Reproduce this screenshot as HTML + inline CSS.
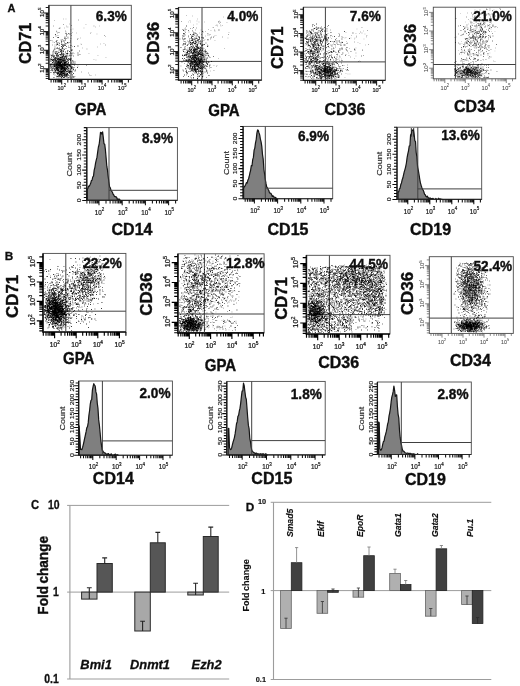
<!DOCTYPE html>
<html><head><meta charset="utf-8"><title>Figure</title>
<style>html,body{margin:0;padding:0;background:#fff}body{width:520px;height:686px;overflow:hidden;font-family:"Liberation Sans",sans-serif}svg{display:block}</style></head>
<body>
<svg width="520" height="686" viewBox="0 0 520 686" font-family='"Liberation Sans", sans-serif'>
<defs><filter id="bl" x="0" y="0" width="100%" height="100%" filterUnits="userSpaceOnUse"><feGaussianBlur stdDeviation="0.38"/></filter></defs>
<rect width="520" height="686" fill="#fff"/>
<g filter="url(#bl)">
<rect x="48.9" y="5.3" width="82.4" height="74.1" fill="#fff" stroke="#4a4a4a" stroke-width="0.9"/>
<path d="M48.9 5.3V79.4H131.3" stroke="#151515" stroke-width="1.3" fill="none"/>
<path d="M70.9 5.3V79.4M48.9 64.5H131.3" stroke="#404040" stroke-width="1" fill="none"/>
<path d="M61.7 79.4v5.0M81.9 79.4v5.0M102.1 79.4v5.0M122.3 79.4v5.0M51.1 79.4v3.2M53.7 79.4v3.2M55.6 79.4v3.2M57.2 79.4v3.2M58.6 79.4v3.2M59.7 79.4v3.2M60.8 79.4v3.2M67.8 79.4v3.2M71.3 79.4v3.2M73.9 79.4v3.2M75.8 79.4v3.2M77.4 79.4v3.2M78.8 79.4v3.2M79.9 79.4v3.2M81 79.4v3.2M88 79.4v3.2M91.5 79.4v3.2M94.1 79.4v3.2M96 79.4v3.2M97.6 79.4v3.2M99 79.4v3.2M100.1 79.4v3.2M101.2 79.4v3.2M108.2 79.4v3.2M111.7 79.4v3.2M114.3 79.4v3.2M116.2 79.4v3.2M117.8 79.4v3.2M119.2 79.4v3.2M120.3 79.4v3.2M121.4 79.4v3.2M128.4 79.4v3.2M48.9 68.8h-5.0M48.9 50.2h-5.0M48.9 31.6h-5.0M48.9 13h-5.0M48.9 78.5h-3.2M48.9 76.2h-3.2M48.9 74.4h-3.2M48.9 72.9h-3.2M48.9 71.7h-3.2M48.9 70.6h-3.2M48.9 69.7h-3.2M48.9 63.2h-3.2M48.9 59.9h-3.2M48.9 57.6h-3.2M48.9 55.8h-3.2M48.9 54.3h-3.2M48.9 53.1h-3.2M48.9 52h-3.2M48.9 51.1h-3.2M48.9 44.6h-3.2M48.9 41.3h-3.2M48.9 39h-3.2M48.9 37.2h-3.2M48.9 35.7h-3.2M48.9 34.5h-3.2M48.9 33.4h-3.2M48.9 32.5h-3.2M48.9 26h-3.2M48.9 22.7h-3.2M48.9 20.4h-3.2M48.9 18.6h-3.2M48.9 17.1h-3.2M48.9 15.9h-3.2M48.9 14.8h-3.2M48.9 13.9h-3.2M48.9 7.4h-3.2" stroke="#1a1a1a" stroke-width="1.05" fill="none"/>
<text transform="translate(61.7 90.3) scale(0.9 1)" font-size="6.2" fill="#111" stroke="#111" stroke-width="0.2" text-anchor="middle">10<tspan dy="-2.9" font-size="4.5">2</tspan></text>
<text transform="translate(81.9 90.3) scale(0.9 1)" font-size="6.2" fill="#111" stroke="#111" stroke-width="0.2" text-anchor="middle">10<tspan dy="-2.9" font-size="4.5">3</tspan></text>
<text transform="translate(102.1 90.3) scale(0.9 1)" font-size="6.2" fill="#111" stroke="#111" stroke-width="0.2" text-anchor="middle">10<tspan dy="-2.9" font-size="4.5">4</tspan></text>
<text transform="translate(122.3 90.3) scale(0.9 1)" font-size="6.2" fill="#111" stroke="#111" stroke-width="0.2" text-anchor="middle">10<tspan dy="-2.9" font-size="4.5">5</tspan></text>
<text transform="translate(43.9 68.1) scale(0.9 1) rotate(-90)" font-size="6.2" fill="#111" stroke="#111" stroke-width="0.2" text-anchor="middle">10<tspan dy="-2.9" font-size="4.5">2</tspan></text>
<text transform="translate(43.9 49.5) scale(0.9 1) rotate(-90)" font-size="6.2" fill="#111" stroke="#111" stroke-width="0.2" text-anchor="middle">10<tspan dy="-2.9" font-size="4.5">3</tspan></text>
<text transform="translate(43.9 30.9) scale(0.9 1) rotate(-90)" font-size="6.2" fill="#111" stroke="#111" stroke-width="0.2" text-anchor="middle">10<tspan dy="-2.9" font-size="4.5">4</tspan></text>
<text transform="translate(43.9 12.3) scale(0.9 1) rotate(-90)" font-size="6.2" fill="#111" stroke="#111" stroke-width="0.2" text-anchor="middle">10<tspan dy="-2.9" font-size="4.5">5</tspan></text>
<path d="M62.5 66h.9M55.5 65h.9M57.5 64h.9M51 55.5h.9M56.5 54h.9M60.5 68h.9M55.5 61h.9M59.5 62.5h.9M59 58h.9M63.5 72h.9M69.5 59h.9M57 73.5h.9M64 64h.9M61 77.5h.9M56 69h.9M68.5 71h.9M67 74h.9M68 62.5h.9M59 64h.9M59 67h.9M65.5 62.5h.9M64 65.5h.9M56.5 65.5h.9M65 70.5h.9M61 50.5h.9M63.5 59.5h.9M60 66.5h.9M54 64h.9M58.5 62h.9M60 62.5h.9M61 53.5h.9M62 60.5h.9M61 71.5h.9M61 65.5h.9M59.5 70h.9M63 55.5h.9M62.5 73.5h.9M67.5 61h.9M56.5 67h.9M56 60.5h.9M63.5 68.5h.9M54.5 68.5h.9M50.5 64.5h.9M63.5 70h.9M56.5 68.5h.9M60 65h.9M65.5 74h.9M65 52h.9M67.5 72h.9M61 65h.9M67 76h.9M58.5 67h.9M67.5 60h.9M55.5 65.5h.9M59.5 64h.9M57 56h.9M62.5 60.5h.9M56.5 68h.9M72 67h.9M60 65h.9M59.5 76.5h.9M61 69h.9M63 67.5h.9M59.5 54.5h.9M66.5 71.5h.9M73.5 67.5h.9M55.5 67h.9M56 69h.9M68.5 72.5h.9M61.5 70h.9M59 64.5h.9M51.5 59.5h.9M65.5 62.5h.9M53 72.5h.9M62 76.5h.9M57 70.5h.9M58.5 67h.9M58 61.5h.9M53 61.5h.9M58 56h.9M55.5 63.5h.9M61 69.5h.9M61.5 65.5h.9M59 74.5h.9M57.5 72.5h.9M56.5 76.5h.9M56 62h.9M50 61h.9M62 67.5h.9M62 56.5h.9M58.5 73.5h.9M53.5 66.5h.9M61 72.5h.9M67.5 64.5h.9M61 68.5h.9M55.5 63h.9M58 65.5h.9M55.5 58h.9M59 66h.9M58 65.5h.9M58.5 62.5h.9M64.5 70h.9M54.5 70h.9M68 68.5h.9M64.5 73h.9M62.5 54.5h.9M55 71h.9M62 76h.9M60.5 69.5h.9M60.5 54.5h.9M56 63.5h.9M60 62.5h.9M71 68.5h.9M65.5 67.5h.9M72.5 70h.9M60.5 65.5h.9M68 64h.9M61 59.5h.9M60 70.5h.9M59 75.5h.9M66 61.5h.9M60 59.5h.9M58.5 71h.9M59 72h.9M61 71h.9M58 71h.9M63.5 74.5h.9M58 62h.9M64 64h.9M53 57h.9M72.5 68.5h.9M59 65.5h.9M60.5 72h.9M73.5 77h.9M65.5 69.5h.9M60 51.5h.9M56.5 59h.9M52 70h.9M61.5 68.5h.9M60.5 64.5h.9M57.5 63.5h.9M57.5 59.5h.9M63.5 64h.9M61.5 78h.9M57.5 62.5h.9M69.5 66.5h.9M55.5 62.5h.9M50.5 65h.9M62 71.5h.9M63 71h.9M64 68.5h.9M62 64.5h.9M56.5 55h.9M59 71.5h.9M56.5 64.5h.9M50.5 66.5h.9M60.5 68h.9M55 59.5h.9M65.5 76h.9M61.5 75h.9M60.5 74h.9M73 62h.9M62.5 65.5h.9M62 66.5h.9M65.5 75h.9M57.5 73.5h.9M73 69.5h.9M62 63h.9M61.5 64.5h.9M58 60h.9M56.5 69.5h.9M74.5 71h.9M63.5 71.5h.9M69 65h.9M58.5 69h.9M66.5 71.5h.9M62 67.5h.9M61.5 74.5h.9M57 76.5h.9M65 62.5h.9M61.5 75.5h.9M60.5 63h.9M58.5 67.5h.9M65.5 62h.9M66.5 74h.9M63.5 58h.9M52 62.5h.9M63.5 73.5h.9M60 65h.9M57 68.5h.9M64 68.5h.9M70.5 66.5h.9M60 74h.9M59 62h.9M52.5 56h.9M52.5 54h.9M60.5 69h.9M64 65.5h.9M57 65h.9M54 66.5h.9M59.5 74.5h.9M58 76h.9M68.5 71h.9M55 63h.9M61.5 64.5h.9M53.5 77.5h.9M74 65h.9M58 66h.9M61 72h.9M62.5 69h.9M59.5 66h.9M57.5 62h.9M65.5 60h.9M75 70h.9M65 68h.9M57 68h.9M60.5 66h.9M56.5 64.5h.9M53.5 56.5h.9M57.5 60h.9M59 63h.9M61 66h.9M61.5 62.5h.9M69 73h.9M63.5 76h.9M65.5 65h.9M61 69.5h.9M52.5 62.5h.9M65 56.5h.9M62 64h.9M68.5 69h.9M67.5 75h.9M60 69h.9M61.5 73.5h.9M63.5 70.5h.9M50.5 72.5h.9M64 67.5h.9M74.5 62h.9M66.5 59.5h.9M65.5 74.5h.9M65 69h.9M66 75.5h.9M70.5 71.5h.9M52 60.5h.9M60 66h.9M62.5 67h.9M73 73.5h.9M60.5 67h.9M51.5 66h.9M64.5 60.5h.9M52.5 60.5h.9M63 61h.9M64 73h.9M58 58.5h.9M71.5 78h.9M65.5 56h.9M64.5 63h.9M60 71.5h.9M53.5 65.5h.9M54.5 58h.9M63 59h.9M67.5 62h.9M64 74.5h.9M56 67.5h.9M60 72h.9M60.5 66.5h.9M64 62.5h.9M66.5 56h.9M70 70h.9M64 64h.9M66 68.5h.9M60.5 76h.9M61 72h.9M54 72h.9M77 67.5h.9M58.5 78h.9M69 65.5h.9M57 59.5h.9M66 57h.9M69.5 59.5h.9M60 62h.9M64 63h.9M56.5 53h.9M58.5 65h.9M60.5 76.5h.9M59 64h.9M67 66.5h.9M52.5 52h.9M63.5 67h.9M59 74h.9M66.5 63.5h.9M61 62.5h.9M63.5 70.5h.9M65.5 76h.9M55.5 72.5h.9M50.5 68h.9M61.5 73h.9M59 64h.9M58 64.5h.9M59.5 61h.9M58.5 76h.9M68.5 75.5h.9M50 59h.9M56.5 58.5h.9M58 65h.9M55.5 61h.9M63 51h.9M56.5 64.5h.9M67 67.5h.9M67.5 65.5h.9M64.5 63.5h.9M61.5 56.5h.9M63.5 68.5h.9M61.5 71.5h.9M51.5 64h.9M69 73h.9M68.5 70.5h.9M58.5 61h.9M51.5 59h.9M60 74h.9M56.5 69h.9M62.5 68.5h.9M67 73.5h.9M60 55h.9M65.5 72h.9M64 58.5h.9M54 66.5h.9M54 60h.9M62.5 71.5h.9M68.5 66h.9M65 62h.9M58 62h.9M58 70h.9M57 73h.9M57 63.5h.9M62 59h.9M55 53h.9M59 64h.9M61.5 71h.9M60.5 58h.9M67 65h.9M66.5 71.5h.9M64 69.5h.9M63 73.5h.9M64 70h.9M70 71.5h.9M61 66h.9M57.5 70h.9M59.5 63h.9M69.5 59.5h.9M66 75h.9M71.5 63h.9M61.5 69h.9M64 76h.9M58 72.5h.9M65.5 65h.9M57 65h.9M57 53.5h.9M63 63h.9M62.5 58.5h.9M61 69.5h.9M69 71.5h.9M54 63h.9M53 59.5h.9M64 65h.9M57.5 68h.9M65 70.5h.9M60 57.5h.9M51.5 70h.9M54.5 59h.9M63 55h.9M55 53.5h.9M64.5 38h.9M61 52h.9M61 50h.9M70.5 64h.9M70 53h.9M64.5 64.5h.9M64.5 44h.9M64.5 60.5h.9M74 46.5h.9M69.5 34h.9M62 47.5h.9M62.5 45.5h.9M63.5 57h.9M66.5 53.5h.9M67.5 42.5h.9M51 59.5h.9M71.5 50h.9M66 58.5h.9M57 48h.9M55 34.5h.9M65.5 33.5h.9M56.5 44h.9M56.5 40.5h.9M62 48.5h.9M72 61h.9M54 49h.9M60 50h.9M70.5 45.5h.9M65 40h.9M77.5 46h.9M64.5 38.5h.9M58.5 52.5h.9M61 46.5h.9M61 52h.9M71.5 53.5h.9M58 37.5h.9M53 51h.9M77.5 53h.9M67 42.5h.9M69 51.5h.9M63 62h.9M77.5 55h.9M66.5 56h.9M65.5 43.5h.9M71.5 50h.9M62.5 44.5h.9M66.5 53.5h.9M57 44.5h.9" stroke="#000" stroke-opacity="0.88" stroke-width=".9" fill="none"/>
<path d="M68 65h.9M64 69.5h.9M57 68.5h.9M64.5 65.5h.9M56.5 58h.9M60 57.5h.9M53.5 50h.9M61.5 66h.9M59.5 75h.9M65.5 65h.9M56.5 78h.9M64.5 65h.9M59.5 68.5h.9M55 58.5h.9M53 74h.9M59 65h.9M61.5 69h.9M55.5 67h.9M67 73.5h.9M60.5 57h.9M72.5 64.5h.9M64 67h.9M59 59.5h.9M56.5 68.5h.9M64 73h.9M51.5 68.5h.9M61.5 53.5h.9M54 69.5h.9M71 73h.9M56.5 67h.9M57.5 67.5h.9M63 75.5h.9M54.5 58h.9M60.5 59h.9M58 66h.9M61.5 66h.9M59.5 63h.9M58 64h.9M63 56.5h.9M72.5 77h.9M58 73.5h.9M65.5 65h.9M62 68h.9M60.5 54.5h.9M62.5 72.5h.9M64 62.5h.9M61.5 66h.9M64.5 75.5h.9M54.5 60h.9M64.5 74h.9M61 67h.9M65 65.5h.9M72 76h.9M64 62h.9M60.5 68.5h.9M62.5 70h.9M65.5 65h.9M61.5 65h.9M63 77.5h.9M61 62h.9M60.5 59h.9M71 71.5h.9M64.5 67.5h.9M53.5 64.5h.9M68.5 64.5h.9M59 74.5h.9M57 61.5h.9M60.5 64.5h.9M61.5 68h.9M71.5 67.5h.9M63 70.5h.9M50.5 55h.9M53 68h.9M58.5 58.5h.9M61.5 74.5h.9M62 72h.9M54 56h.9M63 59h.9M55.5 66h.9M65 62.5h.9M64 56.5h.9M58 63.5h.9M65.5 65h.9M60.5 73h.9M60.5 78h.9M62.5 60.5h.9M56 67.5h.9M61 58h.9M61.5 68h.9M53.5 57.5h.9M57.5 71.5h.9M66 58h.9M50.5 63.5h.9M60.5 64h.9M58.5 59h.9M59.5 61.5h.9M56 67.5h.9M62 71h.9M62 68h.9M51 67.5h.9M62 67h.9M56 65.5h.9M55.5 69h.9M59 66h.9M63.5 69.5h.9M70 66h.9M64 77.5h.9M62.5 69h.9M59.5 74.5h.9M64.5 65h.9M67.5 69h.9M57.5 70.5h.9M56 55.5h.9M63.5 65h.9M65 74h.9M60 63h.9M68 66h.9M56.5 76h.9M60.5 60.5h.9M63 60.5h.9M57.5 69.5h.9M62.5 66.5h.9M64 77h.9M51 57.5h.9M55.5 65.5h.9M62.5 73h.9M66 74h.9M63 64.5h.9M61 71.5h.9M58 62h.9M62.5 49h.9M67 66.5h.9M53.5 55.5h.9M55 71h.9M57.5 55h.9M67.5 74.5h.9M67 60h.9M61 66h.9M61 64.5h.9M60 63.5h.9M57.5 73h.9M62.5 68h.9M59 68h.9M62.5 61h.9M53.5 66h.9M61.5 61.5h.9M61 57.5h.9M62.5 69h.9M66 74.5h.9M57.5 57h.9M55.5 69h.9M57.5 67h.9M58.5 68h.9M66 65h.9M57.5 73.5h.9M54.5 61h.9M56.5 57h.9M60.5 72.5h.9M61.5 75.5h.9M64 71.5h.9M70 65h.9M59 60.5h.9M66 68.5h.9M65.5 65h.9M63.5 56h.9M68 64h.9M50 66h.9M60.5 75.5h.9M65.5 68.5h.9M61.5 61.5h.9M66 66.5h.9M61.5 72.5h.9M73 77h.9M66.5 70h.9M65.5 68.5h.9M59.5 50h.9M56.5 66h.9M57.5 70.5h.9M63.5 65.5h.9M62.5 73.5h.9M64 65h.9M61.5 74h.9M62.5 63.5h.9M61.5 67h.9M52 67h.9M58.5 70h.9M56 73h.9M61.5 71h.9M65 63h.9M73 64h.9M58.5 76h.9M57.5 61h.9M64 60.5h.9M61.5 73h.9M71 67h.9M57.5 59.5h.9M58 67.5h.9M62.5 67h.9M56.5 61h.9M69.5 59h.9M64 71.5h.9M64.5 68.5h.9M57.5 73.5h.9M64 75.5h.9M50 64.5h.9M66.5 64.5h.9M56.5 73h.9M68 58.5h.9M61.5 66h.9M67 68h.9M64 66h.9M52 55.5h.9M61.5 64h.9M56.5 65h.9M52 68.5h.9M57 66.5h.9M64.5 62h.9M65 64h.9M53.5 56h.9M63 73.5h.9M57 66.5h.9M71 68h.9M68.5 69h.9M57.5 56h.9M66.5 58h.9M57.5 62.5h.9M60 59.5h.9M68.5 56h.9M54.5 65h.9M56 64.5h.9M65.5 66.5h.9M61.5 61.5h.9M67 70h.9M57.5 63h.9M69.5 77h.9M57.5 69.5h.9M65 65h.9M63.5 54h.9M61 61h.9M55 70.5h.9M62 54h.9M66.5 74.5h.9M65.5 58h.9M57.5 58.5h.9M64 69h.9M53.5 63h.9M52.5 59.5h.9M50.5 59.5h.9M63.5 67h.9M63.5 68.5h.9M54 73h.9M64.5 63.5h.9M69 71.5h.9M62 57.5h.9M57 68.5h.9M67 64.5h.9M57.5 74.5h.9M54.5 66.5h.9M69.5 65h.9M63 60.5h.9M63 68h.9M52.5 66h.9M56.5 67h.9M63.5 66.5h.9M65.5 54h.9M60 59h.9M61.5 65h.9M63.5 69.5h.9M52.5 71h.9M65 56h.9M62 59.5h.9M58 65h.9M61 60h.9M57.5 60h.9M59.5 64h.9M71 67.5h.9M58 70.5h.9M57 62.5h.9M55.5 72h.9M62.5 52h.9M61.5 69.5h.9M59.5 68h.9M57 74.5h.9M69 65h.9M67 64h.9M63.5 73h.9M56 68h.9M62 71h.9M51.5 56.5h.9M60.5 73h.9M63 71h.9M58 70.5h.9M61.5 66h.9M62 57.5h.9M57.5 58.5h.9M65.5 61.5h.9M55.5 61.5h.9M66.5 77.5h.9M59.5 62h.9M55 60.5h.9M70.5 60h.9M58 64.5h.9M59.5 63h.9M60.5 65.5h.9M63 64.5h.9M54 59h.9M62.5 68.5h.9M51.5 70.5h.9M52.5 60.5h.9M59 59.5h.9M65 69.5h.9M67 67.5h.9M63.5 75h.9M65 76h.9M57 68.5h.9M56.5 51.5h.9M59 72h.9M54.5 75h.9M58.5 73.5h.9M70.5 59h.9M56 62h.9M56 66h.9M64 61h.9M67.5 78h.9M60.5 57.5h.9M64.5 59.5h.9M57 65h.9M61 74.5h.9M62.5 63.5h.9M60 49.5h.9M67 53.5h.9M60.5 60h.9M69.5 72.5h.9M61.5 67.5h.9M56 70.5h.9M53.5 64h.9M59.5 60h.9M68.5 72.5h.9M63 77.5h.9M64 57.5h.9M67.5 67h.9M70.5 62h.9M54.5 66h.9M59 59.5h.9M54 65.5h.9M60.5 65h.9M64 74h.9M60 63h.9M63.5 68h.9M54 66h.9M57.5 65h.9M69.5 68h.9M60.5 67.5h.9M61 55h.9M61 68.5h.9M71.5 75h.9M57.5 63h.9M58 55.5h.9M60 74h.9M61.5 72.5h.9M68 77.5h.9M59 59h.9M71.5 77h.9M60 63h.9M74.5 63.5h.9M60.5 61.5h.9M54.5 47h.9M63.5 40.5h.9M63.5 54.5h.9M73 56h.9M70 60.5h.9M59.5 28h.9M61 42h.9M56 41.5h.9M70 41h.9M67 51h.9M67.5 59.5h.9M61 49h.9M54.5 52h.9M63.5 49h.9M56 45h.9M68 33.5h.9M66.5 34.5h.9M63 53.5h.9M64.5 37h.9M67.5 63.5h.9M66 46.5h.9M68 60.5h.9M58.5 50h.9M60 60.5h.9M71.5 55h.9M59 49h.9M64.5 45h.9M67 53h.9M79 51h.9M64 45.5h.9M61.5 40h.9M70.5 55.5h.9M56.5 42.5h.9M61 44.5h.9M60 59.5h.9M67.5 50.5h.9M70.5 58.5h.9M63.5 41.5h.9M57 37.5h.9M61.5 55h.9M59 43.5h.9M58.5 32.5h.9M65.5 48.5h.9M55 57.5h.9M79.5 54.5h.9M62 57h.9M63 46.5h.9M57 44h.9M63 65h.9M60.5 52h.9M67.5 38h.9M68 59h.9M61 42h.9M53 37.5h.9M71 50.5h.9M63 51.5h.9M62.5 45.5h.9M59 48h.9M55.5 36h.9M66 36h.9M62 56h.9M64 49.5h.9M69.5 47.5h.9M58.5 45h.9M62.5 46h.9M65 45.5h.9M67 54h.9M69.5 42.5h.9" stroke="#000" stroke-opacity="0.65" stroke-width=".9" fill="none"/>
<path d="M56.5 66h.9M56 56.5h.9M62 67h.9M64 66h.9M59 63h.9M60 63.5h.9M64.5 65.5h.9M56.5 61.5h.9M60 65.5h.9M57.5 69.5h.9M58.5 68h.9M60.5 58h.9M61 75h.9M63.5 73h.9M59 64.5h.9M53 60.5h.9M61.5 76.5h.9M61.5 68.5h.9M67 73.5h.9M66 69h.9M67.5 71h.9M66.5 68.5h.9M51 61h.9M61 65h.9M52.5 63h.9M63 65.5h.9M55 61h.9M58 69h.9M66 63h.9M51 69.5h.9M52 45h.9M61.5 58.5h.9M65 60h.9M58 58h.9M55 68.5h.9M61.5 68.5h.9M68.5 64.5h.9M58.5 63.5h.9M63 71h.9M64 59.5h.9M53.5 59.5h.9M57.5 65h.9M58 69h.9M66.5 66.5h.9M63.5 67h.9M56 69.5h.9M67 75h.9M53.5 70h.9M64 64.5h.9M53 68.5h.9M57.5 54h.9M55.5 60h.9M59 71.5h.9M57.5 71h.9M56.5 57.5h.9M58.5 75h.9M60.5 66h.9M56.5 63.5h.9M59 57h.9M62.5 68h.9M54.5 72.5h.9M63.5 68h.9M55.5 58.5h.9M55 66.5h.9M62 61h.9M62.5 65.5h.9M55 51.5h.9M65 72h.9M58.5 60h.9M64.5 64h.9M52.5 64h.9M66 73h.9M62.5 74h.9M60 67.5h.9M60 73.5h.9M62 65h.9M72.5 60.5h.9M59.5 54.5h.9M58.5 63h.9M74.5 76.5h.9M65.5 64h.9M65.5 70h.9M61.5 72h.9M53.5 67.5h.9M66.5 55h.9M60 63h.9M55.5 55h.9M65.5 71h.9M57 67h.9M60 71.5h.9M56.5 55h.9M55.5 67h.9M57.5 72.5h.9M65.5 67.5h.9M63.5 66h.9M59 62h.9M65 57h.9M55 67.5h.9M58.5 67h.9M52.5 54.5h.9M62.5 71.5h.9M66 64.5h.9M62 74h.9M58.5 71h.9M70 60.5h.9M50 68h.9M55 70.5h.9M57 69h.9M63 72.5h.9M51.5 61h.9M60 72.5h.9M53.5 68h.9M61 68.5h.9M64.5 71.5h.9M58.5 66h.9M54.5 65h.9M57 67.5h.9M66 64h.9M60.5 61.5h.9M62 68.5h.9M64.5 75h.9M55 64h.9M62.5 70h.9M67 69.5h.9M59.5 57h.9M58.5 63.5h.9M54 68.5h.9M54.5 70h.9M57.5 65h.9M69.5 73h.9M68.5 71.5h.9M61.5 75.5h.9M63.5 60.5h.9M60.5 66.5h.9M54.5 70h.9M66.5 74h.9M60 63h.9M65.5 66.5h.9M63 61.5h.9M66 76.5h.9M66 67h.9M58 68h.9M59.5 65.5h.9M54 58.5h.9M65 69.5h.9M62.5 64h.9M50 65.5h.9M72 74.5h.9M64.5 77h.9M60.5 65.5h.9M58 61.5h.9M61 61h.9M54 62h.9M69 77h.9M55 57.5h.9M64 62h.9M66 64.5h.9M55 62h.9M72 72h.9M61.5 65.5h.9M64 65h.9M59 65.5h.9M62 71.5h.9M56 48.5h.9M57.5 70h.9M61 67h.9M64 62h.9M68 67.5h.9M60.5 67.5h.9M56 55.5h.9M54 61h.9M57.5 70h.9M60.5 61h.9M60.5 59.5h.9M64 62.5h.9M55.5 72h.9M58 62.5h.9M61.5 59.5h.9M50 70.5h.9M59.5 72h.9M72 72h.9M62 76.5h.9M60 74.5h.9M53 59h.9M65 60h.9M72 64h.9M63 68h.9M61 74h.9M58.5 62h.9M58.5 74.5h.9M65 68h.9M65 70h.9M65.5 76.5h.9M64 62h.9M59.5 66h.9M58.5 76.5h.9M61 67.5h.9M58.5 60h.9M55.5 60h.9M63.5 44.5h.9M58 48.5h.9M57.5 35.5h.9M58 52h.9M64 59h.9M62.5 46.5h.9M56.5 54.5h.9M72.5 52.5h.9M52.5 42h.9M61.5 52h.9M55 49h.9M54.5 45h.9M64 63.5h.9M67.5 43.5h.9M64 42.5h.9M69 55h.9M56 53h.9M56 51.5h.9M61.5 44h.9M67.5 37h.9M67 51.5h.9M68.5 53.5h.9M59.5 66h.9M62.5 50.5h.9M61 41h.9M50 40.5h.9M54 42.5h.9M51.5 40.5h.9M70.5 38.5h.9M68 47.5h.9M57.5 43h.9M55.5 41.5h.9M65 58h.9M57.5 48.5h.9M61 44h.9M58.5 52.5h.9M60.5 40h.9M56.5 48h.9M59 45.5h.9M63.5 57h.9M65.5 57h.9M58.5 42.5h.9M61.5 41.5h.9M53.5 53h.9M62 51h.9M61.5 47h.9M66 38.5h.9M68 46h.9M67 61.5h.9M69 55.5h.9M78 20h.9M57 33h.9M53 26h.9M71 25.5h.9M65.5 32h.9M65 31h.9M66 35h.9M71 35.5h.9M63 24.5h.9M77.5 38.5h.9M104 35.5h.9M77 39.5h.9M98.5 17.5h.9M105 45h.9M73.5 53.5h.9M93.5 26h.9M86.5 49h.9M77.5 66h.9M88 73h.9M90.5 75.5h.9M81 72h.9M86 65.5h.9M89 75h.9" stroke="#000" stroke-opacity="0.42" stroke-width=".9" fill="none"/>
<path d="M70.5 31h.9M63 19h.9M66 33.5h.9M56.5 32h.9M76 33h.9M82 48h.9M58.5 28.5h.9M72 32.5h.9M70.5 29.5h.9M65.5 44h.9M56 31h.9M80 38h.9M62 39.5h.9M64 28h.9M69 24h.9M66.5 27h.9M56 31.5h.9M63.5 40h.9M71 33.5h.9M54 20.5h.9M59 28.5h.9M65.5 19h.9M67.5 27h.9M66 26h.9M68.5 34h.9M90.5 32.5h.9M99 26h.9M96.5 34h.9M72.5 29h.9M88.5 53.5h.9M81 44.5h.9M72 46.5h.9M100 44h.9M83.5 28h.9M90 33.5h.9M78 55h.9M93.5 59.5h.9M85.5 24.5h.9M101 16.5h.9M95.5 60h.9M97.5 55.5h.9M80.5 44h.9M103.5 43.5h.9M105.5 57.5h.9M95 27h.9M105 36.5h.9M97 47h.9M95 75h.9M71.5 74.5h.9" stroke="#000" stroke-opacity="0.28" stroke-width=".9" fill="none"/>
<text transform="translate(111.3 20.7) scale(0.92 1)" font-size="14.8" font-weight="bold" font-style="normal" fill="#111" stroke="#111" stroke-width="0.4" text-anchor="middle">6.3%</text>
<text transform="translate(30.5 43.4) scale(0.98 1) rotate(-90)" font-size="16.2" font-weight="bold" font-style="normal" fill="#111" stroke="#111" stroke-width="0.4" text-anchor="middle">CD71</text>
<text transform="translate(90.7 114.8) scale(0.9 1)" font-size="16.7" font-weight="bold" font-style="normal" fill="#111" stroke="#111" stroke-width="0.4" text-anchor="middle">GPA</text>
<text transform="translate(11.4 11.9)" font-size="11" font-weight="bold" font-style="normal" fill="#111" stroke="#111" stroke-width="0.3" text-anchor="middle">A</text>
<rect x="178.5" y="7.4" width="83.1" height="72.8" fill="#fff" stroke="#4a4a4a" stroke-width="0.9"/>
<path d="M178.5 7.4V80.2H261.6" stroke="#151515" stroke-width="1.3" fill="none"/>
<path d="M202 7.4V80.2M178.5 61.4H261.6" stroke="#404040" stroke-width="1" fill="none"/>
<path d="M191.7 80.2v5.0M212 80.2v5.0M232.3 80.2v5.0M252.6 80.2v5.0M181.1 80.2v3.2M183.6 80.2v3.2M185.6 80.2v3.2M187.2 80.2v3.2M188.6 80.2v3.2M189.7 80.2v3.2M190.8 80.2v3.2M197.8 80.2v3.2M201.4 80.2v3.2M203.9 80.2v3.2M205.9 80.2v3.2M207.5 80.2v3.2M208.9 80.2v3.2M210 80.2v3.2M211.1 80.2v3.2M218.1 80.2v3.2M221.7 80.2v3.2M224.2 80.2v3.2M226.2 80.2v3.2M227.8 80.2v3.2M229.2 80.2v3.2M230.3 80.2v3.2M231.4 80.2v3.2M238.4 80.2v3.2M242 80.2v3.2M244.5 80.2v3.2M246.5 80.2v3.2M248.1 80.2v3.2M249.5 80.2v3.2M250.6 80.2v3.2M251.7 80.2v3.2M258.7 80.2v3.2M178.5 70h-5.0M178.5 51.4h-5.0M178.5 32.8h-5.0M178.5 14.2h-5.0M178.5 79.7h-3.2M178.5 77.4h-3.2M178.5 75.6h-3.2M178.5 74.1h-3.2M178.5 72.9h-3.2M178.5 71.8h-3.2M178.5 70.9h-3.2M178.5 64.4h-3.2M178.5 61.1h-3.2M178.5 58.8h-3.2M178.5 57h-3.2M178.5 55.5h-3.2M178.5 54.3h-3.2M178.5 53.2h-3.2M178.5 52.3h-3.2M178.5 45.8h-3.2M178.5 42.5h-3.2M178.5 40.2h-3.2M178.5 38.4h-3.2M178.5 36.9h-3.2M178.5 35.7h-3.2M178.5 34.6h-3.2M178.5 33.7h-3.2M178.5 27.2h-3.2M178.5 23.9h-3.2M178.5 21.6h-3.2M178.5 19.8h-3.2M178.5 18.3h-3.2M178.5 17.1h-3.2M178.5 16h-3.2M178.5 15.1h-3.2M178.5 8.6h-3.2" stroke="#1a1a1a" stroke-width="1.05" fill="none"/>
<text transform="translate(191.7 92) scale(0.9 1)" font-size="6.2" fill="#111" stroke="#111" stroke-width="0.2" text-anchor="middle">10<tspan dy="-2.9" font-size="4.5">2</tspan></text>
<text transform="translate(212 92) scale(0.9 1)" font-size="6.2" fill="#111" stroke="#111" stroke-width="0.2" text-anchor="middle">10<tspan dy="-2.9" font-size="4.5">3</tspan></text>
<text transform="translate(232.3 92) scale(0.9 1)" font-size="6.2" fill="#111" stroke="#111" stroke-width="0.2" text-anchor="middle">10<tspan dy="-2.9" font-size="4.5">4</tspan></text>
<text transform="translate(252.6 92) scale(0.9 1)" font-size="6.2" fill="#111" stroke="#111" stroke-width="0.2" text-anchor="middle">10<tspan dy="-2.9" font-size="4.5">5</tspan></text>
<text transform="translate(173.5 69.3) scale(0.9 1) rotate(-90)" font-size="6.2" fill="#111" stroke="#111" stroke-width="0.2" text-anchor="middle">10<tspan dy="-2.9" font-size="4.5">2</tspan></text>
<text transform="translate(173.5 50.7) scale(0.9 1) rotate(-90)" font-size="6.2" fill="#111" stroke="#111" stroke-width="0.2" text-anchor="middle">10<tspan dy="-2.9" font-size="4.5">3</tspan></text>
<text transform="translate(173.5 32.1) scale(0.9 1) rotate(-90)" font-size="6.2" fill="#111" stroke="#111" stroke-width="0.2" text-anchor="middle">10<tspan dy="-2.9" font-size="4.5">4</tspan></text>
<text transform="translate(173.5 13.5) scale(0.9 1) rotate(-90)" font-size="6.2" fill="#111" stroke="#111" stroke-width="0.2" text-anchor="middle">10<tspan dy="-2.9" font-size="4.5">5</tspan></text>
<path d="M199.5 60.5h.9M201 56h.9M197 64.5h.9M202.5 68h.9M198.5 71.5h.9M205.5 51.5h.9M194 66h.9M194 67h.9M203.5 44.5h.9M195 52h.9M196.5 64.5h.9M194 50.5h.9M198 54h.9M191 61h.9M201 67.5h.9M193.5 59h.9M191.5 63h.9M200.5 50h.9M190.5 60.5h.9M199.5 62h.9M190.5 71h.9M208 62h.9M190.5 68.5h.9M190 66.5h.9M199.5 57.5h.9M192 68h.9M188.5 57h.9M188.5 58h.9M186 55h.9M195.5 69.5h.9M188.5 68h.9M188.5 60.5h.9M198.5 54h.9M193 62h.9M191.5 70h.9M196.5 53.5h.9M204.5 51h.9M186 53h.9M199.5 61.5h.9M200 49.5h.9M195 54.5h.9M199.5 63.5h.9M201.5 45h.9M194 66h.9M184.5 55h.9M196 49.5h.9M191.5 59h.9M200.5 71h.9M192 62h.9M193.5 57.5h.9M182 55.5h.9M189.5 58h.9M193 56h.9M187 52.5h.9M196 60h.9M206 59h.9M194.5 62h.9M203 65h.9M186 60.5h.9M190.5 58h.9M202.5 66.5h.9M201 59.5h.9M190 56.5h.9M187.5 51h.9M190 56h.9M196 63h.9M204.5 65h.9M200 61.5h.9M200 54.5h.9M195 64h.9M198 57.5h.9M191.5 64.5h.9M200 74.5h.9M197 69h.9M182 58.5h.9M187 73h.9M192 67.5h.9M199.5 62.5h.9M193.5 68.5h.9M194 57.5h.9M199 39h.9M203.5 72h.9M197 59h.9M191 70h.9M196 58h.9M187.5 65.5h.9M191 61.5h.9M195 55.5h.9M199.5 54h.9M199.5 54h.9M200 59.5h.9M192 57.5h.9M196.5 51h.9M209 66h.9M199 71h.9M192.5 59.5h.9M197 44.5h.9M192 48h.9M202 76.5h.9M200 68.5h.9M199.5 68h.9M195 49.5h.9M182.5 45h.9M194 60.5h.9M193 78h.9M194 47.5h.9M199 51h.9M188 56h.9M200 66h.9M189 69h.9M184 75h.9M209.5 65h.9M207 64.5h.9M199.5 61.5h.9M195 57.5h.9M194.5 60h.9M202 50h.9M194.5 56.5h.9M197 78.5h.9M198.5 61h.9M203 64.5h.9M197 64.5h.9M192.5 56.5h.9M192.5 54h.9M201.5 63h.9M200 68.5h.9M194 62.5h.9M206.5 53h.9M192.5 63.5h.9M200 59h.9M195.5 64h.9M202.5 67.5h.9M198 58.5h.9M194.5 65h.9M199.5 66.5h.9M198.5 73.5h.9M204.5 66h.9M194 69.5h.9M194.5 69.5h.9M196.5 55h.9M187.5 61h.9M190.5 61.5h.9M198 67.5h.9M211 61.5h.9M198 70.5h.9M206 61h.9M199 63.5h.9M198 64.5h.9M189 59.5h.9M197.5 66h.9M193.5 52.5h.9M196 71h.9M201 72.5h.9M194.5 49h.9M191 58.5h.9M197 49.5h.9M201.5 54.5h.9M201 59h.9M190 53h.9M202.5 54h.9M199 63h.9M196.5 64h.9M192 56h.9M195 61.5h.9M193.5 60h.9M195 52.5h.9M199 62h.9M202 45h.9M197.5 69.5h.9M191 69h.9M196.5 59.5h.9M195.5 57.5h.9M195 64.5h.9M190 63h.9M192.5 67h.9M197 65h.9M186 71h.9M188 65.5h.9M192.5 62.5h.9M195.5 66.5h.9M190 57h.9M205.5 55.5h.9M193 75h.9M203.5 51.5h.9M195 61h.9M194 59h.9M198.5 59.5h.9M206.5 63h.9M197.5 71.5h.9M183 51.5h.9M194.5 70h.9M198.5 63.5h.9M191 55.5h.9M200.5 60.5h.9M198.5 65.5h.9M193 58.5h.9M198 52.5h.9M199 76.5h.9M190.5 65.5h.9M203 62h.9M188.5 71.5h.9M200.5 68.5h.9M194 51.5h.9M199.5 61.5h.9M190 64h.9M190.5 44.5h.9M199 64h.9M188.5 59.5h.9M198.5 63.5h.9M197.5 67h.9M190 50h.9M194 55.5h.9M193.5 49.5h.9M189.5 57h.9M185.5 60.5h.9M195 56h.9M187 52h.9M199.5 54.5h.9M195.5 38.5h.9M187.5 60.5h.9M198 56h.9M194.5 73h.9M190.5 62.5h.9M186 60h.9M208.5 75.5h.9M195.5 67h.9M193 57h.9M192 40.5h.9M184 58.5h.9M201.5 71.5h.9M193 52h.9M200 68h.9M200 50.5h.9M192 68h.9M201.5 61.5h.9M195 61h.9M190 66h.9M197 56.5h.9M202 68.5h.9M191 52h.9M198 62.5h.9M202 55.5h.9M194 56h.9M195.5 69h.9M193.5 66h.9M196.5 55h.9M194 70h.9M188 61h.9M201 73.5h.9M196 72.5h.9M196.5 61.5h.9M194.5 70h.9M195 68.5h.9M193 46h.9M189 52h.9M202.5 66h.9M195.5 55h.9M200.5 61.5h.9M195 57.5h.9M192.5 47.5h.9M201.5 69.5h.9M184 55.5h.9M184.5 55h.9M204.5 68.5h.9M202 55.5h.9M188.5 66h.9M193.5 55h.9M194.5 66.5h.9M202 71h.9M195.5 71.5h.9M192 59h.9M202.5 50h.9M200.5 67h.9M187 65h.9M190.5 65h.9M189.5 64h.9M195.5 69h.9M190 65.5h.9M199 53.5h.9M202 61h.9M188.5 51.5h.9M194 54.5h.9M194 64.5h.9M202 71.5h.9M181.5 62h.9M198.5 51h.9M191 53h.9M202.5 61.5h.9M197 69.5h.9M188.5 51h.9M192.5 66.5h.9M208 55.5h.9M191 52h.9M196.5 69.5h.9M198 72h.9M191.5 70.5h.9M192 63h.9M200 61.5h.9M195 71.5h.9M193 53h.9M194.5 65.5h.9M187.5 63h.9M198.5 64.5h.9M188.5 54h.9M198.5 59h.9M193 64h.9M196.5 52.5h.9M196.5 69h.9M199 68h.9M185.5 69h.9M201 58h.9M196.5 51h.9M195 67h.9M207 73h.9M198 66.5h.9M197.5 53.5h.9M201.5 63h.9M200.5 71.5h.9M207 64h.9M204 62h.9M198 48h.9M197.5 60.5h.9M195 58h.9M186 72.5h.9M194 67.5h.9M186.5 52.5h.9M203.5 58h.9M191.5 66h.9M198 66.5h.9M197.5 48.5h.9M194.5 44h.9M193.5 58h.9M189 49.5h.9M199 39h.9M194.5 50.5h.9M196 46.5h.9M196 55.5h.9M199 37.5h.9M187.5 44.5h.9M191 49.5h.9M184.5 41.5h.9M192.5 40h.9M192.5 36h.9M196 59h.9M193 34.5h.9M188.5 54h.9M194.5 43.5h.9M194.5 38h.9M193 50.5h.9M195.5 50h.9M194.5 39.5h.9M185 44h.9M192.5 43.5h.9M197 40.5h.9M191 40.5h.9M207.5 53.5h.9M197 48h.9M195 43.5h.9M195 41.5h.9M183 33.5h.9M197.5 47h.9M184.5 35h.9M190.5 57.5h.9M192.5 42.5h.9M191.5 39h.9M192.5 34.5h.9M183 30.5h.9M201.5 50.5h.9M200.5 53h.9M191 37.5h.9M190 34.5h.9M197 47h.9M196.5 44.5h.9M192.5 50.5h.9M196 42h.9M197 45.5h.9M203 38h.9M202 31.5h.9M198.5 36.5h.9M197 47h.9M200 41h.9M190.5 42.5h.9M195.5 62.5h.9M192 53.5h.9M184.5 38.5h.9M200 47.5h.9M194.5 33h.9M193 42h.9M190 44.5h.9M182.5 36h.9M188.5 43h.9M200 43.5h.9M198.5 42h.9M201.5 45.5h.9M186 26h.9M184.5 49.5h.9M201.5 37.5h.9M196 59h.9M183.5 49.5h.9M180.5 47.5h.9M197 35h.9M195.5 40.5h.9M207 46.5h.9M196.5 38.5h.9M191 46.5h.9M197.5 39.5h.9M191.5 38.5h.9M193 33h.9M200 58h.9M190 42.5h.9M194.5 55.5h.9M192 42.5h.9M183 44h.9M182.5 39h.9M184.5 43.5h.9" stroke="#000" stroke-opacity="0.88" stroke-width=".9" fill="none"/>
<path d="M198.5 60.5h.9M201 63h.9M202.5 60.5h.9M193 77.5h.9M192 43h.9M194 43.5h.9M194.5 71h.9M193 66h.9M191.5 59h.9M187.5 65.5h.9M190.5 51h.9M195 57h.9M195 70.5h.9M201 55h.9M204 57h.9M193 58h.9M196 36h.9M206.5 66.5h.9M192.5 55.5h.9M199.5 69h.9M195 50h.9M194 65h.9M186.5 50h.9M190 67.5h.9M195.5 58.5h.9M193.5 68h.9M196.5 55.5h.9M200.5 61h.9M194 51h.9M189 61h.9M193 50h.9M198 64h.9M194 49h.9M192 68.5h.9M207.5 46h.9M200 62.5h.9M206.5 63.5h.9M198.5 64.5h.9M200 68.5h.9M208.5 62.5h.9M202.5 67h.9M197 54h.9M195.5 49.5h.9M186 66.5h.9M193 64h.9M205.5 54h.9M197 51.5h.9M188.5 59.5h.9M203.5 55h.9M199 63h.9M197 55h.9M201 54.5h.9M206 70h.9M205 52h.9M198.5 58.5h.9M194.5 61.5h.9M199.5 51h.9M206 62.5h.9M200.5 54h.9M193 70h.9M205.5 65.5h.9M190.5 63.5h.9M192 61.5h.9M185.5 59.5h.9M194.5 68.5h.9M186.5 56.5h.9M193 52h.9M200.5 54.5h.9M192.5 58h.9M203.5 59.5h.9M192.5 53.5h.9M200.5 74.5h.9M198.5 54h.9M189 48.5h.9M183 76.5h.9M198 54.5h.9M198.5 53h.9M192 52.5h.9M203.5 59h.9M192.5 69.5h.9M202 54h.9M195.5 71h.9M190.5 52h.9M198 54h.9M197.5 65.5h.9M187 52.5h.9M200 75h.9M196.5 58.5h.9M185 68.5h.9M190.5 59.5h.9M190.5 52h.9M190.5 50h.9M199 65h.9M194 56.5h.9M200.5 59.5h.9M200.5 60.5h.9M184.5 52h.9M195.5 61h.9M194 51.5h.9M198.5 59h.9M190.5 56.5h.9M193.5 70.5h.9M196.5 65h.9M197 63h.9M198 61h.9M186 54.5h.9M202 77h.9M191.5 68.5h.9M196 55.5h.9M213 56.5h.9M196 59.5h.9M191 78h.9M197.5 76.5h.9M182.5 70h.9M197 66.5h.9M199 51h.9M200 66h.9M188 62.5h.9M200.5 48.5h.9M197.5 66.5h.9M195 57.5h.9M193.5 61.5h.9M189 51.5h.9M195.5 59h.9M200 71h.9M196 63.5h.9M187.5 51h.9M196 59.5h.9M196.5 52.5h.9M197.5 77h.9M194 59.5h.9M199.5 65h.9M202.5 73.5h.9M199.5 62h.9M186.5 57.5h.9M201 68.5h.9M204.5 59h.9M198.5 65.5h.9M201.5 74.5h.9M190.5 61.5h.9M192 45h.9M201 52h.9M203.5 67.5h.9M189.5 64h.9M189.5 57h.9M185.5 61.5h.9M199.5 61h.9M198 59.5h.9M186 55.5h.9M195 69.5h.9M195 60.5h.9M203 56h.9M205.5 69h.9M186.5 66h.9M204 59.5h.9M186.5 57.5h.9M193 53h.9M183.5 60.5h.9M192 55h.9M206 63h.9M195.5 60h.9M194.5 62h.9M197 69h.9M188.5 56.5h.9M195 61.5h.9M206.5 53.5h.9M199 60h.9M189 63h.9M197 64h.9M202.5 63h.9M190 65h.9M197 78.5h.9M200 70.5h.9M194.5 62h.9M197.5 69.5h.9M192 70h.9M195.5 66h.9M196 62.5h.9M186.5 73h.9M191 75.5h.9M190.5 47h.9M193.5 61.5h.9M197 63.5h.9M192 74h.9M193.5 54h.9M193.5 42h.9M197 55.5h.9M198 47.5h.9M196.5 73.5h.9M199.5 41.5h.9M201.5 58h.9M193.5 61h.9M203 55.5h.9M192.5 61h.9M202 63h.9M199.5 56.5h.9M190 69h.9M187 45.5h.9M195 46h.9M192.5 64.5h.9M194 64h.9M194 53h.9M194 62h.9M206.5 66h.9M191 43.5h.9M183 60h.9M199.5 62.5h.9M192 55.5h.9M191 49.5h.9M195.5 65h.9M193.5 52h.9M185 55h.9M192 67.5h.9M191 63h.9M194.5 62.5h.9M196.5 66.5h.9M190.5 63h.9M195.5 56h.9M187 54.5h.9M190 50.5h.9M200 72h.9M200.5 66h.9M191.5 63h.9M190 60h.9M185.5 71.5h.9M208.5 56.5h.9M202.5 59.5h.9M198.5 59h.9M193.5 62h.9M192 57.5h.9M196 49h.9M193.5 59h.9M189.5 63.5h.9M183 71h.9M199.5 56.5h.9M203.5 67h.9M197 58.5h.9M198 60.5h.9M197 55h.9M202.5 69h.9M200 64.5h.9M195.5 58.5h.9M202 52h.9M205.5 51.5h.9M206.5 66.5h.9M201.5 48h.9M203 57h.9M201.5 64h.9M209.5 57.5h.9M194 67.5h.9M191.5 65h.9M195 56h.9M192.5 69.5h.9M200 52.5h.9M198 54.5h.9M201 79h.9M199 51.5h.9M196.5 52h.9M199 48.5h.9M190.5 49h.9M197 48h.9M186 71h.9M195.5 46.5h.9M195.5 70.5h.9M190.5 63.5h.9M202.5 48h.9M192.5 57h.9M191.5 60h.9M194 67h.9M190.5 57h.9M196 47h.9M203 62.5h.9M200.5 43h.9M199 60.5h.9M187.5 67h.9M204.5 55h.9M196 65.5h.9M198.5 59h.9M199.5 49h.9M196.5 59h.9M200.5 59h.9M197 74.5h.9M196.5 53h.9M195 71.5h.9M187.5 59h.9M192.5 66.5h.9M202 55.5h.9M184 55.5h.9M200 56.5h.9M202.5 54h.9M195 72h.9M190.5 60.5h.9M204 44.5h.9M197 61h.9M200 54.5h.9M197 79h.9M199.5 60.5h.9M198 68.5h.9M195 61h.9M199 67.5h.9M199.5 62.5h.9M202 64h.9M193 49.5h.9M195 63.5h.9M191 62.5h.9M194 57.5h.9M204 66.5h.9M196 65h.9M196 57h.9M196 62.5h.9M197.5 62.5h.9M195 64.5h.9M207.5 55h.9M193 55.5h.9M205.5 60h.9M195.5 57.5h.9M210.5 67.5h.9M196 72h.9M195.5 54h.9M198 52.5h.9M200 55.5h.9M192 64h.9M202.5 76h.9M196.5 65.5h.9M200 63h.9M187 51.5h.9M191 59h.9M194.5 67.5h.9M195.5 52h.9M199 53h.9M197.5 75h.9M194.5 59h.9M188 76.5h.9M195 70.5h.9M194 65h.9M202.5 65h.9M194.5 49.5h.9M194 68.5h.9M184.5 48h.9M192.5 71.5h.9M184.5 44.5h.9M205.5 43h.9M195.5 65h.9M193.5 52h.9M193 49h.9M193.5 49h.9M182.5 29.5h.9M194.5 43.5h.9M190 44.5h.9M200.5 48.5h.9M193 27.5h.9M187 53.5h.9M182 38h.9M195.5 33.5h.9M183.5 36.5h.9M192 36.5h.9M198 39.5h.9M194.5 50h.9M189 40h.9M188 30.5h.9M184.5 39h.9M188.5 50h.9M189.5 41.5h.9M198 40.5h.9M194.5 41h.9M202 50.5h.9M195 53h.9M194 35h.9M184 33.5h.9M205 50h.9M195.5 48.5h.9M196.5 45.5h.9M195.5 42.5h.9M194.5 62.5h.9M192.5 36.5h.9M195 42h.9M198.5 37.5h.9M188.5 41.5h.9M202.5 53.5h.9M198.5 43.5h.9M188.5 53.5h.9M196.5 47.5h.9M185.5 29.5h.9M189.5 55.5h.9M191 37h.9M204.5 53h.9M185.5 54h.9M192.5 46.5h.9M203 57h.9M189.5 40.5h.9M207.5 39.5h.9M195.5 45h.9M183.5 39.5h.9M201 47h.9M189.5 38.5h.9M199.5 60.5h.9M194.5 52h.9M202.5 61h.9M192 39h.9M200 44.5h.9M189.5 43h.9M189.5 47.5h.9M191 51h.9M195.5 48.5h.9M197.5 57.5h.9M199.5 47h.9M207.5 40h.9M196.5 43h.9M184.5 31h.9M190.5 48h.9M193 59.5h.9M193.5 39.5h.9M194 49h.9M189 48h.9M182 55h.9M179.5 39h.9M194 51.5h.9M199.5 52h.9M202.5 45h.9M198 48.5h.9M193 42h.9M196 38h.9M202.5 38h.9M190.5 43.5h.9M188 36h.9M191 36h.9M198 42h.9" stroke="#000" stroke-opacity="0.65" stroke-width=".9" fill="none"/>
<path d="M184 63.5h.9M192.5 52h.9M187.5 67h.9M192.5 59h.9M188 76.5h.9M201.5 58h.9M199.5 64h.9M200 52.5h.9M194 57.5h.9M206.5 71.5h.9M197.5 60h.9M198.5 67.5h.9M201.5 66.5h.9M200.5 59.5h.9M190 77h.9M199 50.5h.9M199.5 69.5h.9M196 62.5h.9M197 57.5h.9M191.5 67h.9M202.5 62h.9M186 54.5h.9M206 70.5h.9M197.5 65h.9M192 63h.9M202 72.5h.9M194 57h.9M187.5 68h.9M193 56h.9M201.5 60h.9M206 77.5h.9M186.5 50h.9M197 62.5h.9M189.5 60.5h.9M193.5 72h.9M198 52h.9M194.5 51h.9M198.5 59h.9M191.5 60.5h.9M188.5 55.5h.9M201.5 58h.9M185 46.5h.9M190.5 66.5h.9M197.5 66.5h.9M196.5 60.5h.9M193.5 65h.9M207 45h.9M199.5 49h.9M197.5 59h.9M194.5 63.5h.9M195.5 60.5h.9M194.5 49h.9M196 64h.9M200.5 58.5h.9M190 71.5h.9M184.5 60.5h.9M195.5 63h.9M194.5 58.5h.9M192 57.5h.9M187.5 61.5h.9M203.5 61h.9M207 58.5h.9M203.5 67.5h.9M201 66h.9M189 60h.9M187.5 60.5h.9M194.5 53.5h.9M197.5 68h.9M204.5 59h.9M197 68.5h.9M193 69h.9M194 60.5h.9M202.5 70h.9M197 61.5h.9M187.5 57h.9M201 54.5h.9M199 56.5h.9M189 56h.9M198 55.5h.9M200.5 51.5h.9M199.5 71.5h.9M188 56.5h.9M193 74.5h.9M192.5 54h.9M192.5 47h.9M194.5 69.5h.9M195.5 62.5h.9M189 54h.9M193 52.5h.9M197.5 59.5h.9M199.5 68.5h.9M202.5 52.5h.9M184.5 55h.9M195 69h.9M206.5 61.5h.9M190.5 68h.9M186 75h.9M187.5 59.5h.9M192.5 59h.9M191.5 64.5h.9M200 71h.9M196 65h.9M200.5 63h.9M191 58.5h.9M201.5 57h.9M204 60.5h.9M193.5 60.5h.9M194.5 61h.9M199.5 61h.9M205 52h.9M196.5 70h.9M197.5 50h.9M192.5 55h.9M189.5 67h.9M201 62h.9M202.5 74h.9M206 71.5h.9M198.5 52h.9M193 71.5h.9M193 62h.9M193 42.5h.9M192 66.5h.9M194 53h.9M207 53h.9M197.5 63h.9M196 51.5h.9M180.5 66h.9M194.5 51h.9M193.5 66h.9M207 57.5h.9M209 68h.9M192.5 62h.9M199.5 53.5h.9M196 64h.9M196.5 58h.9M199 75.5h.9M191 58h.9M205.5 57.5h.9M192.5 53.5h.9M198 48.5h.9M192 44.5h.9M196.5 63.5h.9M201 65.5h.9M183 56h.9M203.5 54.5h.9M191.5 66h.9M187 56h.9M192 70.5h.9M186.5 64.5h.9M191 49h.9M189.5 64.5h.9M200.5 67.5h.9M197 65.5h.9M186.5 74h.9M189.5 50.5h.9M198.5 47.5h.9M205 62.5h.9M201 65h.9M205 72h.9M195 54.5h.9M187 61.5h.9M191.5 62h.9M195 57h.9M195 60.5h.9M200.5 60h.9M205 68h.9M183 43.5h.9M197 41h.9M195 30h.9M200 43h.9M200.5 50.5h.9M185 28h.9M181 21.5h.9M202 41h.9M187 41h.9M194.5 48h.9M201.5 41.5h.9M188 37h.9M184.5 48.5h.9M196.5 48h.9M197.5 44h.9M192 40h.9M200 54h.9M193.5 38.5h.9M183 41h.9M203.5 48.5h.9M189 47.5h.9M183.5 34.5h.9M200.5 51.5h.9M186.5 45.5h.9M190 46h.9M191.5 49h.9M187.5 48h.9M192.5 31.5h.9M184 47h.9M197.5 55h.9M194 60.5h.9M192 40h.9M188.5 32h.9M192 30.5h.9M190 28.5h.9M191.5 44.5h.9M204.5 56.5h.9M198.5 54.5h.9M182.5 35.5h.9M196 56h.9M202 48.5h.9M203.5 40.5h.9M183 51h.9M196 28h.9M185 32.5h.9M185.5 42.5h.9M182.5 50h.9M196.5 51h.9M190.5 61.5h.9M201 53h.9M194.5 33h.9M201 34.5h.9M196 34h.9M207.5 33.5h.9M202 46h.9M214 30h.9M210 39h.9M218 21.5h.9M213 37.5h.9M218.5 30h.9M214.5 31h.9M219.5 22h.9M216.5 25h.9M228 34.5h.9M211 37h.9M210.5 38h.9M222 37h.9M206.5 70.5h.9M213.5 70.5h.9" stroke="#000" stroke-opacity="0.42" stroke-width=".9" fill="none"/>
<path d="M208 29.5h.9M184 29h.9M205 36h.9M199 33h.9M193 25h.9M196.5 21h.9M198.5 22h.9M192 16h.9M203 32h.9M204.5 39.5h.9M190 22h.9M204 22h.9M192 28.5h.9M196.5 24h.9M197 19h.9M195 36h.9M188 22h.9M197.5 36.5h.9M186 15.5h.9M200.5 30h.9M189.5 20.5h.9M210 34.5h.9M220.5 26h.9M220 22.5h.9M215.5 25.5h.9M213 36.5h.9M213 27.5h.9M205 31.5h.9M226.5 22.5h.9M212.5 27.5h.9M218.5 30h.9M217 26h.9M219 21h.9M210.5 37.5h.9M218 22.5h.9M218.5 30h.9M220 25h.9M223 17h.9M214 36h.9M219 23.5h.9M209 35h.9M215.5 35.5h.9M208.5 34.5h.9M218 58.5h.9M227.5 38h.9M207.5 35.5h.9M222 25.5h.9M228.5 32.5h.9M207 34h.9M224 48.5h.9M204.5 50.5h.9M214.5 40.5h.9M210.5 30.5h.9M206.5 72h.9M216.5 65.5h.9M210 71h.9M207.5 64h.9M216 66.5h.9M213.5 65.5h.9" stroke="#000" stroke-opacity="0.28" stroke-width=".9" fill="none"/>
<text transform="translate(242.8 21.4) scale(0.92 1)" font-size="14.8" font-weight="bold" font-style="normal" fill="#111" stroke="#111" stroke-width="0.4" text-anchor="middle">4.0%</text>
<text transform="translate(159.1 43.4) rotate(-90)" font-size="16.9" font-weight="bold" font-style="normal" fill="#111" stroke="#111" stroke-width="0.4" text-anchor="middle">CD36</text>
<text transform="translate(224 115.8) scale(0.9 1)" font-size="16.7" font-weight="bold" font-style="normal" fill="#111" stroke="#111" stroke-width="0.4" text-anchor="middle">GPA</text>
<rect x="303.4" y="7.2" width="81.9" height="73.2" fill="#fff" stroke="#4a4a4a" stroke-width="0.9"/>
<path d="M303.4 7.2V80.4H385.3" stroke="#151515" stroke-width="1.3" fill="none"/>
<path d="M325.4 7.2V80.4M303.4 61.9H385.3" stroke="#404040" stroke-width="1" fill="none"/>
<path d="M315.7 80.4v5.0M336 80.4v5.0M356.3 80.4v5.0M376.6 80.4v5.0M305.1 80.4v3.2M307.6 80.4v3.2M309.6 80.4v3.2M311.2 80.4v3.2M312.6 80.4v3.2M313.7 80.4v3.2M314.8 80.4v3.2M321.8 80.4v3.2M325.4 80.4v3.2M327.9 80.4v3.2M329.9 80.4v3.2M331.5 80.4v3.2M332.9 80.4v3.2M334 80.4v3.2M335.1 80.4v3.2M342.1 80.4v3.2M345.7 80.4v3.2M348.2 80.4v3.2M350.2 80.4v3.2M351.8 80.4v3.2M353.2 80.4v3.2M354.3 80.4v3.2M355.4 80.4v3.2M362.4 80.4v3.2M366 80.4v3.2M368.5 80.4v3.2M370.5 80.4v3.2M372.1 80.4v3.2M373.5 80.4v3.2M374.6 80.4v3.2M375.7 80.4v3.2M382.7 80.4v3.2M303.4 70.6h-5.0M303.4 52h-5.0M303.4 33.4h-5.0M303.4 14.8h-5.0M303.4 80.3h-3.2M303.4 78h-3.2M303.4 76.2h-3.2M303.4 74.7h-3.2M303.4 73.5h-3.2M303.4 72.4h-3.2M303.4 71.5h-3.2M303.4 65h-3.2M303.4 61.7h-3.2M303.4 59.4h-3.2M303.4 57.6h-3.2M303.4 56.1h-3.2M303.4 54.9h-3.2M303.4 53.8h-3.2M303.4 52.9h-3.2M303.4 46.4h-3.2M303.4 43.1h-3.2M303.4 40.8h-3.2M303.4 39h-3.2M303.4 37.5h-3.2M303.4 36.3h-3.2M303.4 35.2h-3.2M303.4 34.3h-3.2M303.4 27.8h-3.2M303.4 24.5h-3.2M303.4 22.2h-3.2M303.4 20.4h-3.2M303.4 18.9h-3.2M303.4 17.7h-3.2M303.4 16.6h-3.2M303.4 15.7h-3.2M303.4 9.2h-3.2" stroke="#1a1a1a" stroke-width="1.05" fill="none"/>
<text transform="translate(315.7 92.2) scale(0.9 1)" font-size="6.2" fill="#111" stroke="#111" stroke-width="0.2" text-anchor="middle">10<tspan dy="-2.9" font-size="4.5">2</tspan></text>
<text transform="translate(336 92.2) scale(0.9 1)" font-size="6.2" fill="#111" stroke="#111" stroke-width="0.2" text-anchor="middle">10<tspan dy="-2.9" font-size="4.5">3</tspan></text>
<text transform="translate(356.3 92.2) scale(0.9 1)" font-size="6.2" fill="#111" stroke="#111" stroke-width="0.2" text-anchor="middle">10<tspan dy="-2.9" font-size="4.5">4</tspan></text>
<text transform="translate(376.6 92.2) scale(0.9 1)" font-size="6.2" fill="#111" stroke="#111" stroke-width="0.2" text-anchor="middle">10<tspan dy="-2.9" font-size="4.5">5</tspan></text>
<text transform="translate(298.4 69.9) scale(0.9 1) rotate(-90)" font-size="6.2" fill="#111" stroke="#111" stroke-width="0.2" text-anchor="middle">10<tspan dy="-2.9" font-size="4.5">2</tspan></text>
<text transform="translate(298.4 51.3) scale(0.9 1) rotate(-90)" font-size="6.2" fill="#111" stroke="#111" stroke-width="0.2" text-anchor="middle">10<tspan dy="-2.9" font-size="4.5">3</tspan></text>
<text transform="translate(298.4 32.7) scale(0.9 1) rotate(-90)" font-size="6.2" fill="#111" stroke="#111" stroke-width="0.2" text-anchor="middle">10<tspan dy="-2.9" font-size="4.5">4</tspan></text>
<text transform="translate(298.4 14.1) scale(0.9 1) rotate(-90)" font-size="6.2" fill="#111" stroke="#111" stroke-width="0.2" text-anchor="middle">10<tspan dy="-2.9" font-size="4.5">5</tspan></text>
<path d="M335.5 67.5h.9M327.5 67.5h.9M321 78h.9M324 66h.9M325.5 69.5h.9M340 70.5h.9M324.5 67.5h.9M327 68.5h.9M331 77h.9M341.5 70.5h.9M328 71h.9M326.5 74.5h.9M334.5 69.5h.9M336 70.5h.9M329 75.5h.9M329 75.5h.9M331.5 57.5h.9M320.5 68h.9M332.5 74.5h.9M335 70.5h.9M326.5 71.5h.9M333 63h.9M323.5 68.5h.9M330 75.5h.9M325.5 68.5h.9M321.5 66.5h.9M311 75.5h.9M336.5 70.5h.9M321.5 74h.9M322.5 77h.9M325 74.5h.9M320 72h.9M331 68.5h.9M324.5 72h.9M330 73.5h.9M329 64h.9M321.5 68h.9M325 70.5h.9M315.5 71.5h.9M323.5 70h.9M337.5 74.5h.9M332.5 67.5h.9M334 74h.9M314.5 75h.9M338 77.5h.9M325 69.5h.9M330.5 77h.9M335.5 73.5h.9M335 74.5h.9M319 62h.9M330 67.5h.9M328.5 67.5h.9M317 72h.9M323 71.5h.9M322 70.5h.9M316 69h.9M328.5 76h.9M329 69h.9M329 76.5h.9M323.5 71h.9M319 73h.9M313 72h.9M321 70.5h.9M337 73.5h.9M321.5 68h.9M328.5 71.5h.9M325.5 79h.9M334.5 71.5h.9M332 71h.9M320.5 74h.9M328.5 63.5h.9M315 72.5h.9M347 69.5h.9M327.5 69.5h.9M333.5 70.5h.9M319 72.5h.9M332 72h.9M331 79h.9M337.5 77h.9M329 69.5h.9M333 77h.9M319 72h.9M325 64h.9M323 74h.9M318.5 67.5h.9M316 65.5h.9M330 60h.9M312 66h.9M315 73.5h.9M331 70.5h.9M330 71.5h.9M324 67.5h.9M316 74h.9M321 77h.9M319 71.5h.9M327 75h.9M323 63.5h.9M328 75.5h.9M324.5 77h.9M328.5 66.5h.9M322 64.5h.9M315 72.5h.9M319 76h.9M329 69h.9M319 68.5h.9M321.5 63.5h.9M320.5 77.5h.9M330 65.5h.9M333.5 64.5h.9M314 73h.9M329 72h.9M318.5 75.5h.9M317 69.5h.9M321 70h.9M330 74.5h.9M315 66.5h.9M326.5 69h.9M331 69.5h.9M332.5 75h.9M328 58h.9M314.5 69h.9M337 63.5h.9M318 71.5h.9M330 59.5h.9M325.5 73h.9M328 66h.9M331.5 67h.9M331.5 71h.9M331.5 63.5h.9M321 78h.9M316.5 74h.9M319 74h.9M327 66.5h.9M335 76.5h.9M328.5 66.5h.9M318.5 78.5h.9M331.5 75h.9M332.5 72.5h.9M320 70h.9M317 70h.9M330 69.5h.9M325 71h.9M329 68h.9M330.5 70h.9M324 74.5h.9M323.5 69.5h.9M331 76h.9M329.5 75h.9M332 73.5h.9M319 62.5h.9M328 64.5h.9M318.5 68h.9M326.5 62h.9M330.5 70h.9M323.5 63.5h.9M321.5 75h.9M327 67h.9M333 71.5h.9M327.5 73.5h.9M326 70h.9M340.5 71h.9M334 72h.9M319.5 76h.9M332.5 75.5h.9M331.5 78.5h.9M337.5 75h.9M338.5 75.5h.9M321.5 69.5h.9M324 69h.9M338.5 77h.9M333 76.5h.9M323 70.5h.9M336 69.5h.9M329.5 69.5h.9M327 70.5h.9M323.5 66h.9M318 71.5h.9M334 70h.9M324 71h.9M325.5 64h.9M324.5 69.5h.9M328 73h.9M330 71.5h.9M334 74h.9M328.5 70.5h.9M328.5 77h.9M324 70.5h.9M313.5 75h.9M323 64h.9M323.5 63.5h.9M326.5 72h.9M322.5 68.5h.9M325.5 69h.9M327 70h.9M335.5 74h.9M334 57.5h.9M328.5 76.5h.9M339.5 72h.9M322.5 76.5h.9M327 71.5h.9M327.5 63h.9M322.5 72h.9M325 72h.9M329.5 64h.9M334 72h.9M328 72.5h.9M332 73h.9M326.5 72.5h.9M324 68.5h.9M332.5 75h.9M328.5 69h.9M323.5 65.5h.9M322.5 71.5h.9M319.5 77.5h.9M325.5 66.5h.9M317 74.5h.9M324 70.5h.9M326.5 76h.9M317 65.5h.9M331.5 65h.9M336 70.5h.9M328.5 72h.9M331 75.5h.9M315.5 69.5h.9M324 74h.9M321 70h.9M328.5 72.5h.9M319 75h.9M329.5 78.5h.9M325.5 76h.9M321.5 71.5h.9M306 37h.9M313.5 53h.9M315 65.5h.9M312.5 60.5h.9M306.5 60.5h.9M326 53.5h.9M309 45.5h.9M316.5 59h.9M319 66.5h.9M316 49h.9M313 73h.9M317 51.5h.9M310 50h.9M315.5 57h.9M310.5 58.5h.9M306 57.5h.9M308.5 39.5h.9M307 52h.9M317 40h.9M316 77.5h.9M313.5 60.5h.9M315.5 36.5h.9M307.5 52h.9M311.5 56.5h.9M316.5 45.5h.9M315.5 58h.9M309.5 46h.9M314.5 51.5h.9M309 63h.9M309.5 64.5h.9M317 59.5h.9M316 67.5h.9M312 53h.9M310 51.5h.9M316 39.5h.9M326 39h.9M320.5 75h.9M315 70h.9M316.5 49.5h.9M311 51.5h.9M316.5 62.5h.9M306 39.5h.9M307.5 66h.9M315.5 68.5h.9M310 77h.9M317 60h.9M308.5 65h.9M314.5 39.5h.9M311.5 70h.9M314 41.5h.9M310 40h.9M323 49h.9M310 56h.9M310 61h.9M318.5 35.5h.9M307.5 49.5h.9M315 42h.9M307 35h.9M332 64.5h.9M307.5 42.5h.9M316.5 60h.9M312 39h.9M320.5 61.5h.9M309 61.5h.9M319.5 60.5h.9M308 45h.9M311 50.5h.9M306.5 68.5h.9M315.5 72.5h.9M318 73h.9M320.5 75.5h.9M314.5 65h.9M318 44.5h.9M318 45.5h.9M312 70.5h.9M321 44.5h.9M312.5 38.5h.9M317.5 52h.9M310 46.5h.9M318.5 68.5h.9M312.5 55h.9M318.5 69h.9M305.5 59h.9M314 76.5h.9M324 53h.9M310.5 51h.9M320 41.5h.9M316.5 59.5h.9M313 58.5h.9M314.5 61.5h.9M308 51.5h.9M306.5 71.5h.9M311.5 33.5h.9M312.5 40.5h.9M315.5 61.5h.9M310.5 60h.9M313 31h.9M317 56h.9M312.5 34h.9M312.5 67h.9M313 46.5h.9M314 63h.9M306 62.5h.9M324.5 65.5h.9M305.5 59h.9M312.5 24.5h.9M316 63.5h.9M315 44.5h.9M316.5 50h.9M306 57h.9M310 71.5h.9M315.5 67h.9M313.5 46h.9M320 58h.9M311 62h.9M306.5 42.5h.9M308.5 67h.9M305.5 76.5h.9M307 61.5h.9M308 59h.9M313 57.5h.9M310.5 73.5h.9M314.5 66.5h.9M327 56.5h.9M312 37h.9M336.5 54.5h.9M313 53.5h.9M315 58h.9M304.5 60.5h.9M310 60h.9M318 48h.9M314 49.5h.9M312.5 56.5h.9M311.5 67h.9M313.5 45h.9M307.5 42h.9M311.5 62h.9M310 63.5h.9M314.5 43h.9M320 48h.9M317.5 63.5h.9M311 59.5h.9M305 56h.9M321.5 78h.9M313.5 59h.9M317.5 52h.9M316 48.5h.9M305.5 62.5h.9M317 60h.9M311 61.5h.9M318 68h.9M317.5 56h.9M320 42h.9M316.5 58h.9M323 60.5h.9M308 45h.9M308.5 45.5h.9M312 53.5h.9M315 60h.9M312.5 72.5h.9M313.5 45.5h.9M310.5 72.5h.9M320.5 67h.9M311.5 53h.9M307 66.5h.9M309.5 52.5h.9M311 72h.9M310.5 53.5h.9M313 55h.9M329 52.5h.9M317 48h.9M321.5 57.5h.9M315 49.5h.9M315 61.5h.9M308 52h.9M308.5 51.5h.9M313.5 58.5h.9M320.5 48h.9M320.5 73.5h.9M304.5 51.5h.9M313 65.5h.9M320 49.5h.9M306 66.5h.9M310.5 59.5h.9M316.5 40h.9M315.5 52.5h.9M317.5 55.5h.9M326.5 63.5h.9M322.5 57.5h.9M322.5 29h.9M313.5 51.5h.9M327.5 60h.9M318.5 54h.9M311 44h.9M322 31.5h.9M325 39h.9M309 31h.9M310 41h.9M304.5 38h.9M327 44.5h.9M311.5 41.5h.9M323.5 39h.9M314 28.5h.9M321 40h.9M321.5 37h.9M323 40.5h.9M314 37h.9M323 39.5h.9M318 35h.9M321.5 37h.9M330.5 32.5h.9M317.5 38h.9M305.5 43.5h.9M326 34.5h.9M313 44.5h.9M311 33.5h.9M312 36h.9M308.5 34h.9M324 36h.9M310 32h.9M315.5 32.5h.9M318.5 46h.9M316 40.5h.9M307.5 43.5h.9M306 41.5h.9M311.5 37.5h.9M316 37h.9M322.5 41h.9M318.5 40h.9M312 44.5h.9M320 43h.9M307 39.5h.9M321 35h.9M316.5 28h.9M315 40h.9M330.5 35.5h.9M317 34h.9M310.5 37h.9M324 38h.9M316.5 41.5h.9M321 30.5h.9M324.5 31.5h.9M312.5 41h.9M315.5 40h.9M318 28h.9M308.5 41h.9M310.5 32h.9M312.5 38.5h.9M313.5 48.5h.9M312 26h.9M316 37.5h.9M324 37h.9M319 37h.9M305.5 38h.9M313.5 37h.9M311 32.5h.9M316.5 36h.9M326 39h.9M320 40h.9M311.5 29.5h.9M319.5 40h.9M310.5 40.5h.9M316 24h.9M330 41.5h.9M306.5 36h.9M316.5 41.5h.9M320 31.5h.9M328 37.5h.9M309.5 37.5h.9M320 40.5h.9M326.5 35h.9M332 58h.9M326.5 38h.9M336.5 41h.9M329.5 55.5h.9M341.5 48h.9M326.5 42h.9M332 63h.9M331.5 46h.9M338.5 52.5h.9M354.5 50h.9M341.5 60.5h.9M344 31.5h.9M339.5 50h.9M331 52h.9M334 41.5h.9M327.5 44.5h.9M344.5 45h.9M338 51.5h.9M324 57h.9M339 35h.9M338 65h.9M337.5 44.5h.9M336.5 68.5h.9M341.5 39h.9M323.5 56h.9M335.5 62.5h.9M349 38.5h.9M333 51.5h.9M352.5 33h.9M342 42.5h.9M346.5 47.5h.9M327 64h.9M322.5 46h.9M335.5 58.5h.9M334.5 44.5h.9M341.5 49h.9M346 50h.9M336.5 43h.9M334 36.5h.9M329 57h.9" stroke="#000" stroke-opacity="0.84" stroke-width=".9" fill="none"/>
<path d="M322.5 74.5h.9M324 72.5h.9M335.5 60h.9M320.5 73.5h.9M325 66.5h.9M321.5 74.5h.9M315 70h.9M331.5 77h.9M329.5 67h.9M324 72h.9M323 76.5h.9M330 68h.9M325.5 75.5h.9M324.5 69h.9M326 70.5h.9M331.5 70h.9M325 72.5h.9M325.5 71.5h.9M337.5 68.5h.9M328.5 78.5h.9M328.5 62.5h.9M325.5 76h.9M332 73.5h.9M323.5 71.5h.9M326 71h.9M326.5 68h.9M319.5 76h.9M322.5 62h.9M311 78.5h.9M335 71h.9M338 70.5h.9M324 70.5h.9M334 71.5h.9M332.5 72h.9M330.5 74h.9M324.5 75.5h.9M329 78.5h.9M327 76h.9M330.5 73.5h.9M324.5 72h.9M327 70.5h.9M326 78.5h.9M333.5 67h.9M331.5 73.5h.9M330 70.5h.9M327.5 75.5h.9M334.5 78h.9M318.5 69.5h.9M320.5 72h.9M319.5 70.5h.9M322.5 72.5h.9M327 72h.9M322 68.5h.9M337.5 70h.9M335.5 79h.9M327 67.5h.9M332 69.5h.9M317.5 78.5h.9M330 65.5h.9M321 72.5h.9M318.5 73h.9M329.5 65h.9M335 72h.9M329 67.5h.9M324.5 72h.9M312.5 77.5h.9M341 74h.9M339 67h.9M330.5 67.5h.9M330 74.5h.9M321.5 67.5h.9M330 65.5h.9M325 68.5h.9M331.5 75.5h.9M324 71h.9M334 68h.9M329 72h.9M334.5 76h.9M318.5 66.5h.9M336 70h.9M332.5 70h.9M331.5 73.5h.9M331 72h.9M326 77h.9M325 77.5h.9M328 71.5h.9M327 79h.9M326.5 74h.9M327.5 67.5h.9M327 77.5h.9M330.5 71.5h.9M314.5 67.5h.9M324 70h.9M330 69.5h.9M317.5 68h.9M324 75.5h.9M329.5 70h.9M326.5 72.5h.9M339.5 68.5h.9M320 72.5h.9M330 76h.9M330.5 72.5h.9M326 69.5h.9M320 78.5h.9M338.5 66.5h.9M325.5 67.5h.9M324 66h.9M329 66h.9M333 71h.9M334 72h.9M329.5 75.5h.9M331.5 68.5h.9M323.5 79h.9M324.5 71.5h.9M340 70h.9M326 70.5h.9M331 74h.9M327 69.5h.9M332 66h.9M338.5 76.5h.9M334.5 69.5h.9M325.5 74h.9M323.5 61.5h.9M332 68.5h.9M331 75h.9M325 65.5h.9M330 71h.9M335.5 61h.9M319.5 73.5h.9M316.5 75h.9M320.5 69.5h.9M327.5 71h.9M326.5 67h.9M320 76.5h.9M333.5 71.5h.9M326.5 75.5h.9M324.5 71h.9M346.5 70.5h.9M325.5 75h.9M323.5 76.5h.9M336.5 71h.9M332 68.5h.9M317 74h.9M328 74h.9M326 73h.9M323 73.5h.9M325.5 66h.9M329.5 73.5h.9M316.5 78h.9M320 73h.9M334 61.5h.9M326 66.5h.9M320 69.5h.9M324 71.5h.9M324.5 70h.9M325 68.5h.9M326.5 62h.9M316.5 71h.9M332 76.5h.9M326.5 72h.9M342 71.5h.9M326 72.5h.9M327.5 73h.9M329.5 69.5h.9M316.5 68.5h.9M323 71.5h.9M334 64h.9M319.5 69h.9M311.5 63h.9M325.5 68h.9M320.5 79h.9M330.5 72.5h.9M327.5 67h.9M316.5 74.5h.9M337 73h.9M320.5 76.5h.9M328.5 73.5h.9M330 68.5h.9M328.5 76h.9M325.5 69.5h.9M326 72h.9M328.5 75h.9M314.5 73.5h.9M330.5 68h.9M318 66h.9M341.5 69h.9M326 68.5h.9M329.5 71h.9M312.5 70h.9M337 73h.9M317.5 69.5h.9M324 77h.9M324 66h.9M332.5 67h.9M322.5 67h.9M340 71h.9M313 71h.9M321 70.5h.9M329.5 66h.9M321 79h.9M325 70.5h.9M315.5 74.5h.9M322.5 63.5h.9M334.5 75h.9M319 71.5h.9M329.5 75.5h.9M333 76h.9M324 71.5h.9M328.5 78.5h.9M329.5 72h.9M323.5 65h.9M328.5 74.5h.9M328 71.5h.9M332 72h.9M320.5 76.5h.9M327 76h.9M316.5 70h.9M334.5 71h.9M329.5 70.5h.9M319 72.5h.9M336 69h.9M320 73.5h.9M316.5 62h.9M325 69.5h.9M305 67.5h.9M316 78h.9M327.5 70h.9M332.5 67.5h.9M327.5 77h.9M333.5 74.5h.9M318.5 75h.9M329 76.5h.9M322 77h.9M330 72.5h.9M323 74h.9M335 73.5h.9M325.5 64.5h.9M324 75.5h.9M335 72.5h.9M333.5 73h.9M320.5 71.5h.9M332 72.5h.9M310.5 71h.9M329 77h.9M319.5 73.5h.9M332.5 70h.9M327.5 68h.9M323.5 67h.9M320.5 73h.9M312.5 76.5h.9M318.5 49h.9M307.5 56.5h.9M311.5 30.5h.9M311 62.5h.9M325 45.5h.9M322 72h.9M330.5 45h.9M313 47.5h.9M315 45.5h.9M323.5 54.5h.9M320 47.5h.9M315 58h.9M309.5 57h.9M314 25.5h.9M316 44h.9M326 47.5h.9M313 46.5h.9M318 51h.9M315 47.5h.9M328 38.5h.9M304.5 74h.9M313 42.5h.9M322.5 48.5h.9M309.5 39h.9M310.5 44h.9M310 54h.9M309.5 62.5h.9M309 68h.9M313.5 65h.9M317.5 49.5h.9M316.5 53h.9M315.5 47h.9M308.5 57h.9M313.5 73.5h.9M314 42h.9M308.5 68h.9M318 62h.9M308 53.5h.9M318 46h.9M321 41.5h.9M312.5 58h.9M327 72h.9M320 54.5h.9M310.5 68h.9M313.5 52.5h.9M318 50h.9M327.5 70h.9M307.5 60.5h.9M305.5 64.5h.9M320 53.5h.9M323.5 66h.9M312 54.5h.9M305.5 48.5h.9M316 62h.9M314 67h.9M311 49.5h.9M310 56h.9M318.5 52.5h.9M311 57h.9M318 57.5h.9M309.5 56.5h.9M322 61.5h.9M311 59.5h.9M314 43h.9M309 63h.9M315 47.5h.9M312.5 55.5h.9M315 59h.9M308.5 71.5h.9M316.5 56.5h.9M324.5 65.5h.9M317.5 45h.9M312 45.5h.9M309.5 74.5h.9M318 55h.9M315 38.5h.9M309.5 57h.9M316 67h.9M311 51h.9M310.5 61.5h.9M316.5 65.5h.9M317.5 54h.9M311.5 50.5h.9M312.5 60.5h.9M311 61h.9M304.5 58.5h.9M309 54h.9M317.5 59.5h.9M313.5 54h.9M322 42h.9M324 73.5h.9M311 65.5h.9M308.5 63.5h.9M316.5 50.5h.9M313.5 76h.9M313.5 43h.9M314 59.5h.9M314.5 58h.9M312 71.5h.9M317.5 70.5h.9M313.5 64h.9M317.5 59.5h.9M319 51h.9M316.5 70.5h.9M310.5 51h.9M314.5 53.5h.9M318.5 69.5h.9M313.5 46.5h.9M310 33h.9M324 62h.9M316 48h.9M318 55h.9M322 30h.9M319 51.5h.9M310.5 66h.9M315 55.5h.9M309 57.5h.9M311 75.5h.9M312.5 79h.9M311 43h.9M312 54.5h.9M310 71h.9M310 50.5h.9M306 53.5h.9M313.5 57.5h.9M319 45.5h.9M321.5 41.5h.9M317 72h.9M310 52h.9M321 45.5h.9M311.5 51h.9M314 44.5h.9M307.5 66.5h.9M314 47h.9M306 64h.9M318 47.5h.9M312 61h.9M314 53.5h.9M305 50.5h.9M307.5 60.5h.9M315 50.5h.9M323.5 46h.9M315.5 48h.9M311.5 57h.9M319 66.5h.9M317 43.5h.9M311.5 48.5h.9M309.5 54h.9M306 59h.9M312 51.5h.9M323 58h.9M317 74h.9M309.5 64.5h.9M315 55h.9M309 58h.9M318.5 41h.9M306.5 44.5h.9M328 53h.9M306.5 50h.9M306.5 74.5h.9M312 39.5h.9M316 60.5h.9M305 68.5h.9M319.5 66h.9M306.5 74h.9M310 51h.9M313.5 51h.9M317.5 52h.9M314 56h.9M315.5 72.5h.9M312 45h.9M304.5 54h.9M316.5 39h.9M308.5 76.5h.9M320 65h.9M321 69.5h.9M309.5 56.5h.9M306 50.5h.9M317 44h.9M307.5 46h.9M311.5 53h.9M316.5 66.5h.9M319.5 61.5h.9M308 39h.9M326.5 31h.9M316 27h.9M314 43h.9M326 40h.9M305.5 38.5h.9M322 42.5h.9M319.5 43h.9M308.5 35.5h.9M307.5 42.5h.9M321.5 29.5h.9M324 27.5h.9M325 37h.9M324.5 38.5h.9M322.5 46.5h.9M311.5 38.5h.9M314.5 39h.9M314 33h.9M314 28.5h.9M310 36h.9M305 38.5h.9M306 33h.9M310.5 34.5h.9M320.5 28.5h.9M315.5 35h.9M321 27h.9M307 32h.9M318.5 28h.9M316 29.5h.9M313.5 35.5h.9M314.5 43.5h.9M310 41.5h.9M321.5 29h.9M320.5 32.5h.9M320 34h.9M315 35.5h.9M306 31h.9M319.5 38h.9M328 25.5h.9M317.5 39.5h.9M313 29h.9M310 32h.9M316 29.5h.9M326.5 29h.9M310 39h.9M325.5 37h.9M327.5 41h.9M318 45.5h.9M317 29h.9M313 45h.9M319.5 35h.9M320 38h.9M320 28h.9M326 37h.9M317 52.5h.9M316 47h.9M308.5 32h.9M306.5 38.5h.9M326 35h.9M308 40h.9M307 36.5h.9M315 34h.9M321.5 43.5h.9M318.5 37.5h.9M317.5 37.5h.9M320.5 33.5h.9M315.5 33h.9M310 40h.9M317.5 44h.9M317.5 42.5h.9M315 34.5h.9M310.5 42h.9M324.5 30.5h.9M326 40.5h.9M315 41.5h.9M318.5 32h.9M319.5 30.5h.9M338.5 36.5h.9M316.5 33.5h.9M331.5 52.5h.9M338.5 41h.9M318.5 56.5h.9M331 56.5h.9M340.5 44h.9M339 41h.9M330.5 51.5h.9M336.5 59.5h.9M333 60h.9M327 39.5h.9M322.5 50h.9M320.5 45h.9M328.5 43.5h.9M331.5 52h.9M341.5 54.5h.9M326.5 51.5h.9M328 43.5h.9M342.5 53h.9M327.5 53h.9M336.5 57h.9M345 55.5h.9M333.5 51h.9M333 50.5h.9M339.5 48.5h.9M335 39.5h.9M331 49h.9M328 46.5h.9M331 55h.9M331 51.5h.9M335.5 52.5h.9M313.5 43h.9M319.5 50h.9M339.5 42.5h.9M325 50h.9M320 40.5h.9M336.5 63.5h.9M326 58h.9M327.5 46.5h.9M330 52h.9M354 49h.9M341.5 42.5h.9M336 62.5h.9M332.5 41.5h.9M324.5 59.5h.9M341 63h.9M350.5 51.5h.9M333 48h.9M347 51h.9M346.5 43.5h.9M339.5 57h.9M347 67.5h.9" stroke="#000" stroke-opacity="0.62" stroke-width=".9" fill="none"/>
<path d="M335.5 76.5h.9M331 73h.9M324 60.5h.9M328.5 71.5h.9M322 74.5h.9M324 75h.9M321.5 74.5h.9M330 71.5h.9M326.5 76h.9M322.5 76.5h.9M331.5 77h.9M334 75h.9M328.5 70h.9M329.5 70.5h.9M327 73h.9M328 70h.9M320 66h.9M332.5 68.5h.9M325.5 68.5h.9M328.5 67h.9M327 61.5h.9M320.5 78.5h.9M329 68h.9M323.5 69h.9M328.5 64.5h.9M324.5 76.5h.9M324.5 69h.9M324.5 67.5h.9M331 73h.9M328 75.5h.9M336 74.5h.9M333 69h.9M326 73h.9M328.5 74h.9M320 68h.9M323 70.5h.9M320 70h.9M311 68.5h.9M319 74h.9M327 72.5h.9M327 73h.9M320 68h.9M316 66.5h.9M319 65h.9M331 70.5h.9M336 77h.9M332.5 67.5h.9M334 73h.9M321.5 75.5h.9M321 70.5h.9M331.5 57.5h.9M326 63h.9M323 68.5h.9M326 67h.9M329.5 75h.9M331 77.5h.9M325 72.5h.9M326 66.5h.9M321.5 71.5h.9M332 73h.9M317.5 69h.9M336.5 77.5h.9M324.5 69.5h.9M324 73.5h.9M328 70h.9M324.5 75.5h.9M322.5 68h.9M317 63.5h.9M326.5 78.5h.9M314 75h.9M329.5 72.5h.9M323.5 69.5h.9M330.5 68.5h.9M324 69h.9M328.5 63h.9M318.5 72h.9M328 74h.9M338.5 77.5h.9M320 72.5h.9M324 70h.9M325.5 73.5h.9M338 72.5h.9M328.5 75h.9M333 71h.9M317.5 68h.9M326.5 75h.9M331 69h.9M328.5 69h.9M318.5 63.5h.9M329.5 69.5h.9M325 70h.9M328 72h.9M334 79h.9M328.5 69h.9M327 71.5h.9M327 68h.9M327 78.5h.9M320 78h.9M326.5 68.5h.9M327 61.5h.9M327.5 72h.9M330.5 70h.9M321.5 76h.9M324 71.5h.9M330.5 72h.9M327.5 77.5h.9M329.5 75h.9M335 70h.9M331 73h.9M318.5 74h.9M322.5 71h.9M316 61.5h.9M313.5 78.5h.9M317 68h.9M339.5 68.5h.9M327 73h.9M329 66h.9M320.5 70h.9M317 77.5h.9M331.5 73.5h.9M334.5 66h.9M329 71.5h.9M317 76h.9M329 71h.9M323 69.5h.9M331 76h.9M324.5 72.5h.9M321.5 74h.9M327 71.5h.9M320.5 79h.9M328 77h.9M329.5 70.5h.9M324.5 71.5h.9M333.5 77h.9M327.5 76h.9M327.5 79h.9M314.5 70h.9M342 65.5h.9M320.5 47h.9M310 70h.9M319 48.5h.9M316.5 48.5h.9M314.5 59h.9M315.5 68.5h.9M316 56.5h.9M314.5 43h.9M315.5 69.5h.9M315.5 54.5h.9M307.5 56.5h.9M318 44h.9M319 61.5h.9M312 58.5h.9M315 62h.9M316.5 50.5h.9M320.5 65h.9M310 47.5h.9M312 58.5h.9M319 58.5h.9M317.5 32.5h.9M323.5 47h.9M313 53h.9M319 38h.9M317.5 47.5h.9M310 52h.9M314 49h.9M311.5 47.5h.9M312 67.5h.9M320.5 61.5h.9M313.5 66h.9M316 58.5h.9M309 48h.9M322.5 65h.9M321 51h.9M309 50h.9M320.5 62.5h.9M319.5 49h.9M312 48h.9M313.5 51h.9M319.5 67.5h.9M308 64h.9M315.5 54.5h.9M314.5 41h.9M317 52h.9M324.5 60.5h.9M311.5 71h.9M315 59h.9M305 62.5h.9M308.5 63h.9M307.5 41.5h.9M309 49.5h.9M315 58h.9M315 65h.9M305.5 71.5h.9M315 50h.9M314 50h.9M307.5 77h.9M311.5 56.5h.9M320.5 43.5h.9M305.5 71h.9M319 64h.9M316 58h.9M315.5 61h.9M312.5 48h.9M313 48h.9M316.5 65.5h.9M317 57.5h.9M314.5 52h.9M323 53.5h.9M308.5 58.5h.9M311 61h.9M319 57h.9M313.5 37.5h.9M318 30.5h.9M312 46.5h.9M327 26.5h.9M315 42h.9M325.5 48h.9M305.5 45h.9M316 37h.9M327 40.5h.9M306.5 39.5h.9M330.5 41.5h.9M313 46.5h.9M306.5 30.5h.9M310 32.5h.9M311 38.5h.9M325.5 43.5h.9M324.5 39h.9M317 33h.9M316.5 40.5h.9M312 43.5h.9M308 41.5h.9M313.5 39.5h.9M316.5 28h.9M315 28h.9M317.5 32h.9M328 47h.9M313 46h.9M323.5 35h.9M311 39.5h.9M318.5 36.5h.9M321 34.5h.9M326.5 59h.9M334 56.5h.9M337 55h.9M317 67.5h.9M335 46h.9M348.5 55.5h.9M340.5 45.5h.9M341.5 42h.9M342.5 37.5h.9M339.5 44.5h.9M343.5 65.5h.9M341.5 37h.9M332.5 44.5h.9M334.5 51.5h.9M343 68.5h.9M338.5 33.5h.9M338 50.5h.9M333 43h.9M342 49h.9M350 57h.9M340.5 45.5h.9M344 45h.9M316.5 52h.9M347 65h.9M332.5 49h.9M338.5 50.5h.9M328.5 50.5h.9M340 66.5h.9M331.5 52.5h.9M361 56h.9M363 55.5h.9M367 30.5h.9M327.5 33.5h.9M326 54.5h.9M334.5 42h.9M345.5 54.5h.9M368 44.5h.9M339 56h.9M356 37h.9M338.5 59h.9M362 50.5h.9M358 61.5h.9M360 32h.9M343 45h.9M361.5 27.5h.9M333.5 48.5h.9M355.5 53h.9M354 49.5h.9M336 38.5h.9M354 42h.9M330 30h.9M361.5 33h.9M328.5 77.5h.9M345.5 69.5h.9M333.5 70.5h.9M327.5 68h.9M329 69.5h.9M348 70.5h.9M342 65.5h.9" stroke="#000" stroke-opacity="0.4" stroke-width=".9" fill="none"/>
<path d="M359 33.5h.9M329.5 55h.9M335 40.5h.9M331 38.5h.9M345.5 32.5h.9M329 47.5h.9M349 48.5h.9M365 45h.9M327.5 55h.9M354.5 38h.9M332 36.5h.9M362 49.5h.9M330.5 59h.9M339.5 49.5h.9M354 39h.9M356 36h.9M366 36h.9M346 41.5h.9M363 31h.9M326.5 28.5h.9M356.5 29h.9M328 46h.9M364.5 34h.9M360 61.5h.9M351 35.5h.9M345.5 49.5h.9M355.5 48h.9M345.5 48.5h.9M339 60.5h.9M337 54h.9M344.5 38h.9M342 53h.9M357.5 42.5h.9M359 61h.9M359.5 43.5h.9M341 59h.9M341.5 36.5h.9M361 56h.9M348 53h.9M354 58.5h.9M355.5 56h.9M327 44.5h.9M366 37h.9M363.5 39h.9M347 43h.9M330 37h.9M345.5 37.5h.9M350.5 38h.9M355.5 33.5h.9M335 47.5h.9M366.5 35.5h.9M333.5 51.5h.9M332.5 76h.9M336.5 74h.9M345.5 73.5h.9M334.5 70h.9M339.5 71.5h.9M349.5 74h.9M344.5 77.5h.9M331 64h.9M347.5 74h.9M339 73h.9M336 68h.9M330.5 77.5h.9M330 63.5h.9" stroke="#000" stroke-opacity="0.26" stroke-width=".9" fill="none"/>
<text transform="translate(365.3 21.4) scale(0.92 1)" font-size="14.8" font-weight="bold" font-style="normal" fill="#111" stroke="#111" stroke-width="0.4" text-anchor="middle">7.6%</text>
<text transform="translate(283.1 47.7) rotate(-90)" font-size="16.6" font-weight="bold" font-style="normal" fill="#111" stroke="#111" stroke-width="0.4" text-anchor="middle">CD71</text>
<text transform="translate(345 114.5) scale(0.96 1)" font-size="16.7" font-weight="bold" font-style="normal" fill="#111" stroke="#111" stroke-width="0.4" text-anchor="middle">CD36</text>
<rect x="433.3" y="7.2" width="82.4" height="71.6" fill="#fff" stroke="#4a4a4a" stroke-width="0.9"/>
<path d="M455.4 7.2V78.8M433.3 64.5H515.7" stroke="#404040" stroke-width="1" fill="none"/>
<path d="M444.8 78.8v4.2M465.3 78.8v4.2M485.8 78.8v4.2M506.3 78.8v4.2M434.1 78.8v2.5M436.6 78.8v2.5M438.6 78.8v2.5M440.3 78.8v2.5M441.6 78.8v2.5M442.8 78.8v2.5M443.9 78.8v2.5M451 78.8v2.5M454.6 78.8v2.5M457.1 78.8v2.5M459.1 78.8v2.5M460.8 78.8v2.5M462.1 78.8v2.5M463.3 78.8v2.5M464.4 78.8v2.5M471.5 78.8v2.5M475.1 78.8v2.5M477.6 78.8v2.5M479.6 78.8v2.5M481.3 78.8v2.5M482.6 78.8v2.5M483.8 78.8v2.5M484.9 78.8v2.5M492 78.8v2.5M495.6 78.8v2.5M498.1 78.8v2.5M500.1 78.8v2.5M501.8 78.8v2.5M503.1 78.8v2.5M504.3 78.8v2.5M505.4 78.8v2.5M512.5 78.8v2.5M433.3 68.2h-4.2M433.3 49.6h-4.2M433.3 31h-4.2M433.3 12.4h-4.2M433.3 77.9h-2.5M433.3 75.6h-2.5M433.3 73.8h-2.5M433.3 72.3h-2.5M433.3 71.1h-2.5M433.3 70h-2.5M433.3 69.1h-2.5M433.3 62.6h-2.5M433.3 59.3h-2.5M433.3 57h-2.5M433.3 55.2h-2.5M433.3 53.7h-2.5M433.3 52.5h-2.5M433.3 51.4h-2.5M433.3 50.5h-2.5M433.3 44h-2.5M433.3 40.7h-2.5M433.3 38.4h-2.5M433.3 36.6h-2.5M433.3 35.1h-2.5M433.3 33.9h-2.5M433.3 32.8h-2.5M433.3 31.9h-2.5M433.3 25.4h-2.5M433.3 22.1h-2.5M433.3 19.8h-2.5M433.3 18h-2.5M433.3 16.5h-2.5M433.3 15.3h-2.5M433.3 14.2h-2.5M433.3 13.3h-2.5" stroke="#555" stroke-width="0.7" fill="none"/>
<text transform="translate(444.8 89.7) scale(0.9 1)" font-size="6.2" fill="#444" stroke="#444" stroke-width="0.05" text-anchor="middle">10<tspan dy="-2.9" font-size="4.5">2</tspan></text>
<text transform="translate(465.3 89.7) scale(0.9 1)" font-size="6.2" fill="#444" stroke="#444" stroke-width="0.05" text-anchor="middle">10<tspan dy="-2.9" font-size="4.5">3</tspan></text>
<text transform="translate(485.8 89.7) scale(0.9 1)" font-size="6.2" fill="#444" stroke="#444" stroke-width="0.05" text-anchor="middle">10<tspan dy="-2.9" font-size="4.5">4</tspan></text>
<text transform="translate(506.3 89.7) scale(0.9 1)" font-size="6.2" fill="#444" stroke="#444" stroke-width="0.05" text-anchor="middle">10<tspan dy="-2.9" font-size="4.5">5</tspan></text>
<text transform="translate(428.3 67.5) scale(0.9 1) rotate(-90)" font-size="6.2" fill="#444" stroke="#444" stroke-width="0.05" text-anchor="middle">10<tspan dy="-2.9" font-size="4.5">2</tspan></text>
<text transform="translate(428.3 48.9) scale(0.9 1) rotate(-90)" font-size="6.2" fill="#444" stroke="#444" stroke-width="0.05" text-anchor="middle">10<tspan dy="-2.9" font-size="4.5">3</tspan></text>
<text transform="translate(428.3 30.3) scale(0.9 1) rotate(-90)" font-size="6.2" fill="#444" stroke="#444" stroke-width="0.05" text-anchor="middle">10<tspan dy="-2.9" font-size="4.5">4</tspan></text>
<text transform="translate(428.3 11.7) scale(0.9 1) rotate(-90)" font-size="6.2" fill="#444" stroke="#444" stroke-width="0.05" text-anchor="middle">10<tspan dy="-2.9" font-size="4.5">5</tspan></text>
<path d="M470 75.5h.9M455.5 61.5h.9M468 69.5h.9M468.5 74h.9M479.5 75.5h.9M461 75.5h.9M475.5 70h.9M472.5 68.5h.9M462 75.5h.9M461.5 73.5h.9M479 74h.9M459 76.5h.9M464.5 75.5h.9M480 68.5h.9M476.5 67.5h.9M477 73.5h.9M474.5 67.5h.9M474.5 72.5h.9M475 76.5h.9M465 74.5h.9M454.5 73h.9M457.5 72.5h.9M488 65h.9M469 69h.9M470.5 77h.9M466 72.5h.9M468 74.5h.9M475.5 71.5h.9M466.5 70.5h.9M466.5 75h.9M466.5 71h.9M464.5 71.5h.9M463 71.5h.9M470 71h.9M469 69.5h.9M464 70.5h.9M468 72.5h.9M481 75h.9M477.5 75.5h.9M466 74h.9M478 76.5h.9M472 72.5h.9M473.5 71.5h.9M477 74.5h.9M471 72h.9M477 73.5h.9M459.5 73h.9M462 64h.9M466 77.5h.9M467.5 74.5h.9M475.5 74.5h.9M474.5 66.5h.9M472.5 72h.9M468.5 70h.9M465.5 73h.9M474 74h.9M477.5 76h.9M454.5 70.5h.9M478 74.5h.9M479.5 71h.9M465 69h.9M472.5 75.5h.9M470 71.5h.9M471.5 72.5h.9M467 74h.9M462.5 71.5h.9M471.5 74h.9M480.5 65h.9M473.5 75h.9M472 76h.9M459.5 76h.9M465 69.5h.9M465.5 69.5h.9M481.5 69h.9M488 67.5h.9M457.5 73.5h.9M470 74h.9M467.5 70h.9M486 71.5h.9M456 72.5h.9M459.5 68h.9M463.5 63.5h.9M468 68.5h.9M471.5 74h.9M467 74.5h.9M478 64.5h.9M472.5 72h.9M477.5 71.5h.9M484 76h.9M470 72.5h.9M475.5 72h.9M468 73.5h.9M470.5 69.5h.9M485.5 70.5h.9M464 72.5h.9M479.5 75h.9M467 69h.9M475 72.5h.9M457 69.5h.9M480.5 76h.9M463 67h.9M478.5 73h.9M474 71h.9M461.5 75h.9M474 74h.9M454 69h.9M458 69h.9M472.5 71h.9M455 74h.9M477 73h.9M475 75.5h.9M463 66h.9M475 67.5h.9M470 74.5h.9M466.5 75h.9M470.5 71.5h.9M469 72.5h.9M467 70h.9M470.5 76h.9M465.5 73h.9M462.5 71h.9M468 64h.9M465.5 73h.9M473.5 69.5h.9M477.5 67h.9M470.5 73.5h.9M470.5 74h.9M472.5 68.5h.9M482.5 67h.9M470 73h.9M472.5 75.5h.9M474.5 74.5h.9M460.5 71.5h.9M473 62h.9M467.5 72.5h.9M465.5 68.5h.9M484 77.5h.9M473 76.5h.9M490.5 70h.9M468.5 68h.9M471 67.5h.9M465.5 70.5h.9M474 74h.9M474.5 74.5h.9M468 72h.9M469 70.5h.9M474 69h.9M473 73.5h.9M469.5 65.5h.9M464.5 73h.9M474.5 72h.9M463.5 75h.9M467.5 75.5h.9M454 75.5h.9M456.5 71h.9M469.5 72.5h.9M463.5 69.5h.9M468.5 69.5h.9M464 69.5h.9M473 71.5h.9M468 70.5h.9M464.5 74h.9M458.5 70.5h.9M470.5 70.5h.9M468.5 75.5h.9M475.5 73h.9M480 72.5h.9M462.5 71.5h.9M472 75.5h.9M464 69h.9M458 71.5h.9M458.5 77h.9M469 76h.9M460.5 73h.9M479 72.5h.9M456 70.5h.9M456.5 72.5h.9M460.5 74h.9M462 77h.9M478 72.5h.9M472.5 66h.9M467 71h.9M475 77h.9M461.5 74h.9M475.5 69h.9M467.5 73.5h.9M465.5 74.5h.9M467 74h.9M461.5 70.5h.9M460 67.5h.9M460.5 73.5h.9M467 70.5h.9M479 73h.9M467 68h.9M454.5 75h.9M478 60h.9M455.5 73h.9M470.5 72.5h.9M469 75h.9M455 71.5h.9M458.5 76.5h.9M457.5 71.5h.9M464.5 70h.9M481.5 71.5h.9M471 72.5h.9M467 73h.9M467 71.5h.9M466.5 72.5h.9M464 75h.9M483 70.5h.9M462 66h.9M462.5 67h.9M462 66.5h.9M474 69.5h.9M475.5 74.5h.9M470.5 71.5h.9M468 68.5h.9M456.5 75.5h.9M463.5 72.5h.9M476.5 76h.9M474.5 70h.9M487.5 70.5h.9M462.5 75h.9M468 76.5h.9M483 69.5h.9M464 70.5h.9M473.5 73.5h.9M471 71.5h.9M466.5 72.5h.9M468 77h.9M467.5 69.5h.9M472.5 69h.9M467 70.5h.9M480.5 68.5h.9M471 76.5h.9M456.5 73h.9M464.5 71h.9M470 72h.9M477 71h.9M470 69h.9M472 75h.9M474.5 73.5h.9M481.5 70h.9M462.5 68h.9M472.5 72.5h.9M462.5 73h.9M466.5 68.5h.9M476.5 70h.9M474.5 72.5h.9M476 72.5h.9M459.5 77h.9M479 69.5h.9M475 71.5h.9M461.5 77h.9M454.5 71.5h.9M456 70.5h.9M482.5 74h.9M475.5 74h.9M472 75.5h.9M459.5 71h.9M465.5 76h.9M468 50h.9M477 41h.9M482 29.5h.9M476 40h.9M485.5 32h.9M490 17h.9M479.5 37.5h.9M470.5 44h.9M463 26.5h.9M481 31.5h.9M468 32.5h.9M478.5 31.5h.9M491 27.5h.9M482 44h.9M463 47h.9M480.5 30h.9M467 54h.9M483 23.5h.9M475 58.5h.9M462.5 34.5h.9M469 45.5h.9M461.5 60h.9M496 44.5h.9M470.5 37.5h.9M482.5 47.5h.9M459.5 44h.9M469 58.5h.9M469 42.5h.9M487.5 53.5h.9M478 33.5h.9M479 46h.9M485.5 32.5h.9M480 37h.9M478.5 25.5h.9M464.5 28h.9M464.5 31h.9M470.5 43h.9M488.5 14h.9M492.5 36h.9M488 30h.9M487.5 46h.9M455 42.5h.9M474.5 16h.9M473.5 59.5h.9M480 30h.9M483.5 24h.9M483.5 54h.9M487 41.5h.9M481.5 39h.9M480.5 44.5h.9M475.5 40h.9M454 66h.9M476 17.5h.9M473 45h.9M480 41h.9M480 34h.9M480.5 28h.9M472.5 14.5h.9M480 23.5h.9M484.5 27h.9M476 33h.9M472.5 31.5h.9M475 38.5h.9M472 36h.9M489.5 27h.9M492 41h.9M476.5 37h.9M489.5 36h.9M459.5 68h.9M493.5 14.5h.9M461 52.5h.9M480.5 55h.9M472.5 41h.9M479 21h.9M484.5 16h.9M464 50h.9M488.5 58h.9M467.5 40h.9M479 25h.9M474 17h.9M477.5 33.5h.9M478 24h.9M477.5 65.5h.9M474 33.5h.9M483 32.5h.9M483.5 52.5h.9M480.5 48h.9M483 36.5h.9M480 24.5h.9M468 41.5h.9M468 55h.9M485.5 44.5h.9M475.5 61.5h.9M475 32.5h.9M471.5 29.5h.9M481 27.5h.9M471 67.5h.9M484 13.5h.9M466.5 41h.9M482 50.5h.9M482.5 42.5h.9M479.5 37h.9M467 53h.9M485 37.5h.9M480 30h.9M461 58.5h.9M488 25.5h.9M478 52h.9M473 39h.9M483 56.5h.9M466.5 46.5h.9M465 47h.9M483 31.5h.9M482 30h.9M492.5 26.5h.9M480.5 23h.9M469 52.5h.9M470.5 41h.9M476 70.5h.9M467.5 54h.9M472 45.5h.9M483 37h.9M484.5 46h.9M470 38.5h.9M476.5 31.5h.9M460 25.5h.9M473 64h.9M469 45.5h.9M469 50h.9M469.5 30.5h.9M478.5 43h.9M478 38h.9M480 39.5h.9M460.5 61h.9M473 35.5h.9M483 12.5h.9M460.5 30.5h.9M478 47.5h.9M476 25h.9M468 41.5h.9M474 58.5h.9M466.5 43.5h.9M480 49h.9M475 39.5h.9M463 46.5h.9M486 42h.9M475 69h.9M478.5 50.5h.9M483.5 15h.9M481.5 47h.9M472 37h.9M474.5 39h.9M472.5 37h.9M475.5 44.5h.9M468 51.5h.9M478.5 20h.9M476.5 47h.9M470.5 27.5h.9M464.5 43h.9M469 58h.9M466.5 25h.9M471.5 42.5h.9M476.5 54.5h.9M476 45.5h.9M484.5 23h.9M485 32h.9M464 28.5h.9M484 48.5h.9M490 37.5h.9M470 26.5h.9M480.5 45.5h.9M465.5 42h.9M483 13h.9M482 37h.9M479 32h.9M475 30.5h.9M469 34h.9M461 47.5h.9M477.5 59.5h.9M477.5 23.5h.9M482 20h.9M475.5 20.5h.9M462.5 52.5h.9M463 29.5h.9M484.5 47h.9M484.5 42h.9M476 52.5h.9M466 38.5h.9M464.5 32h.9M483.5 31h.9M474.5 37h.9M483 34.5h.9M486.5 9.5h.9M465 39h.9M464 53h.9M469 51.5h.9M474 43.5h.9M474.5 45.5h.9M492.5 25h.9M470 29h.9M488 35.5h.9M465.5 39h.9M481 27h.9M481.5 37h.9M494.5 27h.9M476 35h.9M476.5 37h.9M489 28.5h.9M484.5 31.5h.9M476 44h.9M482.5 33h.9M477 60.5h.9M474.5 31h.9M485.5 36.5h.9M468 32.5h.9M470.5 31h.9M477.5 70.5h.9M489 31.5h.9M485.5 36.5h.9M488.5 50.5h.9M465.5 67h.9M480 34.5h.9M483 54h.9M480 36h.9M473 55h.9M463 59.5h.9M467.5 29h.9M463.5 44.5h.9M478.5 77h.9M487.5 77.5h.9M485.5 77.5h.9M479.5 77.5h.9M486.5 77.5h.9M457.5 77h.9M461.5 77.5h.9M472.5 77.5h.9M487.5 77.5h.9M457 77h.9M477 77.5h.9" stroke="#000" stroke-opacity="0.65" stroke-width=".9" fill="none"/>
<path d="M467.5 75h.9M466 73.5h.9M466 68.5h.9M476 73.5h.9M468.5 70h.9M467.5 71.5h.9M463.5 71h.9M479 77.5h.9M479 75h.9M476 72.5h.9M477 73h.9M476.5 73h.9M478.5 75.5h.9M459.5 74.5h.9M457.5 75h.9M475.5 72h.9M478.5 73h.9M471 74h.9M479.5 72h.9M460 73.5h.9M469 72h.9M464 73h.9M469 69.5h.9M480.5 68h.9M468.5 70h.9M458 76.5h.9M470.5 70.5h.9M464.5 73h.9M464.5 70h.9M463 72.5h.9M479.5 70.5h.9M456 73.5h.9M458.5 77.5h.9M469.5 72h.9M466.5 64.5h.9M473.5 72.5h.9M488.5 73.5h.9M475.5 74h.9M463 72.5h.9M467.5 69h.9M470 75.5h.9M472 71h.9M488 73.5h.9M474.5 77.5h.9M471 73.5h.9M480.5 70.5h.9M469 69.5h.9M469.5 71h.9M464.5 71h.9M470.5 68h.9M464.5 69.5h.9M467 71.5h.9M478 68h.9M469 71h.9M469 74.5h.9M477.5 67.5h.9M466 74h.9M469.5 70.5h.9M480.5 71h.9M458.5 71h.9M486.5 70h.9M466 72.5h.9M473 76.5h.9M469 63.5h.9M475 75h.9M473 73h.9M478 67h.9M463.5 73.5h.9M476.5 77h.9M473.5 70h.9M472 66h.9M475 73.5h.9M472.5 70h.9M468.5 72h.9M467 76h.9M475.5 76.5h.9M466.5 69h.9M472.5 69.5h.9M477 72.5h.9M456 70.5h.9M477.5 68.5h.9M475 68.5h.9M466.5 69.5h.9M470.5 71h.9M472 67h.9M470 71.5h.9M476.5 68.5h.9M464 71.5h.9M486 67.5h.9M470.5 73h.9M471.5 70h.9M467.5 66.5h.9M466 69.5h.9M472 73.5h.9M468.5 68h.9M474 75h.9M470.5 73h.9M463.5 69.5h.9M472 70h.9M467 65.5h.9M466.5 68.5h.9M462 76h.9M483 70h.9M467.5 72h.9M463.5 72.5h.9M481.5 73.5h.9M455.5 69h.9M455 68.5h.9M466.5 71.5h.9M467 73h.9M463.5 71h.9M485.5 72.5h.9M458 68.5h.9M475.5 74.5h.9M470.5 67h.9M466 67.5h.9M470 71.5h.9M470.5 71.5h.9M471 70.5h.9M462.5 71h.9M464 72.5h.9M481.5 76h.9M464 73.5h.9M466 71.5h.9M461.5 73.5h.9M470.5 71.5h.9M468.5 72.5h.9M472 70.5h.9M460 70.5h.9M454.5 69h.9M469 70.5h.9M459.5 72h.9M467.5 67h.9M468 64h.9M455.5 70h.9M477 70.5h.9M454.5 69.5h.9M470 69.5h.9M465.5 67.5h.9M466 76h.9M469.5 65.5h.9M471 70.5h.9M480.5 70h.9M462 76.5h.9M466.5 68h.9M471.5 70.5h.9M465.5 75.5h.9M479 72h.9M466 67h.9M474 76.5h.9M467 69h.9M485.5 73h.9M481 75.5h.9M455 74.5h.9M482.5 69h.9M477 65h.9M477 71h.9M458.5 69.5h.9M455 72h.9M477.5 75.5h.9M480 71.5h.9M474 70.5h.9M474.5 69.5h.9M465 67.5h.9M476 67.5h.9M496.5 71.5h.9M479.5 75.5h.9M481.5 63.5h.9M475.5 69h.9M471.5 74h.9M470.5 75h.9M459.5 68h.9M466.5 72h.9M458.5 68.5h.9M466 67.5h.9M465.5 68h.9M456.5 66h.9M473 71.5h.9M462.5 70.5h.9M474.5 71h.9M460.5 66h.9M475 76h.9M469.5 70.5h.9M473 67h.9M458.5 65.5h.9M461.5 72h.9M454 62.5h.9M472.5 77h.9M468.5 71h.9M472 77h.9M479.5 75h.9M480.5 67h.9M464.5 76.5h.9M469 66h.9M459.5 72.5h.9M467 70h.9M460.5 69.5h.9M472 73h.9M486 65.5h.9M469.5 70h.9M457 71.5h.9M469 72.5h.9M481 71h.9M457 67.5h.9M469.5 75h.9M465 69.5h.9M471.5 72h.9M466.5 71h.9M468.5 70h.9M472 73.5h.9M470 76h.9M468.5 71.5h.9M455.5 69.5h.9M472 73h.9M467.5 71.5h.9M476.5 66h.9M469.5 73h.9M468.5 72h.9M456 72.5h.9M476 68h.9M469.5 72.5h.9M476.5 67.5h.9M470 67h.9M465.5 74h.9M467 69h.9M461 70.5h.9M463 75.5h.9M455.5 76.5h.9M456 72h.9M462.5 73h.9M476.5 73.5h.9M478 70h.9M463.5 75.5h.9M470.5 68.5h.9M457.5 69h.9M480.5 71.5h.9M466 73.5h.9M469 72.5h.9M475 73h.9M476 68h.9M463.5 71h.9M477 70h.9M467 75.5h.9M475.5 72.5h.9M471.5 73.5h.9M476 76.5h.9M474 74h.9M478.5 71h.9M457.5 74.5h.9M466 68.5h.9M473 68h.9M463.5 75h.9M476.5 69.5h.9M462.5 74h.9M471.5 70h.9M480.5 75h.9M499.5 8.5h.9M478.5 11.5h.9M473 45h.9M480 40.5h.9M473 53.5h.9M478 44.5h.9M481 34.5h.9M480 26h.9M485 33h.9M478 25.5h.9M477 42h.9M483.5 22.5h.9M455.5 18.5h.9M484.5 38h.9M488.5 45.5h.9M470 29h.9M461.5 35h.9M470.5 62.5h.9M467 41h.9M495 16h.9M480.5 60.5h.9M486 51.5h.9M463 46.5h.9M479 13h.9M480.5 39h.9M479 35.5h.9M480 36.5h.9M492 33.5h.9M477 39h.9M472 25.5h.9M490.5 21.5h.9M473.5 29h.9M464.5 27h.9M484 33h.9M470.5 23h.9M460 52.5h.9M467 38.5h.9M483 41h.9M478 64.5h.9M473 36.5h.9M475 46h.9M466.5 43h.9M486 15h.9M486.5 40.5h.9M483 53.5h.9M497 19.5h.9M477 41.5h.9M485.5 59.5h.9M482 37.5h.9M469.5 56h.9M474 44h.9M473.5 58h.9M478 44h.9M484.5 18.5h.9M475.5 22h.9M472 16h.9M485.5 15h.9M482 41.5h.9M469.5 64h.9M466.5 43h.9M478 65h.9M471.5 38.5h.9M474.5 48h.9M471 49.5h.9M470.5 30.5h.9M486 48h.9M475 59h.9M471.5 22.5h.9M495.5 26.5h.9M478 55h.9M470.5 46.5h.9M483 11h.9M472.5 38h.9M475 37.5h.9M482.5 35.5h.9M468.5 44.5h.9M477.5 31.5h.9M461.5 51h.9M467.5 45h.9M489.5 22.5h.9M487.5 21h.9M464 46h.9M488 39h.9M487.5 14h.9M471.5 37.5h.9M478 38h.9M460.5 35.5h.9M473.5 70h.9M468 35.5h.9M466 42.5h.9M499.5 15h.9M470.5 37.5h.9M469.5 52h.9M479 47h.9M489.5 15h.9M482 29h.9M491.5 14h.9M467 29.5h.9M472.5 29.5h.9M476 33h.9M467.5 72.5h.9M459.5 71.5h.9M466 17h.9M464 50.5h.9M481 28h.9M472.5 19.5h.9M482.5 25h.9M483.5 43.5h.9M479 33h.9M487.5 55h.9M458 26h.9M468.5 38h.9M500 9.5h.9M473 38h.9M463 34h.9M458 34h.9M492.5 25.5h.9M469.5 54h.9M489 25h.9M479.5 36.5h.9M458 43h.9M459 54h.9M480 43h.9M475 43.5h.9M477.5 33h.9M482 33.5h.9M466 58h.9M479.5 10h.9M481.5 51.5h.9M476 55h.9M485 26h.9M479.5 50h.9M473 37h.9M466.5 38.5h.9M474 50.5h.9M490.5 57h.9M472 31.5h.9M475 43h.9M485 44h.9M474 26h.9M480.5 39h.9M475.5 29h.9M473 31h.9M492 10.5h.9M476 48h.9M481 31h.9M478.5 16h.9M462.5 59.5h.9M483 21.5h.9M479.5 27h.9M469.5 54h.9M473.5 38.5h.9M477.5 56h.9M474 37h.9M490.5 49.5h.9M464.5 60h.9M470 22h.9M493 19.5h.9M482 28.5h.9M478 50h.9M474 41.5h.9M461 49.5h.9M489 56.5h.9M485 45.5h.9M481.5 46.5h.9M479.5 31h.9M469.5 32.5h.9M471 56.5h.9M465.5 60h.9M464.5 44h.9M482 24.5h.9M473 40.5h.9M470 42h.9M477 55.5h.9M466 33.5h.9M474 42.5h.9M466.5 59h.9M489.5 10h.9M470 59.5h.9M485.5 14h.9M471 32h.9M464.5 59.5h.9M479.5 17.5h.9M474.5 33h.9M477 33h.9M462 62h.9M469 37h.9M485 48h.9M486 9h.9M481 25h.9M501.5 20h.9M477.5 55.5h.9M479.5 23.5h.9M472.5 53.5h.9M474.5 54h.9M471 13h.9M466.5 60.5h.9M476 13h.9M474.5 37h.9M474.5 55h.9M480.5 34.5h.9M466.5 27h.9M474.5 77h.9M476.5 77h.9M463.5 77.5h.9M474.5 77.5h.9M461 77h.9M466 77h.9M488 77h.9M475 77.5h.9M467 77.5h.9M461 77.5h.9M460.5 77.5h.9M483 77.5h.9M468.5 77.5h.9" stroke="#000" stroke-opacity="0.48" stroke-width=".9" fill="none"/>
<path d="M477.5 70h.9M468 71h.9M468 72.5h.9M476 72h.9M483.5 70.5h.9M470.5 75.5h.9M476 73.5h.9M480.5 70.5h.9M464.5 69h.9M466 70h.9M455 65.5h.9M461.5 72h.9M462.5 71.5h.9M460.5 73.5h.9M467.5 69h.9M468.5 70.5h.9M473.5 68h.9M470.5 75.5h.9M470.5 70.5h.9M473.5 68.5h.9M468 70h.9M468.5 72.5h.9M466.5 75h.9M472 74.5h.9M478 72h.9M473 77h.9M477.5 74h.9M454.5 75h.9M483.5 69h.9M471.5 70h.9M473.5 76h.9M465 74.5h.9M462.5 75.5h.9M470 72h.9M467.5 71.5h.9M455.5 75h.9M480 64.5h.9M462.5 75h.9M457 76.5h.9M474.5 72.5h.9M462 75.5h.9M473 73h.9M470.5 75.5h.9M473 74.5h.9M457.5 64h.9M484 70.5h.9M466 66.5h.9M473.5 71.5h.9M458 75h.9M470.5 76h.9M475.5 74.5h.9M485 70.5h.9M468 70.5h.9M468 68h.9M474 67.5h.9M474.5 70.5h.9M457 72h.9M456 71h.9M468 72.5h.9M468 72.5h.9M457.5 65.5h.9M461.5 70h.9M469 73h.9M458.5 70h.9M466 68h.9M463 71h.9M457.5 74h.9M478 73h.9M478.5 73.5h.9M466.5 71.5h.9M465 72.5h.9M471 77h.9M454.5 74h.9M473.5 73h.9M473.5 75.5h.9M478.5 67h.9M471.5 72h.9M468.5 71.5h.9M464.5 73h.9M480.5 73h.9M468 65h.9M480 74h.9M467.5 75.5h.9M471 68.5h.9M466.5 71h.9M466.5 70.5h.9M459.5 74h.9M467 72.5h.9M475 72h.9M474.5 73.5h.9M472.5 74.5h.9M488.5 74h.9M478 75h.9M465 77.5h.9M465 77h.9M467.5 69.5h.9M466.5 74h.9M455 68.5h.9M478 76.5h.9M466 71.5h.9M473 68.5h.9M477 73h.9M461 72.5h.9M473.5 72.5h.9M460 68.5h.9M460.5 70.5h.9M465 67h.9M466.5 73h.9M467 71.5h.9M479.5 74.5h.9M468.5 69h.9M468 75h.9M459 73h.9M469.5 71h.9M458.5 74h.9M466.5 66.5h.9M459.5 76h.9M474.5 75.5h.9M462.5 72.5h.9M484 73.5h.9M484 65.5h.9M471.5 71h.9M482 70h.9M474.5 74h.9M475 26h.9M463.5 61.5h.9M467 55h.9M473.5 17.5h.9M493.5 10h.9M482.5 36.5h.9M469 39.5h.9M484.5 32h.9M488.5 28.5h.9M478.5 37.5h.9M484.5 47h.9M479.5 28h.9M489.5 24.5h.9M487 25h.9M482 36h.9M475 38h.9M488.5 48h.9M472.5 35h.9M480 49.5h.9M474.5 26h.9M477 33h.9M476 42h.9M473.5 59.5h.9M478.5 53.5h.9M476.5 32h.9M472 61.5h.9M481.5 31h.9M477.5 44h.9M497 27.5h.9M480 52h.9M479.5 69h.9M465.5 52h.9M488 13.5h.9M475.5 27h.9M485.5 40.5h.9M477.5 66h.9M469 48.5h.9M468 61h.9M480 36h.9M487 26h.9M483 41h.9M476 43h.9M468 19.5h.9M479 42.5h.9M480 46h.9M479.5 19.5h.9M471 38.5h.9M486 29.5h.9M489.5 8.5h.9M480 14h.9M478.5 30h.9M490 36.5h.9M470.5 25.5h.9M477 41h.9M491 23h.9M490 20.5h.9M473.5 68h.9M484 17.5h.9M481.5 31.5h.9M481.5 28h.9M470 50h.9M479.5 73h.9M477 42h.9M472.5 32.5h.9M488 30.5h.9M488 37.5h.9M480 34.5h.9M492 11h.9M474.5 34.5h.9M483 60h.9M485.5 41.5h.9M479.5 47h.9M475.5 26h.9M470.5 18.5h.9M495.5 12h.9M472 34.5h.9M469.5 37h.9M476.5 28h.9M476.5 27h.9M489 46h.9M474.5 47h.9M490 22.5h.9M475.5 67h.9M467 43h.9M474.5 30.5h.9M472 37h.9M471.5 54h.9M485 34.5h.9M476 26h.9M467.5 50h.9M474.5 10h.9M480.5 43.5h.9M472.5 34h.9M465 39.5h.9M495 48h.9M478.5 36h.9M470 26h.9M468.5 34.5h.9M470.5 28h.9M487 49.5h.9M490.5 29h.9M479 37h.9M482 40h.9M480 26.5h.9M485 31.5h.9M484 24.5h.9M473.5 47h.9M473.5 23.5h.9M477 26h.9M489.5 20h.9M461.5 49h.9M481.5 30h.9M467 13h.9M471.5 24h.9M454.5 37.5h.9M488.5 47.5h.9M476 22h.9M484.5 27h.9M482.5 59.5h.9M486.5 49.5h.9M492 14h.9M469.5 43.5h.9M465 31.5h.9M492.5 19h.9M494.5 61.5h.9M493 61h.9M471.5 77h.9M467.5 77.5h.9M461.5 77.5h.9M485.5 77h.9" stroke="#000" stroke-opacity="0.31" stroke-width=".9" fill="none"/>
<path d="M464.5 51.5h.9M461 54h.9M461.5 43.5h.9M483.5 22.5h.9M487.5 27h.9M494.5 31.5h.9M469.5 21h.9M460 13.5h.9M491 31.5h.9M486.5 42.5h.9M476.5 17.5h.9M467.5 55h.9M465 22h.9M486 49h.9M488.5 15h.9M498 13h.9M472 18h.9M472.5 19h.9M458 50.5h.9M462.5 51h.9M487.5 40.5h.9M467.5 27.5h.9M494.5 51h.9M489.5 15h.9M471 21.5h.9M488 47h.9M474.5 40.5h.9M464.5 38.5h.9M468 24h.9M461 41.5h.9M489.5 53h.9M456 37h.9" stroke="#000" stroke-opacity="0.2" stroke-width=".9" fill="none"/>
<text transform="translate(492.6 21.4) scale(0.92 1)" font-size="14.8" font-weight="bold" font-style="normal" fill="#111" stroke="#111" stroke-width="0.4" text-anchor="middle">21.0%</text>
<text transform="translate(416.3 45.5) rotate(-90)" font-size="16.9" font-weight="bold" font-style="normal" fill="#111" stroke="#111" stroke-width="0.4" text-anchor="middle">CD36</text>
<text transform="translate(474.5 112.4) scale(0.96 1)" font-size="16.7" font-weight="bold" font-style="normal" fill="#111" stroke="#111" stroke-width="0.4" text-anchor="middle">CD34</text>
<rect x="86.8" y="127.6" width="90.6" height="72.8" fill="#fff" stroke="#4a4a4a" stroke-width="0.9"/>
<path d="M87.2 200.4L87.2 189.3L87.9 188.3L88.6 186.2L89.3 186.1L90 184.8L90.7 183.3L91.4 180.5L92.1 180.2L92.8 176.9L93.5 176.1L94.2 170.1L94.9 167.3L95.6 162.9L96.3 159.9L97 157.2L97.7 151.9L98.4 147L99.1 144.7L99.8 139.1L100.5 132.4L101.2 132.6L101.9 134.2L102.6 131.8L103.3 137.6L104 143.7L104.7 144.2L105.4 149.7L106.1 157.6L106.8 166.2L107.5 170.1L108.2 176.6L108.9 182L109.6 186.8L110.3 187.8L111 190.2L111.7 191.3L112.4 192.1L113.1 194.2L113.8 195L114.5 196.5L115.2 196.7L115.9 196.9L116.6 197.1L117.3 199.3L118 199.2L118.7 199.1L119.4 199.2L120.1 200.1L120.1 200.4Z" fill="#7f7f7f" stroke="#161616" stroke-width="1.2" stroke-linejoin="round"/>
<path d="M109 127.6V200.4M109 190.3H177.4" stroke="#404040" stroke-width="1" fill="none"/>
<path d="M86.8 127.6V200.4" stroke="#151515" stroke-width="1.3" fill="none"/>
<path d="M86.8 200.4H177.4" stroke="#2a2a2a" stroke-width="1.1" fill="none"/>
<path d="M99 200.4v4.8M122.2 200.4v4.8M145.4 200.4v4.8M168.6 200.4v4.8M86.9 200.4v3.0M89.8 200.4v3.0M92 200.4v3.0M93.9 200.4v3.0M95.4 200.4v3.0M96.8 200.4v3.0M97.9 200.4v3.0M106 200.4v3.0M110.1 200.4v3.0M113 200.4v3.0M115.2 200.4v3.0M117.1 200.4v3.0M118.6 200.4v3.0M120 200.4v3.0M121.1 200.4v3.0M129.2 200.4v3.0M133.3 200.4v3.0M136.2 200.4v3.0M138.4 200.4v3.0M140.3 200.4v3.0M141.8 200.4v3.0M143.2 200.4v3.0M144.3 200.4v3.0M152.4 200.4v3.0M156.5 200.4v3.0M159.4 200.4v3.0M161.6 200.4v3.0M163.5 200.4v3.0M165 200.4v3.0M166.4 200.4v3.0M167.5 200.4v3.0M175.6 200.4v3.0M86.8 200.4h-4.6M86.8 197.4h-3M86.8 194.3h-3M86.8 191.3h-3M86.8 188.3h-3M86.8 185.2h-4.6M86.8 182.2h-3M86.8 179.2h-3M86.8 176.1h-3M86.8 173.1h-3M86.8 170.1h-4.6M86.8 167h-3M86.8 164h-3M86.8 161h-3M86.8 157.9h-3M86.8 154.9h-4.6M86.8 151.9h-3M86.8 148.8h-3M86.8 145.8h-3M86.8 142.8h-3M86.8 139.7h-4.6M86.8 136.7h-3M86.8 133.7h-3M86.8 130.6h-3M86.8 127.6h-3" stroke="#111" stroke-width="1.05" fill="none"/>
<text transform="translate(99.6 214.6) scale(0.9 1)" font-size="7.0" fill="#111" stroke="#111" stroke-width="0.2" text-anchor="middle">10<tspan dy="-3.2" font-size="5">2</tspan></text>
<text transform="translate(122.8 214.6) scale(0.9 1)" font-size="7.0" fill="#111" stroke="#111" stroke-width="0.2" text-anchor="middle">10<tspan dy="-3.2" font-size="5">3</tspan></text>
<text transform="translate(146 214.6) scale(0.9 1)" font-size="7.0" fill="#111" stroke="#111" stroke-width="0.2" text-anchor="middle">10<tspan dy="-3.2" font-size="5">4</tspan></text>
<text transform="translate(169.2 214.6) scale(0.9 1)" font-size="7.0" fill="#111" stroke="#111" stroke-width="0.2" text-anchor="middle">10<tspan dy="-3.2" font-size="5">5</tspan></text>
<text transform="translate(81 200.4) scale(0.9 1) rotate(-90)" font-size="6.9" fill="#111" stroke="#111" stroke-width="0.15" text-anchor="middle">0</text>
<text transform="translate(81 185.2) scale(0.9 1) rotate(-90)" font-size="6.9" fill="#111" stroke="#111" stroke-width="0.15" text-anchor="middle">50</text>
<text transform="translate(81 170.1) scale(0.9 1) rotate(-90)" font-size="6.9" fill="#111" stroke="#111" stroke-width="0.15" text-anchor="middle">100</text>
<text transform="translate(81 154.9) scale(0.9 1) rotate(-90)" font-size="6.9" fill="#111" stroke="#111" stroke-width="0.15" text-anchor="middle">150</text>
<text transform="translate(81 139.7) scale(0.9 1) rotate(-90)" font-size="6.9" fill="#111" stroke="#111" stroke-width="0.15" text-anchor="middle">200</text>
<text transform="translate(72.2 164.5) scale(0.9 1) rotate(-90)" font-size="9" fill="#2a2a2a" stroke="#2a2a2a" stroke-width="0.2" text-anchor="middle">Count</text>
<text transform="translate(157.5 142.6) scale(0.92 1)" font-size="14.8" font-weight="bold" font-style="normal" fill="#111" stroke="#111" stroke-width="0.4" text-anchor="middle">8.9%</text>
<text transform="translate(132 235) scale(0.96 1)" font-size="16.7" font-weight="bold" font-style="normal" fill="#111" stroke="#111" stroke-width="0.4" text-anchor="middle">CD14</text>
<rect x="243.1" y="126.4" width="89.6" height="72.3" fill="#fff" stroke="#4a4a4a" stroke-width="0.9"/>
<path d="M243.6 198.7L243.6 188.3L244.3 186.7L245 186L245.7 184.5L246.4 182.7L247.1 183.1L247.8 180.3L248.5 178.9L249.2 176.5L249.9 173L250.6 170.3L251.3 165.6L252 165.8L252.7 159.7L253.4 157.4L254.1 150.2L254.8 148.1L255.5 142.9L256.2 139.5L256.9 133.1L257.6 129.9L258.3 130.3L259 132.9L259.7 134.9L260.4 139.1L261.1 141.9L261.8 146.4L262.5 154.5L263.2 159.1L263.9 169.5L264.6 174L265.3 179.5L266 183.4L266.7 186.8L267.4 187.8L268.1 189.2L268.8 190.5L269.5 192.8L270.2 193.2L270.9 193.4L271.6 194.6L272.3 196.5L273 195.7L273.7 196.9L274.4 197.2L275.1 197.4L275.8 197.7L276.5 198.7L276.5 198.7Z" fill="#7f7f7f" stroke="#161616" stroke-width="1.2" stroke-linejoin="round"/>
<path d="M265.3 126.4V198.7M265.3 188.2H332.7" stroke="#404040" stroke-width="1" fill="none"/>
<path d="M243.1 126.4V198.7" stroke="#151515" stroke-width="1.3" fill="none"/>
<path d="M243.1 198.7H332.7" stroke="#2a2a2a" stroke-width="1.1" fill="none"/>
<path d="M254.4 198.7v4.8M277.6 198.7v4.8M300.8 198.7v4.8M324 198.7v4.8M245.2 198.7v3.0M247.4 198.7v3.0M249.3 198.7v3.0M250.8 198.7v3.0M252.2 198.7v3.0M253.3 198.7v3.0M261.4 198.7v3.0M265.5 198.7v3.0M268.4 198.7v3.0M270.6 198.7v3.0M272.5 198.7v3.0M274 198.7v3.0M275.4 198.7v3.0M276.5 198.7v3.0M284.6 198.7v3.0M288.7 198.7v3.0M291.6 198.7v3.0M293.8 198.7v3.0M295.7 198.7v3.0M297.2 198.7v3.0M298.6 198.7v3.0M299.7 198.7v3.0M307.8 198.7v3.0M311.9 198.7v3.0M314.8 198.7v3.0M317 198.7v3.0M318.9 198.7v3.0M320.4 198.7v3.0M321.8 198.7v3.0M322.9 198.7v3.0M331 198.7v3.0M243.1 198.7h-4.6M243.1 195.7h-3M243.1 192.7h-3M243.1 189.7h-3M243.1 186.7h-3M243.1 183.6h-4.6M243.1 180.6h-3M243.1 177.6h-3M243.1 174.6h-3M243.1 171.6h-3M243.1 168.6h-4.6M243.1 165.6h-3M243.1 162.6h-3M243.1 159.5h-3M243.1 156.5h-3M243.1 153.5h-4.6M243.1 150.5h-3M243.1 147.5h-3M243.1 144.5h-3M243.1 141.5h-3M243.1 138.5h-4.6M243.1 135.4h-3M243.1 132.4h-3M243.1 129.4h-3M243.1 126.4h-3" stroke="#111" stroke-width="1.05" fill="none"/>
<text transform="translate(255 212.9) scale(0.9 1)" font-size="7.0" fill="#111" stroke="#111" stroke-width="0.2" text-anchor="middle">10<tspan dy="-3.2" font-size="5">2</tspan></text>
<text transform="translate(278.2 212.9) scale(0.9 1)" font-size="7.0" fill="#111" stroke="#111" stroke-width="0.2" text-anchor="middle">10<tspan dy="-3.2" font-size="5">3</tspan></text>
<text transform="translate(301.4 212.9) scale(0.9 1)" font-size="7.0" fill="#111" stroke="#111" stroke-width="0.2" text-anchor="middle">10<tspan dy="-3.2" font-size="5">4</tspan></text>
<text transform="translate(324.6 212.9) scale(0.9 1)" font-size="7.0" fill="#111" stroke="#111" stroke-width="0.2" text-anchor="middle">10<tspan dy="-3.2" font-size="5">5</tspan></text>
<text transform="translate(237.3 198.7) scale(0.9 1) rotate(-90)" font-size="6.9" fill="#111" stroke="#111" stroke-width="0.15" text-anchor="middle">0</text>
<text transform="translate(237.3 183.6) scale(0.9 1) rotate(-90)" font-size="6.9" fill="#111" stroke="#111" stroke-width="0.15" text-anchor="middle">50</text>
<text transform="translate(237.3 168.6) scale(0.9 1) rotate(-90)" font-size="6.9" fill="#111" stroke="#111" stroke-width="0.15" text-anchor="middle">100</text>
<text transform="translate(237.3 153.5) scale(0.9 1) rotate(-90)" font-size="6.9" fill="#111" stroke="#111" stroke-width="0.15" text-anchor="middle">150</text>
<text transform="translate(237.3 138.4) scale(0.9 1) rotate(-90)" font-size="6.9" fill="#111" stroke="#111" stroke-width="0.15" text-anchor="middle">200</text>
<text transform="translate(228.5 163.1) scale(0.9 1) rotate(-90)" font-size="9" fill="#2a2a2a" stroke="#2a2a2a" stroke-width="0.2" text-anchor="middle">Count</text>
<text transform="translate(313.5 141.2) scale(0.92 1)" font-size="14.8" font-weight="bold" font-style="normal" fill="#111" stroke="#111" stroke-width="0.4" text-anchor="middle">6.9%</text>
<text transform="translate(288 234.5) scale(0.96 1)" font-size="16.7" font-weight="bold" font-style="normal" fill="#111" stroke="#111" stroke-width="0.4" text-anchor="middle">CD15</text>
<rect x="397" y="127.2" width="84.7" height="72.2" fill="#fff" stroke="#4a4a4a" stroke-width="0.9"/>
<path d="M398 199.4L398 191.8L398.7 191.9L399.4 188.7L400.1 188.2L400.8 184.6L401.5 182.9L402.2 179.7L402.9 177.8L403.6 174.6L404.3 171.7L405 169.3L405.7 166.6L406.4 163L407.1 157.7L407.8 153.9L408.5 151L409.2 146.1L409.9 145.8L410.6 134.8L411.3 134.4L412 129.9L412.7 130.4L413.4 129.9L414.1 134L414.8 140.6L415.5 141.6L416.2 152.5L416.9 157L417.6 167L418.3 170.2L419 174.3L419.7 178.8L420.4 182.8L421.1 185.2L421.8 187.4L422.5 189.3L423.2 190.1L423.9 192L424.6 194.4L425.3 194.7L426 196.5L426.7 196.9L427.4 196.2L428.1 197.8L428.8 197.8L429.5 198.6L430.2 198.1L430.9 198.4L431.6 198.6L432.3 198.7L433 198.3L433.7 199.3L434.4 199.3L435.1 199.4L435.8 198.5L436.5 199.2L437.2 199.4L437.9 199.3L438.6 198.2L439.3 199.3L440 198.9L440.7 199.1L441.4 199.3L442.1 199.4L442.1 199.4Z" fill="#7f7f7f" stroke="#161616" stroke-width="1.2" stroke-linejoin="round"/>
<path d="M411.3 136.6V128" stroke="#222" stroke-width="0.9"/>
<path d="M413.7 136.6V128" stroke="#222" stroke-width="0.9"/>
<path d="M417.8 127.2V199.4M417.8 188.9H481.7" stroke="#404040" stroke-width="1" fill="none"/>
<path d="M397 127.2V199.4" stroke="#151515" stroke-width="1.3" fill="none"/>
<path d="M397 199.4H481.7" stroke="#2a2a2a" stroke-width="1.1" fill="none"/>
<path d="M407.8 199.4v4.8M429.8 199.4v4.8M451.8 199.4v4.8M473.8 199.4v4.8M399 199.4v3.0M401.2 199.4v3.0M402.9 199.4v3.0M404.4 199.4v3.0M405.7 199.4v3.0M406.8 199.4v3.0M414.4 199.4v3.0M418.3 199.4v3.0M421 199.4v3.0M423.2 199.4v3.0M424.9 199.4v3.0M426.4 199.4v3.0M427.7 199.4v3.0M428.8 199.4v3.0M436.4 199.4v3.0M440.3 199.4v3.0M443 199.4v3.0M445.2 199.4v3.0M446.9 199.4v3.0M448.4 199.4v3.0M449.7 199.4v3.0M450.8 199.4v3.0M458.4 199.4v3.0M462.3 199.4v3.0M465 199.4v3.0M467.2 199.4v3.0M468.9 199.4v3.0M470.4 199.4v3.0M471.7 199.4v3.0M472.8 199.4v3.0M480.4 199.4v3.0M397 199.4h-4.6M397 196.4h-3M397 193.4h-3M397 190.4h-3M397 187.4h-3M397 184.4h-4.6M397 181.4h-3M397 178.3h-3M397 175.3h-3M397 172.3h-3M397 169.3h-4.6M397 166.3h-3M397 163.3h-3M397 160.3h-3M397 157.3h-3M397 154.3h-4.6M397 151.3h-3M397 148.3h-3M397 145.3h-3M397 142.2h-3M397 139.2h-4.6M397 136.2h-3M397 133.2h-3M397 130.2h-3M397 127.2h-3" stroke="#111" stroke-width="1.05" fill="none"/>
<text transform="translate(408.4 213.6) scale(0.9 1)" font-size="7.0" fill="#111" stroke="#111" stroke-width="0.2" text-anchor="middle">10<tspan dy="-3.2" font-size="5">2</tspan></text>
<text transform="translate(430.4 213.6) scale(0.9 1)" font-size="7.0" fill="#111" stroke="#111" stroke-width="0.2" text-anchor="middle">10<tspan dy="-3.2" font-size="5">3</tspan></text>
<text transform="translate(452.4 213.6) scale(0.9 1)" font-size="7.0" fill="#111" stroke="#111" stroke-width="0.2" text-anchor="middle">10<tspan dy="-3.2" font-size="5">4</tspan></text>
<text transform="translate(474.4 213.6) scale(0.9 1)" font-size="7.0" fill="#111" stroke="#111" stroke-width="0.2" text-anchor="middle">10<tspan dy="-3.2" font-size="5">5</tspan></text>
<text transform="translate(391.2 199.4) scale(0.9 1) rotate(-90)" font-size="6.9" fill="#111" stroke="#111" stroke-width="0.15" text-anchor="middle">0</text>
<text transform="translate(391.2 184.4) scale(0.9 1) rotate(-90)" font-size="6.9" fill="#111" stroke="#111" stroke-width="0.15" text-anchor="middle">50</text>
<text transform="translate(391.2 169.3) scale(0.9 1) rotate(-90)" font-size="6.9" fill="#111" stroke="#111" stroke-width="0.15" text-anchor="middle">100</text>
<text transform="translate(391.2 154.3) scale(0.9 1) rotate(-90)" font-size="6.9" fill="#111" stroke="#111" stroke-width="0.15" text-anchor="middle">150</text>
<text transform="translate(391.2 139.2) scale(0.9 1) rotate(-90)" font-size="6.9" fill="#111" stroke="#111" stroke-width="0.15" text-anchor="middle">200</text>
<text transform="translate(382.4 163.8) scale(0.9 1) rotate(-90)" font-size="9" fill="#2a2a2a" stroke="#2a2a2a" stroke-width="0.2" text-anchor="middle">Count</text>
<text transform="translate(460.5 140.4) scale(0.92 1)" font-size="14.8" font-weight="bold" font-style="normal" fill="#111" stroke="#111" stroke-width="0.4" text-anchor="middle">13.6%</text>
<text transform="translate(430.6 235) scale(0.96 1)" font-size="16.7" font-weight="bold" font-style="normal" fill="#111" stroke="#111" stroke-width="0.4" text-anchor="middle">CD19</text>
<rect x="43" y="253.4" width="82.9" height="78.6" fill="#fff" stroke="#4a4a4a" stroke-width="0.9"/>
<path d="M43 253.4V332H125.9" stroke="#151515" stroke-width="1.6" fill="none"/>
<path d="M65.8 253.4V332M43 311.2H125.9" stroke="#404040" stroke-width="1" fill="none"/>
<path d="M54.6 332v6.2M76.2 332v6.2M97.8 332v6.2M119.4 332v6.2M43.3 332v3.7M46 332v3.7M48.1 332v3.7M49.8 332v3.7M51.3 332v3.7M52.5 332v3.7M53.6 332v3.7M61.1 332v3.7M64.9 332v3.7M67.6 332v3.7M69.7 332v3.7M71.4 332v3.7M72.9 332v3.7M74.1 332v3.7M75.2 332v3.7M82.7 332v3.7M86.5 332v3.7M89.2 332v3.7M91.3 332v3.7M93 332v3.7M94.5 332v3.7M95.7 332v3.7M96.8 332v3.7M104.3 332v3.7M108.1 332v3.7M110.8 332v3.7M112.9 332v3.7M114.6 332v3.7M116.1 332v3.7M117.3 332v3.7M118.4 332v3.7M125.9 332v3.7M43 320.8h-6.2M43 301.4h-6.2M43 282h-6.2M43 262.6h-6.2M43 330.9h-3.7M43 328.5h-3.7M43 326.6h-3.7M43 325.1h-3.7M43 323.8h-3.7M43 322.7h-3.7M43 321.7h-3.7M43 315h-3.7M43 311.5h-3.7M43 309.1h-3.7M43 307.2h-3.7M43 305.7h-3.7M43 304.4h-3.7M43 303.3h-3.7M43 302.3h-3.7M43 295.6h-3.7M43 292.1h-3.7M43 289.7h-3.7M43 287.8h-3.7M43 286.3h-3.7M43 285h-3.7M43 283.9h-3.7M43 282.9h-3.7M43 276.2h-3.7M43 272.7h-3.7M43 270.3h-3.7M43 268.4h-3.7M43 266.9h-3.7M43 265.6h-3.7M43 264.5h-3.7M43 263.5h-3.7M43 256.8h-3.7" stroke="#000" stroke-width="1.15" fill="none"/>
<text transform="translate(54.8 347.3) scale(0.9 1)" font-size="7.4" fill="#111" stroke="#111" stroke-width="0.25" text-anchor="middle">10<tspan dy="-3.4" font-size="5.3">2</tspan></text>
<text transform="translate(76.4 347.3) scale(0.9 1)" font-size="7.4" fill="#111" stroke="#111" stroke-width="0.25" text-anchor="middle">10<tspan dy="-3.4" font-size="5.3">3</tspan></text>
<text transform="translate(98 347.3) scale(0.9 1)" font-size="7.4" fill="#111" stroke="#111" stroke-width="0.25" text-anchor="middle">10<tspan dy="-3.4" font-size="5.3">4</tspan></text>
<text transform="translate(119.6 347.3) scale(0.9 1)" font-size="7.4" fill="#111" stroke="#111" stroke-width="0.25" text-anchor="middle">10<tspan dy="-3.4" font-size="5.3">5</tspan></text>
<text transform="translate(34.8 319.9) scale(0.9 1) rotate(-90)" font-size="7.4" fill="#111" stroke="#111" stroke-width="0.25" text-anchor="middle">10<tspan dy="-3.4" font-size="5.3">2</tspan></text>
<text transform="translate(34.8 300.5) scale(0.9 1) rotate(-90)" font-size="7.4" fill="#111" stroke="#111" stroke-width="0.25" text-anchor="middle">10<tspan dy="-3.4" font-size="5.3">3</tspan></text>
<text transform="translate(34.8 281.1) scale(0.9 1) rotate(-90)" font-size="7.4" fill="#111" stroke="#111" stroke-width="0.25" text-anchor="middle">10<tspan dy="-3.4" font-size="5.3">4</tspan></text>
<text transform="translate(34.8 261.7) scale(0.9 1) rotate(-90)" font-size="7.4" fill="#111" stroke="#111" stroke-width="0.25" text-anchor="middle">10<tspan dy="-3.4" font-size="5.3">5</tspan></text>
<path d="M57.5 311h.9M60.5 320h.9M44 312h.9M53.5 319.5h.9M56 306h.9M56.5 312.5h.9M52 298h.9M52.5 305.5h.9M55 312h.9M46.5 316h.9M65.5 311.5h.9M44 314h.9M56 317.5h.9M52 302h.9M48.5 306h.9M62 308h.9M48.5 307h.9M58.5 318h.9M68 306.5h.9M54 299.5h.9M49.5 295.5h.9M64 313.5h.9M56 302h.9M56 319.5h.9M60.5 314.5h.9M57 328h.9M49 308h.9M47 300.5h.9M52 302h.9M54.5 307h.9M55 301h.9M61 311.5h.9M63 309.5h.9M59.5 318.5h.9M59.5 312h.9M49.5 302.5h.9M56.5 323h.9M58.5 308.5h.9M49 308.5h.9M58.5 322h.9M55.5 307h.9M55.5 314h.9M63.5 319.5h.9M56 302.5h.9M55.5 323.5h.9M59.5 318.5h.9M62 312.5h.9M53.5 308.5h.9M63 304.5h.9M67 305.5h.9M57.5 310.5h.9M64 302.5h.9M57 305.5h.9M53.5 319h.9M61.5 310.5h.9M49 313h.9M48.5 312.5h.9M55.5 305h.9M51 309.5h.9M46.5 313h.9M58 313h.9M52.5 322.5h.9M51 307h.9M53 306.5h.9M56 308h.9M54 323h.9M57 324.5h.9M60 302h.9M60.5 311h.9M52 304h.9M56 313h.9M58.5 319.5h.9M62 317.5h.9M55 308.5h.9M52.5 310h.9M62.5 309.5h.9M55 300.5h.9M54 314h.9M55.5 314h.9M51 307.5h.9M51.5 293h.9M49 317.5h.9M46 303h.9M63.5 296.5h.9M51 311.5h.9M51.5 295.5h.9M60 308.5h.9M59.5 311.5h.9M47 317h.9M60 301h.9M59.5 319.5h.9M49 307h.9M52 294h.9M53.5 306.5h.9M63 323h.9M57 303.5h.9M55 312.5h.9M49 308h.9M55 323.5h.9M49.5 301h.9M59 304h.9M56 297.5h.9M52 314h.9M63 299h.9M56.5 315h.9M60 307h.9M50 317h.9M58.5 305h.9M61 312.5h.9M63.5 294.5h.9M59 312.5h.9M55 309.5h.9M52 304.5h.9M55 299.5h.9M55 301h.9M55.5 307.5h.9M59 319h.9M57.5 320.5h.9M53.5 298h.9M57.5 308.5h.9M52.5 308h.9M53.5 312.5h.9M57 320.5h.9M48.5 299h.9M57 320.5h.9M57 308.5h.9M54.5 310h.9M46.5 306.5h.9M56 317.5h.9M71 326.5h.9M67 310h.9M52 310h.9M59 311h.9M50.5 296.5h.9M51 315h.9M54 313h.9M49 304h.9M58 292.5h.9M65.5 314.5h.9M57.5 312h.9M59 311.5h.9M63.5 318.5h.9M50 313.5h.9M60.5 314.5h.9M53 312.5h.9M55 305h.9M50 302.5h.9M53.5 311.5h.9M54.5 319.5h.9M59 322.5h.9M57 303h.9M55 320h.9M63 290.5h.9M65.5 320h.9M53 295.5h.9M57 313.5h.9M48.5 310.5h.9M57 306.5h.9M59 317.5h.9M48.5 315.5h.9M51 303.5h.9M50.5 307.5h.9M63.5 313.5h.9M55.5 312h.9M51.5 307h.9M56 309h.9M48 300h.9M46.5 301h.9M57.5 305.5h.9M51.5 300.5h.9M64 308.5h.9M59 317.5h.9M63.5 312.5h.9M47 301h.9M61.5 293h.9M57.5 314h.9M62.5 326h.9M48 300.5h.9M57 307.5h.9M59 306.5h.9M54.5 304h.9M51.5 307h.9M53.5 314h.9M46.5 304h.9M54 300.5h.9M49 324.5h.9M52.5 297h.9M56.5 316.5h.9M57.5 302.5h.9M58.5 302h.9M57.5 298.5h.9M66 314.5h.9M54.5 320h.9M48 309h.9M64 318.5h.9M56.5 310h.9M57.5 317h.9M63.5 314h.9M54 309h.9M54 307h.9M55 305.5h.9M51.5 290.5h.9M57 321.5h.9M47 310.5h.9M48 297h.9M54.5 296h.9M53.5 318h.9M49 297h.9M53.5 300.5h.9M53 312h.9M60 299h.9M57.5 306h.9M54.5 314h.9M57 317.5h.9M54 306.5h.9M60 301.5h.9M59.5 320h.9M52.5 293.5h.9M49 312.5h.9M65 304.5h.9M47 305.5h.9M55.5 307.5h.9M58 312h.9M59 299.5h.9M68.5 313.5h.9M60.5 306h.9M47.5 302h.9M55.5 319.5h.9M47 308.5h.9M60 310h.9M53 306h.9M53 305h.9M58 324h.9M61.5 301h.9M61 329h.9M61 311h.9M62 306h.9M54.5 305h.9M47.5 300.5h.9M52 312.5h.9M52.5 312.5h.9M48.5 327h.9M51 311.5h.9M55 326h.9M46 299.5h.9M64 313.5h.9M48 306h.9M59 299.5h.9M54 296.5h.9M58 316.5h.9M53 321.5h.9M52 298h.9M55 305.5h.9M55 307.5h.9M50 306h.9M45.5 305.5h.9M50.5 308.5h.9M56.5 303.5h.9M55.5 297.5h.9M56.5 316.5h.9M53 294.5h.9M47.5 296.5h.9M58 312h.9M45 317.5h.9M55.5 318h.9M55.5 308.5h.9M68.5 312h.9M59 328h.9M48.5 319h.9M58.5 305h.9M61.5 300h.9M61 325h.9M48.5 299.5h.9M45.5 303h.9M55 303.5h.9M51 308.5h.9M57.5 305h.9M65.5 320h.9M54.5 315.5h.9M58.5 315.5h.9M58 317.5h.9M48.5 306.5h.9M58 307.5h.9M59.5 321h.9M58.5 304.5h.9M59.5 310h.9M53 302h.9M66.5 309.5h.9M55 297.5h.9M57 310h.9M51 304h.9M48 318h.9M59.5 308.5h.9M59.5 296h.9M58.5 310.5h.9M50 311.5h.9M49 300.5h.9M56.5 319.5h.9M54 302.5h.9M64.5 308h.9M54.5 295h.9M67.5 321.5h.9M50.5 308h.9M51.5 298.5h.9M71 308.5h.9M62 311.5h.9M47.5 309h.9M47.5 317.5h.9M53 320h.9M55 311h.9M46 298.5h.9M60.5 301h.9M56 306.5h.9M54.5 306h.9M61.5 321h.9M51 317.5h.9M51 321.5h.9M60.5 320h.9M46.5 305h.9M62 301h.9M61.5 310h.9M53.5 312.5h.9M59.5 320h.9M48 314h.9M52.5 314h.9M51.5 301h.9M48.5 299.5h.9M52.5 307h.9M54.5 303h.9M53.5 328.5h.9M61 321.5h.9M59.5 292h.9M49 308h.9M55 303.5h.9M56 308h.9M61.5 309h.9M63.5 317h.9M58.5 307h.9M59.5 313h.9M57 303.5h.9M49.5 301.5h.9M48 309.5h.9M56 316.5h.9M63 314h.9M49.5 320h.9M54.5 310.5h.9M58 312h.9M55.5 294.5h.9M55 298.5h.9M58.5 310h.9M69 328h.9M62.5 310h.9M47 309h.9M58.5 321.5h.9M63 309.5h.9M47 306.5h.9M50 304.5h.9M47 307.5h.9M61 323.5h.9M60.5 311.5h.9M53 310h.9M54 309.5h.9M50 302h.9M62.5 313.5h.9M57 309.5h.9M47.5 304.5h.9M58.5 302h.9M56 323h.9M53 314.5h.9M53.5 308.5h.9M52.5 327h.9M55.5 323.5h.9M55.5 320.5h.9M45.5 296h.9M55 308h.9M52.5 304h.9M58.5 310h.9M62.5 309h.9M56.5 312.5h.9M45.5 314h.9M54.5 313.5h.9M53 311h.9M61 319h.9M57.5 309h.9M56.5 305h.9M63.5 311.5h.9M55 304.5h.9M60.5 324.5h.9M62.5 310h.9M46.5 312h.9M45 305.5h.9M45.5 318.5h.9M57 304.5h.9M63.5 300.5h.9M64 313h.9M62.5 315h.9M66.5 306.5h.9M55.5 300.5h.9M52 314h.9M53 305.5h.9M47.5 304.5h.9M52.5 311h.9M62.5 314h.9M53 296h.9M53 323h.9M56 307.5h.9M60.5 318h.9M48.5 302.5h.9M54 309.5h.9M59.5 310h.9M52.5 313h.9M59.5 309h.9M47.5 311.5h.9M55 318.5h.9M57.5 306.5h.9M51 317.5h.9M47 306h.9M55 319.5h.9M47 316.5h.9M59 314.5h.9M57.5 309h.9M54 321h.9M61.5 306h.9M61 316h.9M62 314.5h.9M55.5 313.5h.9M54 298.5h.9M61 308.5h.9M73 315h.9M55.5 310.5h.9M49 316h.9M55 313h.9M57 310h.9M62 307h.9M62.5 309.5h.9M65.5 315h.9M45 307.5h.9M59.5 320.5h.9M58.5 310h.9M57.5 312.5h.9M54.5 288h.9M58 284.5h.9M58 310h.9M55 302.5h.9M50 309.5h.9M54 302.5h.9M47 306.5h.9M61 307h.9M47.5 298h.9M64.5 324.5h.9M48 299h.9M58.5 306.5h.9M59 309.5h.9M52 315.5h.9M54 313h.9M56 318h.9M46.5 319h.9M52.5 317.5h.9M58.5 314.5h.9M48.5 305.5h.9M50.5 308h.9M58 309.5h.9M52.5 294.5h.9M52.5 315.5h.9M59 303h.9M52 316h.9M49.5 317h.9M55.5 309h.9M55.5 308h.9M67.5 308.5h.9M60.5 314.5h.9M61 314.5h.9M54.5 324h.9M70 302h.9M47.5 308h.9M55.5 311h.9M58 299h.9M52 302.5h.9M56 303.5h.9M53.5 311.5h.9M45 310.5h.9M56.5 313.5h.9M56.5 301h.9M54.5 301h.9M64.5 313h.9M48 314h.9M51.5 318h.9M57.5 308h.9M54.5 308.5h.9M51 307h.9M47 310.5h.9M62 308.5h.9M61 316.5h.9M49.5 308.5h.9M73 311.5h.9M52.5 301h.9M55 318.5h.9M55 305.5h.9M60 320.5h.9M61.5 305h.9M50 299h.9M52.5 323.5h.9M53 315h.9M52 308h.9M49 302.5h.9M58 317h.9M49.5 292.5h.9M56 314.5h.9M56.5 312h.9M54.5 313.5h.9M60.5 310.5h.9M69 314.5h.9M51.5 320h.9M53.5 303.5h.9M56 307h.9M54 314.5h.9M66 301.5h.9M55.5 288.5h.9M62 309.5h.9M45 306.5h.9M57.5 309h.9M47 310.5h.9M54 305h.9M47 312h.9M56 312.5h.9M52.5 324h.9M58 309.5h.9M64 314.5h.9M59 307.5h.9M54.5 323h.9M48 295.5h.9M53.5 311h.9M53.5 313h.9M54.5 311h.9M57.5 314.5h.9M56.5 308h.9M60 325.5h.9M55 316.5h.9M58 313h.9M60 312h.9M54 306.5h.9M50.5 316h.9M52.5 299h.9M62 309h.9M53 306h.9M53 327h.9M60.5 317h.9M59 309h.9M59.5 325h.9M68 308h.9M50 308.5h.9M56 323.5h.9M54 313h.9M55 318h.9M52 322h.9M48 311h.9M63 309h.9M54 307h.9M59.5 314.5h.9M48.5 325h.9M49 300h.9M63.5 323h.9M58.5 325.5h.9M59 310.5h.9M60.5 306.5h.9M49 302h.9M58 318h.9M46.5 314h.9M63 325h.9M66 315h.9M48 315.5h.9M64 296.5h.9M54 312.5h.9M61.5 305h.9M53 303h.9M53 306.5h.9M46 319.5h.9M59 307h.9M51 312h.9M44 309.5h.9M63 300.5h.9M51.5 311.5h.9M59.5 296.5h.9M56.5 315.5h.9M65.5 318h.9M51.5 299h.9M54 292h.9M54 312.5h.9M66 306h.9M61.5 319.5h.9M62 307h.9M51 308.5h.9M57 299.5h.9M57 317h.9M50 315.5h.9M56.5 310h.9M70.5 318h.9M54.5 313h.9M68.5 322.5h.9M60.5 306.5h.9M53 311.5h.9M54.5 312h.9M66 307h.9M52.5 319h.9M57.5 315.5h.9M56 304h.9M58.5 320h.9M59.5 306.5h.9M60 309h.9M61.5 314h.9M65 306h.9M51.5 320h.9M61 312.5h.9M56 320.5h.9M65.5 322h.9M52.5 293.5h.9M55 302.5h.9M56 308h.9M61.5 322.5h.9M51.5 320.5h.9M50.5 301.5h.9M51.5 297.5h.9M47.5 310h.9M56 308h.9M53 301h.9M58.5 302.5h.9M54 292h.9M46.5 310.5h.9M58.5 322h.9M62 303.5h.9M50.5 314h.9M54.5 310.5h.9M55 307h.9M56.5 311h.9M48 311h.9M63.5 311h.9M55.5 317.5h.9M51 306.5h.9M52.5 314h.9M66 315h.9M51.5 302.5h.9M61 316.5h.9M53 319.5h.9M48 305.5h.9M53 314h.9M60.5 311h.9M60.5 308.5h.9M62 309.5h.9M63.5 322h.9M54.5 297.5h.9M54.5 313.5h.9M61 323h.9M64 314.5h.9M44 314.5h.9M53 326.5h.9M72.5 308h.9M54 308.5h.9M55 308h.9M53 317.5h.9M54.5 303.5h.9M48 322.5h.9M59.5 313.5h.9M53.5 317.5h.9M53.5 293.5h.9M58.5 279h.9M53 292h.9M57.5 266.5h.9M73 284h.9M51 291h.9M54.5 288.5h.9M53 317h.9M67 288.5h.9M77 298.5h.9M63.5 285h.9M56.5 282h.9M54.5 285.5h.9M46 271.5h.9M70.5 298h.9M53.5 293.5h.9M57.5 298.5h.9M49 294h.9M44.5 279h.9M57.5 288h.9M75.5 293.5h.9M60.5 278.5h.9M63.5 295h.9M52.5 311.5h.9M82.5 302.5h.9M54 293.5h.9M59 292h.9M55.5 294.5h.9M57.5 291.5h.9M57 287h.9M52.5 279h.9M66 293h.9M52 292.5h.9M70.5 291h.9M61 290h.9M74 315h.9M62 291.5h.9M66.5 317h.9M53.5 300.5h.9M55.5 288.5h.9M67 289.5h.9M53 274.5h.9M78 310h.9M64.5 304.5h.9M51.5 298.5h.9M60.5 293h.9M47 287h.9M72 308h.9M63.5 271h.9M46.5 276.5h.9M61 289.5h.9M50 269.5h.9M65.5 295.5h.9M64.5 285.5h.9M56.5 284.5h.9M56.5 285h.9M60.5 285.5h.9M69 268h.9M68.5 305.5h.9M62 289.5h.9M69.5 297.5h.9M57.5 308h.9M53 290.5h.9M54 292.5h.9M61.5 294.5h.9M78 299h.9M71.5 293.5h.9M55.5 283h.9M59 282.5h.9M60.5 290.5h.9M61 292h.9M69 299.5h.9M72.5 292.5h.9M60 280h.9M62.5 276h.9M51.5 289.5h.9M65 283h.9M67 281h.9M61 293h.9M60 289h.9M57.5 279.5h.9M61.5 270.5h.9M48 271h.9M59 270h.9M62 290.5h.9M50.5 285.5h.9M61 289h.9M45.5 269.5h.9M57 312.5h.9M82 288.5h.9M69.5 285h.9M90.5 260h.9M70.5 258.5h.9M87 306.5h.9M76.5 271h.9M85.5 284h.9M76.5 303.5h.9M90.5 275h.9M96 268.5h.9M64.5 284h.9M89 290.5h.9M87 296.5h.9M91.5 291h.9M88 287.5h.9M89.5 265.5h.9M49 290.5h.9M88 272.5h.9M80 276h.9M91.5 279h.9M84 282h.9M91.5 275.5h.9M71 284h.9M72.5 267.5h.9M82 285h.9M92 282h.9M63 282h.9M81.5 280.5h.9M104 276.5h.9M88.5 274h.9M99.5 290h.9M90 300h.9M75 286h.9M79 287.5h.9M98.5 275.5h.9M89.5 279h.9M81.5 289h.9M95 276h.9M90.5 278.5h.9M66 302h.9M82 276h.9M74 281h.9M97.5 266h.9M84 274.5h.9M91.5 300h.9M76.5 280.5h.9M91.5 277.5h.9M66.5 283h.9M88 293.5h.9M74.5 300.5h.9M67 294.5h.9M82.5 294.5h.9M84 291h.9M91 282h.9M67 302h.9M67 296h.9M94 272.5h.9M83 284.5h.9M95.5 281.5h.9M75.5 298h.9M85.5 292.5h.9M81 288.5h.9M91.5 282h.9M94.5 278.5h.9M92.5 259.5h.9M88.5 270.5h.9M84.5 284.5h.9M88.5 301h.9M83 266.5h.9M88.5 280.5h.9M72 293.5h.9M87 269.5h.9M90 270h.9M83.5 298h.9M83 267h.9M84 282.5h.9M73 272h.9M90 284h.9M85 275h.9M88 304h.9M82 289h.9M75 298.5h.9M89 279h.9M79 292h.9M94 287h.9M90.5 291h.9M82.5 273h.9M82.5 286.5h.9M77.5 282.5h.9M81.5 291.5h.9M89 282.5h.9M79 259h.9M70 303.5h.9M92 298.5h.9M91.5 294.5h.9M85 277.5h.9M80.5 274h.9M83 283h.9M73.5 292h.9M96 294.5h.9M87 273h.9M81 298.5h.9M102.5 296.5h.9M92.5 274h.9M101.5 260.5h.9M76 304.5h.9M81.5 273h.9M88.5 289.5h.9M68 281h.9M78.5 281.5h.9M84.5 289.5h.9M97.5 276h.9M79 291h.9M73.5 294h.9M99 278.5h.9M83.5 276h.9M97.5 270.5h.9M88 273h.9M78.5 304.5h.9M92.5 281h.9M87.5 281h.9M92.5 289h.9M84.5 296.5h.9M100 274.5h.9M83 297h.9M84.5 300h.9M85.5 277.5h.9M93 292h.9M85 288.5h.9M79 281.5h.9M95 280h.9M86 289.5h.9M96.5 279.5h.9M72 271.5h.9M92.5 295h.9M86 282h.9M92 290.5h.9M97 278.5h.9M88 280.5h.9M103.5 280h.9M71 291.5h.9M84.5 286.5h.9M83 265.5h.9M70 299h.9M58.5 296h.9M83.5 303h.9M87.5 285.5h.9M101.5 270.5h.9M84.5 266h.9M87.5 272h.9M76.5 277h.9M75 299h.9M91.5 264.5h.9M90 283h.9M80.5 277.5h.9M95 269.5h.9M90 290h.9M86.5 276.5h.9M89.5 275.5h.9M74.5 272.5h.9M98 287h.9M99 261h.9M94.5 282h.9M86.5 285h.9M96 269.5h.9M56.5 296.5h.9M95.5 272h.9M101.5 283h.9M67 311.5h.9M76 299.5h.9M75.5 294h.9M73 299h.9M72.5 284h.9M93 279.5h.9M65 299.5h.9M70.5 296h.9M94.5 273.5h.9M80.5 285h.9M75 300.5h.9M95 280.5h.9M79.5 281.5h.9M92 265h.9M93 278h.9M98.5 273h.9M88.5 282.5h.9M83 282.5h.9M75 258.5h.9M90 304.5h.9M80.5 278h.9M96.5 267.5h.9M87.5 287h.9M67.5 293.5h.9M84.5 280.5h.9M66 311h.9M83.5 296h.9M87.5 280.5h.9M82 299.5h.9M72 296.5h.9M94.5 268h.9M88 327.5h.9M74.5 287.5h.9M81 283.5h.9M88 296h.9M89.5 294.5h.9M80 277.5h.9M73 292.5h.9M78 293h.9M75 274.5h.9M94 267.5h.9M71 288.5h.9M100 259.5h.9M81 284.5h.9M97 269.5h.9M96 271.5h.9M92 280.5h.9M93.5 298h.9M90 287.5h.9M91 309.5h.9M75.5 273.5h.9M104.5 294.5h.9M99.5 262h.9M69 288h.9M79 297.5h.9M88 279h.9M82.5 279h.9M91.5 272h.9M82.5 288.5h.9M90.5 280.5h.9M62 290h.9M72 296.5h.9M92.5 265h.9M86 277.5h.9M87.5 279h.9M88 291h.9M79.5 295h.9M86 295.5h.9M95 287h.9M88 273.5h.9M66.5 295h.9M85 278h.9M92 270h.9M79.5 296.5h.9M87 278h.9M86.5 282.5h.9M77 287h.9M88 271h.9M100.5 280h.9M77 304.5h.9M100 279h.9M86.5 279h.9M84 288h.9M90 280.5h.9M91 274.5h.9M79.5 275h.9M85 294.5h.9M86.5 299h.9M65.5 289h.9M62 303h.9M76 294h.9M58 287h.9M98 282.5h.9M96.5 263.5h.9M100.5 268h.9M90 295.5h.9M82 296.5h.9M77.5 273.5h.9M82.5 272.5h.9M71.5 288h.9M79 285.5h.9M88.5 258.5h.9M90.5 261h.9M71.5 266.5h.9M86.5 270.5h.9M75 272h.9M72 278h.9M97.5 282.5h.9M88 274h.9M81.5 280h.9M92 299h.9M98.5 282h.9M71.5 309.5h.9M88.5 282h.9M85 293h.9M48.5 291h.9M87.5 269.5h.9M83.5 279h.9M72 288h.9M88.5 288h.9M91.5 283.5h.9M98.5 279.5h.9M84.5 272h.9M86.5 279.5h.9M81 273.5h.9M78 285h.9M74 282.5h.9M79 299h.9M78.5 271.5h.9M94.5 278h.9M65.5 292.5h.9M63.5 302.5h.9M78 290.5h.9M83.5 280h.9M75.5 262h.9M100 269h.9M95 265.5h.9M69.5 286.5h.9M78 299h.9M93 285.5h.9M97.5 269h.9M74 285.5h.9M88.5 280.5h.9M85 303h.9M78.5 278h.9M89 273h.9M90 286h.9M87 277.5h.9M94 272.5h.9M79 291.5h.9M90 289h.9M80 273h.9M96 286.5h.9M85.5 294h.9M94 284h.9M75 285h.9M98.5 285h.9M68 298h.9M84 268h.9M74 291h.9M67.5 283h.9M68.5 276h.9M101.5 302.5h.9M83 301h.9M98 299h.9M80 290h.9M74.5 288.5h.9M101 308.5h.9M72.5 288.5h.9M75 268h.9M69.5 272.5h.9M75.5 304h.9M73.5 285h.9M73 265.5h.9M88.5 299.5h.9M98.5 283.5h.9M86 310h.9M75.5 290h.9M69.5 322.5h.9M81 319.5h.9M91 319h.9M94.5 319h.9M84.5 320h.9M76 322.5h.9M89.5 317.5h.9M84.5 319.5h.9M68.5 317.5h.9M70.5 313.5h.9M85 315.5h.9M81.5 321h.9M81.5 316h.9M70.5 318.5h.9M66.5 319.5h.9M95 314.5h.9M86 324h.9M70.5 323.5h.9M85 315h.9M76 316.5h.9" stroke="#000" stroke-opacity="0.95" stroke-width=".9" fill="none"/>
<path d="M66 322.5h.9M46.5 307.5h.9M57.5 328.5h.9M62.5 309h.9M55 304h.9M56 316.5h.9M63 322h.9M62 300.5h.9M62.5 297.5h.9M59.5 322.5h.9M57.5 298h.9M57 317h.9M46 310.5h.9M58 308h.9M57.5 321h.9M62 310.5h.9M47 307.5h.9M59 309h.9M55 318h.9M60 308.5h.9M47.5 289h.9M59.5 312h.9M59 302.5h.9M59 319.5h.9M53 309h.9M57 324h.9M49 303.5h.9M56 313.5h.9M58.5 310.5h.9M52.5 308h.9M45 305.5h.9M49.5 307h.9M51 319.5h.9M48 320h.9M58.5 318.5h.9M53 308h.9M61.5 312h.9M57 310h.9M67 310h.9M49.5 310h.9M58.5 304h.9M60 313.5h.9M53.5 300.5h.9M54.5 308h.9M58 311h.9M50 307.5h.9M63 306h.9M49 301.5h.9M60 313.5h.9M60 317h.9M54 296h.9M58.5 298h.9M50 322.5h.9M55 304h.9M50 308.5h.9M53 306.5h.9M49 325h.9M57.5 309h.9M54.5 322h.9M57.5 308h.9M59 310.5h.9M58 315.5h.9M55 325h.9M66.5 307.5h.9M53.5 312h.9M48 314.5h.9M65 315.5h.9M53.5 299h.9M61.5 322.5h.9M47.5 303h.9M68 314h.9M53.5 301h.9M66 301h.9M60.5 307h.9M57.5 300.5h.9M51 296h.9M61.5 311h.9M53 311h.9M45 299h.9M59.5 299.5h.9M52.5 314.5h.9M52 301h.9M55.5 314h.9M49 293h.9M70 305.5h.9M59.5 321h.9M54.5 312.5h.9M55.5 315.5h.9M55 303.5h.9M62 313.5h.9M61.5 321.5h.9M64.5 297.5h.9M50.5 323.5h.9M52 308h.9M52 322h.9M63.5 305h.9M55 316h.9M52.5 327.5h.9M55.5 314.5h.9M55 303h.9M55.5 298.5h.9M57 302h.9M50 304.5h.9M54.5 325.5h.9M66.5 322h.9M53.5 302.5h.9M50.5 308.5h.9M49.5 313h.9M60 298.5h.9M52.5 308h.9M58 296h.9M65 312.5h.9M53 314h.9M55.5 315.5h.9M62.5 302h.9M45 316h.9M54 314.5h.9M49 308.5h.9M64.5 311.5h.9M60.5 302.5h.9M45.5 294h.9M51.5 293h.9M47 316h.9M57 302.5h.9M52 314h.9M55.5 312.5h.9M54.5 307.5h.9M55 315.5h.9M53.5 306h.9M48 309.5h.9M52 306h.9M61.5 309.5h.9M48.5 311.5h.9M45.5 302.5h.9M59 304.5h.9M64 321h.9M51.5 307h.9M56 296.5h.9M52.5 318.5h.9M55 306.5h.9M54 316h.9M56.5 328.5h.9M65.5 302.5h.9M61.5 330h.9M49 310h.9M67.5 326.5h.9M56.5 313.5h.9M64 312.5h.9M63.5 315.5h.9M60.5 310.5h.9M62.5 296.5h.9M54.5 315.5h.9M54.5 312.5h.9M50.5 296h.9M61.5 307h.9M52.5 312.5h.9M55 303.5h.9M55 326.5h.9M56.5 316.5h.9M55 315.5h.9M69.5 310.5h.9M55.5 295.5h.9M59 292h.9M53 300.5h.9M62 308.5h.9M51.5 304.5h.9M44 307.5h.9M53 307h.9M55.5 323h.9M54 299.5h.9M49 304h.9M57 305.5h.9M46.5 307h.9M55 304h.9M59.5 299h.9M49 308h.9M53 305h.9M53.5 313.5h.9M54.5 300.5h.9M53.5 320.5h.9M65 307.5h.9M61 306h.9M56 316.5h.9M60.5 307h.9M53 300h.9M53.5 314h.9M59 322h.9M57 321.5h.9M53 321.5h.9M49 303.5h.9M48.5 304h.9M65.5 314.5h.9M59.5 306.5h.9M57.5 314.5h.9M55 308h.9M57 301.5h.9M56.5 326h.9M47 315h.9M52 304h.9M54.5 306.5h.9M61 300h.9M56.5 315h.9M49 313h.9M57.5 315h.9M63 320.5h.9M71 330.5h.9M58 311h.9M58.5 300.5h.9M60.5 310h.9M45 311h.9M53.5 308h.9M65 325h.9M58.5 306.5h.9M55.5 313h.9M53 301h.9M55 309h.9M55 305h.9M66.5 291h.9M46.5 308.5h.9M57 316h.9M59 308.5h.9M56.5 308.5h.9M49.5 303.5h.9M55 314h.9M46 304h.9M54.5 317h.9M52.5 306.5h.9M44.5 310h.9M67.5 322.5h.9M65.5 325h.9M50.5 297h.9M52 299.5h.9M51 314.5h.9M56 307h.9M47 290.5h.9M58.5 316h.9M50 298h.9M50.5 313.5h.9M48 311.5h.9M61.5 308.5h.9M56.5 325h.9M55.5 316h.9M57 313h.9M55 313h.9M63 298h.9M65 315.5h.9M58 307h.9M58 306h.9M68.5 303.5h.9M62.5 313.5h.9M53.5 298h.9M54 303h.9M68 315h.9M49 307.5h.9M44.5 292.5h.9M48.5 294h.9M47.5 299h.9M50.5 290.5h.9M61 318.5h.9M63.5 298h.9M45 314.5h.9M51 309h.9M56 286h.9M56.5 305.5h.9M64.5 304h.9M54.5 312h.9M64.5 314.5h.9M60 316h.9M50.5 289.5h.9M57 322h.9M56 300.5h.9M60.5 310.5h.9M63 314.5h.9M49.5 297h.9M59.5 312h.9M69.5 303.5h.9M53 304h.9M45 321h.9M67 308.5h.9M48 320.5h.9M62.5 316h.9M52.5 318h.9M63 317h.9M46 321h.9M55 293h.9M64.5 287h.9M55 320.5h.9M57.5 305.5h.9M61 308.5h.9M47.5 328h.9M62.5 328h.9M58 326h.9M51 301h.9M48 312h.9M65 306h.9M52.5 315h.9M57.5 329.5h.9M62.5 306h.9M57 307h.9M59.5 288h.9M56 311.5h.9M59 313h.9M60 321.5h.9M58 321h.9M51 306.5h.9M53 298.5h.9M54.5 310h.9M58.5 298.5h.9M58.5 330h.9M62.5 316.5h.9M53.5 302.5h.9M65 305h.9M65 311h.9M58 300.5h.9M56 315h.9M58 311h.9M68.5 311h.9M54 303.5h.9M54 315.5h.9M56 305.5h.9M58 311h.9M50.5 317h.9M54.5 323.5h.9M60 316h.9M51.5 309.5h.9M56.5 316h.9M45.5 294h.9M62.5 315h.9M54 316.5h.9M48.5 302h.9M61.5 307.5h.9M66 306h.9M55 319.5h.9M46.5 316h.9M50 310h.9M58 316h.9M64 324.5h.9M53 318h.9M57 312.5h.9M64 313.5h.9M56 305h.9M49.5 314.5h.9M57.5 315h.9M68.5 306h.9M50 304.5h.9M51 313.5h.9M69 309.5h.9M61.5 301.5h.9M54.5 322h.9M55 320h.9M50.5 316.5h.9M58 321h.9M49.5 294.5h.9M59.5 295.5h.9M55 306.5h.9M58 297h.9M68.5 311h.9M55 310h.9M51 300.5h.9M51 301.5h.9M65 299.5h.9M51.5 309h.9M44 306h.9M67.5 319.5h.9M53 304h.9M54.5 305h.9M47 322h.9M46.5 318h.9M52.5 308h.9M68.5 306.5h.9M49.5 304.5h.9M62 311.5h.9M56.5 306.5h.9M59.5 316.5h.9M44 294.5h.9M53.5 298h.9M53.5 310.5h.9M57 320h.9M53 298.5h.9M53.5 317.5h.9M57.5 319.5h.9M46 312.5h.9M49.5 317.5h.9M60.5 308h.9M55.5 315h.9M54 314h.9M55.5 304h.9M69.5 318h.9M58 322.5h.9M56 318h.9M58 304.5h.9M55 302h.9M52.5 302.5h.9M52.5 303h.9M62.5 312h.9M70 309h.9M49 324.5h.9M50 307.5h.9M62 315h.9M58 327.5h.9M57.5 317.5h.9M61 313h.9M56.5 305.5h.9M55 301.5h.9M46.5 323h.9M58.5 303h.9M62.5 313.5h.9M52 306.5h.9M54.5 310.5h.9M62 316h.9M61.5 327.5h.9M56 316h.9M55.5 310h.9M61.5 318.5h.9M58 307.5h.9M62.5 325h.9M59 314.5h.9M55 323.5h.9M58.5 305.5h.9M48.5 298h.9M56.5 317.5h.9M60 319.5h.9M63 317h.9M59.5 318.5h.9M50.5 300.5h.9M57 316.5h.9M58 300h.9M62.5 315h.9M60 303h.9M60 327h.9M53.5 316.5h.9M44.5 286h.9M63.5 307h.9M55 303h.9M50.5 320.5h.9M59.5 310h.9M49 307.5h.9M58 317.5h.9M49.5 304h.9M54 314h.9M66.5 310h.9M56 322h.9M56.5 306h.9M56.5 315h.9M56.5 309h.9M65 323h.9M47.5 309.5h.9M56 315.5h.9M57.5 314h.9M48 317h.9M56.5 299.5h.9M64 296.5h.9M64 305h.9M56.5 316.5h.9M56.5 328h.9M48.5 312.5h.9M57.5 317.5h.9M61.5 310h.9M48.5 301h.9M64 317.5h.9M52.5 304.5h.9M64.5 312.5h.9M50.5 313h.9M63.5 311.5h.9M46.5 294h.9M52.5 312.5h.9M45.5 308h.9M64.5 314.5h.9M56.5 316h.9M61 304.5h.9M44 310.5h.9M58 297h.9M57.5 321.5h.9M50.5 308h.9M44.5 317.5h.9M58.5 304.5h.9M58.5 308h.9M55 290.5h.9M56 316.5h.9M57 305h.9M53.5 301h.9M48.5 295.5h.9M61 297h.9M58 308h.9M44 297.5h.9M47 310.5h.9M59.5 307.5h.9M59.5 309h.9M52 324.5h.9M44 313h.9M44 306h.9M56 311h.9M53.5 311h.9M53.5 313.5h.9M62.5 324h.9M58.5 305.5h.9M60 304.5h.9M56.5 308.5h.9M51 319.5h.9M52 302h.9M58 311h.9M54.5 309h.9M52.5 309h.9M55 306.5h.9M69 308.5h.9M55 309h.9M54.5 313.5h.9M59.5 314h.9M56 299.5h.9M64.5 327h.9M57 303.5h.9M54 315.5h.9M62.5 306.5h.9M52.5 300.5h.9M53 301h.9M60 312.5h.9M48 313h.9M51 316h.9M54.5 305.5h.9M61 316h.9M56.5 302h.9M55.5 299.5h.9M62.5 303h.9M62 301h.9M60.5 316.5h.9M61 325h.9M49 311h.9M49 304h.9M58.5 305.5h.9M46.5 300.5h.9M65 319h.9M56.5 307.5h.9M53.5 318h.9M67.5 310h.9M60 324h.9M53.5 299.5h.9M59.5 306h.9M51.5 300h.9M51.5 320h.9M55.5 317h.9M58.5 304h.9M53 312.5h.9M51 304.5h.9M56.5 306h.9M59 318.5h.9M53.5 302h.9M54 311.5h.9M52 304h.9M64.5 316.5h.9M54.5 303h.9M52.5 311h.9M48 292.5h.9M68 318.5h.9M60 304.5h.9M48 303.5h.9M67.5 301h.9M54 306h.9M52.5 302h.9M47.5 303.5h.9M48.5 306.5h.9M50 316h.9M62.5 310.5h.9M53.5 325h.9M55 304h.9M47.5 310h.9M57 305h.9M57 305.5h.9M60 316.5h.9M52 318h.9M52 311.5h.9M52 310.5h.9M47 300.5h.9M48 311.5h.9M63.5 310.5h.9M69 315.5h.9M58 319h.9M44 295h.9M53.5 320h.9M57.5 309h.9M60 293.5h.9M61 307h.9M55 318.5h.9M52 301.5h.9M55 297.5h.9M45.5 307h.9M60.5 301.5h.9M56.5 313h.9M53.5 312.5h.9M60.5 307h.9M49.5 308.5h.9M58.5 310.5h.9M57 315.5h.9M66 306h.9M56 307h.9M44.5 294h.9M49 308h.9M45 309h.9M60.5 311.5h.9M51.5 311.5h.9M53 288h.9M55.5 293h.9M53.5 302.5h.9M55.5 302.5h.9M60 308.5h.9M52.5 285h.9M52.5 326.5h.9M60 328h.9M56 309.5h.9M53.5 305.5h.9M58 313h.9M55 306h.9M55.5 310.5h.9M54 305.5h.9M52.5 310.5h.9M62.5 303h.9M53 319.5h.9M49.5 309.5h.9M64 303h.9M67 322.5h.9M68 323h.9M55.5 299.5h.9M58 295.5h.9M54 310h.9M60 306.5h.9M63.5 299h.9M53 306h.9M61.5 306h.9M57 306h.9M49.5 298.5h.9M54 294.5h.9M64 299.5h.9M54 306.5h.9M55.5 307h.9M56.5 308h.9M53.5 312.5h.9M59 330.5h.9M47 302h.9M49.5 322.5h.9M63 320.5h.9M56 312.5h.9M49 306.5h.9M52.5 308.5h.9M54 305.5h.9M60 303.5h.9M48.5 310.5h.9M59.5 319h.9M53 308h.9M49 314h.9M47.5 312.5h.9M49 304.5h.9M61 303.5h.9M45 301h.9M51.5 316.5h.9M56 308.5h.9M52 318.5h.9M59.5 317h.9M55 313.5h.9M61 316h.9M54 309.5h.9M60 309h.9M57 315.5h.9M58 296.5h.9M65 304.5h.9M56 303h.9M53 315.5h.9M58.5 314h.9M49 305.5h.9M61 313.5h.9M60.5 303.5h.9M57 303h.9M44.5 307h.9M66.5 282.5h.9M51.5 281.5h.9M50 277.5h.9M62 293.5h.9M58 274h.9M62 300h.9M58 288h.9M56.5 277h.9M65 290h.9M65 301h.9M56 304h.9M63 286.5h.9M69.5 304.5h.9M65 290.5h.9M63 279.5h.9M58.5 294.5h.9M62 272h.9M56.5 273.5h.9M66 298h.9M63.5 266.5h.9M53 306h.9M65.5 290.5h.9M61 288h.9M58.5 295h.9M54.5 302.5h.9M53.5 287h.9M53 285h.9M49.5 283.5h.9M60.5 295h.9M58 275.5h.9M59.5 286.5h.9M58.5 292h.9M54.5 278.5h.9M58 294h.9M57.5 297.5h.9M64 290h.9M53 284.5h.9M54.5 278h.9M58 279h.9M49.5 303.5h.9M65.5 279.5h.9M67 294h.9M57.5 283h.9M52.5 289h.9M56 276h.9M53.5 291h.9M70.5 281.5h.9M45 284.5h.9M51 290h.9M56.5 286h.9M57 305.5h.9M53 289.5h.9M52 282.5h.9M52 289.5h.9M68.5 299h.9M53.5 288.5h.9M62.5 288.5h.9M54 297h.9M55 290.5h.9M47 276.5h.9M50.5 283h.9M47 282.5h.9M52 288.5h.9M52.5 288.5h.9M78 304h.9M58.5 294.5h.9M56 303h.9M70 280h.9M50.5 305h.9M51.5 294.5h.9M57 269h.9M64.5 287h.9M49 289.5h.9M61 304.5h.9M57.5 275.5h.9M56.5 293.5h.9M63.5 296h.9M54.5 275h.9M45 282.5h.9M62 272h.9M77 306.5h.9M61.5 277h.9M65 286h.9M64.5 297.5h.9M56 290.5h.9M63 288h.9M57.5 290h.9M64 294.5h.9M67 274.5h.9M60 275h.9M54 276.5h.9M70.5 304.5h.9M60 289h.9M54 295h.9M58 294h.9M65 288.5h.9M69.5 287h.9M69.5 306.5h.9M55 293.5h.9M62.5 300.5h.9M67.5 289h.9M59.5 295h.9M60 306h.9M49 300.5h.9M50.5 294h.9M56.5 289.5h.9M76 304h.9M86.5 271h.9M77.5 272h.9M81.5 290h.9M98.5 281.5h.9M96 284h.9M84 273.5h.9M74 281.5h.9M90.5 282.5h.9M105 263h.9M97 278.5h.9M71.5 283.5h.9M82.5 292.5h.9M86.5 283h.9M70.5 290.5h.9M76 293.5h.9M93.5 292.5h.9M91 300h.9M77.5 282.5h.9M92 277h.9M84.5 289.5h.9M89.5 275h.9M77.5 286h.9M83 289h.9M71 289h.9M100.5 274h.9M74 294h.9M92.5 259.5h.9M84.5 269.5h.9M87 282h.9M96 266.5h.9M82.5 287h.9M84.5 291h.9M79.5 277h.9M80 297h.9M88 291.5h.9M90 267h.9M96 283.5h.9M83 277.5h.9M76 281h.9M77.5 292.5h.9M92 278.5h.9M69.5 286h.9M83.5 291.5h.9M77 277h.9M49.5 292h.9M73 290h.9M64.5 302h.9M71 290.5h.9M65.5 309h.9M97 273.5h.9M76.5 290.5h.9M79 269.5h.9M90.5 298h.9M74 286.5h.9M78.5 280h.9M90.5 282.5h.9M92.5 274h.9M94 276.5h.9M91.5 291h.9M94.5 268h.9M91.5 263h.9M75 302.5h.9M83 285.5h.9M86.5 263.5h.9M65.5 302.5h.9M81.5 301h.9M102 290h.9M82 274.5h.9M60 305h.9M94.5 269.5h.9M83 276.5h.9M82 272.5h.9M84 282h.9M82 309.5h.9M80 295.5h.9M88.5 275.5h.9M82 285.5h.9M88 282h.9M87.5 293.5h.9M102.5 263.5h.9M93 271h.9M90 274h.9M75.5 278.5h.9M82.5 262.5h.9M93 272h.9M87.5 298.5h.9M87 288.5h.9M88.5 286h.9M96 298.5h.9M87 289.5h.9M93.5 273.5h.9M98 262h.9M78 295.5h.9M97 267h.9M94.5 277h.9M87 280.5h.9M67.5 297h.9M90 292.5h.9M99.5 256h.9M74 310.5h.9M75 293h.9M82.5 278h.9M83.5 297.5h.9M83 279h.9M77.5 280h.9M84 278.5h.9M97 281h.9M80 290h.9M70.5 288.5h.9M88.5 269.5h.9M84 276h.9M87.5 292.5h.9M85 277h.9M94.5 291.5h.9M94 288h.9M93 280h.9M87.5 274.5h.9M78 284h.9M70.5 288h.9M90.5 275h.9M94 282.5h.9M83.5 280.5h.9M86.5 298h.9M95.5 276h.9M75 285h.9M77.5 293h.9M85 279.5h.9M86.5 286h.9M72 302h.9M82.5 258h.9M91.5 289h.9M76.5 272.5h.9M82.5 292h.9M90.5 292.5h.9M80 301h.9M82.5 286h.9M90 272h.9M92 273.5h.9M96.5 278h.9M93 285h.9M89 271h.9M94 271.5h.9M91 293h.9M77 276.5h.9M65.5 298h.9M84 306h.9M90 302.5h.9M82 299h.9M87 284h.9M94 298.5h.9M90 276h.9M81.5 307h.9M72 300h.9M86.5 287h.9M86.5 264h.9M99.5 274h.9M79 280.5h.9M83 289.5h.9M77.5 284h.9M97 291.5h.9M72 277h.9M73.5 284.5h.9M84.5 287h.9M82 280.5h.9M104.5 278h.9M76.5 285.5h.9M91 271.5h.9M99.5 294.5h.9M85 289h.9M90.5 269h.9M99 279h.9M93 279h.9M81.5 278.5h.9M87.5 260.5h.9M89.5 286h.9M97 269.5h.9M76 318.5h.9M102 287.5h.9M82 303.5h.9M92.5 279h.9M73 291.5h.9M89.5 273.5h.9M72.5 293h.9M82 294h.9M93 292.5h.9M69 285h.9M71.5 267.5h.9M86.5 282.5h.9M99.5 277h.9M81.5 283.5h.9M72 298.5h.9M79 295.5h.9M93.5 288h.9M82.5 288h.9M85 280.5h.9M80 299h.9M75.5 289.5h.9M98.5 287h.9M90 294.5h.9M68 290h.9M60.5 294h.9M79.5 279.5h.9M87 290h.9M95.5 285h.9M82 288h.9M95.5 271h.9M81.5 283h.9M67.5 279h.9M95.5 262h.9M78.5 293h.9M90.5 283h.9M80.5 272h.9M93 282h.9M90 287h.9M92 294.5h.9M84 274h.9M89 292.5h.9M82 290.5h.9M70 291.5h.9M87 290h.9M99.5 290h.9M92.5 295h.9M79.5 311h.9M85 283h.9M92.5 270.5h.9M83.5 273h.9M96 287h.9M92.5 277.5h.9M81 282h.9M83.5 268.5h.9M88 282.5h.9M90 290.5h.9M85 291h.9M83.5 280.5h.9M72 309h.9M86.5 258h.9M84 296h.9M79.5 267.5h.9M94 285h.9M91 301h.9M72.5 286h.9M78 307h.9M82 292h.9M92 289h.9M65 290h.9M77 272h.9M86 280.5h.9M98 276h.9M96 279.5h.9M99 272.5h.9M102.5 291.5h.9M78 280.5h.9M101 278h.9M93.5 269h.9M101.5 264h.9M62.5 309.5h.9M99.5 268.5h.9M93.5 273h.9M102.5 269h.9M80 300.5h.9M88.5 276.5h.9M83 282.5h.9M83.5 286h.9M96.5 264h.9M72 293.5h.9M92 262.5h.9M68.5 294h.9M83.5 298.5h.9M98.5 278.5h.9M88 289h.9M103 274h.9M101 282h.9M98 284h.9M100.5 280h.9M78.5 287.5h.9M77 296.5h.9M83 281h.9M88 286.5h.9M85.5 292.5h.9M96 266h.9M78.5 282.5h.9M59 292h.9M67 282h.9M76.5 286h.9M91 269.5h.9M103 266h.9M97.5 284h.9M89 274h.9M91 274h.9M82.5 293h.9M81.5 292h.9M69 284.5h.9M92.5 282h.9M96 292.5h.9M81.5 289h.9M91.5 282.5h.9M87.5 257.5h.9M91 282.5h.9M75 287h.9M79 281h.9M90.5 281h.9M84 277.5h.9M79.5 283h.9M83.5 275h.9M100 276.5h.9M89.5 261.5h.9M104 297h.9M76.5 288h.9M81 274h.9M72.5 274h.9M69.5 297.5h.9M73.5 286.5h.9M95.5 280.5h.9M87.5 272.5h.9M89.5 268h.9M93 281.5h.9M86.5 295h.9M75 272.5h.9M72.5 305h.9M66.5 279.5h.9M74 296h.9M87.5 278h.9M84 268.5h.9M73.5 285.5h.9M75.5 299.5h.9M86.5 276h.9M90.5 288h.9M76 308h.9M90 273h.9M92.5 293h.9M99.5 292h.9M75 289h.9M94.5 290h.9M86 297h.9M79 288.5h.9M72.5 303h.9M77.5 303h.9M94 298.5h.9M94.5 309h.9M94 270.5h.9M79 301h.9M87.5 285h.9M85 274.5h.9M66 270h.9M86.5 308.5h.9M100.5 276h.9M82 279.5h.9M86.5 281.5h.9M69 272.5h.9M97.5 303.5h.9M81 290.5h.9M77 269h.9M86 287.5h.9M82 287.5h.9M79 306h.9M81.5 275.5h.9M102.5 297.5h.9M86.5 301h.9M77 270h.9M67 313.5h.9M76 314h.9M81 319.5h.9M71.5 312.5h.9M69.5 321h.9M86 312h.9M73 315.5h.9M83 322h.9M86 314.5h.9M89 322h.9M78 314.5h.9M87.5 312.5h.9M80 323.5h.9M85 318h.9M78.5 321.5h.9M89.5 315.5h.9M91.5 319h.9M78 321h.9" stroke="#000" stroke-opacity="0.7" stroke-width=".9" fill="none"/>
<path d="M64.5 310.5h.9M59 326h.9M54.5 322h.9M55.5 321.5h.9M54.5 292.5h.9M53.5 309h.9M60.5 291.5h.9M60.5 320h.9M55.5 297.5h.9M71.5 317.5h.9M54.5 312.5h.9M58.5 305.5h.9M67 311.5h.9M45.5 310h.9M53 311h.9M58 316h.9M45 306h.9M63 313h.9M59 304.5h.9M54.5 312h.9M49.5 302.5h.9M55 280.5h.9M56.5 309.5h.9M63.5 323h.9M53.5 299h.9M54.5 309h.9M54 312h.9M53.5 303.5h.9M63 309.5h.9M56.5 314h.9M51 324.5h.9M54 300h.9M63 303h.9M63 318.5h.9M60 306h.9M63.5 311.5h.9M56.5 316.5h.9M59.5 316h.9M44 306.5h.9M52 320h.9M55 318h.9M50.5 314h.9M63.5 321.5h.9M60.5 327.5h.9M50 309.5h.9M54.5 306h.9M58.5 304h.9M50 287h.9M65 314.5h.9M55 306h.9M53.5 317.5h.9M54 311h.9M61 317.5h.9M53.5 318.5h.9M62 309.5h.9M61 313h.9M52.5 309.5h.9M60.5 316h.9M61.5 303h.9M55 306.5h.9M59.5 318.5h.9M56 302.5h.9M62.5 320.5h.9M58 296.5h.9M49.5 297.5h.9M60 328h.9M54 310h.9M47.5 297.5h.9M60.5 306.5h.9M55 317h.9M49.5 313.5h.9M60.5 317.5h.9M62 309h.9M58 297h.9M55 302.5h.9M56 309h.9M62 294h.9M56.5 304.5h.9M46 309h.9M53 307h.9M55.5 312h.9M62.5 303h.9M51 314h.9M59.5 305.5h.9M62.5 312.5h.9M56.5 304.5h.9M56 318h.9M57.5 318.5h.9M50.5 302h.9M62.5 311.5h.9M54.5 319.5h.9M53.5 294.5h.9M53 321h.9M47.5 314.5h.9M63.5 325.5h.9M50.5 295h.9M56.5 302.5h.9M52 327h.9M48 315h.9M45.5 296.5h.9M56.5 314.5h.9M47 298.5h.9M47.5 315.5h.9M45 291.5h.9M52 316.5h.9M58.5 329h.9M58 304h.9M59 317h.9M61 306.5h.9M60.5 297.5h.9M46 298.5h.9M53 306.5h.9M54 304.5h.9M47.5 315h.9M69 309h.9M59 298h.9M57.5 317.5h.9M61 318.5h.9M61 328.5h.9M68 320.5h.9M62 304h.9M54.5 311h.9M65 317h.9M53.5 306.5h.9M55.5 314.5h.9M61.5 311h.9M52 326.5h.9M61 327h.9M62.5 310.5h.9M52.5 316.5h.9M52.5 315h.9M45.5 302.5h.9M57 314.5h.9M60.5 302.5h.9M50.5 318h.9M44.5 288.5h.9M48.5 303.5h.9M61.5 307h.9M56.5 328h.9M61 313.5h.9M60.5 304h.9M52 303h.9M56 304.5h.9M52.5 311.5h.9M56 311.5h.9M49 311h.9M55 317h.9M56.5 303.5h.9M61 298.5h.9M57 323h.9M58 315.5h.9M60 293.5h.9M62.5 326.5h.9M60 314h.9M61 302h.9M56.5 316.5h.9M57.5 317.5h.9M66 308h.9M54.5 307.5h.9M50.5 305.5h.9M59 295h.9M52.5 320.5h.9M55.5 315.5h.9M66 317.5h.9M54.5 299.5h.9M52 323.5h.9M51.5 324h.9M65 297.5h.9M60 308.5h.9M61.5 321.5h.9M51.5 313h.9M53.5 296.5h.9M60 305.5h.9M74 310.5h.9M59.5 309h.9M45.5 293h.9M55.5 323h.9M49 310.5h.9M56.5 314.5h.9M65.5 313h.9M53.5 318h.9M47 300h.9M45.5 315.5h.9M60 309.5h.9M63 317.5h.9M62 301h.9M55.5 312.5h.9M64.5 323h.9M66 322.5h.9M67 317.5h.9M60 305.5h.9M61.5 313h.9M67.5 310.5h.9M61 327.5h.9M54 317h.9M52 326h.9M59 306.5h.9M69.5 326h.9M50.5 313h.9M56.5 325h.9M62 311h.9M49 309.5h.9M61 300.5h.9M46 296.5h.9M51.5 305.5h.9M53.5 313h.9M56 320h.9M57.5 310.5h.9M59.5 319.5h.9M55 311.5h.9M49 304h.9M56.5 316h.9M51 308h.9M54.5 309.5h.9M51.5 317h.9M55 303.5h.9M58 295.5h.9M63 315h.9M51.5 306h.9M54 305.5h.9M52 310h.9M57.5 311.5h.9M56 315.5h.9M55 303.5h.9M47.5 312.5h.9M52.5 307h.9M48 293h.9M53.5 302.5h.9M49.5 287.5h.9M60 303.5h.9M52.5 312h.9M52 309h.9M60 316h.9M49 312h.9M50 322h.9M55 306h.9M49 317.5h.9M63 317.5h.9M56 306.5h.9M62 312h.9M50.5 300.5h.9M51.5 314h.9M61.5 312h.9M51 282.5h.9M53 297.5h.9M50.5 303h.9M61 318.5h.9M69.5 311h.9M63.5 306h.9M62.5 302.5h.9M63.5 309h.9M49 299h.9M50 302h.9M52 312h.9M62 315.5h.9M63.5 308.5h.9M50.5 303.5h.9M58.5 318.5h.9M61.5 306.5h.9M61 315h.9M56 310h.9M61 309.5h.9M58.5 317h.9M62.5 309.5h.9M59.5 304.5h.9M57 316h.9M61 319h.9M60 317h.9M58.5 310.5h.9M57.5 308.5h.9M60.5 312.5h.9M51 307.5h.9M53.5 305h.9M63 314h.9M45.5 310h.9M48.5 312.5h.9M48.5 303.5h.9M46 296.5h.9M57 316h.9M47 309h.9M55.5 312h.9M67.5 305h.9M59.5 314.5h.9M46 317h.9M58 312h.9M61 313h.9M62.5 317h.9M52.5 326.5h.9M63.5 312.5h.9M60 301h.9M46.5 310.5h.9M59 308h.9M56.5 323.5h.9M55 315h.9M52 279.5h.9M51.5 311.5h.9M56.5 318h.9M51 302.5h.9M58.5 311.5h.9M57 304h.9M62.5 314h.9M49.5 320h.9M60 298.5h.9M53 318h.9M50.5 319.5h.9M49.5 259.5h.9M55 305h.9M63.5 309h.9M62 286.5h.9M59 280h.9M49.5 288h.9M59 280h.9M48 285h.9M53.5 289h.9M55.5 285.5h.9M67.5 295.5h.9M62.5 289.5h.9M61.5 293h.9M72.5 283.5h.9M68.5 295.5h.9M56.5 282h.9M49.5 271h.9M44 271h.9M48.5 274h.9M62.5 300h.9M67.5 301h.9M57 287.5h.9M47 294h.9M55 278.5h.9M51 285.5h.9M57 296h.9M58.5 295h.9M56 300.5h.9M72 297h.9M68 280h.9M62 280.5h.9M50 276h.9M67.5 290h.9M55.5 289h.9M60 303h.9M51 295h.9M65 286h.9M51 293h.9M51 291.5h.9M52.5 294.5h.9M56.5 278.5h.9M66.5 310.5h.9M52 283h.9M50 297h.9M68.5 286.5h.9M91 275.5h.9M88 267h.9M97 271h.9M82 293h.9M100 259.5h.9M90 296h.9M83.5 284.5h.9M90 291h.9M94 261.5h.9M87 296.5h.9M85.5 285.5h.9M85.5 270h.9M84 304.5h.9M89 280h.9M87.5 278h.9M82 261h.9M99 259.5h.9M81 297h.9M87.5 301h.9M85.5 280.5h.9M72 294.5h.9M80 292h.9M87.5 291.5h.9M100.5 273.5h.9M74.5 289.5h.9M103.5 259h.9M83 272h.9M86.5 288h.9M89 263.5h.9M84 291.5h.9M83.5 275.5h.9M91.5 271h.9M100 286.5h.9M90 257h.9M84 289.5h.9M82.5 284h.9M79 300.5h.9M68.5 302h.9M93 283h.9M98 259h.9M91 295.5h.9M86 279h.9M103.5 283.5h.9M80.5 298h.9M62.5 289.5h.9M80 293h.9M73.5 307.5h.9M83 278h.9M79.5 307.5h.9M93 280.5h.9M73 283.5h.9M86.5 284.5h.9M79 314.5h.9M92 276.5h.9M90 277h.9M82.5 278.5h.9M97.5 278.5h.9M66.5 299h.9M84.5 296.5h.9M80.5 283h.9M85.5 304h.9M59 303.5h.9M93 304h.9M76.5 297h.9M88 284h.9M76.5 280.5h.9M85.5 284h.9M86 294.5h.9M84 275.5h.9M74.5 280.5h.9M86.5 278.5h.9M98.5 287.5h.9M88 282.5h.9M79.5 265h.9M54 307.5h.9M89 258h.9M69.5 316h.9M93 292.5h.9M79.5 285h.9M88.5 276h.9M90 265.5h.9M80.5 277.5h.9M88.5 272.5h.9M93 275.5h.9M86.5 276h.9M90.5 274h.9M79 286.5h.9M81.5 289h.9M61 290.5h.9M82 261.5h.9M75 274h.9M103 277.5h.9M92 286.5h.9M74 303h.9M94.5 279.5h.9M89 274h.9M74.5 300h.9M101.5 264.5h.9M89.5 281.5h.9M93.5 281h.9M59 315h.9M90 300h.9M95.5 271.5h.9M74 296.5h.9M99.5 293.5h.9M75.5 300h.9M83.5 295.5h.9M82.5 291.5h.9M70 301.5h.9M72.5 280h.9M90 269h.9M80.5 275.5h.9M82 296.5h.9M71.5 296h.9M88.5 287h.9M94.5 291.5h.9M82.5 268h.9M66.5 274.5h.9M105 295h.9M69.5 299h.9M90 285h.9M88 272.5h.9M90 280h.9M73.5 285.5h.9M87 274.5h.9M90.5 273.5h.9M74.5 284h.9M89 266h.9M68.5 292h.9M84.5 270.5h.9M99.5 280.5h.9M89 276.5h.9M76.5 274.5h.9M88.5 294h.9M94.5 283h.9M77 265h.9M77.5 280.5h.9M71 291.5h.9M98 275.5h.9M88.5 301h.9M80 282h.9M70 269.5h.9M83.5 285h.9M90 281h.9M90 274h.9M101 265.5h.9M87 292h.9M72.5 282h.9M75 313.5h.9M102 281h.9M98.5 278h.9M82 285h.9M95.5 280.5h.9M68 299h.9M93 295h.9M85.5 267h.9M101 276h.9M91 270h.9M70 288h.9M72 295h.9M93.5 298.5h.9M76 274h.9M83.5 318.5h.9M88.5 317.5h.9M67.5 314.5h.9M67.5 322h.9M83 317h.9M73.5 314h.9M88 318h.9M68 317h.9M81 318h.9M91.5 312.5h.9M88 317.5h.9M95.5 320.5h.9" stroke="#000" stroke-opacity="0.45" stroke-width=".9" fill="none"/>
<text transform="translate(102.6 267.8) scale(0.92 1)" font-size="14.8" font-weight="bold" font-style="normal" fill="#111" stroke="#111" stroke-width="0.4" text-anchor="middle">22.2%</text>
<text transform="translate(17.5 296.4) rotate(-90)" font-size="16.9" font-weight="bold" font-style="normal" fill="#111" stroke="#111" stroke-width="0.4" text-anchor="middle">CD71</text>
<text transform="translate(78.7 363.8) scale(0.9 1)" font-size="16.7" font-weight="bold" font-style="normal" fill="#111" stroke="#111" stroke-width="0.4" text-anchor="middle">GPA</text>
<text transform="translate(9 259.6)" font-size="11.8" font-weight="bold" font-style="normal" fill="#111" stroke="#111" stroke-width="0.3" text-anchor="middle">B</text>
<rect x="177.9" y="253.8" width="86.2" height="79.1" fill="#fff" stroke="#4a4a4a" stroke-width="0.9"/>
<path d="M177.9 253.8V332.9H264.1" stroke="#151515" stroke-width="1.6" fill="none"/>
<path d="M204.4 253.8V332.9M177.9 314H264.1" stroke="#404040" stroke-width="1" fill="none"/>
<path d="M189.3 332.9v6.2M210.6 332.9v6.2M231.9 332.9v6.2M253.2 332.9v6.2M178.2 332.9v3.7M180.8 332.9v3.7M182.9 332.9v3.7M184.6 332.9v3.7M186 332.9v3.7M187.2 332.9v3.7M188.3 332.9v3.7M195.7 332.9v3.7M199.5 332.9v3.7M202.1 332.9v3.7M204.2 332.9v3.7M205.9 332.9v3.7M207.3 332.9v3.7M208.5 332.9v3.7M209.6 332.9v3.7M217 332.9v3.7M220.8 332.9v3.7M223.4 332.9v3.7M225.5 332.9v3.7M227.2 332.9v3.7M228.6 332.9v3.7M229.8 332.9v3.7M230.9 332.9v3.7M238.3 332.9v3.7M242.1 332.9v3.7M244.7 332.9v3.7M246.8 332.9v3.7M248.5 332.9v3.7M249.9 332.9v3.7M251.1 332.9v3.7M252.2 332.9v3.7M259.6 332.9v3.7M263.4 332.9v3.7M177.9 322.3h-6.2M177.9 302.4h-6.2M177.9 282.5h-6.2M177.9 262.6h-6.2M177.9 332.7h-3.7M177.9 330.2h-3.7M177.9 328.3h-3.7M177.9 326.7h-3.7M177.9 325.4h-3.7M177.9 324.2h-3.7M177.9 323.2h-3.7M177.9 316.3h-3.7M177.9 312.8h-3.7M177.9 310.3h-3.7M177.9 308.4h-3.7M177.9 306.8h-3.7M177.9 305.5h-3.7M177.9 304.3h-3.7M177.9 303.3h-3.7M177.9 296.4h-3.7M177.9 292.9h-3.7M177.9 290.4h-3.7M177.9 288.5h-3.7M177.9 286.9h-3.7M177.9 285.6h-3.7M177.9 284.4h-3.7M177.9 283.4h-3.7M177.9 276.5h-3.7M177.9 273h-3.7M177.9 270.5h-3.7M177.9 268.6h-3.7M177.9 267h-3.7M177.9 265.7h-3.7M177.9 264.5h-3.7M177.9 263.5h-3.7M177.9 256.6h-3.7" stroke="#000" stroke-width="1.15" fill="none"/>
<text transform="translate(189.5 348.2) scale(0.9 1)" font-size="7.4" fill="#111" stroke="#111" stroke-width="0.25" text-anchor="middle">10<tspan dy="-3.4" font-size="5.3">2</tspan></text>
<text transform="translate(210.8 348.2) scale(0.9 1)" font-size="7.4" fill="#111" stroke="#111" stroke-width="0.25" text-anchor="middle">10<tspan dy="-3.4" font-size="5.3">3</tspan></text>
<text transform="translate(232.1 348.2) scale(0.9 1)" font-size="7.4" fill="#111" stroke="#111" stroke-width="0.25" text-anchor="middle">10<tspan dy="-3.4" font-size="5.3">4</tspan></text>
<text transform="translate(253.4 348.2) scale(0.9 1)" font-size="7.4" fill="#111" stroke="#111" stroke-width="0.25" text-anchor="middle">10<tspan dy="-3.4" font-size="5.3">5</tspan></text>
<text transform="translate(169.7 321.4) scale(0.9 1) rotate(-90)" font-size="7.4" fill="#111" stroke="#111" stroke-width="0.25" text-anchor="middle">10<tspan dy="-3.4" font-size="5.3">2</tspan></text>
<text transform="translate(169.7 301.5) scale(0.9 1) rotate(-90)" font-size="7.4" fill="#111" stroke="#111" stroke-width="0.25" text-anchor="middle">10<tspan dy="-3.4" font-size="5.3">3</tspan></text>
<text transform="translate(169.7 281.6) scale(0.9 1) rotate(-90)" font-size="7.4" fill="#111" stroke="#111" stroke-width="0.25" text-anchor="middle">10<tspan dy="-3.4" font-size="5.3">4</tspan></text>
<text transform="translate(169.7 261.7) scale(0.9 1) rotate(-90)" font-size="7.4" fill="#111" stroke="#111" stroke-width="0.25" text-anchor="middle">10<tspan dy="-3.4" font-size="5.3">5</tspan></text>
<path d="M201.5 326h.9M189 321h.9M195.5 327h.9M187 328.5h.9M192.5 328h.9M183.5 326.5h.9M190 330h.9M185 326h.9M195 326h.9M186 326.5h.9M191.5 319.5h.9M192 315h.9M189.5 328.5h.9M196 322h.9M195 323.5h.9M199 325h.9M188 321h.9M191.5 321h.9M195 316h.9M192.5 324h.9M188 327h.9M190 322h.9M185.5 324h.9M189 323.5h.9M186 329h.9M197.5 319.5h.9M200.5 326h.9M184.5 315.5h.9M188.5 319h.9M198 319h.9M187.5 318.5h.9M195.5 327.5h.9M199.5 320h.9M190 325h.9M190.5 320.5h.9M193 327h.9M190.5 322.5h.9M182.5 322.5h.9M183.5 328h.9M183 322.5h.9M190 316.5h.9M195.5 326h.9M192 326h.9M188.5 331h.9M200 330.5h.9M190 317.5h.9M197.5 328.5h.9M188.5 323.5h.9M192.5 322.5h.9M191.5 328.5h.9M187.5 323.5h.9M180 318.5h.9M194.5 325.5h.9M199 317h.9M192.5 330h.9M194 328.5h.9M189 329.5h.9M197.5 327.5h.9M185 323h.9M196 321h.9M190 327h.9M195.5 321.5h.9M187 327h.9M193 320h.9M190.5 321h.9M187.5 329.5h.9M192 318.5h.9M191 323h.9M189 328h.9M200.5 325h.9M181.5 324.5h.9M190.5 327.5h.9M188 329.5h.9M186.5 319h.9M181.5 326h.9M191 325.5h.9M190 321h.9M186.5 331h.9M195 327.5h.9M195 324h.9M182.5 327h.9M193.5 328.5h.9M201 327h.9M197 325.5h.9M192 319.5h.9M198 324h.9M185.5 321h.9M194 324.5h.9M203.5 323h.9M193 325h.9M190.5 328.5h.9M189.5 328h.9M186.5 329h.9M195 325h.9M195.5 325h.9M194 326h.9M186.5 325h.9M184 327h.9M198.5 326.5h.9M197 331h.9M192.5 320.5h.9M190 327.5h.9M198 319.5h.9M194.5 329h.9M189.5 317.5h.9M184 322.5h.9M183 319.5h.9M198 327h.9M179 318.5h.9M192.5 318.5h.9M184.5 324.5h.9M185.5 319.5h.9M196 328h.9M200 324h.9M190 317.5h.9M189.5 322h.9M200 329h.9M198.5 326.5h.9M191 320.5h.9M189 329.5h.9M187 319h.9M201 320h.9M200 327h.9M190.5 322.5h.9M192.5 330h.9M187.5 322.5h.9M182.5 322.5h.9M190 324h.9M186.5 321h.9M190 325.5h.9M184 316h.9M184.5 326h.9M180 323h.9M194 323.5h.9M191 321h.9M192 321h.9M202.5 322.5h.9M197 320h.9M187.5 326.5h.9M179.5 325.5h.9M192.5 324h.9M190 326.5h.9M185 328.5h.9M187.5 327h.9M192 328.5h.9M183.5 323h.9M191 329h.9M192 328.5h.9M184.5 327.5h.9M182 323.5h.9M190.5 319h.9M188.5 327.5h.9M198 328h.9M202.5 321h.9M192 327h.9M185.5 320h.9M190 325h.9M179.5 323.5h.9M188.5 315.5h.9M195.5 314h.9M187 324h.9M196.5 320.5h.9M187 327h.9M204 330h.9M190.5 319.5h.9M200.5 327.5h.9M200.5 328h.9M184.5 327h.9M191 323.5h.9M183.5 321.5h.9M190.5 326.5h.9M189.5 326h.9M196.5 327.5h.9M192.5 326.5h.9M204 323h.9M184.5 325.5h.9M193 321.5h.9M187.5 324.5h.9M191 323.5h.9M193.5 327.5h.9M189 322.5h.9M195.5 328.5h.9M196 330.5h.9M184.5 326h.9M201 330h.9M184.5 325.5h.9M192.5 325.5h.9M187.5 324h.9M193 321h.9M195.5 329h.9M197.5 329h.9M199 327h.9M199 324.5h.9M187 320.5h.9M193 320h.9M189 312.5h.9M192.5 320.5h.9M190.5 325h.9M184 328h.9M188 319.5h.9M190.5 320h.9M181.5 323.5h.9M189 324h.9M196 319h.9M192.5 330h.9M187.5 322.5h.9M193 321.5h.9M188 317h.9M179 331.5h.9M190 328h.9M186 320.5h.9M185 318.5h.9M185.5 331h.9M190.5 322h.9M188 324.5h.9M180 330h.9M201.5 320.5h.9M185 321h.9M188.5 318h.9M182.5 325h.9M186 322h.9M190.5 318h.9M187.5 328.5h.9M193.5 323h.9M198 323.5h.9M199 325h.9M193.5 322h.9M202 325h.9M183 321h.9M181 325h.9M186.5 328.5h.9M199 326h.9M200.5 329h.9M192 323.5h.9M186.5 322h.9M183 316.5h.9M199.5 323h.9M189 320.5h.9M187 325.5h.9M190 320h.9M185.5 320h.9M191 319h.9M183 328.5h.9M187.5 323.5h.9M200.5 328.5h.9M182 321.5h.9M195.5 329.5h.9M192.5 323.5h.9M197 330.5h.9M199.5 317.5h.9M193 321.5h.9M200 322.5h.9M204.5 328h.9M196 330h.9M193.5 329.5h.9M191 330.5h.9M179.5 320.5h.9M183 320h.9M192 330h.9M197.5 324h.9M198.5 325.5h.9M193.5 326h.9M201.5 323h.9M180.5 324h.9M188 319h.9M190 320.5h.9M195 330h.9M179.5 322.5h.9M192.5 320.5h.9M193.5 319h.9M197 317.5h.9M194.5 325h.9M193.5 327h.9M198 324h.9M184 323h.9M198 318.5h.9M182 323.5h.9M195 321h.9M193.5 330h.9M207 326.5h.9M185 323.5h.9M189.5 331h.9M186.5 321.5h.9M186.5 327h.9M195 322h.9M186.5 328h.9M197 328h.9M204.5 329.5h.9M180.5 318h.9M191.5 323.5h.9M196 322.5h.9M187 329.5h.9M181.5 319.5h.9M196 327.5h.9M184 328h.9M184 323h.9M196 321.5h.9M186.5 329.5h.9M192.5 323h.9M192 324h.9M187 330h.9M189.5 321h.9M194.5 326h.9M183.5 328h.9M186.5 321h.9M191 324h.9M193.5 330.5h.9M187.5 322.5h.9M200 320h.9M188 331h.9M190 318h.9M185.5 320.5h.9M190 319h.9M196.5 324h.9M189 328h.9M189.5 323.5h.9M206.5 327h.9M187.5 325h.9M193.5 317.5h.9M192 321.5h.9M194 319.5h.9M192.5 324h.9M191 320.5h.9M186.5 324.5h.9M183 331h.9M191.5 322h.9M197.5 324.5h.9M188 320.5h.9M188 326h.9M191.5 327h.9M183.5 322.5h.9M181.5 326h.9M195 324h.9M188.5 323h.9M184 329h.9M202.5 323h.9M186.5 320.5h.9M183.5 328h.9M183.5 319.5h.9M206.5 323h.9M186 315.5h.9M196 328.5h.9M180.5 326h.9M190 323.5h.9M197 326.5h.9M187 325.5h.9M192.5 328.5h.9M196.5 325.5h.9M198 328.5h.9M186 328h.9M198 306.5h.9M192.5 313.5h.9M195.5 305.5h.9M193.5 310.5h.9M179.5 300h.9M189.5 302.5h.9M183.5 296.5h.9M187 313.5h.9M188 301.5h.9M186.5 313.5h.9M190.5 297.5h.9M195.5 299h.9M201 304.5h.9M191 311h.9M191.5 310h.9M198 303.5h.9M197.5 314.5h.9M197.5 308.5h.9M189 300.5h.9M200.5 305h.9M189.5 302h.9M184 297h.9M190 310h.9M195 301.5h.9M190.5 313.5h.9M204.5 310.5h.9M192 304h.9M199 309h.9M183.5 307.5h.9M195 315.5h.9M194 303.5h.9M188.5 301h.9M195.5 311h.9M188 293.5h.9M182.5 308h.9M200.5 304.5h.9M200 305h.9M190 310.5h.9M196.5 306h.9M189 300.5h.9M183 309.5h.9M188.5 311.5h.9M191.5 296h.9M196 310.5h.9M188 311h.9M181.5 302.5h.9M191 306.5h.9M200 304h.9M193 308.5h.9M188 309.5h.9M200 301.5h.9M192 309.5h.9M190 311.5h.9M181.5 298h.9M189.5 314h.9M194 303h.9M195 303h.9M211.5 307h.9M184 306.5h.9M186.5 299h.9M188.5 307.5h.9M210.5 312h.9M190.5 322.5h.9M187.5 304.5h.9M195.5 310.5h.9M197 296h.9M189 309.5h.9M188.5 303.5h.9M186 296.5h.9M188.5 307h.9M188 312h.9M194.5 290.5h.9M193 309.5h.9M198 308h.9M183.5 308h.9M187 291.5h.9M190 309.5h.9M198.5 308h.9M200 317h.9M189.5 312h.9M182.5 308h.9M197 301h.9M179.5 306.5h.9M194 311h.9M203 308.5h.9M181.5 310h.9M195 307h.9M189.5 309h.9M181 312h.9M193.5 299h.9M191.5 308h.9M188.5 308h.9M182 311h.9M195.5 316.5h.9M186 300h.9M190 311.5h.9M189.5 311h.9M185 299.5h.9M199.5 302h.9M195.5 301.5h.9M180 314.5h.9M201 316h.9M192.5 299.5h.9M201 302.5h.9M192 272.5h.9M197 305h.9M180 277.5h.9M203 290h.9M186 279.5h.9M204 269.5h.9M202 284.5h.9M200.5 275.5h.9M193 277h.9M197 283h.9M192.5 286.5h.9M200 268.5h.9M197.5 284.5h.9M210 284.5h.9M197.5 268h.9M199 292h.9M196 258.5h.9M187 299.5h.9M193.5 288.5h.9M186 258h.9M198 280.5h.9M196 283h.9M194.5 303h.9M195.5 299.5h.9M196 274h.9M196.5 297h.9M197.5 277h.9M192 304.5h.9M194.5 281h.9M191.5 266h.9M187 286h.9M200.5 276h.9M204 294.5h.9M196 266h.9M191 265.5h.9M184.5 284.5h.9M193 286h.9M198 276h.9M186 276.5h.9M194 269h.9M194.5 274.5h.9M195.5 280h.9M190 289.5h.9M201.5 283h.9M201 267.5h.9M196 281h.9M206 282.5h.9M188.5 267.5h.9M188 287.5h.9M194 295h.9M189 267h.9M183 261.5h.9M200.5 293.5h.9M190.5 266h.9M188.5 299h.9M197.5 281.5h.9M194.5 274.5h.9M184 281h.9M187 284.5h.9M198 280h.9M193 285.5h.9M193 266h.9M195.5 267.5h.9M182.5 264.5h.9M184 265h.9M194.5 276.5h.9M191 286.5h.9M200.5 284.5h.9M193.5 287h.9M195 273h.9M198.5 297h.9M202.5 278.5h.9M202.5 275h.9M200 285.5h.9M191.5 301h.9M191.5 263.5h.9M186.5 272.5h.9M206.5 283h.9M203.5 262.5h.9M198.5 275h.9M185.5 276.5h.9M211.5 257h.9M192 262h.9M196 297h.9M186 290h.9M185.5 279h.9M191.5 299h.9M193.5 275.5h.9M194 273.5h.9M200.5 267.5h.9M197.5 294.5h.9M216 289.5h.9M196 284h.9M184 264.5h.9M196 296.5h.9M193.5 292.5h.9M187 272.5h.9M190.5 261.5h.9M191 284h.9M194 277h.9M184.5 289h.9M193.5 285.5h.9M196 270h.9M198.5 266h.9M198 282h.9M181 267h.9M201 279.5h.9M193.5 263.5h.9M206 290h.9M187.5 266h.9M217 287h.9M193.5 285.5h.9M193 295.5h.9M203 280.5h.9M188.5 265h.9M193 290h.9M193.5 279.5h.9M203.5 288.5h.9M194.5 275.5h.9M197.5 290.5h.9M185.5 287.5h.9M188.5 284h.9M183.5 266.5h.9M215 275h.9M198.5 270h.9M184 264h.9M186 290h.9M180 276.5h.9M189.5 301h.9M194 265.5h.9M201 297h.9M209 280h.9M206.5 277.5h.9M186.5 300h.9M211.5 292h.9M201 300h.9M181 268.5h.9M195.5 264.5h.9M187.5 268.5h.9M194.5 288h.9M185 299h.9M205.5 305.5h.9M190.5 264.5h.9M194.5 286h.9M198.5 257.5h.9M199.5 264h.9M197 284h.9M192.5 296h.9M192.5 283.5h.9M187.5 287h.9M195 275.5h.9M192.5 285.5h.9M199 284h.9M195.5 294.5h.9M189.5 286.5h.9M197.5 275h.9M194 274h.9M205.5 280h.9M195 258.5h.9M184.5 292h.9M192 279.5h.9M207 268.5h.9M200.5 278.5h.9M197 283.5h.9M196.5 294.5h.9M202 297.5h.9M209.5 270h.9M184 271.5h.9M192.5 285.5h.9M195 285h.9M197 302h.9M194 278h.9M186.5 290h.9M193.5 300.5h.9M200.5 276h.9M195.5 278h.9M207 257.5h.9M197 261h.9M193.5 291h.9M189 288h.9M191 277.5h.9M190.5 285h.9M201.5 267h.9M200 291.5h.9M199.5 282.5h.9M198.5 306h.9M189.5 280.5h.9M189 281.5h.9M196.5 288h.9M194 283h.9M190.5 282.5h.9M203.5 258.5h.9M185.5 261h.9M193 280.5h.9M185.5 263.5h.9M193.5 268h.9M204.5 274.5h.9M205 288h.9M181 293h.9M199.5 272.5h.9M198 295h.9M189.5 269.5h.9M186.5 287.5h.9M188.5 282h.9M184 284.5h.9M202.5 283h.9M193.5 280.5h.9M195 282.5h.9M205.5 280h.9M200.5 292h.9M190.5 271h.9M203 305.5h.9M197 286h.9M197.5 312h.9M195.5 258h.9M202.5 303h.9M189 272h.9M204.5 300.5h.9M194.5 275.5h.9M218 303h.9M210 271.5h.9M203 259h.9M210.5 275h.9M212.5 290h.9M212.5 263.5h.9M216 282.5h.9M203.5 282h.9M207.5 278h.9M196.5 282h.9M199 260h.9M216.5 286.5h.9M201.5 296.5h.9M226 301h.9M220.5 279.5h.9M224.5 270h.9M205 277h.9M205 278h.9M216.5 275h.9M210 278.5h.9M208.5 293.5h.9M236.5 294.5h.9M198.5 296.5h.9M219.5 264h.9M218.5 291h.9M226 286.5h.9M232 280.5h.9M226 273.5h.9M238.5 283.5h.9M223.5 299h.9M201 278h.9M219 276h.9M209.5 268.5h.9M220 258h.9M213.5 284h.9M222.5 289.5h.9M238.5 291.5h.9M222 290h.9M210.5 285.5h.9M201.5 283h.9M209 278.5h.9M227 287h.9M204 299.5h.9M206 299h.9M209.5 296h.9M214 283h.9M230 291h.9M217.5 256.5h.9M207 299.5h.9M204 285h.9M211.5 313h.9M212.5 306h.9M184.5 271h.9M195.5 283.5h.9M213 276.5h.9M218.5 303h.9M219.5 284h.9M213.5 294.5h.9M195.5 276h.9M215 283.5h.9M202 290.5h.9M237 270h.9M200.5 298h.9M200 262.5h.9M205 276.5h.9M208.5 269h.9M210.5 285.5h.9M225 258h.9M232.5 275h.9M212 272.5h.9M218 297h.9M221.5 294h.9M227 285h.9M211 281h.9M204 285h.9M228 277.5h.9M211.5 299h.9M210 287.5h.9M219 292h.9M201 256h.9M207.5 273.5h.9M212 270.5h.9M209 284h.9M212.5 268.5h.9M205.5 303h.9M213.5 293.5h.9M208 274.5h.9M190.5 287.5h.9M225.5 258h.9M203 297.5h.9M217 264.5h.9M216 300.5h.9M234 288h.9M203.5 300.5h.9M229 310.5h.9M225 283.5h.9M230.5 280.5h.9M211 294.5h.9M199 292.5h.9M202.5 279h.9M221.5 278.5h.9M218.5 283.5h.9M211.5 290h.9M211 288h.9M212 267.5h.9M211.5 275h.9M229.5 269.5h.9M200 290.5h.9M219.5 293h.9M203 273.5h.9M214 279h.9M216 296h.9M210 282h.9M208.5 273.5h.9M233 284.5h.9M226 268h.9M224 270h.9M204 279.5h.9M206.5 285.5h.9M204.5 300h.9M226 279h.9M191 271h.9M200 272h.9M236.5 277.5h.9M211.5 257.5h.9M218.5 297h.9M223 278.5h.9M237 279h.9M223.5 262h.9M224.5 287.5h.9M226.5 285.5h.9M209 287h.9M207 300.5h.9M205 289h.9M215 274h.9M201.5 280h.9M211.5 281h.9M212 297h.9M227.5 306h.9M210.5 303h.9M200.5 292h.9M225.5 272.5h.9M217.5 275h.9M205 301.5h.9M208 299.5h.9M217 273h.9M201 260h.9M237.5 255.5h.9M215 288h.9M223 295h.9M228.5 291.5h.9M217 280.5h.9M206 282h.9M191.5 293h.9M193 275h.9M219 267.5h.9M239.5 276.5h.9M200 293.5h.9M222.5 294.5h.9M221 256.5h.9M215 259.5h.9M196.5 278h.9M229 275h.9M237 284.5h.9M217 287h.9M230 283.5h.9M224 298.5h.9M220 290h.9M236.5 281.5h.9M235.5 273.5h.9M218 287h.9M201 296.5h.9M222 305.5h.9M199 283h.9M222 302.5h.9M229.5 283h.9M215.5 278h.9M222.5 297.5h.9M223.5 264h.9M220 279h.9M221 268.5h.9M236.5 310h.9M227 272h.9M218 256h.9M207 262h.9M221 279h.9M196 277.5h.9M219 297.5h.9M213.5 322.5h.9M206.5 292.5h.9M213.5 269.5h.9M215.5 295.5h.9M215.5 290.5h.9M208.5 308.5h.9M226 287.5h.9M232.5 266.5h.9M216 308h.9M217.5 309.5h.9M224.5 275h.9M222.5 276h.9M216 259h.9M216.5 286.5h.9M205 275.5h.9M217 280h.9M214.5 309h.9M230.5 274h.9M217.5 284h.9M209 279.5h.9M222.5 272.5h.9M202.5 273.5h.9M217 302.5h.9M234.5 270.5h.9M207.5 294h.9M214.5 268.5h.9M200 293h.9M224 289.5h.9M224.5 287h.9M216 260.5h.9M205 285.5h.9M218 268.5h.9M220 284h.9M231.5 285.5h.9M208 278h.9M231.5 286h.9M211 301.5h.9M218 287h.9M209.5 287h.9M229 291h.9M216.5 275h.9M229.5 294h.9M220 287.5h.9M189 278h.9M221 258h.9M222 293h.9M213 284.5h.9M194 279.5h.9M229 266.5h.9M229.5 274.5h.9M207 296h.9M198 284h.9M225.5 280.5h.9M213 268.5h.9M216 282.5h.9M221.5 294.5h.9M189 276.5h.9M230.5 288.5h.9M215.5 275.5h.9M215 255h.9M220 273h.9M215.5 279h.9M218 302h.9M217 317h.9M215 317.5h.9M231.5 323.5h.9M230 322h.9M212 317.5h.9M212.5 316h.9M222 327h.9M224 321h.9M215.5 320.5h.9M224.5 322.5h.9M223 321.5h.9M222.5 329h.9M229 321h.9M230.5 326h.9M207.5 316.5h.9M235 327.5h.9M206.5 318h.9" stroke="#000" stroke-opacity="0.87" stroke-width=".9" fill="none"/>
<path d="M198 324h.9M196 322.5h.9M187 320.5h.9M180 327.5h.9M184.5 330.5h.9M183.5 322.5h.9M193 328h.9M186.5 328.5h.9M195.5 321h.9M186 328.5h.9M190 328h.9M199.5 322h.9M190 327.5h.9M195 326.5h.9M191 318.5h.9M194.5 321.5h.9M191.5 322h.9M193 322h.9M187 322.5h.9M191 326h.9M192.5 324h.9M196 330.5h.9M194 326.5h.9M192.5 325.5h.9M183.5 321h.9M185.5 321h.9M189.5 326.5h.9M183 325h.9M183.5 323.5h.9M194.5 329.5h.9M184.5 329.5h.9M185 327h.9M191.5 319.5h.9M201 328.5h.9M193 318.5h.9M194.5 321h.9M195.5 326h.9M198 319h.9M190.5 317h.9M186.5 324h.9M190 326.5h.9M185 318h.9M180.5 329h.9M187 329.5h.9M186 325.5h.9M195.5 328.5h.9M197.5 322h.9M188.5 318h.9M185 323.5h.9M192 323h.9M190 324.5h.9M197 316.5h.9M196 322h.9M191 322.5h.9M195 321h.9M192 329.5h.9M191.5 323h.9M190 324.5h.9M198.5 326.5h.9M182.5 325.5h.9M188 317.5h.9M184 322h.9M201.5 324.5h.9M189.5 324h.9M186 325h.9M195 320.5h.9M180.5 321.5h.9M188.5 323h.9M187.5 325.5h.9M197.5 325.5h.9M187 325.5h.9M181 325h.9M193 318.5h.9M203.5 318h.9M182.5 322h.9M184 325.5h.9M184 321.5h.9M196 325h.9M179 322h.9M181.5 330h.9M188 329.5h.9M198 325.5h.9M185 321.5h.9M194.5 324.5h.9M186.5 321.5h.9M187.5 330.5h.9M193.5 328h.9M180.5 329.5h.9M196 321.5h.9M198 324h.9M190.5 318.5h.9M192.5 322h.9M197.5 330.5h.9M185 324h.9M192 323.5h.9M197.5 321.5h.9M188 326h.9M197 330h.9M189 321.5h.9M188.5 322h.9M187.5 327h.9M193 324h.9M197.5 324.5h.9M190.5 325h.9M201.5 325.5h.9M204.5 319h.9M185 322h.9M189.5 325h.9M196 331.5h.9M201 320.5h.9M187.5 317.5h.9M190.5 322.5h.9M192.5 320h.9M192.5 327h.9M185.5 326.5h.9M186.5 327h.9M200 322.5h.9M190 318h.9M193.5 330.5h.9M188.5 326.5h.9M204.5 319.5h.9M196.5 330h.9M195 318h.9M197 326.5h.9M197.5 327h.9M193.5 324h.9M189 322.5h.9M188.5 323.5h.9M189 325.5h.9M191.5 321.5h.9M180.5 328h.9M187 324.5h.9M186 326.5h.9M191 325.5h.9M197 328.5h.9M191.5 327.5h.9M193.5 320h.9M188.5 322h.9M194 326.5h.9M181.5 323.5h.9M184 330h.9M189 323.5h.9M191 326.5h.9M190 318.5h.9M199 322.5h.9M187 325.5h.9M192.5 322h.9M189 321.5h.9M184.5 329h.9M194 326.5h.9M187 320.5h.9M198.5 324h.9M187 323h.9M183.5 321h.9M187.5 326.5h.9M198.5 321.5h.9M192.5 323h.9M187.5 322.5h.9M196 330h.9M189.5 319.5h.9M189.5 322.5h.9M188.5 327h.9M198.5 320h.9M191.5 324h.9M201 320.5h.9M184.5 321h.9M179.5 330.5h.9M190.5 326h.9M193.5 329.5h.9M185.5 321.5h.9M181 320h.9M185.5 320.5h.9M194.5 326.5h.9M192.5 329h.9M187 324h.9M190 317.5h.9M183.5 322.5h.9M181 326h.9M192 324.5h.9M195 324h.9M195 325h.9M193.5 330h.9M203 323h.9M187.5 322h.9M187.5 324.5h.9M193.5 321h.9M188 325.5h.9M185 327.5h.9M187.5 324h.9M196 327.5h.9M194 323h.9M187.5 322h.9M191 329.5h.9M189.5 323h.9M190 326.5h.9M198.5 322.5h.9M190 320h.9M188 320.5h.9M184 324h.9M201 319h.9M182 324h.9M188 329h.9M191 321h.9M205.5 325h.9M195 322.5h.9M190.5 329h.9M189.5 327h.9M196 318h.9M197.5 329.5h.9M181.5 331.5h.9M187 329.5h.9M193 327.5h.9M186 321.5h.9M200 324h.9M189.5 324.5h.9M200 319h.9M196.5 323h.9M192 327h.9M197.5 326.5h.9M190.5 325h.9M181 318h.9M180.5 330h.9M185 323h.9M180.5 331.5h.9M193.5 322.5h.9M188 318.5h.9M192 330.5h.9M188.5 321.5h.9M186 328h.9M189 323h.9M198.5 328.5h.9M188.5 331h.9M191.5 324.5h.9M196 322.5h.9M189.5 329h.9M187 326.5h.9M189 323.5h.9M191.5 325h.9M192 323.5h.9M196 321.5h.9M195.5 324h.9M187.5 322.5h.9M198 319.5h.9M188.5 326.5h.9M182 319h.9M186 331.5h.9M198 320.5h.9M196 317h.9M193.5 325h.9M199.5 313.5h.9M194.5 327.5h.9M189 330h.9M194.5 321.5h.9M195.5 327.5h.9M191 314.5h.9M193.5 328h.9M202 320h.9M190.5 322.5h.9M186 321h.9M193.5 324.5h.9M186.5 322.5h.9M188 323h.9M180 323.5h.9M185.5 322h.9M190.5 325.5h.9M179.5 326.5h.9M188.5 327.5h.9M207.5 321.5h.9M198 323h.9M191.5 324.5h.9M189.5 319.5h.9M185.5 325.5h.9M189 323.5h.9M189.5 317.5h.9M187.5 318.5h.9M191.5 315h.9M183.5 325.5h.9M197 318.5h.9M190.5 325.5h.9M184 317h.9M193 318.5h.9M188.5 326h.9M199.5 331.5h.9M179.5 330h.9M184.5 328h.9M197.5 327.5h.9M198 325h.9M193.5 322h.9M193.5 321h.9M192.5 321.5h.9M192.5 319h.9M183 327h.9M190 325.5h.9M194.5 331h.9M193 325h.9M194 323h.9M189 324.5h.9M199 327.5h.9M184.5 324.5h.9M188.5 321h.9M185.5 319h.9M190.5 321.5h.9M179 320.5h.9M184 328.5h.9M195 325h.9M197.5 324.5h.9M195 326h.9M193 327.5h.9M184 319.5h.9M189.5 325.5h.9M193.5 321h.9M202 323.5h.9M186.5 324h.9M195 327.5h.9M205.5 321.5h.9M189 319h.9M191.5 326.5h.9M194 313h.9M182.5 322h.9M189 330.5h.9M193.5 327h.9M200.5 320h.9M181.5 319.5h.9M196.5 324.5h.9M191 324h.9M186.5 331.5h.9M189 322.5h.9M185 321h.9M183.5 325h.9M198 326h.9M189 322.5h.9M196.5 327.5h.9M180.5 327h.9M188 319.5h.9M186 327h.9M197.5 324.5h.9M199.5 325.5h.9M200 315h.9M180 321.5h.9M198.5 319.5h.9M186 329.5h.9M190 329h.9M189 321.5h.9M192 325h.9M200 324h.9M193 331.5h.9M193 326h.9M201 324.5h.9M190 319.5h.9M181 323.5h.9M187.5 323h.9M196 317h.9M199.5 301h.9M192 301.5h.9M196 301h.9M184 312h.9M184 295.5h.9M192 307.5h.9M192.5 305.5h.9M203.5 305h.9M199 314h.9M197.5 302.5h.9M188 307.5h.9M200 299h.9M198.5 301.5h.9M205 299h.9M188.5 294.5h.9M200 306.5h.9M193 308.5h.9M189.5 304.5h.9M194.5 293.5h.9M189 301h.9M204 293h.9M187 301.5h.9M198.5 304.5h.9M195.5 299.5h.9M198.5 305.5h.9M183.5 300.5h.9M190 319.5h.9M196 304.5h.9M194 307.5h.9M203 314h.9M192.5 309.5h.9M191.5 311h.9M198 310.5h.9M191 298h.9M189 303.5h.9M196.5 302h.9M180.5 298h.9M184.5 298.5h.9M185 307.5h.9M187.5 302.5h.9M188 312h.9M192.5 314.5h.9M203 301h.9M187 305h.9M200 308.5h.9M189.5 302h.9M188 315.5h.9M194.5 303.5h.9M192 314.5h.9M186 306.5h.9M189.5 297.5h.9M195.5 303.5h.9M202.5 311h.9M195 311.5h.9M205.5 307.5h.9M196.5 303h.9M198 302.5h.9M185.5 301.5h.9M194.5 301.5h.9M197 294h.9M187.5 305h.9M179.5 302.5h.9M181.5 305.5h.9M190.5 310.5h.9M200.5 304h.9M190.5 301h.9M200.5 294.5h.9M204 307.5h.9M203.5 304h.9M190 307h.9M192.5 316h.9M197 308.5h.9M199 308.5h.9M190.5 299h.9M186.5 315h.9M203 301.5h.9M198.5 305.5h.9M193 307h.9M191.5 304.5h.9M186 307.5h.9M183 311h.9M196.5 303h.9M193.5 296h.9M195 312.5h.9M197.5 310.5h.9M194.5 301.5h.9M196.5 303h.9M187.5 266h.9M187.5 283h.9M183 280.5h.9M187.5 276.5h.9M191.5 271.5h.9M183.5 298.5h.9M192.5 272h.9M191.5 260h.9M182 274.5h.9M196 268.5h.9M189 281h.9M203.5 283h.9M203 274h.9M207 267.5h.9M196 274h.9M183 286h.9M209.5 281h.9M187 268.5h.9M188.5 271h.9M192.5 295.5h.9M198 297h.9M198.5 289.5h.9M199 284h.9M189 268h.9M191.5 276.5h.9M194.5 300.5h.9M181.5 268.5h.9M186.5 267h.9M189.5 319.5h.9M198 258.5h.9M202 277.5h.9M192.5 287.5h.9M187 298h.9M187.5 257.5h.9M190 272h.9M206 275h.9M195 259.5h.9M189 267h.9M194 259h.9M194 276.5h.9M192.5 263h.9M189 290.5h.9M198 268h.9M197 277h.9M182.5 299.5h.9M199 291h.9M189 292h.9M193.5 278.5h.9M188 300h.9M182.5 275.5h.9M198 280.5h.9M193 261h.9M179 281h.9M184 271h.9M197 270.5h.9M201 293.5h.9M199 286h.9M193 285.5h.9M204.5 280h.9M200 270h.9M200 291.5h.9M185.5 258h.9M207.5 273.5h.9M196 275.5h.9M201.5 285h.9M200 303.5h.9M208 296h.9M191 270h.9M196 293h.9M187 283.5h.9M198 256h.9M207 306.5h.9M188.5 261.5h.9M190 292h.9M195 280.5h.9M202.5 278h.9M187.5 293h.9M201.5 263h.9M189 277.5h.9M184.5 255.5h.9M196.5 283.5h.9M182 266.5h.9M196.5 271.5h.9M191.5 290h.9M190 292h.9M186.5 258h.9M181.5 296h.9M200 260.5h.9M192.5 275.5h.9M201.5 293h.9M191 282.5h.9M195.5 300h.9M185 257.5h.9M201.5 292h.9M202 276.5h.9M185.5 276.5h.9M187.5 289.5h.9M185 278h.9M192.5 286.5h.9M197 281h.9M189 310h.9M194.5 274.5h.9M201 287h.9M199 262.5h.9M195.5 273.5h.9M199 273h.9M211.5 267h.9M198 264.5h.9M204 272.5h.9M186 276.5h.9M189 265h.9M196.5 286.5h.9M202 280.5h.9M189.5 271h.9M195.5 284h.9M192 288.5h.9M195.5 274h.9M196.5 298h.9M190 264.5h.9M190.5 290.5h.9M195 274.5h.9M192.5 287.5h.9M190 271h.9M196.5 267.5h.9M193.5 284h.9M206 285h.9M202.5 282.5h.9M205 288.5h.9M209.5 289h.9M199.5 304.5h.9M200 271h.9M197.5 271h.9M182.5 276.5h.9M186 280.5h.9M194 274.5h.9M185.5 288h.9M195 284h.9M196.5 290h.9M206 306h.9M190 298.5h.9M198 290h.9M189.5 268.5h.9M201 281h.9M207.5 295.5h.9M208 291.5h.9M189 271h.9M189.5 262.5h.9M200.5 317.5h.9M196.5 279.5h.9M186 262.5h.9M184.5 270h.9M188.5 280.5h.9M192 279.5h.9M191 276.5h.9M194.5 283h.9M189 260.5h.9M197 288h.9M186 281h.9M195.5 270.5h.9M192.5 268.5h.9M197.5 260h.9M188.5 269h.9M192 275h.9M182.5 261h.9M186 289.5h.9M191 283.5h.9M200.5 284.5h.9M198 268h.9M197 290.5h.9M195.5 290.5h.9M191 293.5h.9M202.5 294h.9M193.5 290.5h.9M189 273.5h.9M200.5 271.5h.9M205.5 274.5h.9M190.5 265h.9M197.5 282h.9M186.5 292.5h.9M190.5 272h.9M198.5 294h.9M209 275.5h.9M198 275.5h.9M198.5 260.5h.9M190 268h.9M188 273.5h.9M227 269.5h.9M185.5 280h.9M216 288h.9M200 290.5h.9M220.5 274h.9M234.5 282h.9M213 284.5h.9M194.5 280h.9M211 287h.9M196 298h.9M212.5 281.5h.9M214 282h.9M225.5 278.5h.9M214.5 280.5h.9M206.5 272h.9M226.5 276h.9M230.5 290.5h.9M205.5 300h.9M230 281.5h.9M224 276.5h.9M227 272.5h.9M227 297.5h.9M208.5 260.5h.9M219 278h.9M214.5 282h.9M224.5 298h.9M218.5 316h.9M210 272h.9M212.5 286h.9M210 300.5h.9M201.5 290.5h.9M208 290h.9M208.5 270.5h.9M207.5 277.5h.9M221 271.5h.9M217 298.5h.9M216.5 273.5h.9M236.5 285h.9M220 273.5h.9M217.5 290h.9M203.5 289h.9M227.5 296.5h.9M210 279h.9M222.5 281.5h.9M201 307h.9M207 281h.9M206.5 313h.9M213 276.5h.9M211 275h.9M225 285.5h.9M219 284h.9M222 286.5h.9M221.5 280h.9M202 278h.9M215 298.5h.9M233.5 301h.9M217 275h.9M217 307.5h.9M214.5 266.5h.9M205.5 277h.9M221.5 281h.9M212 272h.9M198 297.5h.9M223 290.5h.9M215 278h.9M227.5 289.5h.9M209.5 259.5h.9M218 272.5h.9M230.5 277.5h.9M210 283.5h.9M239 286h.9M193 275.5h.9M194.5 255h.9M207.5 262h.9M218 275h.9M212 295h.9M195 294h.9M224 263h.9M230.5 288.5h.9M218.5 286h.9M211 268.5h.9M220.5 288h.9M234 290.5h.9M228 289.5h.9M215.5 291h.9M222 282.5h.9M213.5 274.5h.9M223 275.5h.9M221 307h.9M207 277h.9M222.5 281h.9M215 275.5h.9M195.5 298h.9M203.5 300h.9M206 297.5h.9M211.5 286h.9M212 291.5h.9M232.5 296h.9M193 272.5h.9M224.5 282h.9M213 276.5h.9M217.5 286h.9M194.5 283h.9M227 268.5h.9M217.5 276.5h.9M213 290h.9M209.5 304.5h.9M214 276h.9M212.5 313.5h.9M223.5 280h.9M205.5 291h.9M206.5 285.5h.9M199 266.5h.9M224 259h.9M211.5 264h.9M228 289.5h.9M182.5 293h.9M207 285.5h.9M200.5 298h.9M225 300.5h.9M221 300h.9M231 272.5h.9M218.5 282.5h.9M209 269h.9M212.5 301.5h.9M237 325.5h.9M211.5 284.5h.9M219.5 291h.9M232 271h.9M206 316.5h.9M210 271h.9M225.5 264.5h.9M217.5 261.5h.9M197.5 280h.9M237 273.5h.9M219.5 303.5h.9M209 290.5h.9M223.5 294h.9M205 293h.9M235 283h.9M217.5 259.5h.9M200.5 255h.9M216.5 286.5h.9M231.5 296h.9M213.5 274h.9M196 290.5h.9M207.5 271h.9M203.5 274.5h.9M199.5 290.5h.9M216 266h.9M206 265h.9M217.5 290h.9M212.5 288h.9M220 295h.9M213.5 285.5h.9M222 256h.9M207 289.5h.9M236 273h.9M202 279.5h.9M206 289.5h.9M231 281h.9M227.5 281.5h.9M213 297h.9M207.5 302h.9M216 268.5h.9M211 268.5h.9M213 310.5h.9M207 277h.9M221 276.5h.9M228.5 302h.9M218.5 281h.9M225.5 286.5h.9M233.5 304.5h.9M232.5 291h.9M216.5 269.5h.9M233 274.5h.9M201.5 260h.9M229.5 256h.9M211 270.5h.9M219.5 274h.9M219.5 272h.9M235.5 299h.9M224.5 266.5h.9M197 292h.9M208 277h.9M214 284h.9M211.5 275h.9M194 280h.9M203.5 288.5h.9M209.5 262.5h.9M202 276h.9M212 298.5h.9M215 294.5h.9M201.5 309h.9M227 283h.9M218.5 267.5h.9M210.5 301h.9M214.5 274h.9M205 299.5h.9M192 287h.9M217 291h.9M224 303.5h.9M213.5 305h.9M232 272h.9M215 262.5h.9M213.5 291.5h.9M214.5 266h.9M204 293h.9M211 291h.9M199 300h.9M213 289.5h.9M213.5 287.5h.9M234.5 283h.9M205 301h.9M216 309h.9M225.5 292h.9M228 293.5h.9M220.5 289.5h.9M206.5 271h.9M216 300h.9M205.5 280h.9M213.5 298h.9M231.5 292.5h.9M208 296h.9M220.5 327.5h.9M234 321.5h.9M228.5 321h.9M233 323h.9M218 327h.9M207.5 325h.9M212.5 319.5h.9M213 325.5h.9M221 316.5h.9M227 320h.9M231.5 323h.9M217 327h.9M223 323.5h.9M229.5 321.5h.9M208 325.5h.9M225.5 330h.9M235 330h.9" stroke="#000" stroke-opacity="0.64" stroke-width=".9" fill="none"/>
<path d="M203 325.5h.9M197 331.5h.9M190 323.5h.9M194.5 329.5h.9M184.5 326h.9M186 325h.9M180.5 324h.9M199.5 328h.9M193 326h.9M193.5 319h.9M200 325h.9M192.5 325.5h.9M191 321h.9M193.5 318.5h.9M188.5 320.5h.9M199 324.5h.9M188 331h.9M197 318.5h.9M191 325.5h.9M189.5 327.5h.9M185 326.5h.9M179.5 321h.9M201.5 320h.9M191 329h.9M196 322.5h.9M194 318.5h.9M188 322.5h.9M198.5 326.5h.9M195 324.5h.9M195 324h.9M198 323h.9M195 324h.9M191.5 328h.9M188.5 327h.9M201.5 323.5h.9M186.5 325.5h.9M190 320.5h.9M197.5 327.5h.9M198.5 329.5h.9M186 331.5h.9M193.5 330.5h.9M186 322h.9M203 325h.9M199 330h.9M187.5 325h.9M186 326h.9M195.5 325h.9M201.5 323.5h.9M198.5 325h.9M190 328.5h.9M201.5 324.5h.9M183.5 325.5h.9M195.5 325h.9M181 323.5h.9M188.5 326.5h.9M185 326h.9M198.5 330h.9M184 323h.9M193 325h.9M187.5 319h.9M199 323.5h.9M196 324h.9M192 323h.9M186.5 322.5h.9M193 328.5h.9M191 327h.9M196 324h.9M193.5 325h.9M187.5 320.5h.9M194.5 330h.9M185.5 326.5h.9M185 329.5h.9M190 327h.9M197 323h.9M208.5 325.5h.9M187 324h.9M183.5 329.5h.9M188.5 321h.9M193 327h.9M186.5 326h.9M188 321.5h.9M193.5 327h.9M202.5 320h.9M189 324h.9M186 331.5h.9M187 317.5h.9M189 323h.9M188 320.5h.9M192 324h.9M182 327.5h.9M206 316h.9M188 325.5h.9M188.5 322.5h.9M183 331h.9M192.5 326h.9M192.5 326.5h.9M196.5 325.5h.9M200 328.5h.9M192.5 331h.9M186 320.5h.9M191 331.5h.9M200 329.5h.9M200.5 320.5h.9M187 329h.9M186.5 326h.9M189 323h.9M199 323h.9M198 324h.9M198.5 328.5h.9M192 324.5h.9M187 325.5h.9M194.5 324.5h.9M189.5 323h.9M182.5 322.5h.9M186.5 325.5h.9M196 327h.9M194 329h.9M191.5 319.5h.9M180.5 316.5h.9M184.5 327.5h.9M193 322.5h.9M201.5 321h.9M194.5 324h.9M202 327h.9M184 326.5h.9M189.5 326.5h.9M191.5 325h.9M194.5 321.5h.9M184 329h.9M188 319.5h.9M186.5 324h.9M192.5 326.5h.9M193 321.5h.9M199 323.5h.9M187 325h.9M199 319.5h.9M195.5 321h.9M191.5 327.5h.9M188 323h.9M187.5 328h.9M193.5 321h.9M200.5 322h.9M194 321h.9M182 320h.9M187.5 328h.9M190.5 325.5h.9M188.5 324.5h.9M186 325.5h.9M182 321h.9M190.5 318h.9M197 321.5h.9M208 318.5h.9M194 324h.9M191.5 326h.9M191.5 324h.9M195 328h.9M201 321.5h.9M180.5 316.5h.9M182.5 323.5h.9M198.5 326.5h.9M199.5 326h.9M192.5 316.5h.9M195.5 328h.9M184 329h.9M197 320h.9M203 322h.9M182.5 325.5h.9M184 325.5h.9M186.5 328.5h.9M193.5 323.5h.9M193.5 324.5h.9M192.5 322h.9M188.5 323.5h.9M200 325h.9M186.5 329h.9M190 323.5h.9M185 326h.9M199 312.5h.9M181 318.5h.9M190.5 322.5h.9M193.5 327.5h.9M201.5 328h.9M186.5 318h.9M185.5 326.5h.9M188 329.5h.9M184 301.5h.9M192 313h.9M189 307h.9M190.5 307h.9M195 311h.9M200.5 296.5h.9M183 307.5h.9M179 312.5h.9M188 314.5h.9M186.5 301.5h.9M189.5 310.5h.9M186 307.5h.9M204.5 313.5h.9M194.5 304.5h.9M196.5 305.5h.9M196 295.5h.9M185 307h.9M190.5 309.5h.9M193 307h.9M185.5 307h.9M190.5 305h.9M201.5 306.5h.9M183.5 306.5h.9M189 305.5h.9M190 309.5h.9M187 299.5h.9M204.5 303h.9M197 309h.9M189.5 317h.9M195.5 304h.9M187.5 309.5h.9M195.5 306h.9M198 301h.9M183.5 303h.9M189.5 307h.9M192 303h.9M180.5 307.5h.9M197.5 306h.9M192 303h.9M188 311h.9M191 311h.9M198.5 308h.9M192.5 307h.9M189 312h.9M193 306h.9M203 307.5h.9M197 310h.9M202 314.5h.9M193 313h.9M188 304h.9M185 315h.9M189 306.5h.9M186 311.5h.9M190 311h.9M191 312h.9M195 305.5h.9M194 281.5h.9M208.5 277.5h.9M197.5 263h.9M195 264h.9M205 299h.9M196.5 278.5h.9M188.5 279.5h.9M188 262.5h.9M187.5 263h.9M184 276h.9M189 303h.9M192.5 276h.9M183 273h.9M200.5 276.5h.9M183 278h.9M192 284.5h.9M202.5 280h.9M196.5 277.5h.9M199.5 294h.9M206.5 273.5h.9M187.5 270.5h.9M191 289.5h.9M204.5 289.5h.9M196 279.5h.9M196.5 256h.9M188 289.5h.9M189.5 301h.9M195.5 269.5h.9M196 267h.9M196 279.5h.9M201 265h.9M186 275h.9M198 281.5h.9M200 283.5h.9M193.5 287.5h.9M184.5 274h.9M197.5 273.5h.9M184 272.5h.9M200.5 264h.9M189.5 293.5h.9M198 287h.9M202.5 266h.9M192 283h.9M207 283.5h.9M200 263.5h.9M196 287h.9M194.5 276h.9M189 289h.9M192.5 266h.9M187.5 272.5h.9M199.5 279h.9M210 270h.9M193.5 272h.9M182.5 295h.9M201 266h.9M204.5 260h.9M183 285.5h.9M202 291h.9M197.5 288.5h.9M200.5 276h.9M200.5 284.5h.9M197.5 269.5h.9M184 283h.9M189 257.5h.9M203 294.5h.9M184 258.5h.9M199 272h.9M195 270.5h.9M190.5 266.5h.9M194 263h.9M202 282.5h.9M192 278h.9M195 263.5h.9M204.5 281.5h.9M190.5 274.5h.9M190 262.5h.9M187.5 281h.9M185.5 273h.9M188 265h.9M200.5 289h.9M196.5 292.5h.9M184 288h.9M188.5 292h.9M192 283h.9M184 292h.9M196.5 272.5h.9M192 300h.9M211 282h.9M209 261.5h.9M230 295h.9M231.5 268.5h.9M215.5 300.5h.9M210.5 265.5h.9M223 282h.9M221 264.5h.9M197 286h.9M226.5 300h.9M188.5 262.5h.9M221.5 292h.9M206 284.5h.9M203 277.5h.9M217.5 279h.9M210.5 293.5h.9M218.5 269.5h.9M227 303h.9M206 293h.9M204 261h.9M190 264.5h.9M213.5 267.5h.9M222.5 271h.9M224 286.5h.9M226.5 287.5h.9M232.5 281.5h.9M198 307h.9M209 280.5h.9M224 291h.9M221 293.5h.9M214 286h.9M204.5 295.5h.9M219.5 264.5h.9M222 287h.9M219.5 293.5h.9M200 269h.9M193.5 301h.9M201 284h.9M197 273.5h.9M228 277.5h.9M227.5 288h.9M238 279h.9M210 292h.9M226 287.5h.9M210 306.5h.9M211.5 273h.9M222 268.5h.9M221.5 271.5h.9M226 280.5h.9M205.5 261h.9M199.5 291.5h.9M214.5 290h.9M205.5 292h.9M232 297.5h.9M225 279.5h.9M207 299h.9M203.5 281.5h.9M208 278h.9M214 285.5h.9M221 286.5h.9M222.5 273.5h.9M223.5 263h.9M208 291.5h.9M209.5 307.5h.9M199.5 300.5h.9M204.5 287.5h.9M238 300.5h.9M209 303.5h.9M200 307h.9M215.5 284h.9M215.5 257.5h.9M207 269h.9M204 281.5h.9M225 269.5h.9M208.5 265.5h.9M228 259h.9M226 287h.9M216 283.5h.9M226 269.5h.9M208 300.5h.9M217 296.5h.9M212 286h.9M220.5 291h.9M220.5 268h.9M208.5 280.5h.9M222 276h.9M214.5 302h.9M211 282h.9M212 290.5h.9M209.5 263.5h.9M215 290h.9M219 290h.9M195 281h.9M216 262h.9M207 299h.9M214 268.5h.9M181 296.5h.9M213 287.5h.9M207 280.5h.9M193.5 305h.9M229.5 280.5h.9M215 291h.9M181 279h.9M231.5 312h.9M226.5 267h.9M208.5 261.5h.9M225.5 280.5h.9M198.5 297h.9M236 303h.9M216 283.5h.9M196 266h.9M184 278.5h.9M235 300h.9M190 305.5h.9M197 261.5h.9M201 309.5h.9M225 258h.9M232 278h.9M184.5 272.5h.9M200.5 286.5h.9M181.5 283.5h.9M221.5 288h.9M213 267.5h.9M224 284h.9M180.5 288h.9M187.5 273.5h.9M218 304.5h.9M184 302.5h.9M231 301h.9M222.5 295.5h.9M186 300h.9M227.5 262h.9M181.5 277.5h.9M180.5 305h.9M179.5 305h.9M199 271.5h.9M207.5 281h.9M199 268h.9M227 311.5h.9M226 283h.9M209 304.5h.9M182.5 309h.9M207 293.5h.9M212 301.5h.9M182 268.5h.9M187 307h.9M194 295h.9M229.5 300.5h.9M197.5 263.5h.9M188 265.5h.9M239.5 283.5h.9M237 260.5h.9M187.5 300h.9M185.5 293h.9M183 299h.9M187.5 306h.9M227 270h.9M225 275h.9M225 328.5h.9M210.5 316h.9M230.5 317.5h.9M235.5 323h.9M217.5 316.5h.9M219.5 327h.9M230.5 326h.9M219.5 327.5h.9M210.5 322.5h.9M214 318.5h.9M219 326.5h.9M207 323h.9M232 330.5h.9M234 327.5h.9M208 320h.9M219.5 329h.9" stroke="#000" stroke-opacity="0.41" stroke-width=".9" fill="none"/>
<path d="M201 264h.9M213.5 258h.9M202 273h.9M186.5 284h.9M201 257.5h.9M195 286.5h.9M231.5 300h.9M219 298.5h.9M185.5 292.5h.9M238 275.5h.9M183 282h.9M189.5 311h.9M230 299.5h.9M219 258h.9M227.5 298.5h.9M208.5 289h.9M192.5 307h.9M190 290h.9M234.5 291h.9M212 290.5h.9M211 269h.9M220.5 305h.9M224 266.5h.9M206 271.5h.9M199 298h.9M235.5 298.5h.9M223.5 272.5h.9M226.5 264h.9M222.5 307.5h.9M228 280.5h.9M228.5 286h.9M193.5 286.5h.9M220.5 306.5h.9M218.5 272.5h.9M233.5 304h.9M212.5 262h.9M238.5 297h.9M218.5 296.5h.9M220 271.5h.9M220 305.5h.9M226.5 267h.9M209.5 301.5h.9M222 301h.9M192 297h.9M202.5 258h.9M205 266.5h.9M203.5 302.5h.9M179 299.5h.9M207.5 294h.9M220.5 288h.9M237.5 271h.9M227 277h.9M224 290h.9M199.5 284h.9M215.5 312h.9M203.5 303h.9M223.5 288.5h.9M201.5 264.5h.9M186 272h.9M206.5 263.5h.9M206 267.5h.9M213 277.5h.9M197 265h.9M181.5 264.5h.9M226 283h.9M190.5 293h.9M203.5 261h.9M217.5 286.5h.9M217.5 302h.9M183 258.5h.9M202 295h.9M182.5 285.5h.9M237.5 268.5h.9M191 311h.9M186.5 306.5h.9M212.5 261h.9M223 285.5h.9M238.5 261h.9M194.5 300.5h.9M223 308.5h.9M185 296.5h.9M228.5 279.5h.9M223 288h.9M179.5 305.5h.9M209.5 303h.9M219.5 307h.9M211.5 290h.9M202.5 277.5h.9M225.5 291h.9M229 286.5h.9M203.5 302h.9M189 307h.9M212.5 327h.9M235.5 322h.9M234.5 329h.9M216 330.5h.9M208 328h.9M216.5 320.5h.9M222.5 326h.9M224.5 326h.9M235.5 321h.9M228.5 330h.9M228.5 320.5h.9M216 327h.9M224.5 321h.9M217.5 326h.9M210.5 316.5h.9M209 327h.9M214 328.5h.9M236 323.5h.9M232 317h.9M212 322h.9M216.5 328h.9M226 322h.9M210 322.5h.9M208 327h.9M223 320h.9M214 329h.9M229 327.5h.9M221.5 320.5h.9M216.5 327h.9M212 325h.9" stroke="#000" stroke-opacity="0.28" stroke-width=".9" fill="none"/>
<text transform="translate(245.3 267.6) scale(0.92 1)" font-size="14.8" font-weight="bold" font-style="normal" fill="#111" stroke="#111" stroke-width="0.4" text-anchor="middle">12.8%</text>
<text transform="translate(152.2 294.2) rotate(-90)" font-size="16.9" font-weight="bold" font-style="normal" fill="#111" stroke="#111" stroke-width="0.4" text-anchor="middle">CD36</text>
<text transform="translate(220.5 370.9) scale(0.9 1)" font-size="16.7" font-weight="bold" font-style="normal" fill="#111" stroke="#111" stroke-width="0.4" text-anchor="middle">GPA</text>
<rect x="306.4" y="255.3" width="83.6" height="78.7" fill="#fff" stroke="#4a4a4a" stroke-width="0.9"/>
<path d="M306.4 255.3V334H390" stroke="#151515" stroke-width="1.6" fill="none"/>
<path d="M329.4 255.3V334M306.4 314.6H390" stroke="#404040" stroke-width="1" fill="none"/>
<path d="M317.7 334v6.2M339.2 334v6.2M360.7 334v6.2M382.2 334v6.2M306.5 334v3.7M309.1 334v3.7M311.2 334v3.7M312.9 334v3.7M314.4 334v3.7M315.6 334v3.7M316.7 334v3.7M324.2 334v3.7M328 334v3.7M330.6 334v3.7M332.7 334v3.7M334.4 334v3.7M335.9 334v3.7M337.1 334v3.7M338.2 334v3.7M345.7 334v3.7M349.5 334v3.7M352.1 334v3.7M354.2 334v3.7M355.9 334v3.7M357.4 334v3.7M358.6 334v3.7M359.7 334v3.7M367.2 334v3.7M371 334v3.7M373.6 334v3.7M375.7 334v3.7M377.4 334v3.7M378.9 334v3.7M380.1 334v3.7M381.2 334v3.7M388.7 334v3.7M306.4 323h-6.2M306.4 303.2h-6.2M306.4 283.4h-6.2M306.4 263.6h-6.2M306.4 333.4h-3.7M306.4 330.9h-3.7M306.4 329h-3.7M306.4 327.4h-3.7M306.4 326.1h-3.7M306.4 324.9h-3.7M306.4 323.9h-3.7M306.4 317h-3.7M306.4 313.6h-3.7M306.4 311.1h-3.7M306.4 309.2h-3.7M306.4 307.6h-3.7M306.4 306.3h-3.7M306.4 305.1h-3.7M306.4 304.1h-3.7M306.4 297.2h-3.7M306.4 293.8h-3.7M306.4 291.3h-3.7M306.4 289.4h-3.7M306.4 287.8h-3.7M306.4 286.5h-3.7M306.4 285.3h-3.7M306.4 284.3h-3.7M306.4 277.4h-3.7M306.4 274h-3.7M306.4 271.5h-3.7M306.4 269.6h-3.7M306.4 268h-3.7M306.4 266.7h-3.7M306.4 265.5h-3.7M306.4 264.5h-3.7M306.4 257.6h-3.7" stroke="#000" stroke-width="1.15" fill="none"/>
<text transform="translate(317.9 349.3) scale(0.9 1)" font-size="7.4" fill="#111" stroke="#111" stroke-width="0.25" text-anchor="middle">10<tspan dy="-3.4" font-size="5.3">2</tspan></text>
<text transform="translate(339.4 349.3) scale(0.9 1)" font-size="7.4" fill="#111" stroke="#111" stroke-width="0.25" text-anchor="middle">10<tspan dy="-3.4" font-size="5.3">3</tspan></text>
<text transform="translate(360.9 349.3) scale(0.9 1)" font-size="7.4" fill="#111" stroke="#111" stroke-width="0.25" text-anchor="middle">10<tspan dy="-3.4" font-size="5.3">4</tspan></text>
<text transform="translate(382.4 349.3) scale(0.9 1)" font-size="7.4" fill="#111" stroke="#111" stroke-width="0.25" text-anchor="middle">10<tspan dy="-3.4" font-size="5.3">5</tspan></text>
<text transform="translate(298.2 322.1) scale(0.9 1) rotate(-90)" font-size="7.4" fill="#111" stroke="#111" stroke-width="0.25" text-anchor="middle">10<tspan dy="-3.4" font-size="5.3">2</tspan></text>
<text transform="translate(298.2 302.3) scale(0.9 1) rotate(-90)" font-size="7.4" fill="#111" stroke="#111" stroke-width="0.25" text-anchor="middle">10<tspan dy="-3.4" font-size="5.3">3</tspan></text>
<text transform="translate(298.2 282.5) scale(0.9 1) rotate(-90)" font-size="7.4" fill="#111" stroke="#111" stroke-width="0.25" text-anchor="middle">10<tspan dy="-3.4" font-size="5.3">4</tspan></text>
<text transform="translate(298.2 262.7) scale(0.9 1) rotate(-90)" font-size="7.4" fill="#111" stroke="#111" stroke-width="0.25" text-anchor="middle">10<tspan dy="-3.4" font-size="5.3">5</tspan></text>
<path d="M314.5 310h.9M318.5 312h.9M314 312h.9M319 294.5h.9M322.5 308.5h.9M311.5 311.5h.9M318 311.5h.9M313 311h.9M317 316.5h.9M315.5 317.5h.9M317.5 320h.9M317.5 313h.9M311.5 311.5h.9M319 313h.9M315 306h.9M316 302h.9M317 312.5h.9M313 306.5h.9M318.5 308h.9M315.5 311h.9M314 314h.9M310.5 308h.9M312 309.5h.9M317 318h.9M315.5 306.5h.9M313.5 306.5h.9M314.5 328.5h.9M313.5 311h.9M314.5 313h.9M312.5 303.5h.9M317 325.5h.9M315.5 311h.9M320.5 310h.9M321 310.5h.9M318 303h.9M308.5 311h.9M320 320.5h.9M313 318.5h.9M312.5 309h.9M313 311h.9M312 319h.9M319 308.5h.9M313.5 315h.9M326.5 320h.9M315 314h.9M317 301.5h.9M323.5 313h.9M319.5 307h.9M316 320h.9M315 322h.9M319 313.5h.9M317 318.5h.9M325 307h.9M311 322h.9M315 305.5h.9M322 316.5h.9M309 312.5h.9M316.5 314.5h.9M314 303h.9M310 311h.9M319 309h.9M324.5 312.5h.9M314 312h.9M312 319.5h.9M308 303h.9M311.5 311h.9M318.5 313.5h.9M320 310.5h.9M318 316h.9M314 310h.9M310 314h.9M308 307h.9M317 310h.9M317 311.5h.9M320.5 322h.9M316 311.5h.9M326 319h.9M313.5 302h.9M311.5 310.5h.9M317 321h.9M314.5 325.5h.9M314.5 320.5h.9M323 313h.9M309.5 318h.9M311.5 314.5h.9M315.5 313h.9M317.5 302h.9M319.5 314.5h.9M315 315.5h.9M310.5 305.5h.9M319.5 301.5h.9M312 315h.9M325 316h.9M311.5 303h.9M313 309.5h.9M315 313.5h.9M325 319.5h.9M316.5 314h.9M309.5 312.5h.9M313.5 325.5h.9M320 309h.9M318.5 309h.9M308 314.5h.9M316 313.5h.9M311.5 316h.9M310 324.5h.9M322 317.5h.9M319.5 302.5h.9M319.5 317h.9M314 314h.9M313 307h.9M313 304.5h.9M317 309h.9M321.5 306h.9M319 319.5h.9M309 317h.9M319 319.5h.9M314.5 308h.9M316.5 322.5h.9M323.5 312.5h.9M317.5 308.5h.9M312 303.5h.9M324.5 311.5h.9M324 317h.9M319.5 311.5h.9M315.5 311.5h.9M317 313.5h.9M309 316h.9M309.5 310h.9M320 314h.9M323.5 313h.9M319 319.5h.9M329 324.5h.9M319 314h.9M315 321h.9M319 316h.9M320.5 308h.9M311.5 301.5h.9M319 320.5h.9M319.5 309h.9M310 313h.9M320.5 301.5h.9M312 307.5h.9M311.5 319h.9M312.5 313h.9M314 315.5h.9M311 319.5h.9M318.5 316.5h.9M315 303.5h.9M320.5 306h.9M311.5 302.5h.9M307.5 319h.9M312 306.5h.9M323.5 310.5h.9M308.5 308h.9M315 305.5h.9M318 314.5h.9M326 310.5h.9M315 318h.9M314 308h.9M316.5 321.5h.9M308.5 311h.9M323 303.5h.9M317 325h.9M316 312h.9M320.5 312.5h.9M319 314h.9M308 310h.9M327 296h.9M314 318.5h.9M319 320.5h.9M321.5 306h.9M315 309h.9M308.5 301.5h.9M317 318.5h.9M313 320h.9M318 301h.9M311 318.5h.9M319.5 314.5h.9M311.5 317.5h.9M319 310.5h.9M318 311.5h.9M319.5 311h.9M317 313.5h.9M315.5 321.5h.9M315 315.5h.9M319.5 319.5h.9M310 308.5h.9M311 305.5h.9M310 303.5h.9M327 318.5h.9M318 308.5h.9M318 316h.9M310 310h.9M320 314.5h.9M315.5 307h.9M313.5 313.5h.9M308.5 319h.9M318 323.5h.9M312.5 308.5h.9M315.5 319.5h.9M314 315.5h.9M315.5 315.5h.9M309 319.5h.9M321.5 314.5h.9M310.5 298h.9M318 306h.9M309.5 313.5h.9M322.5 308.5h.9M310 311h.9M315.5 317.5h.9M309.5 314h.9M315.5 312.5h.9M312 302h.9M316.5 309h.9M321 307h.9M317.5 326h.9M316.5 310h.9M322.5 320.5h.9M318.5 314.5h.9M310.5 311h.9M309.5 311.5h.9M313 313.5h.9M319.5 309.5h.9M321.5 316h.9M321 318h.9M323.5 318h.9M308.5 315.5h.9M316 305.5h.9M309 304.5h.9M320.5 327h.9M311.5 306h.9M315.5 316.5h.9M321.5 298h.9M314 306h.9M321 303h.9M320 296h.9M317 302h.9M317.5 312h.9M309.5 309h.9M319.5 319.5h.9M311.5 315.5h.9M333 307.5h.9M313.5 301h.9M314 305.5h.9M323 324h.9M317 301.5h.9M317.5 314h.9M308.5 320h.9M321 318h.9M309.5 299h.9M316.5 306.5h.9M319 325.5h.9M322.5 311.5h.9M325 319h.9M313.5 275h.9M317.5 282.5h.9M322 306h.9M309 318.5h.9M328.5 294h.9M316.5 295.5h.9M309.5 275.5h.9M308 304.5h.9M318 320.5h.9M325.5 302h.9M323.5 284.5h.9M321 294.5h.9M314.5 314h.9M318 326h.9M313.5 329.5h.9M309.5 328h.9M323 301h.9M320.5 295h.9M317 330h.9M311 316.5h.9M310.5 323.5h.9M319 313h.9M308 314.5h.9M315 330h.9M314 277.5h.9M316.5 278h.9M320 268.5h.9M312.5 308h.9M328.5 305h.9M315.5 306.5h.9M321 297h.9M326 289.5h.9M314.5 281.5h.9M320 302.5h.9M313 281.5h.9M314 307.5h.9M307.5 316h.9M321.5 284h.9M327 313h.9M309 278.5h.9M310.5 278h.9M328 313.5h.9M325.5 316.5h.9M313 290h.9M315.5 277.5h.9M314.5 296.5h.9M326 274.5h.9M317.5 296.5h.9M313 269.5h.9M309 291h.9M309 280h.9M315 288h.9M328.5 299.5h.9M317 287h.9M317 293h.9M322 324.5h.9M318.5 288h.9M322.5 281h.9M328.5 286h.9M309 328.5h.9M307.5 321.5h.9M320.5 312.5h.9M319 296h.9M317 308.5h.9M309 270h.9M313.5 323.5h.9M308.5 303h.9M310 307h.9M312.5 273.5h.9M325 282.5h.9M316 298.5h.9M328 332.5h.9M309 332.5h.9M314.5 295.5h.9M311.5 329.5h.9M317 271.5h.9M311.5 301.5h.9M326.5 309.5h.9M316.5 323h.9M324 306.5h.9M314 305h.9M316 274h.9M309.5 277h.9M315.5 314.5h.9M312 303.5h.9M310.5 273h.9M315 321.5h.9M320 323h.9M311.5 293h.9M313 315.5h.9M311.5 306.5h.9M308.5 281h.9M327.5 267.5h.9M314.5 313.5h.9M312 328h.9M322.5 326.5h.9M328.5 323h.9M308.5 282.5h.9M317.5 311.5h.9M315.5 324h.9M320.5 293.5h.9M309.5 275.5h.9M320.5 300h.9M312 288h.9M316 303.5h.9M320 273.5h.9M316 283h.9M325 330.5h.9M320.5 281h.9M319.5 271.5h.9M328 298h.9M308 329h.9M316 294h.9M318.5 296h.9M320.5 332.5h.9M312.5 291h.9M323 329.5h.9M315 283.5h.9M311 280h.9M321.5 279h.9M321.5 278h.9M319.5 292h.9M320.5 283h.9M319 307h.9M313 307.5h.9M315 278.5h.9M314.5 301h.9M310 274.5h.9M315 289.5h.9M311 284.5h.9M326 320h.9M328 273h.9M308 331h.9M326 322.5h.9M308 284h.9M326 325.5h.9M324 330h.9M320.5 273.5h.9M311 289.5h.9M315 287h.9M317 309h.9M316 279.5h.9M318 331h.9M316.5 293.5h.9M326 281h.9M319 290.5h.9M324.5 287h.9M323 307h.9M308 278.5h.9M311.5 303h.9M324 274h.9M327.5 330.5h.9M314.5 274.5h.9M322 316.5h.9M324 271.5h.9M320.5 270h.9M316 299h.9M321.5 293.5h.9M327.5 313h.9M311 313.5h.9M322 314h.9M325 267.5h.9M311 330.5h.9M320.5 272.5h.9M318 295h.9M319 279.5h.9M326.5 272.5h.9M325 287h.9M312.5 281h.9M313.5 318.5h.9M314 317h.9M322.5 276h.9M324.5 321.5h.9M311 310h.9M318.5 316.5h.9M316 284.5h.9M311.5 296.5h.9M311 289.5h.9M308 329.5h.9M310 321h.9M318 294.5h.9M324 302h.9M312 289.5h.9M308.5 333h.9M310.5 272h.9M328 305.5h.9M317 293.5h.9M328 330.5h.9M313 290h.9M326.5 319h.9M312 332h.9M326 302h.9M321 275.5h.9M323.5 296.5h.9M325.5 327.5h.9M319 311.5h.9M312 310.5h.9M319 274h.9M324.5 277.5h.9M317.5 302h.9M324.5 318.5h.9M316.5 301.5h.9M323 295h.9M326.5 316h.9M310.5 311.5h.9M313.5 317.5h.9M328 300h.9M318.5 321h.9M308.5 281.5h.9M315.5 268h.9M324.5 282h.9M311 285.5h.9M317 293.5h.9M309 286h.9M319 281h.9M316 278h.9M311 317h.9M327.5 323.5h.9M321 278h.9M312.5 301h.9M312.5 299h.9M315 332.5h.9M315 272.5h.9M314 317h.9M311 302h.9M328.5 272.5h.9M319.5 319h.9M327 329h.9M319.5 297.5h.9M328 281h.9M322.5 290.5h.9M315.5 300.5h.9M317.5 294h.9M313 295.5h.9M321 301.5h.9M311 306h.9M315 286.5h.9M326.5 282.5h.9M315 324.5h.9M321 310h.9M316 311h.9M328.5 268h.9M315 310h.9M326 318h.9M326.5 285.5h.9M325.5 267h.9M323.5 279h.9M323.5 275.5h.9M315 321h.9M315 306h.9M319.5 301h.9M311 299h.9M322 309h.9M325.5 322.5h.9M316.5 329.5h.9M327.5 299h.9M324 309.5h.9M310.5 305h.9M315.5 273.5h.9M312 289h.9M312 302.5h.9M318.5 306h.9M308.5 269.5h.9M323.5 291.5h.9M321 301.5h.9M311 279h.9M312 329h.9M309.5 270.5h.9M326 271.5h.9M327.5 280h.9M322 328.5h.9M315.5 286h.9M320 330h.9M326 298.5h.9M324 325h.9M326.5 276h.9M310.5 299.5h.9M321.5 269h.9M327 322.5h.9M321.5 296.5h.9M321.5 316.5h.9M316.5 329h.9M328.5 288.5h.9M314 306h.9M313.5 303.5h.9M316.5 274.5h.9M309 301h.9M311.5 321.5h.9M325 284h.9M308 302h.9M326.5 289h.9M312.5 273h.9M312.5 306h.9M325 275.5h.9M318.5 303h.9M325.5 330h.9M329 272.5h.9M321.5 319.5h.9M320.5 282.5h.9M314 318h.9M324 275h.9M312 297h.9M316.5 302h.9M318 330h.9M324.5 267.5h.9M310 312.5h.9M320 307.5h.9M313 315h.9M314.5 319.5h.9M313.5 322h.9M314 290h.9M311 273.5h.9M320.5 269.5h.9M320 275h.9M325 294h.9M328.5 299h.9M309.5 307h.9M308 291.5h.9M312.5 316h.9M313.5 277.5h.9M312 269.5h.9M312 279.5h.9M315 271h.9M315.5 271h.9M314 326.5h.9M328.5 306h.9M328 291.5h.9M309.5 273.5h.9M311 306h.9M309 331.5h.9M326.5 302.5h.9M316.5 317.5h.9M313 315.5h.9M322.5 305.5h.9M313 326h.9M312 283h.9M307.5 332.5h.9M327.5 295.5h.9M312.5 329h.9M313.5 299h.9M327 300h.9M322 324.5h.9M327 268h.9M313 295h.9M324.5 289.5h.9M326.5 278h.9M309.5 306.5h.9M313 307.5h.9M314.5 293h.9M322.5 290.5h.9M318.5 312.5h.9M326.5 292.5h.9M318 331.5h.9M328.5 323h.9M326.5 278.5h.9M327 269.5h.9M323.5 267.5h.9M320.5 310h.9M321.5 331.5h.9M318 310h.9M311.5 296.5h.9M328.5 314h.9M312.5 291.5h.9M324 326.5h.9M325 279.5h.9M326.5 272h.9M309.5 311.5h.9M323 308.5h.9M308 291h.9M317 322.5h.9M321 272.5h.9M316.5 312h.9M317.5 304h.9M310 298.5h.9M321.5 318.5h.9M317.5 306h.9M324 316.5h.9M323 308h.9M308 282h.9M337 273h.9M371.5 270.5h.9M352 289h.9M361 266h.9M353 277.5h.9M341 295.5h.9M370 280.5h.9M361 280.5h.9M370.5 286.5h.9M362.5 278h.9M355.5 295h.9M330.5 288.5h.9M361.5 274h.9M355 284.5h.9M334 281h.9M363.5 272.5h.9M331.5 265.5h.9M353.5 278h.9M365.5 291.5h.9M337.5 284.5h.9M365 270.5h.9M342 273h.9M370 281.5h.9M344.5 285h.9M345.5 280.5h.9M354 273h.9M368.5 281.5h.9M337 279.5h.9M338.5 267.5h.9M361 282h.9M357 282.5h.9M346.5 283h.9M356 284.5h.9M355 272.5h.9M371 275.5h.9M352.5 277h.9M346 276.5h.9M361 282.5h.9M342.5 285h.9M354.5 284.5h.9M361.5 286.5h.9M351.5 292h.9M337 277h.9M369 276.5h.9M343.5 289.5h.9M348.5 288h.9M328 277.5h.9M361.5 292h.9M346 292h.9M360 291.5h.9M354.5 288h.9M322 278.5h.9M363 270h.9M359 265h.9M353 277h.9M337 269h.9M338 285.5h.9M338.5 283h.9M351 273h.9M339 273h.9M356 291h.9M352 276.5h.9M366 274.5h.9M340 277h.9M364.5 277.5h.9M352 273.5h.9M358 272.5h.9M325 283.5h.9M347 284h.9M360.5 277.5h.9M343.5 271h.9M370 271h.9M358.5 279.5h.9M350 278.5h.9M329 277.5h.9M350.5 282.5h.9M356.5 300h.9M344.5 295h.9M344 281h.9M346.5 288h.9M322.5 296h.9M354 280h.9M366 274.5h.9M325.5 280h.9M359 280.5h.9M354.5 284.5h.9M355 282h.9M370 279.5h.9M356.5 273.5h.9M355.5 279.5h.9M353.5 271.5h.9M382 279h.9M365 280h.9M339 279h.9M346 275.5h.9M344 282h.9M345 273.5h.9M339 279h.9M353 289h.9M347.5 269.5h.9M382 277.5h.9M378 289.5h.9M384.5 290.5h.9M375.5 277h.9M344.5 270.5h.9M347 281.5h.9M329.5 267h.9M342.5 266h.9M342.5 277h.9M384 277.5h.9M361.5 274h.9M369 291.5h.9M356 274h.9M336 292.5h.9M321 274h.9M353 280h.9M346.5 277h.9M347.5 278.5h.9M378 290h.9M329 275h.9M379 282.5h.9M372 276h.9M374.5 277.5h.9M373 274h.9M352.5 280.5h.9M370 267.5h.9M334 273h.9M345 275h.9M356.5 278h.9M353 291h.9M349 268.5h.9M346 272h.9M353.5 274.5h.9M316.5 276h.9M343 282h.9M366 298.5h.9M342 278h.9M352.5 274.5h.9M352.5 286.5h.9M356.5 278.5h.9M347 279h.9M363.5 271h.9M365 284.5h.9M367.5 279h.9M346.5 280h.9M362 280h.9M367.5 272h.9M331 289h.9M354 278h.9M354 266h.9M360.5 275.5h.9M343 288h.9M352.5 272.5h.9M345 279.5h.9M363.5 269h.9M349 276.5h.9M380 282h.9M386 284.5h.9M372 284.5h.9M339 286.5h.9M360.5 271h.9M350.5 296.5h.9M340.5 288.5h.9M369.5 264.5h.9M335.5 273.5h.9M385.5 283h.9M350.5 271.5h.9M358.5 281.5h.9M365.5 281.5h.9M344 279h.9M363 282.5h.9M370 275.5h.9M347 286.5h.9M338.5 284h.9M331 278.5h.9M324.5 284h.9M347 286.5h.9M312.5 268.5h.9M367 280.5h.9M353.5 277h.9M354 275h.9M355 281h.9M344.5 287.5h.9M333 281.5h.9M367 275.5h.9M364.5 265.5h.9M338.5 288h.9M356.5 265.5h.9M364 278.5h.9M351 275h.9M346.5 281h.9M351.5 267.5h.9M350.5 266h.9M353 274h.9M354.5 269.5h.9M349 294h.9M334 288h.9M345 280.5h.9M345.5 273.5h.9M362.5 285h.9M352.5 276h.9M338.5 276.5h.9M350 300h.9M375.5 288h.9M355 282.5h.9M380.5 275.5h.9M311.5 277.5h.9M374 282h.9M345 290.5h.9M366.5 277.5h.9M357.5 270h.9M362.5 280.5h.9M340.5 276.5h.9M375.5 291.5h.9M332 283h.9M350 275h.9M362.5 271.5h.9M356.5 281h.9M354.5 270.5h.9M358.5 295h.9M361 279.5h.9M353.5 267h.9M345.5 276h.9M359 279.5h.9M332.5 270h.9M380 280h.9M354.5 276.5h.9M371 286h.9M352 283h.9M350 276h.9M352.5 289h.9M357 292h.9M343 275.5h.9M376.5 278h.9M367.5 276h.9M356 280.5h.9M380.5 290.5h.9M352 274.5h.9M353 271.5h.9M356 281.5h.9M347 277.5h.9M349.5 291.5h.9M354.5 268.5h.9M371 282h.9M327 281.5h.9M360 287h.9M339.5 281h.9M352 270.5h.9M351 269h.9M347 267h.9M355.5 284.5h.9M342 270h.9M371 266h.9M365 280.5h.9M350.5 281.5h.9M341.5 272.5h.9M352 271.5h.9M375.5 280.5h.9M364 292.5h.9M359.5 293.5h.9M354.5 268h.9M360.5 293h.9M362.5 278h.9M345.5 274h.9M337.5 269.5h.9M340.5 276h.9M358 288.5h.9M349 283.5h.9M340 274h.9M349.5 272h.9M350 287h.9M329 282h.9M356 267h.9M334 280h.9M358.5 284h.9M359.5 273.5h.9M356.5 279h.9M368.5 282.5h.9M355 283.5h.9M347 277.5h.9M368 282.5h.9M344.5 276h.9M363.5 282.5h.9M342.5 289.5h.9M364.5 284h.9M320 266.5h.9M372 270h.9M375 275h.9M336.5 281.5h.9M372 274.5h.9M368.5 283h.9M355.5 282h.9M368.5 303h.9M367.5 302h.9M379 310h.9M362.5 299.5h.9M373 305.5h.9M379 293.5h.9M370.5 270.5h.9M375 305h.9M371.5 309h.9M373 297.5h.9M364 299.5h.9M370.5 309h.9M377 282h.9M364.5 278h.9M374.5 299h.9M367.5 302.5h.9M369 309h.9M367.5 296.5h.9M375 314h.9M380 289h.9M373.5 295.5h.9M365.5 284h.9M370 316.5h.9M374 282.5h.9M378.5 311h.9M365 295h.9M364.5 300h.9M382 275.5h.9M376 321h.9M359 321h.9M372 299h.9M359.5 309h.9M374 303.5h.9M380 315.5h.9M379.5 294.5h.9M366 295.5h.9M366 309h.9M377 297h.9M369.5 302h.9M378 295.5h.9M381 290.5h.9M384 308h.9M364.5 295h.9M367.5 285.5h.9M357.5 276.5h.9M374.5 288h.9M378.5 281h.9M369 290h.9M369.5 287h.9M375.5 297h.9M374.5 317h.9M381.5 281h.9M376.5 296.5h.9M371 270.5h.9M375.5 303.5h.9M365 295h.9M385 303h.9M380.5 297h.9M365.5 284.5h.9M378.5 312.5h.9M368.5 307h.9M381.5 300h.9M364 302.5h.9M374 298.5h.9M379 289h.9M372.5 287.5h.9M368.5 298h.9M371 302h.9M376.5 308h.9M377 305h.9M370 308.5h.9M360.5 297.5h.9M378 288h.9M366.5 290.5h.9M371 287h.9M372 287h.9M374.5 275.5h.9M356.5 287h.9M369 310h.9M379 280.5h.9M377.5 316.5h.9M370.5 318h.9M368 270h.9M374.5 294h.9M381.5 308h.9M363.5 272.5h.9M385.5 296h.9M380 290h.9M382 293h.9M373.5 290.5h.9M379 300h.9M371.5 299.5h.9M367 283h.9M360.5 289.5h.9M378.5 331h.9M364 311h.9M374.5 299h.9M377 297h.9M369 305h.9M375.5 286h.9M371.5 312.5h.9M373.5 303h.9M378 292h.9M372 300.5h.9M376 284.5h.9M361 289.5h.9M382 315h.9M355.5 310.5h.9M374 285.5h.9M366.5 287h.9M368 289h.9M379 302h.9M381 312h.9M380.5 291.5h.9M373 304.5h.9M374 275h.9M369.5 297h.9M373.5 297.5h.9M378 276.5h.9M381 299h.9M377.5 308h.9M372 284h.9M370 307.5h.9M372 316h.9M377.5 327.5h.9M381 299.5h.9M367.5 291.5h.9M371.5 293.5h.9M382.5 287.5h.9M374.5 297h.9M381 303h.9M371 294.5h.9M380.5 291h.9M370 284h.9M382 289.5h.9M376 310.5h.9M371.5 282.5h.9M374.5 297.5h.9M373.5 279.5h.9M367 278h.9M371.5 301h.9M377 301h.9M368 304h.9M374 300h.9M365.5 289.5h.9M376.5 302.5h.9M382 307.5h.9M379 308.5h.9M378 295h.9M377.5 289h.9M373 281.5h.9M379 322.5h.9M376 308.5h.9M380.5 302.5h.9M378 313.5h.9M380 306.5h.9M370.5 298h.9M380.5 297.5h.9M369 304h.9M366 305h.9M363 292.5h.9M379.5 271.5h.9M364 291.5h.9M376 291.5h.9M330 280.5h.9M384 286.5h.9M347.5 278h.9M374.5 290.5h.9M348 310h.9M330.5 271.5h.9M366.5 294.5h.9M345 282h.9M350.5 294.5h.9M354.5 302.5h.9M360.5 286.5h.9M334 303h.9M335 267h.9M373 267h.9M332 299h.9M346.5 305.5h.9M375.5 291.5h.9M380.5 280.5h.9M355 270.5h.9M359.5 283.5h.9M329.5 299.5h.9M369.5 289.5h.9M352.5 302.5h.9M359 268.5h.9M344 292h.9M358.5 277.5h.9M345 275h.9M340 274h.9M330.5 290.5h.9M346.5 309h.9M370.5 267h.9M344 270.5h.9M369 268.5h.9M332.5 274.5h.9M354 286h.9M329.5 303h.9M365 303.5h.9M336 297.5h.9M365 272h.9M342.5 293.5h.9M381 287h.9M347 301h.9M348 296h.9M383 299.5h.9M368.5 280.5h.9M350 293h.9M379 289.5h.9M355.5 304h.9M368 281.5h.9M350.5 312.5h.9M337.5 271h.9M364 283.5h.9M347.5 288h.9M336.5 275.5h.9M334.5 269.5h.9M345.5 279.5h.9M381 297h.9M364.5 294.5h.9M351 310.5h.9M333 308h.9M376.5 273.5h.9M330 303h.9M338 292h.9M366.5 269h.9M343 296h.9M343.5 287.5h.9M354 310.5h.9M329 299.5h.9M372.5 285.5h.9M333.5 280.5h.9M380.5 301.5h.9M377.5 284.5h.9M373 269.5h.9M368.5 303.5h.9M331 272h.9M372.5 308.5h.9M381.5 273h.9M355.5 283.5h.9M376 267h.9M374.5 309h.9M351 308h.9M336.5 284h.9M354.5 269.5h.9M355 300h.9M378.5 277h.9M329.5 281h.9M334 309.5h.9M376.5 273h.9M344.5 281h.9M382 301.5h.9M344 307h.9M339.5 280h.9M379 271h.9M338 266.5h.9M379 266.5h.9M377 272h.9M349 283h.9M354 306h.9M359 268.5h.9M380.5 304h.9M366 288h.9M378.5 272.5h.9M343.5 288.5h.9M344.5 273.5h.9M339.5 305h.9M350.5 269.5h.9M339.5 287.5h.9M341.5 311.5h.9M367 268.5h.9M366 289h.9M349.5 274h.9M375 310.5h.9M351 271.5h.9M377.5 306.5h.9M361 295.5h.9M345 293.5h.9M381 304h.9M350 301.5h.9M357 276h.9M355.5 287.5h.9M345 282.5h.9M354.5 267.5h.9M346 310h.9M337.5 307.5h.9M337 278h.9M373.5 291.5h.9M371 287.5h.9M372.5 297h.9M380 282.5h.9M337 310h.9M380 286h.9M364 288h.9M367.5 312h.9M363 293.5h.9M335 312h.9M367.5 267.5h.9M378 296.5h.9M360 305.5h.9M341 302.5h.9M363.5 286h.9M339 280h.9M350.5 296h.9M367.5 288.5h.9M359 272.5h.9M330.5 304h.9M339.5 276.5h.9M357 278.5h.9M341 308h.9M343.5 298.5h.9M371.5 269h.9M381.5 293.5h.9M345.5 301h.9M360.5 296h.9M361.5 280.5h.9M376 298.5h.9M378 307.5h.9M379 299h.9M381 282.5h.9M375 287h.9M379.5 274h.9M329.5 277h.9M339 294.5h.9M371 272.5h.9M355 285.5h.9M330 291h.9M337 287h.9M366.5 268.5h.9M350 305.5h.9M336 284h.9M353.5 277h.9M363 276.5h.9M366.5 301.5h.9M344.5 284h.9M374.5 284h.9M339.5 313.5h.9M357.5 304.5h.9M342.5 285h.9M372 303.5h.9M332 285.5h.9M379 309h.9M330.5 274.5h.9M375.5 268h.9M336 281h.9M382 309.5h.9M362.5 268h.9M363 300h.9M360 277.5h.9M384 303h.9M364 278h.9M343.5 276.5h.9M359 303h.9M359 297h.9M360 305.5h.9M340.5 273.5h.9M336 309h.9M355.5 266.5h.9M364 296.5h.9M379 313h.9M347 292h.9M353 305.5h.9M375 271h.9M349 289.5h.9M381.5 275h.9M350 306h.9M369 296h.9M333 273.5h.9M334.5 294.5h.9M370 301h.9M353 294h.9M374 290.5h.9M358.5 303.5h.9M334.5 296h.9M337.5 302h.9M381 282.5h.9M337.5 293.5h.9M370.5 311.5h.9M368 293.5h.9M339.5 285.5h.9M381.5 304.5h.9M344 286.5h.9M351.5 304.5h.9M361 313.5h.9M363 283h.9M355 284.5h.9M347.5 281.5h.9M356.5 295.5h.9M339.5 302.5h.9M371 293.5h.9M338 301.5h.9M365.5 278.5h.9M348.5 300.5h.9M341.5 300h.9M368.5 311.5h.9M360.5 291.5h.9M356.5 279.5h.9M356 282.5h.9M368 271h.9M349 300.5h.9M360.5 281.5h.9M354 295h.9M348 272h.9M335 299h.9M348 279h.9M331.5 302h.9M365.5 269.5h.9M372.5 295.5h.9M363 270h.9M378 267h.9M345.5 313h.9M343.5 286.5h.9M332.5 302.5h.9M347.5 278.5h.9M345.5 299.5h.9M356 291.5h.9M345 307.5h.9M338 297h.9M348 286h.9M377 272.5h.9M371.5 272.5h.9M381 281.5h.9M362 299.5h.9M380.5 312h.9M373 292h.9M360 274h.9M344.5 279h.9M355.5 270h.9M379.5 311h.9M331.5 298h.9M336.5 286.5h.9M376 284h.9M374 305.5h.9M349.5 295.5h.9M379 278h.9M341.5 266.5h.9M333.5 294.5h.9M366 273h.9M371.5 267.5h.9M367 294.5h.9M377 292h.9M346.5 285.5h.9M348.5 291h.9M381.5 266.5h.9M362 298h.9M368.5 305h.9M345 296.5h.9M340.5 269h.9M355.5 279h.9M360 287h.9M333.5 292h.9M353.5 282.5h.9M364 276h.9M369 282.5h.9M334.5 285.5h.9M367 302.5h.9M359.5 288h.9M373 270h.9M329.5 293h.9M342 311.5h.9M360.5 268.5h.9M381.5 293.5h.9M347.5 295h.9M355 296.5h.9M352.5 294h.9M336.5 301h.9M369 279h.9M362.5 285h.9M343.5 282h.9M373 312h.9M366 313.5h.9M380 281h.9M342 291h.9M353 303.5h.9M351 279.5h.9M333 277h.9M342 313h.9M376.5 281h.9M373.5 304.5h.9M353 299.5h.9M383.5 300h.9M340 271h.9M370.5 313.5h.9M331 305.5h.9M366.5 290h.9M347.5 267.5h.9M340 276h.9M332 306.5h.9M372 268.5h.9M334.5 274.5h.9M354 268h.9M336 302.5h.9M334.5 284h.9M381.5 308h.9M369.5 311.5h.9M351.5 282.5h.9M359 284.5h.9M350 267h.9M366.5 274h.9M349 286.5h.9M339.5 309h.9M341 273.5h.9M379.5 309h.9M368 268h.9M333.5 307.5h.9M346 287.5h.9M332.5 281h.9M372 291h.9M348.5 278h.9M335 267h.9M365.5 275h.9M350.5 307h.9M341 267.5h.9M379.5 278.5h.9M379 295h.9M352.5 302.5h.9M348.5 302.5h.9M330.5 313.5h.9M374 296.5h.9M369.5 280.5h.9M371 310h.9M349 271h.9M358.5 310h.9M349 306.5h.9M334.5 311.5h.9M329 277h.9M331.5 277h.9M361.5 294.5h.9M352 293.5h.9M360.5 289h.9M355 295.5h.9M369.5 287h.9M374 267.5h.9M354.5 281.5h.9M377 268h.9M361.5 303h.9M354 290h.9M363 305h.9M348 269h.9M335 275h.9M339.5 303h.9M371.5 267.5h.9M369 267.5h.9M359.5 294h.9M339.5 268.5h.9M365 292h.9M332.5 276.5h.9M375 302.5h.9M356 293h.9M348 269h.9M330 280h.9M376 266.5h.9M349.5 267h.9M363 300h.9M368 266h.9M346.5 291.5h.9M373.5 304.5h.9M364 305.5h.9M360.5 283h.9M330.5 313h.9M362 308.5h.9M368 309.5h.9M381.5 267.5h.9M362.5 281h.9M342 312h.9M366.5 267.5h.9M360.5 298h.9M357.5 303.5h.9M338 282.5h.9M372.5 294.5h.9M352.5 278h.9M348.5 271h.9M351.5 270h.9M379.5 303.5h.9M370 276.5h.9M380.5 300h.9M381 291.5h.9M361 311.5h.9M365.5 291.5h.9M333.5 289h.9M378 271h.9M345 281.5h.9M339.5 281h.9M361.5 288h.9M344.5 309.5h.9M365 298h.9M381 300h.9M354 295h.9M369 301h.9M331.5 278h.9M351.5 268.5h.9M353 312.5h.9M350.5 269h.9M345 302.5h.9M377 310.5h.9M381 272.5h.9M348 271.5h.9M380.5 281h.9M375.5 266h.9M372.5 270h.9M362.5 274.5h.9M358.5 270h.9M380 284.5h.9M352 299h.9M343 275.5h.9M337 295h.9M374.5 269h.9M335 281.5h.9M349 287.5h.9M378.5 268h.9M353.5 311.5h.9M357 284.5h.9M384 281h.9M339 311.5h.9M338 306h.9M342.5 267h.9M373 274h.9M366.5 289.5h.9M365 284h.9M336 301.5h.9M358 299.5h.9M349.5 306.5h.9M379.5 284.5h.9M343.5 293h.9M334.5 290h.9M336 271.5h.9M362.5 285.5h.9M349 284h.9M329.5 291.5h.9M350.5 267.5h.9M334.5 306h.9M361.5 304.5h.9M354.5 309.5h.9M378.5 307h.9M383 305.5h.9M380.5 312.5h.9M345 270h.9M329.5 285h.9M363.5 273.5h.9M347.5 280h.9M346.5 281.5h.9M346 309.5h.9M334 294h.9M338.5 282.5h.9M331.5 294h.9M365 306.5h.9M346.5 299h.9M349 268.5h.9M371 280h.9M348 307.5h.9M357.5 297.5h.9M372.5 296h.9M364 281.5h.9M340 268.5h.9M336.5 270.5h.9M337.5 289h.9M333.5 301h.9M338.5 290.5h.9M345 289h.9M332 272h.9M343.5 294.5h.9M340 277h.9M371 274.5h.9M357 311h.9M377 290.5h.9M363 303h.9M349.5 266.5h.9M368 277.5h.9M343 270h.9M339 291.5h.9M350.5 270h.9M344.5 309h.9M363.5 275h.9M355.5 267h.9M367.5 310h.9M341.5 295h.9M367 278h.9M377.5 272h.9M371 290h.9M383.5 313h.9M353.5 280.5h.9M334 295h.9M336.5 297.5h.9M349 296.5h.9M373.5 271h.9M363 278.5h.9M336 275.5h.9M380 273h.9M340.5 300h.9M383.5 278.5h.9M360 311.5h.9M367.5 298.5h.9M363 299h.9M351.5 295.5h.9M353.5 313.5h.9M343.5 284h.9M330 292h.9M353 300.5h.9M346 281.5h.9M373.5 277h.9M345 303.5h.9M365 287.5h.9M352 313.5h.9M377.5 304.5h.9M358.5 268h.9M383 297.5h.9M373.5 279h.9M380.5 288.5h.9M364.5 291h.9M364 267.5h.9M364 307h.9M334.5 310.5h.9M370.5 280h.9M339 306h.9M332 271h.9M367 288.5h.9M349.5 320h.9M338 331h.9M331.5 324.5h.9M332.5 319.5h.9M339 318h.9M340 321h.9M349.5 321h.9M342.5 324h.9M342 322.5h.9M338 321h.9M334 328h.9M343 323.5h.9M350 319.5h.9M350.5 315h.9M342.5 323.5h.9M345 321.5h.9M347.5 317.5h.9M341.5 328h.9M338.5 328h.9M346 327.5h.9M346.5 323h.9M334.5 322.5h.9M339 320h.9M333.5 329h.9M347 320.5h.9M344.5 319.5h.9M337 319h.9M343 317.5h.9M350 321h.9M335 323.5h.9M329 325h.9M334.5 316.5h.9M346.5 317h.9M334 329.5h.9M336 317.5h.9M334 316h.9M340.5 325.5h.9M342 325.5h.9M346 322.5h.9M345.5 322.5h.9M346 326h.9M349 323h.9M342 324.5h.9M336.5 325h.9M332 318.5h.9M331 325h.9M337 325h.9M345.5 320.5h.9M349.5 328h.9M331 318.5h.9M343 315.5h.9M344.5 331h.9M339.5 323h.9M348 320h.9M329 329.5h.9M347.5 318.5h.9M330 315.5h.9M351 329h.9M339.5 322h.9M351.5 321h.9M337.5 320.5h.9M343.5 316.5h.9M334.5 321.5h.9M342 324h.9M329 324.5h.9M337.5 331h.9M350.5 325.5h.9M349.5 329.5h.9M331.5 322h.9M344 325.5h.9M346 326h.9M345 319.5h.9M332.5 328h.9M332.5 327.5h.9M350.5 323h.9M340.5 321.5h.9M347.5 321.5h.9M333 315.5h.9M338 325h.9M331 330.5h.9M347.5 328h.9M331.5 325.5h.9M337 319h.9M343.5 328h.9M334 327h.9M337.5 330.5h.9M345.5 321h.9M343 319h.9M334 324.5h.9M331 326.5h.9M334.5 326h.9M341.5 317.5h.9M344 329.5h.9M343.5 319.5h.9M331.5 327.5h.9M349.5 317h.9M346 325.5h.9M331.5 331h.9M332 319h.9M344 317.5h.9M344 319h.9M329.5 315.5h.9M338 320h.9M334.5 327h.9M368.5 315h.9M357.5 327h.9M363 316h.9M377 325h.9M372 322.5h.9M359.5 327h.9M364.5 321h.9M377 322.5h.9M378.5 325.5h.9M367 326.5h.9M353 320h.9M372 319h.9M358.5 319h.9M379.5 315.5h.9M358.5 320h.9M355 317h.9M374.5 327.5h.9M367 330h.9M374 330h.9M378.5 328.5h.9M361 330h.9M355.5 317.5h.9M377.5 321h.9M377.5 315.5h.9M361.5 325.5h.9M371.5 323h.9M354.5 317h.9M357.5 328h.9" stroke="#000" stroke-opacity="0.87" stroke-width=".9" fill="none"/>
<path d="M312.5 300.5h.9M310 303h.9M315 319h.9M317.5 312.5h.9M318.5 313h.9M313 303.5h.9M321.5 312.5h.9M317.5 299h.9M310.5 318h.9M316.5 318h.9M318 321h.9M314.5 313h.9M315.5 307.5h.9M314 314.5h.9M315 311.5h.9M315 309.5h.9M310.5 320.5h.9M314 317h.9M318 313.5h.9M322 318h.9M308.5 324.5h.9M313.5 312.5h.9M317 319.5h.9M307 306h.9M322.5 299.5h.9M309 315h.9M314 313h.9M308.5 314.5h.9M315 315.5h.9M309.5 313.5h.9M311.5 318h.9M308.5 319h.9M319 319.5h.9M319.5 313h.9M319.5 309h.9M309 314h.9M317.5 310h.9M318.5 307.5h.9M313.5 315h.9M310 314h.9M314 321.5h.9M311 315h.9M308 324h.9M311.5 327h.9M317 316.5h.9M320 307.5h.9M320 319h.9M310.5 307.5h.9M311 308.5h.9M314.5 318h.9M318.5 307.5h.9M315 318h.9M318.5 305.5h.9M314.5 308.5h.9M321 314h.9M313.5 311h.9M311 309h.9M313.5 314h.9M314 308.5h.9M310.5 314h.9M314.5 306.5h.9M316 322.5h.9M325.5 312h.9M320.5 313h.9M315 310h.9M311 315h.9M317.5 312h.9M310 311.5h.9M312.5 319.5h.9M312 319.5h.9M321.5 310.5h.9M321.5 312h.9M308.5 300.5h.9M315 312.5h.9M321 318.5h.9M322 315.5h.9M315 310h.9M315 309h.9M313 315.5h.9M307.5 325h.9M309 308h.9M315.5 308.5h.9M323.5 318h.9M321 312.5h.9M315 304.5h.9M318 307h.9M316.5 309h.9M320 315h.9M309.5 305.5h.9M310.5 316h.9M313.5 312h.9M318.5 297h.9M315.5 304.5h.9M312.5 314h.9M311 312h.9M318 308.5h.9M310.5 310.5h.9M316.5 301h.9M312.5 324h.9M309.5 322h.9M314.5 326h.9M309.5 308.5h.9M319 310.5h.9M325 320h.9M316.5 313h.9M312 311.5h.9M317.5 306.5h.9M316.5 306h.9M322 317.5h.9M308.5 307.5h.9M314 304.5h.9M322 316.5h.9M319.5 324.5h.9M314.5 320h.9M314 307.5h.9M314 315h.9M315 311h.9M310.5 321h.9M310 312.5h.9M309.5 309h.9M315.5 316.5h.9M313.5 312.5h.9M324 304h.9M313 321.5h.9M322 302.5h.9M312 311h.9M316.5 304h.9M324 320h.9M322.5 314.5h.9M316.5 314.5h.9M319.5 313h.9M319.5 322h.9M314 312.5h.9M323 318.5h.9M313 303h.9M317.5 309h.9M313.5 307.5h.9M311.5 315.5h.9M317 322.5h.9M322.5 309h.9M311 310h.9M317.5 312.5h.9M324 311h.9M313.5 318h.9M323.5 313h.9M312 320.5h.9M313.5 314.5h.9M319 301h.9M312.5 302h.9M315 314.5h.9M310 320h.9M307.5 318.5h.9M310 303.5h.9M316 317.5h.9M317.5 304.5h.9M310.5 315h.9M321 304h.9M311.5 305h.9M323 309.5h.9M321.5 315h.9M329 295h.9M314 318h.9M315 306.5h.9M314.5 318.5h.9M312.5 322h.9M316 310h.9M327 317h.9M322 309.5h.9M319.5 314.5h.9M311 315h.9M315.5 315h.9M318 319h.9M328 309h.9M311.5 315.5h.9M323 318.5h.9M320 306h.9M314 311.5h.9M317.5 317h.9M319.5 319h.9M326.5 305h.9M330 319h.9M309.5 313h.9M314 310.5h.9M322 320h.9M316.5 314h.9M314.5 307.5h.9M308 318h.9M326.5 320.5h.9M315.5 308.5h.9M315.5 313.5h.9M311.5 319.5h.9M313 310h.9M313 316h.9M317.5 312h.9M317 304h.9M313 308h.9M316 317h.9M313.5 309.5h.9M319.5 315.5h.9M312.5 313h.9M314.5 305.5h.9M319.5 318h.9M320.5 306h.9M319 310.5h.9M316 314.5h.9M320.5 318.5h.9M315 316h.9M312 308.5h.9M312 309h.9M319 320h.9M313 315.5h.9M315.5 299.5h.9M314.5 313h.9M311 303.5h.9M312 321.5h.9M318.5 313.5h.9M317 320h.9M313 323h.9M312.5 310.5h.9M320 314h.9M311 308.5h.9M318.5 308h.9M320 311.5h.9M319.5 310.5h.9M311 309h.9M319 307h.9M311.5 329h.9M320 268.5h.9M307.5 316.5h.9M310 318h.9M310 310h.9M319 309h.9M309 274.5h.9M321.5 314h.9M325 294.5h.9M319 308h.9M322 301h.9M316 284h.9M316 323.5h.9M318 298h.9M319.5 300h.9M323 290.5h.9M311 313.5h.9M316 272h.9M316.5 328h.9M324 306h.9M321.5 272.5h.9M321.5 313.5h.9M317.5 282h.9M329 309h.9M316.5 303.5h.9M323.5 323.5h.9M312 325h.9M318.5 274.5h.9M315.5 323h.9M326 314.5h.9M319.5 324h.9M318 294h.9M324.5 291h.9M319 274h.9M314.5 330h.9M323.5 292h.9M310 277h.9M314.5 291.5h.9M314.5 294h.9M316.5 322.5h.9M313.5 290.5h.9M311 280h.9M321 299.5h.9M323 293h.9M318.5 291h.9M315 276h.9M322 313.5h.9M316 277h.9M313 271h.9M310 274h.9M318 284.5h.9M318.5 300.5h.9M323.5 278h.9M321 326h.9M319 285.5h.9M308 305.5h.9M310.5 278.5h.9M324.5 295.5h.9M326.5 269h.9M326.5 271h.9M310.5 327h.9M322 296.5h.9M319 327.5h.9M320 278.5h.9M328.5 280.5h.9M317 268h.9M318.5 312h.9M313 325h.9M309 325.5h.9M323.5 327h.9M326 283h.9M322.5 283.5h.9M319.5 295.5h.9M313.5 284.5h.9M316 321.5h.9M310.5 313h.9M322.5 294.5h.9M310 332.5h.9M313 282.5h.9M322.5 268h.9M316.5 272.5h.9M313.5 287h.9M315.5 288.5h.9M320 273h.9M317 315.5h.9M326 300h.9M313 320.5h.9M316.5 279.5h.9M310.5 293h.9M325.5 318.5h.9M316 315.5h.9M329 278.5h.9M322.5 292.5h.9M312.5 327h.9M310 327.5h.9M327 322.5h.9M322.5 304.5h.9M317 308h.9M309 312.5h.9M316.5 322.5h.9M311.5 268.5h.9M328 308h.9M326.5 312.5h.9M328.5 290h.9M321 316h.9M316 315h.9M316.5 321.5h.9M328 282.5h.9M326 323h.9M326 285.5h.9M327.5 294h.9M311 326.5h.9M318.5 326h.9M321 309h.9M308.5 303.5h.9M328.5 307.5h.9M313 303.5h.9M312.5 328.5h.9M316.5 269.5h.9M315.5 283.5h.9M316 328h.9M319.5 309h.9M326.5 328h.9M329 267.5h.9M312 326.5h.9M315.5 290.5h.9M324 296h.9M321.5 278.5h.9M321 304h.9M310 322h.9M321 294h.9M308 327.5h.9M316.5 308h.9M322 271h.9M323 278.5h.9M328.5 269h.9M324 299.5h.9M328 310h.9M320.5 314h.9M315 320.5h.9M326 282.5h.9M311 298.5h.9M311.5 298h.9M314 282h.9M308 303.5h.9M323.5 316h.9M316.5 284h.9M328 288h.9M320.5 304.5h.9M308.5 304h.9M322.5 313h.9M313 299h.9M314.5 319.5h.9M313 270h.9M328 313.5h.9M310.5 310.5h.9M312 296h.9M325 283.5h.9M312.5 296h.9M326.5 328.5h.9M309 287h.9M318 321h.9M320.5 326h.9M310 279.5h.9M316.5 295h.9M326.5 328h.9M310.5 330.5h.9M319 324h.9M318 326.5h.9M312 272.5h.9M317.5 288.5h.9M309 291.5h.9M317.5 274h.9M309.5 277.5h.9M309 286.5h.9M317 279h.9M322.5 328h.9M324 317.5h.9M325 320.5h.9M322.5 276.5h.9M309.5 296.5h.9M314.5 268.5h.9M313 294h.9M308 277.5h.9M308.5 324.5h.9M316.5 315h.9M329 275.5h.9M308 331h.9M326 296.5h.9M308.5 283.5h.9M309.5 275.5h.9M314 286h.9M328.5 275.5h.9M312.5 270h.9M321.5 329.5h.9M316 302.5h.9M310 267h.9M309 308h.9M321.5 321.5h.9M308.5 305.5h.9M319 332.5h.9M312.5 306.5h.9M322.5 306.5h.9M326.5 281.5h.9M316 283h.9M308 316.5h.9M316 313.5h.9M314 309.5h.9M322 276h.9M321.5 323h.9M317.5 325.5h.9M323 277h.9M309 317.5h.9M325 307h.9M326 319.5h.9M314 318h.9M325 292h.9M310.5 273h.9M312.5 316h.9M310.5 322h.9M314 268.5h.9M320 278h.9M316.5 270.5h.9M314 303h.9M324.5 292.5h.9M307.5 291.5h.9M307.5 315h.9M310 329.5h.9M322 325.5h.9M313.5 274h.9M310.5 284.5h.9M328 330.5h.9M317.5 332h.9M323.5 296h.9M321.5 309.5h.9M314 278.5h.9M313.5 330h.9M311 295.5h.9M308.5 283h.9M308 270h.9M317 305.5h.9M313 312h.9M329 271.5h.9M314 274h.9M327.5 297h.9M318.5 295h.9M310.5 296h.9M326 322.5h.9M319 293.5h.9M326 304.5h.9M313 328h.9M314.5 306h.9M319 321.5h.9M328 279h.9M324.5 286h.9M321 283h.9M312 293.5h.9M318.5 329h.9M327 325.5h.9M326.5 290h.9M310.5 300h.9M325.5 279.5h.9M313.5 272h.9M319.5 295h.9M317.5 296.5h.9M318 296h.9M327.5 269.5h.9M321 330h.9M321.5 306.5h.9M321 291h.9M324.5 285h.9M318 303h.9M324.5 322h.9M312 312h.9M321.5 289.5h.9M315.5 325h.9M312.5 287.5h.9M325 278.5h.9M322.5 293h.9M322.5 306h.9M325 315h.9M322 294.5h.9M310.5 274h.9M318 322h.9M323.5 272.5h.9M315 275h.9M313 326h.9M328.5 303h.9M307.5 327.5h.9M307.5 281.5h.9M312 268h.9M318 288h.9M308.5 327.5h.9M325.5 286h.9M323 332.5h.9M314 302.5h.9M318 298.5h.9M311 321h.9M327.5 284h.9M314.5 330h.9M308 304h.9M309.5 330h.9M324.5 283.5h.9M323.5 325h.9M321.5 302.5h.9M317 310h.9M324.5 304h.9M323 304.5h.9M309 295h.9M321 327.5h.9M323.5 297.5h.9M324 301h.9M317.5 281h.9M320.5 290h.9M325 285.5h.9M329 301h.9M311.5 301h.9M313.5 325h.9M315.5 270h.9M314.5 283h.9M313.5 275h.9M317.5 329h.9M309 274h.9M308 273.5h.9M322 287.5h.9M327 271.5h.9M319 289.5h.9M327 331.5h.9M317.5 303h.9M321 318h.9M319.5 288h.9M319 311h.9M326 283.5h.9M314 299h.9M309.5 304.5h.9M326 303.5h.9M323 318h.9M328.5 292.5h.9M312 311h.9M310.5 294.5h.9M311.5 325h.9M316.5 290h.9M312.5 319h.9M308 332.5h.9M316 276h.9M327 292h.9M309 298h.9M313 304.5h.9M325.5 319h.9M318 291.5h.9M316.5 306h.9M326 324h.9M319.5 316.5h.9M324.5 275.5h.9M328 268h.9M321 310.5h.9M317 293.5h.9M312.5 319.5h.9M314.5 332h.9M318 285.5h.9M328.5 295.5h.9M308 329.5h.9M313.5 314.5h.9M309 311h.9M308.5 296.5h.9M309.5 323h.9M316 300.5h.9M316.5 322h.9M314.5 283.5h.9M335 279.5h.9M358 273h.9M344 293.5h.9M369 280h.9M321.5 278h.9M328.5 275.5h.9M355.5 267h.9M371 273.5h.9M361 284.5h.9M341 282.5h.9M348.5 287h.9M365.5 291.5h.9M371 269h.9M370 274h.9M355.5 282h.9M343.5 283h.9M341.5 277.5h.9M353.5 277.5h.9M366 285.5h.9M362 272.5h.9M358.5 277h.9M334.5 273h.9M348.5 290.5h.9M345.5 289.5h.9M364.5 279h.9M346.5 284.5h.9M366.5 276h.9M347 276h.9M341.5 277.5h.9M352.5 274.5h.9M331.5 265.5h.9M331.5 280.5h.9M360 274.5h.9M337 283.5h.9M377.5 282h.9M343.5 275h.9M383.5 276h.9M347.5 280.5h.9M361 283h.9M363 285.5h.9M335 284.5h.9M334 278h.9M341 274h.9M363 290h.9M367 273h.9M357 279h.9M341 266h.9M356 276h.9M338 269.5h.9M357.5 273.5h.9M379.5 279.5h.9M351 299.5h.9M334 274h.9M333.5 278.5h.9M362 280.5h.9M344.5 266.5h.9M362 278.5h.9M321 283.5h.9M339.5 272h.9M343 274.5h.9M340 279h.9M339.5 289.5h.9M355.5 280.5h.9M369 289h.9M358 272h.9M359.5 288h.9M334.5 285h.9M346.5 291.5h.9M350.5 284.5h.9M355.5 278.5h.9M352 285h.9M346 267h.9M363.5 272.5h.9M346.5 274h.9M335 279.5h.9M319.5 288.5h.9M337 287.5h.9M352 272h.9M317.5 275h.9M337.5 284.5h.9M383.5 285h.9M330 273h.9M351 273h.9M339 284h.9M345 272.5h.9M331.5 289.5h.9M345 283h.9M329.5 274h.9M358 275h.9M364 272.5h.9M343 283h.9M349 285.5h.9M339 289h.9M352.5 276.5h.9M359 279h.9M330 270.5h.9M337.5 280.5h.9M342 288.5h.9M356.5 288.5h.9M346.5 277h.9M343.5 289h.9M358 277h.9M365.5 279.5h.9M359 274h.9M352 270h.9M373 281h.9M384.5 279.5h.9M337.5 287.5h.9M362 279h.9M336 281h.9M365 275h.9M354.5 283h.9M349 284.5h.9M361 286.5h.9M354 278.5h.9M346.5 266.5h.9M372 271.5h.9M358.5 274.5h.9M348.5 275h.9M348.5 274.5h.9M381 277h.9M351.5 267.5h.9M336 282.5h.9M351.5 271.5h.9M335 273.5h.9M341 291h.9M359 284h.9M376 271.5h.9M367.5 280.5h.9M358 267h.9M348 280.5h.9M348.5 279.5h.9M379 288.5h.9M338 278h.9M328.5 286h.9M352.5 279h.9M349 265.5h.9M351.5 284.5h.9M345 269.5h.9M344.5 290.5h.9M373 276h.9M386 290h.9M334 275.5h.9M374.5 275h.9M363.5 289.5h.9M377.5 292h.9M350 287.5h.9M353 276h.9M350.5 269h.9M370.5 285h.9M345 279.5h.9M362.5 284.5h.9M366 296.5h.9M357 270h.9M355.5 288h.9M347.5 273.5h.9M366.5 273.5h.9M353.5 278.5h.9M336 287h.9M349.5 286h.9M358.5 271h.9M346 272.5h.9M316.5 290h.9M341.5 278h.9M354 280.5h.9M355.5 273.5h.9M353 286.5h.9M333.5 287h.9M344 275h.9M359 280.5h.9M346 289h.9M337.5 280h.9M375.5 271.5h.9M353.5 280h.9M372.5 277h.9M369 285h.9M354.5 287.5h.9M359 278.5h.9M337.5 271h.9M351 297h.9M354.5 276h.9M359 288h.9M354.5 274.5h.9M337 285h.9M361 283h.9M363.5 280.5h.9M346.5 285h.9M362.5 287h.9M339 284h.9M355.5 270.5h.9M365 289h.9M360.5 287h.9M353 277h.9M355 267h.9M342 274h.9M346 274h.9M343.5 274.5h.9M367.5 274.5h.9M354 282h.9M375 278.5h.9M348.5 284h.9M361.5 278h.9M359 279h.9M339 276.5h.9M339 284h.9M328.5 278h.9M349 266.5h.9M372.5 296.5h.9M367.5 266.5h.9M358 291h.9M355 282.5h.9M375 282h.9M345.5 266.5h.9M360.5 284.5h.9M323 280h.9M351 273h.9M375.5 268.5h.9M354.5 286.5h.9M352 276h.9M369 278.5h.9M377 269h.9M352.5 277h.9M350 282.5h.9M359.5 292.5h.9M356.5 293h.9M360.5 272h.9M362.5 287.5h.9M363.5 273.5h.9M335 266h.9M341.5 273.5h.9M343 283h.9M357.5 293.5h.9M341 278.5h.9M354 288h.9M322 268h.9M364.5 282.5h.9M347 278.5h.9M345 279.5h.9M352.5 269.5h.9M379 292.5h.9M339.5 265.5h.9M349.5 265.5h.9M346.5 275h.9M353.5 283.5h.9M349 292.5h.9M341 274h.9M327 281h.9M352.5 276.5h.9M363 287.5h.9M362 273.5h.9M352 274.5h.9M346.5 272h.9M347 281h.9M370 291.5h.9M325.5 283.5h.9M378.5 283h.9M354.5 265.5h.9M349 287.5h.9M360.5 278h.9M341.5 281.5h.9M352 267.5h.9M351 274h.9M357.5 280h.9M374.5 295h.9M341 291.5h.9M353.5 281.5h.9M332.5 269h.9M383 278.5h.9M356 281.5h.9M347 291h.9M376.5 279h.9M350 273.5h.9M317.5 282h.9M350.5 289.5h.9M371 272h.9M355 278h.9M337.5 276.5h.9M364 286.5h.9M348.5 271.5h.9M350.5 282.5h.9M359.5 273.5h.9M365.5 276h.9M349 274.5h.9M342 280.5h.9M364.5 282h.9M346.5 272.5h.9M356.5 273.5h.9M347 277h.9M355.5 280h.9M348.5 268h.9M364 281.5h.9M353.5 280.5h.9M355.5 274h.9M371.5 300h.9M361.5 299.5h.9M370 315h.9M358 293.5h.9M364.5 306.5h.9M365.5 297h.9M384 317.5h.9M367.5 299h.9M365.5 282h.9M362 306h.9M377.5 300h.9M377.5 323.5h.9M375 293.5h.9M366.5 297h.9M373.5 303.5h.9M370.5 285h.9M375.5 289h.9M370.5 305h.9M367 294.5h.9M378.5 295.5h.9M376.5 293.5h.9M367.5 313h.9M363.5 294h.9M371.5 284.5h.9M368 288.5h.9M378.5 306h.9M374 305h.9M380.5 297h.9M362 303.5h.9M375.5 303.5h.9M368 295.5h.9M372.5 307h.9M378 283h.9M373 296h.9M376 286.5h.9M375 278h.9M365 281h.9M369.5 295h.9M378.5 289.5h.9M372.5 292.5h.9M372.5 315.5h.9M364 306.5h.9M378 281h.9M366.5 306h.9M383 286.5h.9M369 282h.9M369.5 295.5h.9M382.5 296.5h.9M369 270.5h.9M369.5 284.5h.9M379 286.5h.9M371.5 301.5h.9M372 302.5h.9M377.5 323.5h.9M370 316.5h.9M373.5 290h.9M373.5 311.5h.9M380 301h.9M363 296h.9M371.5 300.5h.9M371 313h.9M359.5 299h.9M373.5 290.5h.9M375 290h.9M371 287h.9M376 277.5h.9M369 301h.9M375.5 284h.9M378 297.5h.9M380.5 310h.9M374.5 297h.9M363.5 288h.9M374 300h.9M370.5 296.5h.9M381 273h.9M359 290h.9M379 297h.9M378.5 316.5h.9M368.5 289.5h.9M373 297.5h.9M381 291h.9M362.5 282.5h.9M376 293h.9M378 274.5h.9M374.5 288h.9M373 308.5h.9M369.5 304h.9M375.5 315.5h.9M365.5 315.5h.9M381.5 275.5h.9M368 303h.9M365.5 300h.9M368 283.5h.9M369 287h.9M374.5 304h.9M369.5 295h.9M364.5 288.5h.9M375.5 294.5h.9M370 301.5h.9M368.5 299.5h.9M361 278.5h.9M361.5 319.5h.9M370 298h.9M379.5 288.5h.9M375.5 285.5h.9M365.5 295.5h.9M386 291h.9M363 281h.9M367.5 294h.9M363 295h.9M365.5 296h.9M371.5 301h.9M367.5 290.5h.9M357 276.5h.9M364.5 287.5h.9M374 296.5h.9M362 280.5h.9M372 292.5h.9M376.5 300.5h.9M378.5 282.5h.9M375 283.5h.9M368.5 290.5h.9M374 281h.9M385 300h.9M376.5 303h.9M377.5 288.5h.9M380 296h.9M377 286.5h.9M368.5 286h.9M370.5 296h.9M375 311h.9M376 290h.9M381.5 291h.9M373 279h.9M381.5 287.5h.9M371.5 295h.9M370.5 306h.9M367.5 301h.9M382 324h.9M385.5 295.5h.9M370.5 294.5h.9M366.5 292.5h.9M372 303.5h.9M379.5 299.5h.9M372 287.5h.9M381.5 310h.9M364 306h.9M373.5 292h.9M376.5 289.5h.9M368.5 296h.9M381 312h.9M373.5 313.5h.9M367 283.5h.9M374.5 285h.9M364.5 298h.9M360.5 282.5h.9M355.5 309h.9M355.5 295.5h.9M364.5 275.5h.9M355 271.5h.9M355.5 273.5h.9M356 286.5h.9M368.5 299.5h.9M341.5 301.5h.9M380.5 276h.9M375 301h.9M337.5 279h.9M355 296.5h.9M352 280h.9M359 308.5h.9M359 298.5h.9M377.5 279h.9M357 276.5h.9M361.5 281.5h.9M329.5 268h.9M330 272.5h.9M364 286.5h.9M380 279.5h.9M355 275h.9M376 286.5h.9M356 291h.9M378 277h.9M358.5 304h.9M332 290h.9M333 275h.9M342 276h.9M372.5 289.5h.9M379.5 306.5h.9M332 282h.9M366.5 289.5h.9M355 275.5h.9M363.5 275h.9M340 279.5h.9M346.5 287.5h.9M360.5 280.5h.9M377.5 285.5h.9M347 280.5h.9M376.5 303h.9M346 288.5h.9M337 312h.9M348 267h.9M365.5 299.5h.9M361 284.5h.9M333.5 280h.9M342 289.5h.9M362.5 280h.9M358 310h.9M357.5 307h.9M342.5 290.5h.9M382.5 301.5h.9M343 271.5h.9M383.5 308.5h.9M368.5 301h.9M333.5 276.5h.9M383.5 298.5h.9M357.5 281h.9M335 293h.9M382 277h.9M360 298.5h.9M340.5 295.5h.9M339 303.5h.9M383.5 310.5h.9M375.5 300h.9M340.5 280h.9M348.5 266.5h.9M374 300.5h.9M363 304h.9M347 288h.9M370.5 306.5h.9M329.5 313.5h.9M381.5 290h.9M351 278h.9M341 278.5h.9M381.5 278.5h.9M375.5 306.5h.9M358 304h.9M377.5 271h.9M363 292.5h.9M332 298.5h.9M354 307.5h.9M363 293.5h.9M356.5 302h.9M379 298.5h.9M375.5 275h.9M355.5 284h.9M343 279.5h.9M355 271h.9M364.5 282h.9M382 275h.9M337 290h.9M368.5 272h.9M350 291.5h.9M378 309.5h.9M341.5 309h.9M361 281h.9M348 310h.9M341 293.5h.9M379.5 307.5h.9M343.5 268h.9M383 281h.9M381 302h.9M335 287h.9M383 297h.9M333 286h.9M352 280.5h.9M341.5 279h.9M347 303.5h.9M344.5 298h.9M351.5 305.5h.9M342 306.5h.9M342.5 295h.9M337 267.5h.9M346.5 274h.9M333 307.5h.9M359.5 282h.9M332 285h.9M369.5 285h.9M346 302h.9M372 285h.9M373.5 300.5h.9M343 290h.9M357 294h.9M335 287.5h.9M345.5 304.5h.9M348 270.5h.9M382 310.5h.9M348 281.5h.9M381.5 297.5h.9M343 289h.9M334.5 291h.9M362 281.5h.9M349 294h.9M380 308h.9M379.5 302h.9M366 309.5h.9M344.5 302.5h.9M350 287h.9M352 312h.9M349.5 290.5h.9M333.5 295h.9M335.5 298h.9M383 268h.9M334.5 294h.9M371.5 272.5h.9M366.5 305h.9M333 273h.9M355 286.5h.9M370.5 301h.9M331.5 282.5h.9M379 292h.9M380.5 303h.9M348.5 311.5h.9M379 310.5h.9M366 313.5h.9M378 300h.9M340.5 294.5h.9M335.5 267h.9M334.5 308.5h.9M369.5 288.5h.9M338 281.5h.9M361 286h.9M334 274h.9M340 301.5h.9M331.5 270h.9M348.5 307h.9M367.5 284h.9M336.5 303.5h.9M376.5 283h.9M377.5 290.5h.9M383.5 277h.9M363.5 299.5h.9M347.5 301.5h.9M379 269h.9M381.5 302h.9M376 298h.9M355.5 297.5h.9M329.5 300.5h.9M372.5 281h.9M357.5 277h.9M331.5 299.5h.9M338 304h.9M364 312.5h.9M367 294.5h.9M364.5 296h.9M329.5 285h.9M370 291h.9M382.5 303h.9M342.5 277.5h.9M378 295h.9M378 307.5h.9M376.5 307.5h.9M370 277h.9M378.5 313.5h.9M370.5 268.5h.9M360 275.5h.9M367.5 270.5h.9M351.5 301.5h.9M375.5 274.5h.9M348 295.5h.9M379.5 294h.9M344.5 303.5h.9M361 306.5h.9M367 284.5h.9M372.5 283h.9M349.5 309.5h.9M364 311h.9M343.5 304h.9M352.5 298.5h.9M371.5 290.5h.9M380 288h.9M354 285.5h.9M348.5 277.5h.9M348.5 287h.9M349.5 282.5h.9M382 294h.9M348 301.5h.9M381.5 286.5h.9M352 300.5h.9M334 304h.9M374.5 309.5h.9M383 290h.9M329 306h.9M354 271h.9M340 278.5h.9M353.5 289.5h.9M370.5 281h.9M347.5 311h.9M379 293.5h.9M340.5 287.5h.9M377.5 277h.9M355.5 285.5h.9M340 309h.9M369.5 276h.9M335 293h.9M376.5 275h.9M378 312h.9M341.5 304.5h.9M383 281.5h.9M335 296.5h.9M355 289h.9M372 267.5h.9M336 284.5h.9M372.5 284.5h.9M332.5 309.5h.9M346.5 280.5h.9M338 272.5h.9M371.5 281.5h.9M360.5 284.5h.9M369 274.5h.9M356 300.5h.9M334.5 296h.9M374 289h.9M363 275h.9M376 294.5h.9M335.5 293.5h.9M369.5 313.5h.9M366 282h.9M345 283.5h.9M362 309.5h.9M334 285.5h.9M330.5 314h.9M345 267h.9M336.5 281.5h.9M354.5 293.5h.9M357 294h.9M371 283.5h.9M347.5 288.5h.9M374.5 292.5h.9M360.5 285h.9M332.5 304h.9M370.5 288h.9M381 286.5h.9M371 275.5h.9M349.5 279.5h.9M331.5 304h.9M357.5 288h.9M380.5 309h.9M347.5 271h.9M343 266h.9M344.5 279h.9M330 312.5h.9M339 271.5h.9M335.5 269.5h.9M343.5 297h.9M375 296.5h.9M358 300.5h.9M342 266.5h.9M375.5 283h.9M354 300.5h.9M378 307.5h.9M339 303.5h.9M375.5 300h.9M348.5 281.5h.9M332.5 300.5h.9M352 309h.9M336 301h.9M364 303h.9M379 309.5h.9M340 279h.9M383 266.5h.9M371 281h.9M375 275h.9M339 304.5h.9M366.5 302h.9M375.5 292h.9M331.5 282h.9M348 290.5h.9M362.5 275.5h.9M363.5 277.5h.9M353.5 309h.9M378.5 287.5h.9M332.5 310.5h.9M367.5 302.5h.9M372 283h.9M367.5 267.5h.9M369 292h.9M348 313.5h.9M366.5 303h.9M331.5 292.5h.9M374.5 282h.9M330.5 272.5h.9M341 308h.9M356.5 280.5h.9M364 312.5h.9M353 272.5h.9M368.5 285.5h.9M336 292.5h.9M361.5 282.5h.9M379.5 293.5h.9M371 312.5h.9M354.5 269h.9M377 272h.9M367.5 276.5h.9M342.5 277h.9M353.5 299h.9M336 267h.9M349 307h.9M333.5 287.5h.9M380 276.5h.9M345.5 286.5h.9M345 280.5h.9M380.5 290.5h.9M354 295.5h.9M352.5 281h.9M367 269.5h.9M343 277.5h.9M352 283.5h.9M333 296.5h.9M347.5 301h.9M330 298.5h.9M353.5 270.5h.9M377.5 276h.9M372 289h.9M343.5 284h.9M364.5 305h.9M345.5 275h.9M338 284h.9M333 313h.9M365.5 280.5h.9M384 312h.9M367 296.5h.9M334.5 287h.9M339 273.5h.9M372.5 279.5h.9M334 305h.9M380 302.5h.9M346 279.5h.9M363 292h.9M366 281.5h.9M343 273h.9M348.5 273.5h.9M361.5 282h.9M379 268.5h.9M341.5 271.5h.9M372.5 306h.9M341 273h.9M333 286.5h.9M347 304h.9M330 304.5h.9M382 307h.9M349.5 283h.9M355.5 280h.9M375.5 310h.9M348 303h.9M355.5 266h.9M362 268.5h.9M367.5 290.5h.9M359.5 268h.9M347.5 296.5h.9M356.5 310.5h.9M372.5 281h.9M381 267h.9M376 291.5h.9M379.5 313.5h.9M350.5 277h.9M357 307.5h.9M367.5 277.5h.9M353.5 293.5h.9M331 287h.9M335.5 308h.9M364 299.5h.9M343.5 299h.9M361 286.5h.9M338 310h.9M337.5 279.5h.9M375 283h.9M379.5 304.5h.9M349 302.5h.9M361 276.5h.9M335 290h.9M337.5 312h.9M369.5 291.5h.9M340 275.5h.9M369.5 288h.9M368 295h.9M377 291.5h.9M367.5 307h.9M338.5 298h.9M381.5 277h.9M343 303.5h.9M369.5 306.5h.9M346 266.5h.9M357.5 273h.9M329.5 270h.9M368 299.5h.9M349.5 293h.9M340 284.5h.9M370.5 267h.9M352 279.5h.9M340.5 269.5h.9M351 281h.9M358.5 301h.9M337 296.5h.9M362 312h.9M360 284.5h.9M360.5 307.5h.9M371.5 300h.9M355 285h.9M342 279.5h.9M335.5 272.5h.9M337.5 274h.9M373.5 270h.9M342.5 293h.9M337.5 269h.9M330 272.5h.9M347.5 299h.9M329 276h.9M370.5 300.5h.9M340.5 273.5h.9M364 313h.9M344.5 293.5h.9M354.5 277h.9M332 290h.9M374 305h.9M337 304h.9M341 294h.9M372.5 286h.9M359.5 267h.9M341.5 293h.9M359.5 311.5h.9M342.5 284.5h.9M363 276h.9M340 280.5h.9M334 292.5h.9M335 301h.9M347.5 302.5h.9M355 272.5h.9M359 312h.9M363 272h.9M341.5 302h.9M382 295h.9M359.5 274.5h.9M375 296h.9M362.5 276.5h.9M362.5 288h.9M370.5 274.5h.9M370 290.5h.9M358 313.5h.9M344.5 273h.9M367.5 306h.9M380 274.5h.9M374 306h.9M350 281h.9M346.5 300h.9M333 307h.9M380 291h.9M362 309.5h.9M363 290h.9M357 302.5h.9M381.5 295h.9M375 308.5h.9M382 298.5h.9M331 313h.9M340 286.5h.9M346.5 284h.9M363 268h.9M358 278.5h.9M381.5 301h.9M331.5 289h.9M363.5 298h.9M344.5 300h.9M376 302.5h.9M370 300h.9M374 293.5h.9M360 306.5h.9M382.5 299h.9M351 300.5h.9M331.5 298.5h.9M355.5 296.5h.9M359 281h.9M354 305h.9M346.5 305h.9M361 313h.9M356.5 287.5h.9M357.5 294.5h.9M374.5 285h.9M331.5 307h.9M332.5 292h.9M334.5 286h.9M370 282.5h.9M355.5 310h.9M363 278.5h.9M379.5 309.5h.9M349 292h.9M371 307.5h.9M329 310h.9M340 267h.9M366.5 284h.9M374.5 269h.9M333 278h.9M344.5 294h.9M378.5 293.5h.9M376 266h.9M358.5 271.5h.9M369.5 269.5h.9M343 291h.9M357.5 301.5h.9M360 303h.9M362 270.5h.9M382.5 283.5h.9M341 305h.9M357 306h.9M329 286h.9M353 267h.9M367 303.5h.9M380.5 286h.9M340.5 312h.9M344 283.5h.9M346.5 272.5h.9M362.5 289.5h.9M336 305h.9M372 296.5h.9M372 283.5h.9M331.5 319.5h.9M351.5 317h.9M348.5 316h.9M345.5 316h.9M339 316h.9M331 326h.9M334 318.5h.9M330 325.5h.9M330.5 323.5h.9M344 319.5h.9M344 326.5h.9M351.5 320h.9M349.5 326h.9M330.5 315.5h.9M337 330h.9M343 320h.9M338.5 325h.9M334.5 331.5h.9M337.5 330.5h.9M340 322.5h.9M346 330.5h.9M349 324h.9M345 328h.9M339.5 321.5h.9M330 316.5h.9M338 322h.9M350.5 318.5h.9M339.5 315.5h.9M330 325.5h.9M343 325h.9M336 327.5h.9M329 319.5h.9M349 330h.9M347 327.5h.9M331.5 316.5h.9M341.5 326h.9M332 319.5h.9M340 324.5h.9M348.5 328h.9M345.5 319.5h.9M351 326.5h.9M345 323h.9M333.5 322h.9M347 317h.9M348 315.5h.9M345 327h.9M331.5 328h.9M334 329h.9M342 325h.9M342 318.5h.9M343.5 327h.9M335.5 316h.9M338 317.5h.9M346.5 327h.9M350 316.5h.9M330 317.5h.9M351 328h.9M332 318h.9M346 327h.9M336.5 316.5h.9M351.5 332h.9M343 327.5h.9M347 321.5h.9M350 315.5h.9M337 323h.9M335 316h.9M332.5 329h.9M330 329h.9M332.5 318.5h.9M349 318.5h.9M331.5 328.5h.9M348.5 328.5h.9M329 320h.9M342 322h.9M344.5 331.5h.9M348.5 325h.9M330 330h.9M351.5 318h.9M338.5 329h.9M363.5 327h.9M374.5 315.5h.9M375 320.5h.9M363 320h.9M362 317h.9M360.5 316h.9M353 323.5h.9M365.5 328h.9M358 317h.9M355.5 322.5h.9M377.5 315.5h.9M376 326h.9" stroke="#000" stroke-opacity="0.64" stroke-width=".9" fill="none"/>
<path d="M315.5 307.5h.9M322.5 306.5h.9M311 311h.9M314 318h.9M323.5 312.5h.9M308 330h.9M311 303.5h.9M315 321h.9M319.5 312h.9M322 314.5h.9M317 311.5h.9M313.5 309.5h.9M309 317.5h.9M309 313.5h.9M312.5 309h.9M316.5 313.5h.9M315 313.5h.9M317.5 317.5h.9M316.5 316.5h.9M310.5 313h.9M314 303.5h.9M318.5 313.5h.9M316.5 314h.9M315 320.5h.9M317.5 313.5h.9M314.5 319h.9M315.5 308.5h.9M320 308h.9M315 322.5h.9M314.5 304.5h.9M311 310h.9M310.5 319h.9M328.5 315h.9M315 316.5h.9M314 300.5h.9M319.5 303.5h.9M316 312h.9M322.5 312h.9M319.5 307.5h.9M320 304h.9M320.5 320.5h.9M319.5 305h.9M320 311.5h.9M317 313h.9M315.5 310h.9M316.5 322.5h.9M314 321.5h.9M311 320h.9M313.5 306h.9M307.5 319h.9M318 321h.9M314.5 313.5h.9M310 320h.9M309 315h.9M312 307.5h.9M310.5 309h.9M316 317.5h.9M317 322.5h.9M310 310h.9M321 316h.9M312 315h.9M321.5 324.5h.9M325.5 320h.9M309.5 310h.9M309 303.5h.9M311 315h.9M309 317.5h.9M319 307.5h.9M316.5 311h.9M312.5 313.5h.9M319 307.5h.9M318 319h.9M322 313h.9M315.5 327h.9M317.5 308.5h.9M320.5 320h.9M313.5 307.5h.9M316 309.5h.9M310.5 319.5h.9M314 321.5h.9M314.5 314h.9M322.5 308h.9M320.5 310h.9M316.5 309h.9M324 311h.9M314 305h.9M321.5 315h.9M311.5 315.5h.9M323 313.5h.9M316.5 308h.9M318 323h.9M312.5 307h.9M320 320.5h.9M316.5 312.5h.9M315 315h.9M323 298.5h.9M311.5 318h.9M323.5 311h.9M324.5 322h.9M310 315h.9M317 306h.9M317 304h.9M320.5 320h.9M316 313h.9M315 313.5h.9M312.5 315.5h.9M321 311.5h.9M313 304.5h.9M318 318h.9M309.5 313h.9M314 309.5h.9M316.5 308h.9M308 312.5h.9M324.5 308h.9M315.5 306h.9M307.5 320h.9M317.5 314.5h.9M324 316h.9M325 309h.9M317.5 328h.9M313 311h.9M315 311.5h.9M315 306h.9M315.5 317h.9M313 317h.9M316 270h.9M311.5 283h.9M328 316.5h.9M329 332h.9M327 271h.9M313.5 292h.9M328.5 330.5h.9M319 302.5h.9M314.5 287h.9M318.5 289h.9M328.5 284h.9M311 324.5h.9M314.5 330h.9M325.5 279.5h.9M321.5 330h.9M315 321.5h.9M313.5 328h.9M320 315.5h.9M308.5 313.5h.9M312 283h.9M308.5 292h.9M314 268h.9M308.5 294h.9M318.5 303.5h.9M315 301.5h.9M313.5 320.5h.9M314 291.5h.9M324 326h.9M314.5 284.5h.9M317 326.5h.9M309 310.5h.9M312 330h.9M318 332h.9M328.5 313.5h.9M315.5 285h.9M312 272h.9M327.5 288.5h.9M314 297.5h.9M315 293.5h.9M325.5 326.5h.9M319.5 281.5h.9M310.5 306.5h.9M315.5 299.5h.9M317.5 302h.9M322 280h.9M313.5 315h.9M329 313.5h.9M314.5 293h.9M316 277.5h.9M326 291.5h.9M325.5 282h.9M327.5 306.5h.9M321.5 282.5h.9M327 301h.9M322.5 310.5h.9M329 303.5h.9M316.5 291h.9M308 272h.9M322.5 320.5h.9M328.5 286.5h.9M325 282.5h.9M328 321.5h.9M327 306.5h.9M313.5 323.5h.9M319.5 330h.9M317 285h.9M322 324.5h.9M317.5 325.5h.9M323.5 275.5h.9M326.5 282.5h.9M328.5 328h.9M312 302.5h.9M312 272.5h.9M327.5 332.5h.9M309 289h.9M314 286h.9M309 271.5h.9M328 304h.9M317.5 313h.9M315.5 317h.9M327.5 318h.9M316.5 282h.9M320 279.5h.9M317.5 273.5h.9M326 327.5h.9M322 289h.9M318 307h.9M322.5 311h.9M319.5 288.5h.9M320.5 320h.9M311.5 314h.9M328 275.5h.9M327 327.5h.9M318.5 288.5h.9M321 292h.9M319 284.5h.9M328.5 326h.9M328.5 274h.9M314.5 276h.9M317.5 277h.9M323 286.5h.9M321 308.5h.9M328 271.5h.9M321 324.5h.9M313 294.5h.9M321 305h.9M321 280h.9M323.5 293.5h.9M313.5 286h.9M318 290h.9M325 298.5h.9M320.5 304h.9M328 278.5h.9M323.5 277h.9M315.5 304.5h.9M320.5 324.5h.9M322.5 305.5h.9M310 284.5h.9M316.5 278.5h.9M316.5 272.5h.9M326.5 316h.9M317 278.5h.9M319.5 327.5h.9M323.5 322.5h.9M326 312h.9M319.5 329h.9M323.5 304.5h.9M322 321h.9M311.5 283.5h.9M313.5 277.5h.9M325 331.5h.9M328.5 317h.9M324 316h.9M312.5 329h.9M318 278h.9M318.5 317h.9M316 303h.9M309.5 299h.9M323 305h.9M328 318.5h.9M325.5 313.5h.9M318 332h.9M321 275.5h.9M327.5 301.5h.9M313.5 315h.9M325.5 294.5h.9M309 306h.9M318 289h.9M313 311.5h.9M326 322h.9M336.5 282.5h.9M355.5 279.5h.9M357 290.5h.9M369.5 278h.9M353.5 287.5h.9M340.5 283.5h.9M368.5 272h.9M380.5 282h.9M365 274h.9M349 289.5h.9M359 265.5h.9M345.5 275h.9M366.5 272h.9M356.5 287h.9M336.5 277h.9M368.5 277h.9M373.5 266.5h.9M354.5 277.5h.9M376.5 274.5h.9M364.5 292h.9M366 265h.9M366 281h.9M343.5 290h.9M375 270h.9M375 275.5h.9M356 285h.9M371 275.5h.9M340.5 276.5h.9M343.5 276.5h.9M335.5 273h.9M366.5 286h.9M359.5 273.5h.9M353.5 274.5h.9M310 287h.9M365.5 281h.9M369.5 276.5h.9M347 278h.9M343.5 289h.9M354.5 272h.9M351 286.5h.9M323.5 281h.9M348.5 283.5h.9M331 290h.9M359 287.5h.9M348 267h.9M344 265h.9M353 278.5h.9M347.5 287h.9M342 279h.9M353 274.5h.9M347 290.5h.9M349 285h.9M357.5 267.5h.9M335.5 278h.9M372 285h.9M341 271h.9M355.5 281.5h.9M383.5 271.5h.9M356.5 286h.9M340 279h.9M369 279h.9M348.5 293h.9M349 276.5h.9M351 268h.9M330.5 277.5h.9M346.5 275.5h.9M360.5 282.5h.9M334 280h.9M359.5 294.5h.9M348 280.5h.9M347 270.5h.9M357.5 281h.9M367.5 276h.9M356.5 265.5h.9M368 270.5h.9M361 283h.9M348.5 281h.9M351.5 282h.9M355.5 283.5h.9M359 289.5h.9M344 289h.9M346 274.5h.9M355.5 279h.9M353.5 280.5h.9M371.5 280h.9M350 289h.9M371.5 272h.9M347.5 282h.9M349 272.5h.9M356.5 283h.9M371 278.5h.9M366 272h.9M358.5 273.5h.9M342.5 292h.9M350 287h.9M356 293h.9M334.5 266.5h.9M368.5 280h.9M366.5 293.5h.9M334.5 269.5h.9M359 278.5h.9M347.5 284.5h.9M378.5 288.5h.9M357.5 283.5h.9M333 280h.9M346.5 276h.9M362 287h.9M346 279.5h.9M335 270.5h.9M370 281h.9M384 272.5h.9M361.5 286h.9M352 269h.9M362.5 280.5h.9M331.5 287h.9M369 278h.9M342 282h.9M356.5 270.5h.9M347.5 277h.9M357 279.5h.9M358 280h.9M358 275h.9M347.5 278h.9M340.5 295h.9M364.5 285.5h.9M345.5 278.5h.9M363.5 269h.9M380.5 284h.9M338 271h.9M342.5 274h.9M374.5 291h.9M357 282.5h.9M330 284.5h.9M356 287h.9M372.5 292h.9M374 284.5h.9M383.5 299.5h.9M368 281.5h.9M368.5 293.5h.9M377.5 271.5h.9M378 315h.9M371 300.5h.9M377 292.5h.9M368.5 296h.9M372 283.5h.9M374.5 305.5h.9M374.5 299.5h.9M372.5 302.5h.9M379 296.5h.9M374.5 311h.9M382 299.5h.9M369 293h.9M382 304h.9M371.5 304h.9M376 305.5h.9M381 281h.9M370 288h.9M371.5 284h.9M372.5 289.5h.9M364.5 279.5h.9M383.5 289h.9M369.5 295h.9M369.5 289.5h.9M372 291.5h.9M380 284h.9M378 295.5h.9M376.5 288.5h.9M374.5 295.5h.9M371.5 326.5h.9M374 304.5h.9M373 301.5h.9M355.5 307h.9M381 271.5h.9M366 269h.9M368.5 281h.9M367.5 293.5h.9M365.5 319h.9M377 286.5h.9M375.5 305h.9M371 305.5h.9M385.5 309.5h.9M361.5 281.5h.9M371.5 304.5h.9M379 275h.9M373.5 271.5h.9M374.5 302h.9M367 295.5h.9M376 294.5h.9M369 307h.9M368.5 308.5h.9M371.5 289.5h.9M373 302h.9M378.5 318.5h.9M356 307.5h.9M372 300h.9M371 290.5h.9M357.5 286h.9M378 290h.9M381 311h.9M374 275.5h.9M368 282h.9M362 301h.9M385.5 294h.9M374 303h.9M370.5 299h.9M378 285.5h.9M335.5 297.5h.9M345.5 297h.9M350.5 308h.9M359.5 282.5h.9M336 298h.9M361.5 305h.9M350 280h.9M373 286.5h.9M340.5 278h.9M345.5 267h.9M343 284.5h.9M336 312.5h.9M377.5 273.5h.9M376 285.5h.9M337 284h.9M349.5 267h.9M336 280.5h.9M355 293h.9M378 278.5h.9M353.5 287.5h.9M368.5 297.5h.9M342.5 313.5h.9M368 297.5h.9M361 278h.9M380.5 277.5h.9M353.5 303h.9M350 288.5h.9M336.5 273h.9M379.5 300.5h.9M356.5 307h.9M368 297h.9M380.5 305.5h.9M358.5 311.5h.9M382 280.5h.9M380 310h.9M329.5 279h.9M380 274h.9M356 275.5h.9M345.5 307.5h.9M336.5 286h.9M341 310.5h.9M353.5 309h.9M335.5 302h.9M329.5 308h.9M340.5 299.5h.9M362 284.5h.9M358.5 286.5h.9M331.5 278h.9M358.5 270h.9M375.5 294.5h.9M381.5 313h.9M380.5 270h.9M329 308.5h.9M380 291.5h.9M345 283.5h.9M364 297h.9M353.5 295.5h.9M355.5 307.5h.9M370.5 307.5h.9M352 294.5h.9M357 299h.9M376.5 289h.9M372 309.5h.9M383.5 290h.9M338.5 289.5h.9M379.5 307.5h.9M341.5 306h.9M361.5 291h.9M339 291h.9M383.5 271h.9M378.5 314h.9M380.5 309h.9M362.5 292h.9M373.5 272h.9M331.5 271h.9M337.5 282.5h.9M337.5 271h.9M330.5 311.5h.9M372 293.5h.9M350 275.5h.9M381.5 293h.9M361.5 273h.9M366 274h.9M356 311h.9M350 286.5h.9M360.5 294.5h.9M361.5 308h.9M367 297h.9M330.5 313h.9M346 299.5h.9M342.5 280h.9M380 298.5h.9M369.5 310.5h.9M361.5 280h.9M344 310h.9M379.5 268h.9M359 295h.9M370.5 280h.9M337 308h.9M371 286.5h.9M374 271h.9M351.5 277h.9M345.5 267.5h.9M339 271.5h.9M372 288h.9M382 294h.9M383 305h.9M339.5 290.5h.9M375 309h.9M351.5 311h.9M359.5 311h.9M338 307.5h.9M348 283h.9M336 277.5h.9M374.5 288.5h.9M383.5 273.5h.9M332.5 307.5h.9M361 280h.9M356.5 285h.9M365.5 304.5h.9M364.5 271.5h.9M369.5 287.5h.9M359 292h.9M346 268.5h.9M359 286h.9M352.5 273.5h.9M348 292.5h.9M342.5 273h.9M331.5 300h.9M352.5 290h.9M369 295.5h.9M364 313h.9M375 310.5h.9M378.5 307h.9M336 273.5h.9M382.5 300.5h.9M358.5 311.5h.9M332.5 305.5h.9M355.5 308.5h.9M368.5 298.5h.9M337.5 290.5h.9M377.5 283.5h.9M376 266.5h.9M372 285.5h.9M359 277.5h.9M380.5 278.5h.9M381 313h.9M377.5 268h.9M382 309h.9M358 279h.9M378.5 284.5h.9M359 300h.9M374 300h.9M332.5 266.5h.9M353.5 311h.9M356 297h.9M344 271h.9M343 281.5h.9M356.5 266.5h.9M376.5 279.5h.9M351.5 284h.9M346.5 300h.9M346 283h.9M382 283h.9M379 306.5h.9M362 276.5h.9M367.5 277.5h.9M366.5 274.5h.9M357 311h.9M357 277.5h.9M339 306.5h.9M352.5 279h.9M352 280h.9M383 292.5h.9M375 311.5h.9M332.5 282h.9M367 275h.9M368.5 281h.9M355 287.5h.9M354.5 310h.9M352.5 284h.9M331 302h.9M366 302h.9M358 266.5h.9M343 270.5h.9M345.5 289.5h.9M343.5 286h.9M332 312h.9M352.5 293h.9M340 278h.9M331 269.5h.9M382.5 288.5h.9M347.5 277.5h.9M368 313h.9M374.5 287h.9M376 303h.9M356.5 302h.9M368.5 282h.9M371 282h.9M333.5 307h.9M333.5 308.5h.9M383 286.5h.9M339 305h.9M336 288.5h.9M381.5 282h.9M345.5 300h.9M352.5 290.5h.9M380.5 299.5h.9M339.5 281h.9M357 277h.9M332.5 275.5h.9M378 291.5h.9M364 314h.9M336 307h.9M369.5 278.5h.9M346.5 306h.9M360 267h.9M336 279h.9M365.5 271h.9M371 290h.9M359 291.5h.9M331 313.5h.9M359.5 281h.9M379.5 282h.9M360.5 299h.9M373 308.5h.9M381.5 283.5h.9M344.5 311.5h.9M331.5 281.5h.9M360 308.5h.9M335.5 296h.9M337.5 287.5h.9M362 313.5h.9M340 306.5h.9M349.5 299h.9M354.5 281.5h.9M350.5 301.5h.9M373 278h.9M342 305.5h.9M363 285h.9M333.5 313h.9M372.5 306h.9M352.5 271h.9M378 282h.9M329.5 289.5h.9M343.5 308h.9M355 304.5h.9M360 304h.9M337 295.5h.9M384 313h.9M367 266.5h.9M377.5 270h.9M357 306.5h.9M380.5 298h.9M359 274.5h.9M330.5 287h.9M345 307.5h.9M380.5 308.5h.9M344 283.5h.9M353 268h.9M375.5 313h.9M343 310.5h.9M379 310h.9M348 311.5h.9M370.5 274h.9M376.5 276h.9M350.5 308.5h.9M338 290.5h.9M380 300.5h.9M368 300.5h.9M378.5 312h.9M356 307h.9M333.5 285h.9M352 284.5h.9M351 304h.9M346 300h.9M351.5 305h.9M379.5 272h.9M372 285h.9M357.5 266h.9M383.5 271h.9M345.5 296h.9M352 322h.9M333.5 317.5h.9M340.5 320.5h.9M349 324.5h.9M351 330.5h.9M344 331.5h.9M347 329.5h.9M331 327h.9M338.5 328h.9M339.5 320h.9M342 316.5h.9M332.5 325.5h.9M331 327h.9M340 332h.9M350 324h.9M336 331.5h.9M341 318h.9M341.5 319.5h.9M339.5 327.5h.9M342 328h.9M338 329h.9M348.5 321.5h.9M338.5 323.5h.9M329 322h.9M344 327.5h.9M344.5 326h.9M334.5 329h.9M343.5 320.5h.9M337 325h.9M340.5 320h.9M331 330.5h.9M348 325h.9M337 328.5h.9M346.5 328.5h.9M351.5 322.5h.9M349 327.5h.9M331.5 316.5h.9M366.5 327.5h.9M363.5 325.5h.9M355.5 329.5h.9M372 323.5h.9M363 318h.9M377.5 327.5h.9M368 315.5h.9M363.5 321.5h.9M369 321h.9M371.5 327h.9" stroke="#000" stroke-opacity="0.41" stroke-width=".9" fill="none"/>
<text transform="translate(368.7 269.2) scale(0.92 1)" font-size="14.8" font-weight="bold" font-style="normal" fill="#111" stroke="#111" stroke-width="0.4" text-anchor="middle">44.5%</text>
<text transform="translate(286.9 298.6) rotate(-90)" font-size="16.6" font-weight="bold" font-style="normal" fill="#111" stroke="#111" stroke-width="0.4" text-anchor="middle">CD71</text>
<text transform="translate(338.7 367.8) scale(0.96 1)" font-size="16.7" font-weight="bold" font-style="normal" fill="#111" stroke="#111" stroke-width="0.4" text-anchor="middle">CD36</text>
<rect x="429.3" y="256.7" width="84" height="76.7" fill="#fff" stroke="#4a4a4a" stroke-width="0.9"/>
<path d="M451.3 256.7V333.4M429.3 318.1H513.3" stroke="#404040" stroke-width="1" fill="none"/>
<path d="M442 333.4v4.2M463 333.4v4.2M484 333.4v4.2M505 333.4v4.2M431 333.4v2.5M433.6 333.4v2.5M435.7 333.4v2.5M437.3 333.4v2.5M438.7 333.4v2.5M440 333.4v2.5M441 333.4v2.5M448.3 333.4v2.5M452 333.4v2.5M454.6 333.4v2.5M456.7 333.4v2.5M458.3 333.4v2.5M459.7 333.4v2.5M461 333.4v2.5M462 333.4v2.5M469.3 333.4v2.5M473 333.4v2.5M475.6 333.4v2.5M477.7 333.4v2.5M479.3 333.4v2.5M480.7 333.4v2.5M482 333.4v2.5M483 333.4v2.5M490.3 333.4v2.5M494 333.4v2.5M496.6 333.4v2.5M498.7 333.4v2.5M500.3 333.4v2.5M501.7 333.4v2.5M503 333.4v2.5M504 333.4v2.5M511.3 333.4v2.5M429.3 322.9h-4.2M429.3 303.8h-4.2M429.3 284.7h-4.2M429.3 265.6h-4.2M429.3 332.9h-2.5M429.3 330.5h-2.5M429.3 328.6h-2.5M429.3 327.1h-2.5M429.3 325.9h-2.5M429.3 324.8h-2.5M429.3 323.8h-2.5M429.3 317.2h-2.5M429.3 313.8h-2.5M429.3 311.4h-2.5M429.3 309.5h-2.5M429.3 308h-2.5M429.3 306.8h-2.5M429.3 305.7h-2.5M429.3 304.7h-2.5M429.3 298.1h-2.5M429.3 294.7h-2.5M429.3 292.3h-2.5M429.3 290.4h-2.5M429.3 288.9h-2.5M429.3 287.7h-2.5M429.3 286.6h-2.5M429.3 285.6h-2.5M429.3 279h-2.5M429.3 275.6h-2.5M429.3 273.2h-2.5M429.3 271.3h-2.5M429.3 269.8h-2.5M429.3 268.6h-2.5M429.3 267.5h-2.5M429.3 266.5h-2.5M429.3 259.9h-2.5" stroke="#555" stroke-width="0.7" fill="none"/>
<text transform="translate(442 343.9) scale(0.9 1)" font-size="5.9" fill="#444" stroke="#444" stroke-width="0.05" text-anchor="middle">10<tspan dy="-2.7" font-size="4.2">2</tspan></text>
<text transform="translate(463 343.9) scale(0.9 1)" font-size="5.9" fill="#444" stroke="#444" stroke-width="0.05" text-anchor="middle">10<tspan dy="-2.7" font-size="4.2">3</tspan></text>
<text transform="translate(484 343.9) scale(0.9 1)" font-size="5.9" fill="#444" stroke="#444" stroke-width="0.05" text-anchor="middle">10<tspan dy="-2.7" font-size="4.2">4</tspan></text>
<text transform="translate(505 343.9) scale(0.9 1)" font-size="5.9" fill="#444" stroke="#444" stroke-width="0.05" text-anchor="middle">10<tspan dy="-2.7" font-size="4.2">5</tspan></text>
<text transform="translate(424.3 322.2) scale(0.9 1) rotate(-90)" font-size="5.9" fill="#444" stroke="#444" stroke-width="0.05" text-anchor="middle">10<tspan dy="-2.7" font-size="4.2">2</tspan></text>
<text transform="translate(424.3 303.1) scale(0.9 1) rotate(-90)" font-size="5.9" fill="#444" stroke="#444" stroke-width="0.05" text-anchor="middle">10<tspan dy="-2.7" font-size="4.2">3</tspan></text>
<text transform="translate(424.3 284) scale(0.9 1) rotate(-90)" font-size="5.9" fill="#444" stroke="#444" stroke-width="0.05" text-anchor="middle">10<tspan dy="-2.7" font-size="4.2">4</tspan></text>
<text transform="translate(424.3 264.9) scale(0.9 1) rotate(-90)" font-size="5.9" fill="#444" stroke="#444" stroke-width="0.05" text-anchor="middle">10<tspan dy="-2.7" font-size="4.2">5</tspan></text>
<path d="M464 325h.9M465.5 326h.9M466 322.5h.9M462 326h.9M482.5 317h.9M467.5 326h.9M471.5 320.5h.9M476 326h.9M473 331h.9M468.5 320.5h.9M458.5 324.5h.9M467.5 327h.9M479.5 327.5h.9M461.5 324h.9M473.5 327h.9M470 322.5h.9M466.5 326h.9M465.5 324.5h.9M466 321.5h.9M468 329h.9M464.5 323h.9M470 325h.9M464 328.5h.9M471.5 324.5h.9M467 325h.9M459.5 327h.9M468.5 325.5h.9M475 323.5h.9M457.5 324.5h.9M475 327h.9M462 326.5h.9M458.5 325.5h.9M467.5 321h.9M488.5 325.5h.9M469 329h.9M472.5 326h.9M466.5 328h.9M483.5 323.5h.9M474.5 331h.9M479.5 324.5h.9M474 329.5h.9M471 331.5h.9M481 331.5h.9M462 323h.9M474 323.5h.9M472.5 323.5h.9M486 327.5h.9M481.5 330.5h.9M476 328.5h.9M471 329h.9M466.5 324.5h.9M466 322.5h.9M481.5 326.5h.9M459 326.5h.9M460.5 326.5h.9M465 326h.9M469.5 330.5h.9M465.5 325h.9M467 326h.9M482 324h.9M473.5 326.5h.9M467.5 326.5h.9M466 322h.9M488 320h.9M469 325.5h.9M465 322h.9M469 328h.9M476.5 329h.9M470.5 330.5h.9M471 324.5h.9M475 322h.9M475 327h.9M475 328.5h.9M478 323h.9M481.5 324h.9M474 327.5h.9M473 319.5h.9M464.5 326h.9M470.5 325.5h.9M473 326.5h.9M458.5 329h.9M461.5 320.5h.9M463.5 316.5h.9M467 325.5h.9M477 323.5h.9M484.5 324.5h.9M480.5 330h.9M479.5 322h.9M463 331h.9M474.5 325h.9M472 323.5h.9M473 324h.9M468.5 324h.9M469.5 327h.9M462 325h.9M471 328.5h.9M465.5 323.5h.9M481 328h.9M467.5 326h.9M463.5 329.5h.9M478 322.5h.9M468 324h.9M461 326h.9M469 326h.9M461 331.5h.9M480.5 322.5h.9M484 327.5h.9M465.5 324h.9M484.5 316.5h.9M477 323.5h.9M471.5 321.5h.9M457 328.5h.9M461 321.5h.9M470.5 325.5h.9M483.5 322h.9M474 331h.9M470.5 328.5h.9M463.5 317h.9M486 326.5h.9M479 327h.9M466 326h.9M456.5 324h.9M470.5 331h.9M476 318h.9M486.5 326.5h.9M477 328h.9M470.5 326.5h.9M467 328.5h.9M477.5 320h.9M482 324.5h.9M456.5 325h.9M475 330h.9M456.5 326.5h.9M481 327.5h.9M466.5 325.5h.9M477 324.5h.9M475 323.5h.9M464 324h.9M471.5 326.5h.9M464.5 324h.9M477 324.5h.9M465.5 328h.9M468 320h.9M463.5 324h.9M463 326h.9M468.5 325h.9M463 325h.9M459.5 329h.9M472.5 325h.9M464 329h.9M468.5 331.5h.9M474.5 329h.9M466.5 328.5h.9M477 325h.9M470 323h.9M478 325.5h.9M473 325h.9M470 328h.9M465.5 328h.9M466.5 324h.9M477.5 327h.9M469 330.5h.9M473.5 324.5h.9M471 329h.9M476.5 326h.9M462 321h.9M475 321.5h.9M480.5 329.5h.9M463 329h.9M472.5 328.5h.9M461.5 326.5h.9M457 328h.9M481 328.5h.9M473 326h.9M479.5 328.5h.9M454.5 321.5h.9M466.5 327.5h.9M483.5 328.5h.9M461.5 325.5h.9M470.5 326.5h.9M469.5 326h.9M465.5 325h.9M461 323.5h.9M482 328h.9M464.5 331.5h.9M477 328h.9M463 328.5h.9M475 324h.9M461 330h.9M461 327.5h.9M478 326.5h.9M466.5 319.5h.9M467.5 325h.9M462.5 329h.9M474.5 323.5h.9M478 331h.9M469.5 326h.9M473 324h.9M470.5 327h.9M457.5 324.5h.9M468.5 329h.9M468.5 326h.9M474.5 327.5h.9M462 329h.9M477 320.5h.9M480 324h.9M481 324.5h.9M476 325h.9M477.5 326h.9M472 330h.9M475.5 332h.9M475 323h.9M461 323h.9M460.5 318.5h.9M459.5 326.5h.9M471.5 328h.9M470 330h.9M462 328h.9M458.5 325h.9M473 324.5h.9M466.5 328h.9M467.5 324.5h.9M480.5 320.5h.9M465.5 324h.9M471 328h.9M460.5 331.5h.9M470.5 323h.9M470.5 325.5h.9M471 328h.9M473.5 322h.9M473 332h.9M468 328h.9M472 327h.9M471.5 328h.9M470 329h.9M468.5 325h.9M470 331h.9M477.5 325h.9M465 324.5h.9M473.5 325.5h.9M461.5 330h.9M480 325h.9M460 325.5h.9M467 331h.9M458 330.5h.9M476.5 322.5h.9M470 324.5h.9M465.5 322.5h.9M467 323h.9M460 330.5h.9M462 323h.9M477.5 326.5h.9M470 325.5h.9M478 326h.9M475.5 324h.9M482.5 324h.9M476 324h.9M460 330.5h.9M472 324h.9M468.5 323.5h.9M469.5 325h.9M484 317h.9M471 329.5h.9M470 328h.9M476 318.5h.9M475 323.5h.9M470.5 326.5h.9M458 324.5h.9M473.5 325.5h.9M469 326h.9M468.5 332h.9M463 328h.9M470 329.5h.9M473 323h.9M481 326h.9M476 332h.9M473 325h.9M486.5 321.5h.9M469 327.5h.9M465 331h.9M461 325.5h.9M458.5 328.5h.9M467 326h.9M474 328h.9M461.5 323h.9M477 324h.9M466 324.5h.9M466 328.5h.9M478.5 329.5h.9M464 330h.9M466 326h.9M459.5 325h.9M464 327.5h.9M464 324.5h.9M475.5 328.5h.9M466.5 326h.9M476.5 322h.9M475 328h.9M483.5 329h.9M466 320h.9M454 322.5h.9M474.5 322h.9M475.5 331h.9M469.5 324h.9M463.5 326.5h.9M467.5 326h.9M466.5 319.5h.9M483 327h.9M476.5 325h.9M469 326h.9M471 325.5h.9M464 328h.9M465.5 326.5h.9M474 319h.9M460.5 324.5h.9M464 328.5h.9M468.5 327h.9M469.5 327.5h.9M471.5 326.5h.9M466 323.5h.9M462.5 327h.9M455.5 325.5h.9M474 323h.9M484.5 322.5h.9M481.5 327.5h.9M471.5 326h.9M471 324.5h.9M461.5 324h.9M461.5 323.5h.9M469 322.5h.9M468.5 331.5h.9M471 327h.9M468 325h.9M471 326h.9M471.5 323.5h.9M474 328.5h.9M472 328.5h.9M476.5 321h.9M478.5 327.5h.9M470 324.5h.9M473.5 326h.9M478 317h.9M462 327h.9M474.5 326.5h.9M478 325h.9M477 326.5h.9M476 327h.9M466.5 330.5h.9M473 326.5h.9M467 331.5h.9M469 330h.9M473 331.5h.9M474 323.5h.9M465.5 329h.9M474 325h.9M466 321h.9M476 322h.9M473.5 324.5h.9M463.5 326h.9M475.5 326.5h.9M458 326h.9M461 322.5h.9M478.5 322.5h.9M463 325.5h.9M468.5 331h.9M464.5 324h.9M476 328h.9M475.5 323h.9M469 326.5h.9M475.5 327h.9M467 318h.9M463 327.5h.9M473.5 324.5h.9M472 298h.9M475.5 290h.9M470 287h.9M467 280h.9M462.5 287h.9M482 286.5h.9M485 307h.9M475.5 302.5h.9M484.5 291h.9M469 290.5h.9M466 287h.9M479.5 266h.9M468.5 310.5h.9M473 282h.9M463 293.5h.9M463 281.5h.9M461.5 286.5h.9M487 296.5h.9M470.5 274h.9M471.5 284h.9M471 275h.9M468 280.5h.9M472.5 302.5h.9M465 303h.9M473.5 290.5h.9M462 285h.9M464.5 295h.9M473.5 304h.9M469.5 273.5h.9M460.5 275h.9M463.5 283.5h.9M476 279h.9M476 290.5h.9M476.5 266.5h.9M463.5 299h.9M469 278h.9M463.5 303.5h.9M474 292h.9M481.5 305h.9M466.5 306h.9M480 309h.9M478 284h.9M462 280.5h.9M475.5 308h.9M464 282.5h.9M465 282.5h.9M475 285.5h.9M468.5 290.5h.9M464 284.5h.9M463 270.5h.9M477 296h.9M463 298.5h.9M472.5 285h.9M475 294.5h.9M473.5 287h.9M467 278.5h.9M469 285h.9M467 281.5h.9M465.5 295.5h.9M465.5 272.5h.9M476 285h.9M474 276h.9M464.5 294h.9M474.5 296.5h.9M459.5 277.5h.9M467 281.5h.9M466 293h.9M470 278.5h.9M466.5 295.5h.9M484.5 286.5h.9M466.5 291h.9M465.5 288.5h.9M470.5 307h.9M472.5 278h.9M468.5 279h.9M474 293h.9M470.5 300.5h.9M477.5 281.5h.9M464 270.5h.9M481 302h.9M477 298.5h.9M476 303.5h.9M468.5 289h.9M470.5 290.5h.9M471.5 286.5h.9M478 292h.9M481.5 300.5h.9M470 289h.9M476.5 283.5h.9M472.5 293.5h.9M482 282h.9M464 309.5h.9M476 274.5h.9M461.5 273.5h.9M469 285.5h.9M474.5 298h.9M478 290.5h.9M462.5 270h.9M471.5 297.5h.9M460.5 279h.9M462 270h.9M453.5 294h.9M489.5 294h.9M475 315h.9M459.5 265.5h.9M466.5 307h.9M472.5 269h.9M475 265h.9M469.5 286h.9M462.5 302h.9M481.5 290h.9M469.5 285h.9M457 290h.9M477 280.5h.9M469.5 291h.9M473.5 297.5h.9M471.5 277h.9M475 285.5h.9M479 290.5h.9M473.5 284.5h.9M477 275.5h.9M470 290.5h.9M476.5 309h.9M472 300.5h.9M459 285.5h.9M460.5 266.5h.9M467 300.5h.9M471.5 307h.9M463 273h.9M472.5 299h.9M470 286h.9M466 263h.9M458 277h.9M469 264.5h.9M472.5 299.5h.9M466.5 273h.9M472 282.5h.9M463 308.5h.9M460 292h.9M461 293h.9M476 280h.9M480 290h.9M475.5 315.5h.9M457 271h.9M478.5 296.5h.9M469.5 285.5h.9M463 297.5h.9M469 284h.9M458 287h.9M469 296h.9M459.5 286h.9M476.5 277.5h.9M475.5 276.5h.9M477.5 285h.9M465.5 276h.9M465 275h.9M473 274.5h.9M465 280h.9M470.5 288h.9M478 272.5h.9M468.5 294h.9M468 301.5h.9M467.5 285h.9M473.5 291h.9M472 309.5h.9M479 301h.9M466.5 284h.9M468 298h.9M476.5 300h.9M476 280h.9M468.5 304.5h.9M467 280.5h.9M462 304h.9M477.5 278.5h.9M461.5 289h.9M474 279.5h.9M470.5 287h.9M466.5 266.5h.9M466.5 274h.9M471.5 281.5h.9M470 292h.9M465 294.5h.9M454.5 305h.9M482.5 293h.9M468 281h.9M471 278.5h.9M475.5 288h.9M479.5 319h.9M468 281h.9M469 299.5h.9M475.5 295h.9M481.5 274h.9M478.5 289h.9M472 308h.9M469 295.5h.9M474 285.5h.9M466.5 283.5h.9M478.5 284h.9M481.5 304.5h.9M471.5 298h.9M474 292h.9M465 281h.9M489.5 285h.9M478 308h.9M467 274h.9M470.5 289.5h.9M478.5 296h.9M465.5 292h.9M469.5 276h.9M470.5 283h.9M473 279.5h.9M465.5 293.5h.9M475.5 267h.9M463 289.5h.9M480 297h.9M471 271.5h.9M469 297h.9M479 279.5h.9M474 273.5h.9M467 321.5h.9M476 292h.9M474 294.5h.9M468.5 288h.9M473 277h.9M479 272.5h.9M471 274h.9M472 275h.9M464 294h.9M463 297h.9M466.5 290.5h.9M466 295.5h.9M471.5 297.5h.9M470.5 289h.9M478 279.5h.9M460 293.5h.9M465 290.5h.9M463 311.5h.9M469.5 300.5h.9M473 286h.9M468 288.5h.9M465 280.5h.9M461 284.5h.9M477 298.5h.9M469 297.5h.9M468 269.5h.9M476.5 302.5h.9M463 291h.9M475.5 286h.9M483.5 291h.9M484.5 299h.9M476 287.5h.9M482.5 294h.9M468.5 269.5h.9M465.5 300.5h.9M481.5 301h.9M477.5 295.5h.9M465.5 277.5h.9M459 278h.9M475.5 280.5h.9M458 284h.9M465 280h.9M467.5 308h.9M476.5 285h.9M470 282.5h.9M466 309h.9M460.5 296h.9M476.5 283h.9M471 282h.9M479.5 287h.9M464 276h.9M465 296.5h.9M487.5 293.5h.9M467 267.5h.9M472 296.5h.9M478.5 300h.9M467 284.5h.9M477 303.5h.9M480 299.5h.9M466 283.5h.9M468 290h.9M474 303h.9M474.5 289.5h.9M473.5 289h.9M477 269.5h.9M474.5 289h.9M476 299.5h.9M473.5 285h.9M469.5 286h.9M484 305h.9M473 263h.9M463 288.5h.9M478 275h.9M467.5 292.5h.9M474.5 301h.9M487 291.5h.9M463 289h.9M480 281.5h.9M469.5 316h.9M464 288h.9M462 275h.9M485 301.5h.9M463.5 302h.9M474.5 281.5h.9M467 277.5h.9M461.5 276.5h.9M460.5 272.5h.9M464.5 277.5h.9M472 291.5h.9M466.5 285.5h.9M462.5 283h.9M481 292h.9M476.5 277.5h.9M478.5 292h.9M463.5 308.5h.9M464 308h.9M457 274.5h.9M464 309.5h.9M480 282.5h.9M462 271h.9M478.5 280h.9M477 297.5h.9M472.5 270.5h.9M476 282.5h.9M472 298h.9M467.5 295.5h.9M473 285.5h.9M464.5 292h.9M473.5 286h.9M467.5 289h.9M473 308.5h.9M473.5 290.5h.9M472.5 300.5h.9M461 279.5h.9M472.5 280.5h.9M462 307h.9M477.5 285h.9M481.5 291h.9M481 275.5h.9M463 309.5h.9M475 287.5h.9M466.5 297h.9M486 275.5h.9M485.5 288h.9M467 279.5h.9M469.5 289.5h.9M473 273.5h.9M463 294.5h.9M467.5 296h.9M474 295h.9M467.5 272h.9M477 277.5h.9M471.5 279h.9M461.5 279.5h.9M465 273h.9M472 293h.9M472.5 302h.9M475 298h.9M475.5 287h.9M478 271h.9M469 278.5h.9M464 314.5h.9M472.5 311h.9M466.5 273.5h.9M456.5 275.5h.9M457.5 287h.9M479.5 304.5h.9M473 284.5h.9M464.5 294h.9M479 287.5h.9M462.5 309.5h.9M478 315.5h.9M470.5 299h.9M476.5 283.5h.9M482 287h.9M481 294h.9M464.5 311h.9M468.5 265.5h.9M473 284h.9M478 287h.9M469.5 295h.9M470.5 269.5h.9M471 286h.9M469.5 287.5h.9M473 285.5h.9M464 279h.9M462 272h.9M482.5 277h.9M460 296.5h.9M479.5 278.5h.9M470.5 303h.9M464 277.5h.9M474.5 295h.9M462.5 282h.9M468 277h.9M479.5 306.5h.9M466.5 268h.9M461.5 282.5h.9M472 273.5h.9M475.5 290h.9M464.5 282h.9M470.5 279h.9M475 293h.9M477.5 288.5h.9M473 288.5h.9M474.5 316.5h.9M476 304h.9M472.5 293h.9M483 293.5h.9M463 273.5h.9M471.5 301h.9M461 292h.9M483 286.5h.9M467.5 276.5h.9M460.5 278h.9M475.5 295.5h.9M463 290h.9M466 282h.9M474 273.5h.9M476 273.5h.9M464.5 289.5h.9M472 295.5h.9M472 301h.9M476.5 283.5h.9M470.5 289.5h.9M476 272.5h.9M476 287h.9M464 300.5h.9M469 287h.9M479.5 296h.9M471 301.5h.9M475.5 284h.9M474 287h.9M469 272.5h.9M475.5 293h.9M471 288h.9M465.5 263.5h.9M457.5 281h.9M467.5 278h.9M474.5 300h.9M481 309.5h.9M464 281h.9M467.5 300h.9M475 298.5h.9M476 301h.9M467.5 279h.9M479 277.5h.9M468.5 294.5h.9M469 278.5h.9M478 287.5h.9M481.5 279h.9M462 296.5h.9M472 299.5h.9M461.5 298h.9M474 280h.9M479 276.5h.9M462 295h.9M470.5 276.5h.9M471.5 306.5h.9M474 312.5h.9M470.5 303h.9M484 267.5h.9M466 286.5h.9M467 275.5h.9M470.5 287h.9M481.5 281.5h.9M474.5 308h.9M476 295h.9M468 312.5h.9M471.5 270.5h.9M463 308.5h.9M480 285h.9M464 272h.9M470 265h.9M467.5 281h.9M481 299.5h.9M465.5 287.5h.9M474.5 282h.9M465.5 306h.9M470 275h.9M476 268h.9M464.5 273h.9M457 287.5h.9M483.5 277.5h.9M457.5 310h.9M471 307.5h.9M476.5 296.5h.9M481.5 292h.9M479.5 266.5h.9M470 263.5h.9M464.5 263.5h.9M469.5 288h.9M467 264h.9M468 268.5h.9M475.5 288.5h.9M469 302h.9M458 274h.9M477.5 275.5h.9M468.5 284.5h.9M468.5 265h.9M471 284.5h.9M470.5 305h.9M469.5 301.5h.9M473.5 288h.9M467 271.5h.9M469 301.5h.9M466 274.5h.9M473.5 285.5h.9M478 280.5h.9M468.5 293h.9M464 273h.9M464.5 302h.9M457.5 283.5h.9M465 278h.9M474 292.5h.9M472 287.5h.9M475.5 290h.9M460.5 284.5h.9M461.5 298.5h.9M475 285h.9M477.5 317.5h.9M477.5 306h.9M479.5 297.5h.9M467.5 305h.9M467 303.5h.9M473 272h.9M458.5 292h.9M474 281.5h.9M464.5 309h.9M467.5 268.5h.9M473.5 308h.9M472.5 298h.9M473.5 295.5h.9M477 295h.9M466.5 285.5h.9M464.5 281.5h.9M466.5 275.5h.9M481.5 277.5h.9M468.5 274h.9M465.5 277h.9M470.5 296.5h.9M468 288h.9M485 280h.9M472.5 287.5h.9M477.5 292h.9M456.5 274h.9M472 314h.9M485 294h.9M470 297h.9M470 293h.9M468.5 289h.9M468 297.5h.9M467.5 286h.9M469 286h.9M465 277h.9M461 278h.9M488.5 288.5h.9M473.5 314.5h.9M461 271.5h.9M470.5 263.5h.9M466 289.5h.9M473.5 294h.9M479 302h.9M469 287.5h.9M463.5 283.5h.9M464.5 290.5h.9M471.5 290.5h.9M476 285.5h.9M465 290h.9M475 279.5h.9M471 293h.9M470 281h.9M467.5 281.5h.9M479.5 288h.9M482 317.5h.9M471.5 277h.9M472 299.5h.9M456 286h.9M456 282h.9M465.5 303h.9M456.5 307h.9M479 287.5h.9M458 307.5h.9M471.5 311h.9M470.5 277h.9M475.5 300.5h.9M484.5 316h.9M484 303.5h.9M477 317h.9M470 303.5h.9M472 285.5h.9M469 276.5h.9M467 309.5h.9M486.5 309h.9M470.5 294.5h.9M455 291.5h.9M455.5 281.5h.9M463.5 307h.9M479 315.5h.9M477.5 274.5h.9M473.5 279h.9M460 283h.9M478.5 274.5h.9M458 297h.9M471.5 308h.9M483.5 310.5h.9M486 278h.9M479 272h.9M471.5 297.5h.9M457 284h.9M460.5 306h.9M487 291.5h.9M481.5 281.5h.9M466.5 302h.9M484.5 314.5h.9M458.5 268.5h.9M459 265h.9M468 294h.9M485 272.5h.9M484 299.5h.9M468.5 288h.9M481 315.5h.9M465.5 285.5h.9" stroke="#000" stroke-opacity="0.74" stroke-width=".9" fill="none"/>
<path d="M462 330.5h.9M470 323h.9M478.5 323h.9M468.5 322.5h.9M468 326.5h.9M467.5 327.5h.9M478.5 323h.9M459.5 323h.9M470.5 325.5h.9M458.5 327.5h.9M469.5 326.5h.9M481.5 323.5h.9M468.5 326h.9M472 328h.9M468.5 326.5h.9M461.5 321.5h.9M463.5 321h.9M474 326.5h.9M457.5 330h.9M470.5 320.5h.9M460 326h.9M475 324h.9M473 331h.9M481.5 322.5h.9M489 328h.9M470.5 325.5h.9M456 322.5h.9M456 326.5h.9M474.5 328h.9M471.5 322.5h.9M483 329h.9M469 325h.9M464.5 324.5h.9M468.5 325h.9M453.5 329h.9M470.5 327.5h.9M479 325h.9M466.5 327h.9M469 331.5h.9M468.5 324h.9M475.5 324h.9M470.5 327h.9M470.5 322.5h.9M465.5 322h.9M468 326h.9M476.5 327.5h.9M463.5 321.5h.9M470 329.5h.9M474.5 328h.9M470 323.5h.9M486.5 322h.9M464.5 326h.9M461.5 322.5h.9M466 321.5h.9M467.5 327h.9M470.5 325.5h.9M464 328.5h.9M470 325h.9M469.5 322h.9M476.5 331.5h.9M471.5 322.5h.9M460 327h.9M463 330h.9M468 330h.9M479 325.5h.9M475.5 330.5h.9M470.5 331h.9M467 325h.9M463 323h.9M468.5 326h.9M470 323.5h.9M468.5 331h.9M483.5 326h.9M461 328.5h.9M471 327.5h.9M465 329h.9M475 326h.9M473 327h.9M463 324.5h.9M472 325.5h.9M466.5 324h.9M480 323.5h.9M464 327.5h.9M482 325.5h.9M463 326h.9M468.5 322h.9M476 327h.9M472.5 328h.9M457.5 327.5h.9M463 319h.9M463 328.5h.9M484 330h.9M471.5 322h.9M466 327h.9M478.5 322h.9M470.5 328h.9M473.5 329.5h.9M475.5 329h.9M469.5 322h.9M461.5 331.5h.9M468 323.5h.9M468.5 327.5h.9M461 322.5h.9M479 321.5h.9M466 326h.9M471.5 326.5h.9M458.5 324.5h.9M468 328h.9M472 329.5h.9M459.5 325h.9M472 329.5h.9M467.5 328h.9M475 323.5h.9M460 315.5h.9M465.5 325h.9M465.5 330.5h.9M470 327h.9M475.5 330h.9M468.5 327h.9M471.5 322.5h.9M457.5 321.5h.9M463.5 325h.9M476 326h.9M478.5 327h.9M466.5 327.5h.9M475.5 328h.9M463.5 327.5h.9M483.5 325.5h.9M469.5 322.5h.9M474.5 322.5h.9M465 324.5h.9M468 327h.9M471 327h.9M467 322.5h.9M473.5 318h.9M462 327h.9M475 323.5h.9M460.5 328h.9M473 324.5h.9M473.5 322.5h.9M459.5 327h.9M460.5 328h.9M469 321.5h.9M464.5 326.5h.9M466.5 327.5h.9M470 322h.9M459 320.5h.9M477 321h.9M467.5 326h.9M481.5 321h.9M470 328.5h.9M475 327.5h.9M472 323.5h.9M477 324h.9M466.5 326h.9M488.5 328.5h.9M464 328h.9M479.5 331.5h.9M461 328h.9M484.5 327.5h.9M464 324h.9M466.5 328h.9M471.5 326.5h.9M469 322.5h.9M466 325h.9M471 327.5h.9M478.5 324h.9M467 328h.9M456 326h.9M477.5 323.5h.9M468.5 329h.9M473 324h.9M469 323.5h.9M468 330.5h.9M458 324h.9M478 327h.9M466.5 326h.9M466 320h.9M468 326.5h.9M468.5 323.5h.9M477 326h.9M465.5 328.5h.9M485.5 328.5h.9M461.5 323h.9M474 320.5h.9M467 326.5h.9M467 323h.9M470 324.5h.9M466.5 327.5h.9M479 328.5h.9M470.5 325.5h.9M472 326.5h.9M470 324.5h.9M473.5 330h.9M474 324h.9M474.5 328.5h.9M465 328h.9M466 327h.9M476 327h.9M477 324h.9M470.5 328.5h.9M467 329h.9M470 329h.9M471.5 326h.9M465.5 327.5h.9M459.5 326.5h.9M470 320h.9M473 324.5h.9M469 326h.9M482.5 326h.9M464.5 320.5h.9M478.5 322.5h.9M477 330.5h.9M465.5 320h.9M469.5 325h.9M459.5 326h.9M469.5 326.5h.9M480.5 324h.9M470 318.5h.9M479 325h.9M473.5 323.5h.9M466 323.5h.9M467 331.5h.9M467.5 329.5h.9M473 323.5h.9M484 329h.9M472 322.5h.9M467.5 323h.9M476 327h.9M469.5 330h.9M476 324.5h.9M474.5 324h.9M477.5 325.5h.9M469.5 323.5h.9M474 329.5h.9M471.5 329h.9M473.5 319.5h.9M475 324.5h.9M478.5 321h.9M468.5 328.5h.9M465 323h.9M469.5 323.5h.9M467 328.5h.9M475 322.5h.9M468.5 324.5h.9M465 329h.9M467.5 321h.9M478.5 326.5h.9M470 322.5h.9M463 323.5h.9M477.5 320h.9M456 328.5h.9M467.5 324h.9M463 323.5h.9M476.5 331h.9M463 323.5h.9M467 330h.9M463.5 326h.9M476 325.5h.9M466 327.5h.9M479 322.5h.9M469 319.5h.9M466 326h.9M479.5 320.5h.9M473 325h.9M464 326.5h.9M476.5 324h.9M470.5 329h.9M463 325.5h.9M471.5 325h.9M470 322h.9M472 331h.9M477.5 323.5h.9M475 325.5h.9M464.5 326h.9M466.5 325h.9M464 323.5h.9M458 324.5h.9M476.5 323h.9M476.5 323h.9M477.5 321h.9M457.5 322.5h.9M471 327.5h.9M461.5 328h.9M479.5 331h.9M468 324.5h.9M467 330.5h.9M478.5 325.5h.9M472.5 323h.9M466.5 328h.9M472.5 325h.9M459.5 327h.9M457 320h.9M469 319h.9M464.5 322.5h.9M475 324.5h.9M474.5 328.5h.9M481 329h.9M469 323h.9M480.5 326.5h.9M466.5 327h.9M481 323h.9M469.5 327.5h.9M460.5 325.5h.9M467.5 324.5h.9M473 328h.9M473.5 328h.9M463.5 320h.9M466 324.5h.9M473.5 325h.9M470.5 332h.9M464.5 324.5h.9M464 319.5h.9M471 329h.9M472 329h.9M471.5 321h.9M475 330h.9M480 327h.9M470.5 321.5h.9M475.5 326.5h.9M468.5 321.5h.9M476 326h.9M459.5 326h.9M473 324h.9M464.5 326h.9M462 324.5h.9M465 320.5h.9M463 326h.9M468.5 325.5h.9M460 326.5h.9M467 322.5h.9M472.5 326h.9M464 323.5h.9M477.5 330.5h.9M470 327.5h.9M464 324h.9M471.5 323h.9M459 329.5h.9M480 330h.9M466.5 327h.9M461.5 328h.9M459 326h.9M470.5 325.5h.9M479 327.5h.9M466 326.5h.9M479.5 326.5h.9M461 324h.9M472.5 324h.9M471 328.5h.9M466.5 322h.9M470 327.5h.9M474.5 327h.9M462 327.5h.9M472 331.5h.9M476.5 327h.9M476 321h.9M486 325.5h.9M462.5 326.5h.9M476 327h.9M474 325.5h.9M467 325.5h.9M467.5 325h.9M470.5 325h.9M473 325.5h.9M469.5 329h.9M472.5 324h.9M455.5 328.5h.9M474 326h.9M469.5 320h.9M485 327h.9M458.5 324.5h.9M476.5 327.5h.9M466.5 328.5h.9M465.5 322.5h.9M471 329h.9M465.5 322h.9M467.5 323h.9M470 324h.9M475 321h.9M465 321h.9M485.5 326.5h.9M467 326.5h.9M464 323.5h.9M481.5 323.5h.9M482 323.5h.9M473 305.5h.9M470 271.5h.9M473 313h.9M470 297.5h.9M471 285.5h.9M474.5 321h.9M468 293.5h.9M465 308h.9M482 285.5h.9M477 288h.9M469 302h.9M481.5 305h.9M473.5 299.5h.9M479.5 303h.9M463.5 270.5h.9M464 286.5h.9M484.5 303.5h.9M464.5 267.5h.9M473.5 278h.9M486 312h.9M478.5 300.5h.9M479 297h.9M464.5 281.5h.9M475 301.5h.9M476 265.5h.9M469 285h.9M483 281h.9M474 275h.9M483.5 296.5h.9M478.5 279.5h.9M470 290h.9M483 307.5h.9M478 284.5h.9M477 295h.9M471 302.5h.9M468 279.5h.9M467.5 268.5h.9M463 284h.9M466 311.5h.9M461 283.5h.9M464 278.5h.9M465 287h.9M471 308h.9M475 305.5h.9M468 274.5h.9M469.5 274.5h.9M459 283.5h.9M473 272h.9M480 282h.9M474.5 304h.9M473 287.5h.9M478 284h.9M474.5 265.5h.9M469 291.5h.9M471.5 266h.9M465.5 286.5h.9M482 285h.9M464.5 287h.9M465.5 276h.9M475.5 305.5h.9M475 305h.9M460 309h.9M470.5 265.5h.9M463.5 293.5h.9M470.5 275.5h.9M465 304.5h.9M478.5 270.5h.9M471 303h.9M467 286h.9M469.5 277.5h.9M479 288h.9M465 286.5h.9M483 268h.9M473.5 293h.9M474.5 287.5h.9M481 268h.9M468 274h.9M472 306.5h.9M458.5 265.5h.9M460.5 281.5h.9M471.5 276.5h.9M471 307h.9M479 285h.9M472.5 294h.9M481 292h.9M472.5 280.5h.9M465 283.5h.9M462.5 275.5h.9M476.5 267.5h.9M475 275.5h.9M479.5 280h.9M465.5 304h.9M476 294h.9M464 287.5h.9M470.5 277h.9M467 290h.9M478 294h.9M478 289.5h.9M481 305.5h.9M463 276.5h.9M480 287.5h.9M472 294.5h.9M461 304.5h.9M482.5 296h.9M474 270h.9M465 292h.9M469.5 273h.9M464.5 267.5h.9M474.5 290h.9M484 292.5h.9M470.5 300h.9M474 281.5h.9M478 300h.9M479 286.5h.9M465 275.5h.9M469 271.5h.9M471 289h.9M475.5 287.5h.9M466.5 273h.9M471 284.5h.9M477 296.5h.9M470.5 282.5h.9M478.5 272h.9M480.5 282.5h.9M475 290h.9M475 286.5h.9M479.5 267.5h.9M463 301.5h.9M472.5 267.5h.9M472.5 290.5h.9M479.5 270.5h.9M481 284.5h.9M470 295.5h.9M470 303.5h.9M489 281h.9M467 283h.9M467.5 293.5h.9M481 273.5h.9M472 303.5h.9M468.5 265h.9M463.5 275.5h.9M477.5 288h.9M481 301.5h.9M469 280.5h.9M471 298.5h.9M470 298.5h.9M474.5 267.5h.9M486.5 297h.9M478.5 264h.9M469.5 274h.9M464.5 282.5h.9M464 292h.9M464.5 297.5h.9M480 271h.9M475.5 305.5h.9M467 294h.9M456 268h.9M474 291.5h.9M459.5 281h.9M470 263.5h.9M472.5 294h.9M476 276.5h.9M474 303h.9M466 276.5h.9M465.5 289h.9M474 312.5h.9M480 292h.9M466.5 296.5h.9M478.5 282h.9M478 283h.9M468.5 271h.9M473 291.5h.9M471.5 283h.9M482 286h.9M476 291h.9M476 280.5h.9M471.5 273.5h.9M470.5 293.5h.9M456.5 281.5h.9M474 268.5h.9M459.5 289h.9M477 284.5h.9M474 287.5h.9M482 298.5h.9M471 279.5h.9M475.5 274.5h.9M473 278h.9M481.5 303h.9M481.5 290.5h.9M459.5 264.5h.9M470.5 290.5h.9M474 298h.9M470 304h.9M472 295.5h.9M472 279h.9M477 291h.9M471 299h.9M472.5 278h.9M474.5 292.5h.9M457.5 276h.9M472 276.5h.9M473.5 291h.9M469 284.5h.9M467 305h.9M462.5 285.5h.9M462.5 284.5h.9M462.5 296h.9M459.5 288.5h.9M468 274.5h.9M476.5 310.5h.9M478.5 283.5h.9M463 273.5h.9M479 267.5h.9M469.5 268.5h.9M469.5 269.5h.9M478 283h.9M465 291.5h.9M478 315.5h.9M469 278h.9M473.5 284h.9M473 281h.9M470.5 292h.9M455 279h.9M472 287h.9M488 294.5h.9M485.5 306h.9M473 266.5h.9M473 323h.9M467.5 291h.9M476 288.5h.9M469 285h.9M471 300.5h.9M465 284.5h.9M463 282h.9M471 285.5h.9M471.5 300h.9M477.5 282.5h.9M473.5 275.5h.9M478.5 271.5h.9M477 273.5h.9M461.5 312.5h.9M470.5 295.5h.9M468.5 288h.9M457 271h.9M482.5 273.5h.9M473.5 287.5h.9M487 297h.9M463 299h.9M471.5 288.5h.9M461 276h.9M459 274.5h.9M475 293.5h.9M470.5 265h.9M461.5 286h.9M475.5 290h.9M470.5 311h.9M472 296h.9M473 286.5h.9M461 279.5h.9M474.5 285.5h.9M479.5 281.5h.9M469.5 294h.9M471 277.5h.9M467.5 264h.9M465 296h.9M469.5 277h.9M483 283h.9M475 290h.9M478 303h.9M478 271.5h.9M466.5 272h.9M463 269.5h.9M457 280h.9M462 264h.9M468 288.5h.9M468 277.5h.9M461.5 266h.9M461 275h.9M482.5 300h.9M468.5 281.5h.9M463.5 282.5h.9M471 284h.9M462 278h.9M465.5 275h.9M470 274h.9M468 296.5h.9M463.5 293.5h.9M460 278h.9M461 275.5h.9M472 270h.9M476 292.5h.9M478 312.5h.9M475.5 304.5h.9M487 305.5h.9M477 299h.9M481 277h.9M468.5 282h.9M471 293.5h.9M471.5 284.5h.9M463.5 287h.9M473.5 290.5h.9M467.5 287h.9M466 288h.9M461.5 291h.9M469.5 267.5h.9M467.5 291h.9M479 294.5h.9M472 311.5h.9M471 286.5h.9M469 293h.9M471 300h.9M467 312h.9M466 295h.9M471.5 284h.9M464 281h.9M464.5 299.5h.9M474.5 266h.9M467 275h.9M477.5 306h.9M467.5 282h.9M471.5 290.5h.9M477.5 317.5h.9M475 286.5h.9M472.5 286.5h.9M473 283.5h.9M481 273h.9M479 286.5h.9M473 279h.9M469 300.5h.9M469 267h.9M475.5 294h.9M457.5 282h.9M477 284h.9M472.5 278h.9M464 290.5h.9M478 290.5h.9M466.5 292h.9M476 287h.9M467 270h.9M471.5 278.5h.9M472 277.5h.9M470.5 270h.9M475.5 276.5h.9M474 283.5h.9M474 295h.9M462.5 282h.9M467 282h.9M465.5 286h.9M467 278h.9M467 283h.9M463.5 293.5h.9M481 294h.9M464 277.5h.9M461.5 293h.9M476 281.5h.9M467 295h.9M472 293h.9M464 283.5h.9M475 283.5h.9M480.5 290.5h.9M477.5 280h.9M475.5 280.5h.9M466 296h.9M464 295h.9M475 281h.9M471 289h.9M466 315.5h.9M462.5 302.5h.9M458 272h.9M469.5 303h.9M461.5 304.5h.9M477 298.5h.9M471 274h.9M470.5 264h.9M477 283h.9M468.5 301h.9M462.5 263.5h.9M476.5 322.5h.9M483.5 298h.9M457.5 269.5h.9M469.5 276h.9M467 292h.9M472.5 290.5h.9M476 279.5h.9M461.5 276h.9M484 290h.9M462.5 299.5h.9M465 310h.9M469 284.5h.9M472.5 292.5h.9M469.5 304.5h.9M478.5 285h.9M468.5 289.5h.9M472 272.5h.9M477.5 293.5h.9M466.5 287h.9M471.5 295h.9M475 300.5h.9M462.5 270.5h.9M478 307h.9M466 285h.9M471 274.5h.9M475 293h.9M480 293h.9M470.5 291h.9M470.5 299h.9M461 286.5h.9M476 279.5h.9M469 290h.9M474.5 298h.9M468 270.5h.9M476 299.5h.9M462.5 292.5h.9M481.5 288.5h.9M465.5 293h.9M459.5 292.5h.9M457.5 286.5h.9M470 274.5h.9M472 267h.9M478.5 321h.9M469 307.5h.9M463 270h.9M467.5 302h.9M465.5 292.5h.9M462 285.5h.9M466.5 270.5h.9M473.5 297.5h.9M466 284h.9M475 276h.9M473 285.5h.9M467.5 283h.9M469.5 300h.9M472 272.5h.9M475.5 269.5h.9M463 292h.9M470 285h.9M465.5 298.5h.9M467.5 263.5h.9M486 307h.9M472 303.5h.9M465.5 291h.9M474.5 295h.9M462 269.5h.9M465 270.5h.9M471 265h.9M465 280h.9M468.5 280.5h.9M481 285h.9M470.5 269h.9M465.5 284h.9M468 285.5h.9M480 285h.9M481 283h.9M472 297.5h.9M468 300h.9M477.5 291h.9M474.5 283h.9M470 289.5h.9M481 290.5h.9M485 272h.9M472.5 263.5h.9M467 287.5h.9M466 292h.9M462.5 276.5h.9M460.5 294.5h.9M471.5 299.5h.9M470 290h.9M472.5 282.5h.9M462.5 271.5h.9M468.5 291.5h.9M470 283h.9M474 281h.9M476.5 300h.9M471 280h.9M474.5 277.5h.9M480.5 291.5h.9M466 284h.9M468.5 282.5h.9M470.5 305h.9M473.5 269.5h.9M474.5 285.5h.9M474 320h.9M463.5 289.5h.9M480 308.5h.9M472.5 285h.9M473.5 307h.9M478.5 270h.9M482.5 301.5h.9M462.5 299h.9M475.5 282h.9M468.5 301h.9M459 278h.9M467.5 292h.9M462 300h.9M467 293h.9M479 291h.9M463 284h.9M478 275h.9M468.5 292.5h.9M473 297h.9M470.5 290h.9M464 290.5h.9M475 277.5h.9M473.5 302h.9M481 277h.9M471 268.5h.9M478 288.5h.9M473.5 295.5h.9M471 311h.9M466 301h.9M472 303.5h.9M484.5 288.5h.9M462 290h.9M466.5 272.5h.9M471.5 330h.9M458 297h.9M478.5 309.5h.9M467.5 299.5h.9M464.5 291h.9M471 300.5h.9M466.5 275.5h.9M458 266h.9M473 281h.9M483 301h.9M467 272h.9M479 293h.9M475 288h.9M463 286h.9M462.5 283h.9M478 307h.9M470 280h.9M487.5 302h.9M475.5 296h.9M477.5 289h.9M475.5 288h.9M480.5 293.5h.9M468.5 270.5h.9M467.5 297.5h.9M466 297h.9M463.5 302h.9M468.5 278.5h.9M461.5 282.5h.9M469.5 299.5h.9M463.5 294.5h.9M480 278h.9M463 279.5h.9M477 284h.9M476 313.5h.9M467 273h.9M480.5 299h.9M475.5 297h.9M469 274.5h.9M469 272h.9M468.5 289h.9M478 292.5h.9M469 269.5h.9M465.5 275.5h.9M477.5 282.5h.9M481.5 282.5h.9M480 270.5h.9M482.5 297h.9M467.5 270h.9M476.5 299h.9M477.5 288h.9M475.5 298h.9M473.5 274.5h.9M473.5 306h.9M479 290.5h.9M475.5 282.5h.9M481 311.5h.9M475.5 288h.9M464 289h.9M473.5 298h.9M460 285.5h.9M464.5 305h.9M462.5 279h.9M470.5 310.5h.9M477.5 285.5h.9M477 266.5h.9M466.5 274.5h.9M486.5 272h.9M477 265.5h.9M482 269h.9M464 264h.9M458.5 312.5h.9M467 282h.9M464.5 310h.9M485.5 277.5h.9M482 267.5h.9M486 292h.9M465 314h.9M471.5 302h.9M486 307.5h.9M486 301.5h.9M459 294.5h.9M461.5 291h.9M480 297h.9M474.5 296h.9M458.5 313.5h.9M487 279h.9M467.5 298h.9M484 304h.9M471 281h.9M465.5 293.5h.9M481.5 282h.9M472.5 273.5h.9M458 289.5h.9M476.5 306h.9M471 290.5h.9M480.5 279.5h.9M455.5 299h.9M487 266.5h.9M479 265h.9M484.5 271h.9M474 282.5h.9M480.5 314.5h.9M467.5 287h.9M484 306h.9M485 305h.9M464.5 301.5h.9M458 274h.9M462.5 282h.9M462.5 297h.9M466.5 280h.9M458.5 277.5h.9M457.5 291h.9M462.5 315h.9M458.5 270h.9M478.5 300.5h.9" stroke="#000" stroke-opacity="0.55" stroke-width=".9" fill="none"/>
<path d="M472 322h.9M459 323.5h.9M466 325.5h.9M475 330.5h.9M470.5 330h.9M460 326h.9M470 327h.9M458.5 324h.9M460.5 323h.9M463.5 327h.9M457.5 320h.9M467 326h.9M471 325.5h.9M476 326h.9M455.5 324.5h.9M465.5 325h.9M470 326h.9M476.5 324.5h.9M473.5 330h.9M471 328h.9M459 327.5h.9M463 322.5h.9M474 328.5h.9M463 320h.9M478 329h.9M478.5 325.5h.9M461.5 323h.9M469.5 328.5h.9M463 323.5h.9M469.5 326.5h.9M470.5 331h.9M474.5 323.5h.9M477 328.5h.9M463.5 324.5h.9M473.5 324h.9M472 321h.9M465.5 323.5h.9M474 318.5h.9M478.5 323h.9M462.5 321.5h.9M477 326h.9M474 329.5h.9M457.5 324h.9M470 324.5h.9M462 328.5h.9M476 329.5h.9M465.5 325h.9M474.5 332h.9M488 326h.9M467.5 320h.9M466 327.5h.9M478 327.5h.9M475.5 324.5h.9M481.5 319h.9M477 324h.9M470.5 320.5h.9M469 324.5h.9M478.5 323.5h.9M471 325h.9M465.5 325.5h.9M470 323h.9M458 328h.9M467.5 325h.9M473.5 324.5h.9M474 331.5h.9M470 325.5h.9M482 325h.9M475 325h.9M462 328h.9M468 326.5h.9M473 326.5h.9M468 324.5h.9M477 323h.9M475.5 328.5h.9M473 324h.9M462.5 319h.9M463 322.5h.9M482 324h.9M470.5 324.5h.9M459 330h.9M460.5 325.5h.9M469 325.5h.9M465.5 329h.9M466 326.5h.9M475.5 324.5h.9M478.5 327h.9M465 329.5h.9M472.5 326h.9M469 324h.9M470 328.5h.9M478 323h.9M471 328.5h.9M470 323h.9M476 320h.9M463 326h.9M461.5 325.5h.9M477.5 323.5h.9M478.5 323h.9M467 329h.9M467 327h.9M468.5 329.5h.9M472 327.5h.9M469.5 322h.9M472.5 324h.9M468 328h.9M467 318h.9M479 326h.9M479.5 324.5h.9M466.5 327h.9M456 323h.9M468.5 322.5h.9M470 327.5h.9M465 323.5h.9M473.5 321h.9M467 324h.9M471 323.5h.9M466 328h.9M473.5 329h.9M473.5 331h.9M467 330h.9M474 326.5h.9M463.5 327.5h.9M464 320.5h.9M467.5 319.5h.9M462 326.5h.9M474 327h.9M470 323.5h.9M465.5 323.5h.9M476.5 330.5h.9M473 320.5h.9M460 326.5h.9M472 323.5h.9M472.5 326h.9M479 323h.9M458.5 322.5h.9M467.5 325.5h.9M463.5 327.5h.9M481 325h.9M475.5 323h.9M461 323.5h.9M475.5 327h.9M457 323h.9M476 326.5h.9M477.5 327.5h.9M468.5 325h.9M482.5 326h.9M462 325.5h.9M461 321.5h.9M470 327h.9M470.5 326.5h.9M461.5 331.5h.9M466 326.5h.9M473.5 325.5h.9M469 323h.9M468.5 325h.9M470.5 327h.9M466 327.5h.9M470 319.5h.9M478 326.5h.9M462.5 330h.9M455.5 323h.9M470 331.5h.9M470.5 327.5h.9M471 325h.9M478 325.5h.9M480.5 327h.9M456.5 326.5h.9M470.5 327h.9M474 323h.9M465 323.5h.9M474 329.5h.9M475.5 325.5h.9M467 323h.9M458 325.5h.9M463.5 324.5h.9M464 320.5h.9M466 326.5h.9M479.5 323.5h.9M479 327h.9M474.5 323.5h.9M463.5 323.5h.9M478.5 329h.9M467.5 319.5h.9M460.5 325h.9M465.5 324.5h.9M486 328h.9M465 331.5h.9M480.5 329.5h.9M474.5 316h.9M465 326.5h.9M479 325.5h.9M480.5 328h.9M471 328.5h.9M472 329h.9M456.5 318h.9M460.5 325h.9M472 327h.9M482 332h.9M469 330h.9M476 329h.9M472 327h.9M470.5 325.5h.9M467.5 288h.9M470.5 299h.9M476 299h.9M466 290.5h.9M469.5 292.5h.9M468 298h.9M469.5 268.5h.9M476.5 270.5h.9M464 272h.9M481 271.5h.9M479 285h.9M471.5 291h.9M470 279h.9M465 303.5h.9M471 296h.9M476.5 270h.9M476 295h.9M470 276.5h.9M482 288h.9M471 272.5h.9M470.5 309.5h.9M472 298.5h.9M461.5 273h.9M467.5 279h.9M484 274h.9M463.5 273.5h.9M470.5 272.5h.9M473 292h.9M481.5 303h.9M466 294h.9M476 295.5h.9M463.5 272.5h.9M477 267.5h.9M468.5 274.5h.9M479.5 303h.9M477.5 281h.9M482 308.5h.9M470.5 300.5h.9M483.5 275h.9M466 298h.9M469.5 296h.9M468.5 285h.9M471.5 285h.9M473.5 275.5h.9M467.5 277h.9M481.5 278h.9M482 321h.9M467 285h.9M463 306.5h.9M474 303.5h.9M483.5 298.5h.9M476 301h.9M474.5 293.5h.9M474.5 274h.9M467.5 291h.9M464.5 287.5h.9M468.5 287.5h.9M477.5 297.5h.9M480.5 283.5h.9M479 290.5h.9M466 295h.9M468.5 298h.9M466 270h.9M474.5 297h.9M469 302h.9M468 308.5h.9M459.5 263h.9M461 306h.9M470.5 270h.9M474.5 270h.9M476 294.5h.9M467.5 291h.9M469 273h.9M469.5 295h.9M465.5 266h.9M469 280.5h.9M454 293h.9M478.5 320h.9M475 287h.9M461 293.5h.9M468 281.5h.9M475 288h.9M490 290h.9M477.5 295h.9M467 282.5h.9M467.5 279h.9M479.5 289h.9M468.5 301.5h.9M473 276.5h.9M467.5 305h.9M476.5 277h.9M463 285h.9M468 281h.9M474.5 290.5h.9M464 301.5h.9M474 287.5h.9M481.5 306.5h.9M478 275.5h.9M477 273h.9M473 285.5h.9M469 298.5h.9M465.5 276.5h.9M473.5 277.5h.9M485.5 288.5h.9M474 297h.9M472.5 272h.9M466.5 271.5h.9M474 305h.9M460 281h.9M474.5 293.5h.9M470.5 292.5h.9M477.5 280h.9M472.5 290h.9M473.5 295.5h.9M469 292h.9M473 288h.9M469 281.5h.9M462 306.5h.9M466 272.5h.9M473 263h.9M464 289h.9M478.5 314.5h.9M469 289.5h.9M476 300.5h.9M469 281.5h.9M474 281h.9M466 298.5h.9M478.5 316h.9M474.5 300h.9M470 303h.9M464.5 279h.9M468.5 285.5h.9M475.5 292h.9M471.5 279.5h.9M478 286.5h.9M477 300h.9M464 280.5h.9M460.5 299h.9M468 286.5h.9M468 292h.9M462 296h.9M476 282h.9M480 270h.9M469 284h.9M465 292h.9M472.5 279h.9M468.5 265.5h.9M472 287.5h.9M469 307.5h.9M467 295h.9M468 297h.9M481.5 276h.9M472 264h.9M454.5 294.5h.9M464.5 298h.9M479 300.5h.9M470.5 288h.9M485 270.5h.9M486.5 298.5h.9M476 270.5h.9M481 288.5h.9M456 273h.9M471.5 291h.9M487.5 285h.9M472.5 289h.9M478.5 270.5h.9M469 279h.9M467 311.5h.9M469 295h.9M469.5 284h.9M472.5 287h.9M465 283.5h.9M472.5 295h.9M457.5 288h.9M475.5 270.5h.9M464.5 284h.9M480 286h.9M470 276h.9M473.5 281h.9M463.5 293.5h.9M479 289h.9M484.5 298.5h.9M481.5 289.5h.9M466 281.5h.9M472.5 269h.9M472 288h.9M473.5 292h.9M474 293.5h.9M477 299h.9M479 290h.9M476 301.5h.9M468.5 288.5h.9M468.5 294h.9M458.5 287.5h.9M475.5 284h.9M474.5 304h.9M460 301h.9M481 284.5h.9M468 296h.9M469.5 293.5h.9M462.5 267.5h.9M465 282h.9M467 271.5h.9M465.5 275.5h.9M466 276.5h.9M484 272h.9M474.5 315h.9M478.5 272.5h.9M471 282.5h.9M471.5 278h.9M475 294.5h.9M481.5 289h.9M471.5 276h.9M477.5 265h.9M472 289h.9M462.5 288.5h.9M471 299h.9M462.5 280h.9M476.5 286h.9M472.5 290h.9M470 275h.9M468.5 284h.9M475.5 287.5h.9M469 291.5h.9M472.5 264.5h.9M481 303.5h.9M479 303.5h.9M469.5 297.5h.9M471.5 276h.9M460 274.5h.9M471.5 317h.9M463.5 277h.9M467 278h.9M475.5 291.5h.9M470.5 304.5h.9M471 287h.9M480.5 285.5h.9M479.5 290.5h.9M465 306.5h.9M466 293h.9M478.5 279.5h.9M474.5 287h.9M484 275h.9M479 292h.9M469.5 283h.9M472 289.5h.9M473 277h.9M470 297.5h.9M469 286h.9M476 276.5h.9M473.5 271h.9M469 301.5h.9M465.5 268.5h.9M468.5 269h.9M466.5 283h.9M476 286h.9M470 302h.9M473.5 282.5h.9M474.5 294h.9M466 295.5h.9M465.5 279h.9M471 263.5h.9M471 280h.9M464.5 287h.9M478 283h.9M465.5 283.5h.9M474 299h.9M468 310h.9M467 291.5h.9M463 297h.9M465 286h.9M475 276h.9M463.5 267.5h.9M465.5 301h.9M466 284h.9M469 313.5h.9M465 290.5h.9M477.5 281h.9M464.5 265.5h.9M478.5 272h.9M465 301h.9M467.5 302h.9M459 299.5h.9M475.5 291.5h.9M460.5 288h.9M480 281h.9M468 306.5h.9M466.5 274.5h.9M474.5 287h.9M470.5 282.5h.9M476 275.5h.9M469 304h.9M470.5 285h.9M464.5 283h.9M474 303.5h.9M478.5 283h.9M469.5 277h.9M460.5 317.5h.9M482 303h.9M456.5 317h.9M471.5 297h.9M481.5 304.5h.9M471.5 264.5h.9M487 280.5h.9M460 263.5h.9" stroke="#000" stroke-opacity="0.35" stroke-width=".9" fill="none"/>
<text transform="translate(492.8 271) scale(0.92 1)" font-size="14.8" font-weight="bold" font-style="normal" fill="#111" stroke="#111" stroke-width="0.4" text-anchor="middle">52.4%</text>
<text transform="translate(413.3 293.5) rotate(-90)" font-size="16.9" font-weight="bold" font-style="normal" fill="#111" stroke="#111" stroke-width="0.4" text-anchor="middle">CD36</text>
<text transform="translate(470.4 365.6) scale(0.96 1)" font-size="16.7" font-weight="bold" font-style="normal" fill="#111" stroke="#111" stroke-width="0.4" text-anchor="middle">CD34</text>
<rect x="78.7" y="381" width="93.7" height="74.2" fill="#fff" stroke="#4a4a4a" stroke-width="0.9"/>
<path d="M79.1 455.2L79.1 425.8L79.8 436L80.5 449.3L81.2 449.3L81.9 449.7L82.6 447.4L83.3 444.6L84 441.5L84.7 438.1L85.4 435L86.1 431.7L86.8 427.8L87.5 426.6L88.2 422.9L88.9 415.3L89.6 410.5L90.3 403.8L91 400.3L91.7 399.6L92.4 390L93.1 386.5L93.8 383.7L94.5 385L95.2 386L95.9 391.9L96.6 394.2L97.3 403.4L98 408.7L98.7 419.9L99.4 425.3L100.1 432.5L100.8 440.2L101.5 445.3L102.2 450.2L102.9 451L103.6 452.2L104.3 453L105 452.9L105.7 453.5L106.4 454.4L107.1 453.9L107.8 454L108.5 453.6L109.2 454.9L109.9 454.5L110.6 454.4L111.3 453.8L112 455L112.7 455.2L113.4 455.2L114.1 454.6L114.8 454.4L115.5 454.1L116.2 454.8L116.9 455.2L117.6 454.7L118.3 455.2L118.3 455.2Z" fill="#7f7f7f" stroke="#161616" stroke-width="1.2" stroke-linejoin="round"/>
<path d="M102.4 381V455.2M102.4 440.9H172.4" stroke="#404040" stroke-width="1" fill="none"/>
<path d="M78.7 381V455.2" stroke="#151515" stroke-width="1.3" fill="none"/>
<path d="M78.7 455.2H172.4" stroke="#2a2a2a" stroke-width="1.1" fill="none"/>
<path d="M92.8 455.2v4.8M116.2 455.2v4.8M139.6 455.2v4.8M163 455.2v4.8M80.6 455.2v3.0M83.5 455.2v3.0M85.8 455.2v3.0M87.6 455.2v3.0M89.2 455.2v3.0M90.5 455.2v3.0M91.7 455.2v3.0M99.8 455.2v3.0M104 455.2v3.0M106.9 455.2v3.0M109.2 455.2v3.0M111 455.2v3.0M112.6 455.2v3.0M113.9 455.2v3.0M115.1 455.2v3.0M123.2 455.2v3.0M127.4 455.2v3.0M130.3 455.2v3.0M132.6 455.2v3.0M134.4 455.2v3.0M136 455.2v3.0M137.3 455.2v3.0M138.5 455.2v3.0M146.6 455.2v3.0M150.8 455.2v3.0M153.7 455.2v3.0M156 455.2v3.0M157.8 455.2v3.0M159.4 455.2v3.0M160.7 455.2v3.0M161.9 455.2v3.0M170 455.2v3.0M78.7 455.2h-4.6M78.7 452.4h-3M78.7 449.6h-3M78.7 446.9h-3M78.7 444.1h-3M78.7 441.3h-4.6M78.7 438.5h-3M78.7 435.7h-3M78.7 433h-3M78.7 430.2h-3M78.7 427.4h-4.6M78.7 424.6h-3M78.7 421.9h-3M78.7 419.1h-3M78.7 416.3h-3M78.7 413.5h-4.6M78.7 410.7h-3M78.7 408h-3M78.7 405.2h-3M78.7 402.4h-3M78.7 399.6h-4.6M78.7 396.8h-3M78.7 394.1h-3M78.7 391.3h-3M78.7 388.5h-3M78.7 385.7h-4.6M78.7 382.9h-3" stroke="#111" stroke-width="1.05" fill="none"/>
<text transform="translate(93.4 469.4) scale(0.9 1)" font-size="7.0" fill="#111" stroke="#111" stroke-width="0.2" text-anchor="middle">10<tspan dy="-3.2" font-size="5">2</tspan></text>
<text transform="translate(116.8 469.4) scale(0.9 1)" font-size="7.0" fill="#111" stroke="#111" stroke-width="0.2" text-anchor="middle">10<tspan dy="-3.2" font-size="5">3</tspan></text>
<text transform="translate(140.2 469.4) scale(0.9 1)" font-size="7.0" fill="#111" stroke="#111" stroke-width="0.2" text-anchor="middle">10<tspan dy="-3.2" font-size="5">4</tspan></text>
<text transform="translate(163.6 469.4) scale(0.9 1)" font-size="7.0" fill="#111" stroke="#111" stroke-width="0.2" text-anchor="middle">10<tspan dy="-3.2" font-size="5">5</tspan></text>
<text transform="translate(74.1 455.2) scale(0.9 1) rotate(-90)" font-size="6.9" fill="#111" stroke="#111" stroke-width="0.15" text-anchor="middle">0</text>
<text transform="translate(74.1 441.3) scale(0.9 1) rotate(-90)" font-size="6.9" fill="#111" stroke="#111" stroke-width="0.15" text-anchor="middle">50</text>
<text transform="translate(74.1 427.4) scale(0.9 1) rotate(-90)" font-size="6.9" fill="#111" stroke="#111" stroke-width="0.15" text-anchor="middle">100</text>
<text transform="translate(74.1 413.5) scale(0.9 1) rotate(-90)" font-size="6.9" fill="#111" stroke="#111" stroke-width="0.15" text-anchor="middle">150</text>
<text transform="translate(74.1 399.6) scale(0.9 1) rotate(-90)" font-size="6.9" fill="#111" stroke="#111" stroke-width="0.15" text-anchor="middle">200</text>
<text transform="translate(74.1 385.7) scale(0.9 1) rotate(-90)" font-size="6.9" fill="#111" stroke="#111" stroke-width="0.15" text-anchor="middle">250</text>
<text transform="translate(64.9 418.6) scale(0.9 1) rotate(-90)" font-size="9" fill="#2a2a2a" stroke="#2a2a2a" stroke-width="0.2" text-anchor="middle">Count</text>
<text transform="translate(155 398.4) scale(0.92 1)" font-size="14.8" font-weight="bold" font-style="normal" fill="#111" stroke="#111" stroke-width="0.4" text-anchor="middle">2.0%</text>
<text transform="translate(113.3 484.2) scale(0.96 1)" font-size="16.7" font-weight="bold" font-style="normal" fill="#111" stroke="#111" stroke-width="0.4" text-anchor="middle">CD14</text>
<rect x="226.8" y="381.4" width="98.4" height="73.5" fill="#fff" stroke="#4a4a4a" stroke-width="0.9"/>
<path d="M228.1 454.9L228.1 428.8L228.8 428.3L229.5 447.6L230.2 449.4L230.9 449.6L231.6 448.2L232.3 445.1L233 442.3L233.7 440.1L234.4 437.6L235.1 433.9L235.8 429.2L236.5 423.8L237.2 421.7L237.9 416.4L238.6 415.3L239.3 411.2L240 408.2L240.7 403.1L241.4 396.6L242.1 391.1L242.8 390.9L243.5 383.1L244.2 385.6L244.9 391.5L245.6 397.1L246.3 399.2L247 408.2L247.7 417.5L248.4 425.4L249.1 428.7L249.8 438.3L250.5 441.9L251.2 447.1L251.9 450.8L252.6 451.3L253.3 452.1L254 452.8L254.7 452.8L255.4 454L256.1 453L256.8 453.3L257.5 454L258.2 453.8L258.9 454.1L259.6 454L260.3 453.7L261 454.4L261.7 453.9L262.4 453.9L263.1 454.1L263.8 453.8L264.5 454.6L265.2 454.3L265.9 453.7L266.6 454.8L267.3 454.9L267.3 454.9Z" fill="#7f7f7f" stroke="#161616" stroke-width="1.2" stroke-linejoin="round"/>
<path d="M251.7 381.4V454.9M251.7 440.6H325.2" stroke="#404040" stroke-width="1" fill="none"/>
<path d="M226.8 381.4V454.9" stroke="#151515" stroke-width="1.3" fill="none"/>
<path d="M226.8 454.9H325.2" stroke="#2a2a2a" stroke-width="1.1" fill="none"/>
<path d="M242.2 454.9v4.8M266.5 454.9v4.8M290.8 454.9v4.8M315.1 454.9v4.8M229.5 454.9v3.0M232.5 454.9v3.0M234.9 454.9v3.0M236.8 454.9v3.0M238.4 454.9v3.0M239.8 454.9v3.0M241.1 454.9v3.0M249.5 454.9v3.0M253.8 454.9v3.0M256.8 454.9v3.0M259.2 454.9v3.0M261.1 454.9v3.0M262.7 454.9v3.0M264.1 454.9v3.0M265.4 454.9v3.0M273.8 454.9v3.0M278.1 454.9v3.0M281.1 454.9v3.0M283.5 454.9v3.0M285.4 454.9v3.0M287 454.9v3.0M288.4 454.9v3.0M289.7 454.9v3.0M298.1 454.9v3.0M302.4 454.9v3.0M305.4 454.9v3.0M307.8 454.9v3.0M309.7 454.9v3.0M311.3 454.9v3.0M312.7 454.9v3.0M314 454.9v3.0M322.4 454.9v3.0M226.8 454.9h-4.6M226.8 452.1h-3M226.8 449.4h-3M226.8 446.6h-3M226.8 443.9h-3M226.8 441.1h-4.6M226.8 438.4h-3M226.8 435.6h-3M226.8 432.9h-3M226.8 430.1h-3M226.8 427.4h-4.6M226.8 424.6h-3M226.8 421.9h-3M226.8 419.1h-3M226.8 416.4h-3M226.8 413.6h-4.6M226.8 410.9h-3M226.8 408.1h-3M226.8 405.3h-3M226.8 402.6h-3M226.8 399.8h-4.6M226.8 397.1h-3M226.8 394.3h-3M226.8 391.6h-3M226.8 388.8h-3M226.8 386.1h-4.6M226.8 383.3h-3" stroke="#111" stroke-width="1.05" fill="none"/>
<text transform="translate(242.8 469.1) scale(0.9 1)" font-size="7.0" fill="#111" stroke="#111" stroke-width="0.2" text-anchor="middle">10<tspan dy="-3.2" font-size="5">2</tspan></text>
<text transform="translate(267.1 469.1) scale(0.9 1)" font-size="7.0" fill="#111" stroke="#111" stroke-width="0.2" text-anchor="middle">10<tspan dy="-3.2" font-size="5">3</tspan></text>
<text transform="translate(291.4 469.1) scale(0.9 1)" font-size="7.0" fill="#111" stroke="#111" stroke-width="0.2" text-anchor="middle">10<tspan dy="-3.2" font-size="5">4</tspan></text>
<text transform="translate(315.7 469.1) scale(0.9 1)" font-size="7.0" fill="#111" stroke="#111" stroke-width="0.2" text-anchor="middle">10<tspan dy="-3.2" font-size="5">5</tspan></text>
<text transform="translate(222.2 454.9) scale(0.9 1) rotate(-90)" font-size="6.9" fill="#111" stroke="#111" stroke-width="0.15" text-anchor="middle">0</text>
<text transform="translate(222.2 441.1) scale(0.9 1) rotate(-90)" font-size="6.9" fill="#111" stroke="#111" stroke-width="0.15" text-anchor="middle">50</text>
<text transform="translate(222.2 427.4) scale(0.9 1) rotate(-90)" font-size="6.9" fill="#111" stroke="#111" stroke-width="0.15" text-anchor="middle">100</text>
<text transform="translate(222.2 413.6) scale(0.9 1) rotate(-90)" font-size="6.9" fill="#111" stroke="#111" stroke-width="0.15" text-anchor="middle">150</text>
<text transform="translate(222.2 399.8) scale(0.9 1) rotate(-90)" font-size="6.9" fill="#111" stroke="#111" stroke-width="0.15" text-anchor="middle">200</text>
<text transform="translate(222.2 386.1) scale(0.9 1) rotate(-90)" font-size="6.9" fill="#111" stroke="#111" stroke-width="0.15" text-anchor="middle">250</text>
<text transform="translate(213 418.6) scale(0.9 1) rotate(-90)" font-size="9" fill="#2a2a2a" stroke="#2a2a2a" stroke-width="0.2" text-anchor="middle">Count</text>
<text transform="translate(306.3 399) scale(0.92 1)" font-size="14.8" font-weight="bold" font-style="normal" fill="#111" stroke="#111" stroke-width="0.4" text-anchor="middle">1.8%</text>
<text transform="translate(271.8 484.2) scale(0.96 1)" font-size="16.7" font-weight="bold" font-style="normal" fill="#111" stroke="#111" stroke-width="0.4" text-anchor="middle">CD15</text>
<rect x="377.4" y="382" width="93.9" height="72.5" fill="#fff" stroke="#4a4a4a" stroke-width="0.9"/>
<path d="M378.5 454.5L378.5 422L379.2 422.7L379.9 448.8L380.6 450.1L381.3 449.9L382 447.9L382.7 444.4L383.4 441.6L384.1 441.1L384.8 436.9L385.5 434.6L386.2 431.9L386.9 428.5L387.6 424.1L388.3 421.8L389 416.2L389.7 412.8L390.4 408.6L391.1 402.2L391.8 397.2L392.5 394.7L393.2 391.4L393.9 386.1L394.6 390.3L395.3 396.5L396 395L396.7 394.8L397.4 406.3L398.1 414.3L398.8 417.9L399.5 430.2L400.2 437.7L400.9 442.7L401.6 445.7L402.3 449.3L403 451.2L403.7 451.1L404.4 451.9L405.1 452.8L405.8 453L406.5 453.3L407.2 453.2L407.9 453L408.6 453.6L409.3 454L410 453.2L410.7 453.9L411.4 453.8L412.1 453.9L412.8 454.2L413.5 453.8L414.2 454.3L414.9 454.2L415.6 454.5L416.3 454.5L417 454.5L417.7 453.7L417.7 454.5Z" fill="#7f7f7f" stroke="#161616" stroke-width="1.2" stroke-linejoin="round"/>
<path d="M401.3 382V454.5M401.3 442.5H471.3" stroke="#404040" stroke-width="1" fill="none"/>
<path d="M377.4 382V454.5" stroke="#151515" stroke-width="1.3" fill="none"/>
<path d="M377.4 454.5H471.3" stroke="#2a2a2a" stroke-width="1.1" fill="none"/>
<path d="M391.3 454.5v4.8M414.9 454.5v4.8M438.5 454.5v4.8M462.1 454.5v4.8M379 454.5v3.0M381.9 454.5v3.0M384.2 454.5v3.0M386.1 454.5v3.0M387.6 454.5v3.0M389 454.5v3.0M390.2 454.5v3.0M398.4 454.5v3.0M402.6 454.5v3.0M405.5 454.5v3.0M407.8 454.5v3.0M409.7 454.5v3.0M411.2 454.5v3.0M412.6 454.5v3.0M413.8 454.5v3.0M422 454.5v3.0M426.2 454.5v3.0M429.1 454.5v3.0M431.4 454.5v3.0M433.3 454.5v3.0M434.8 454.5v3.0M436.2 454.5v3.0M437.4 454.5v3.0M445.6 454.5v3.0M449.8 454.5v3.0M452.7 454.5v3.0M455 454.5v3.0M456.9 454.5v3.0M458.4 454.5v3.0M459.8 454.5v3.0M461 454.5v3.0M469.2 454.5v3.0M377.4 454.5h-4.6M377.4 451.8h-3M377.4 449.1h-3M377.4 446.4h-3M377.4 443.6h-3M377.4 440.9h-4.6M377.4 438.2h-3M377.4 435.5h-3M377.4 432.8h-3M377.4 430.1h-3M377.4 427.3h-4.6M377.4 424.6h-3M377.4 421.9h-3M377.4 419.2h-3M377.4 416.5h-3M377.4 413.8h-4.6M377.4 411.1h-3M377.4 408.3h-3M377.4 405.6h-3M377.4 402.9h-3M377.4 400.2h-4.6M377.4 397.5h-3M377.4 394.8h-3M377.4 392h-3M377.4 389.3h-3M377.4 386.6h-4.6M377.4 383.9h-3" stroke="#111" stroke-width="1.05" fill="none"/>
<text transform="translate(391.9 468.7) scale(0.9 1)" font-size="7.0" fill="#111" stroke="#111" stroke-width="0.2" text-anchor="middle">10<tspan dy="-3.2" font-size="5">2</tspan></text>
<text transform="translate(415.5 468.7) scale(0.9 1)" font-size="7.0" fill="#111" stroke="#111" stroke-width="0.2" text-anchor="middle">10<tspan dy="-3.2" font-size="5">3</tspan></text>
<text transform="translate(439.1 468.7) scale(0.9 1)" font-size="7.0" fill="#111" stroke="#111" stroke-width="0.2" text-anchor="middle">10<tspan dy="-3.2" font-size="5">4</tspan></text>
<text transform="translate(462.7 468.7) scale(0.9 1)" font-size="7.0" fill="#111" stroke="#111" stroke-width="0.2" text-anchor="middle">10<tspan dy="-3.2" font-size="5">5</tspan></text>
<text transform="translate(372.8 454.5) scale(0.9 1) rotate(-90)" font-size="6.9" fill="#111" stroke="#111" stroke-width="0.15" text-anchor="middle">0</text>
<text transform="translate(372.8 440.9) scale(0.9 1) rotate(-90)" font-size="6.9" fill="#111" stroke="#111" stroke-width="0.15" text-anchor="middle">50</text>
<text transform="translate(372.8 427.3) scale(0.9 1) rotate(-90)" font-size="6.9" fill="#111" stroke="#111" stroke-width="0.15" text-anchor="middle">100</text>
<text transform="translate(372.8 413.8) scale(0.9 1) rotate(-90)" font-size="6.9" fill="#111" stroke="#111" stroke-width="0.15" text-anchor="middle">150</text>
<text transform="translate(372.8 400.2) scale(0.9 1) rotate(-90)" font-size="6.9" fill="#111" stroke="#111" stroke-width="0.15" text-anchor="middle">200</text>
<text transform="translate(372.8 386.6) scale(0.9 1) rotate(-90)" font-size="6.9" fill="#111" stroke="#111" stroke-width="0.15" text-anchor="middle">250</text>
<text transform="translate(363.6 418.8) scale(0.9 1) rotate(-90)" font-size="9" fill="#2a2a2a" stroke="#2a2a2a" stroke-width="0.2" text-anchor="middle">Count</text>
<text transform="translate(453 398.8) scale(0.92 1)" font-size="14.8" font-weight="bold" font-style="normal" fill="#111" stroke="#111" stroke-width="0.4" text-anchor="middle">2.8%</text>
<text transform="translate(425.4 484.5) scale(0.96 1)" font-size="16.7" font-weight="bold" font-style="normal" fill="#111" stroke="#111" stroke-width="0.4" text-anchor="middle">CD19</text>
<path d="M67.1 505.4H229.2M67.1 592.1H229.2M67.1 679H229.2" stroke="#9c9c9c" stroke-width="1" fill="none"/>
<path d="M69.9 505.4V679" stroke="#9c9c9c" stroke-width="1.1" fill="none"/>
<rect x="81.6" y="592.1" width="15.4" height="7" fill="#a8a8a8" stroke="#2a2a2a" stroke-width="1.0"/>
<path d="M89.3 599.1V587.7M86.9 587.7H91.7" stroke="#262626" stroke-width="1.1" fill="none"/>
<rect x="97" y="563.5" width="15.3" height="28.6" fill="#565656" stroke="#2a2a2a" stroke-width="1.0"/>
<path d="M104.7 563.5V557.9M102.2 557.9H107.1" stroke="#262626" stroke-width="1.1" fill="none"/>
<rect x="134.8" y="592.1" width="15.5" height="38.9" fill="#a8a8a8" stroke="#2a2a2a" stroke-width="1.0"/>
<path d="M142.6 631V621.3M140.2 621.3H145" stroke="#262626" stroke-width="1.1" fill="none"/>
<rect x="150.3" y="542.8" width="15" height="49.3" fill="#565656" stroke="#2a2a2a" stroke-width="1.0"/>
<path d="M157.8 542.8V532.4M155.4 532.4H160.2" stroke="#262626" stroke-width="1.1" fill="none"/>
<rect x="187.8" y="592.1" width="15.5" height="2.9" fill="#a8a8a8" stroke="#2a2a2a" stroke-width="1.0"/>
<path d="M195.6 595V583.3M193.2 583.3H198" stroke="#262626" stroke-width="1.1" fill="none"/>
<rect x="203.3" y="536.5" width="14.9" height="55.6" fill="#565656" stroke="#2a2a2a" stroke-width="1.0"/>
<path d="M210.8 536.5V527.1M208.3 527.1H213.2" stroke="#262626" stroke-width="1.1" fill="none"/>
<text transform="translate(96.1 668.8) scale(1.03 1)" font-size="12.5" font-weight="bold" font-style="italic" fill="#111" stroke="#111" stroke-width="0.3" text-anchor="middle">Bmi1</text>
<text transform="translate(150 668.8) scale(1.03 1)" font-size="12.5" font-weight="bold" font-style="italic" fill="#111" stroke="#111" stroke-width="0.3" text-anchor="middle">Dnmt1</text>
<text transform="translate(206.6 668.8) scale(1.03 1)" font-size="12.5" font-weight="bold" font-style="italic" fill="#111" stroke="#111" stroke-width="0.3" text-anchor="middle">Ezh2</text>
<text transform="translate(35 509.3) scale(0.94 1)" font-size="12" font-weight="bold" font-style="normal" fill="#111" stroke="#111" stroke-width="0.3" text-anchor="middle">C</text>
<text transform="translate(59.5 509.3) scale(0.87 1)" font-size="12" font-weight="bold" font-style="normal" fill="#111" stroke="#111" stroke-width="0.3" text-anchor="end">10</text>
<text transform="translate(58.7 596) scale(0.87 1)" font-size="12" font-weight="bold" font-style="normal" fill="#111" stroke="#111" stroke-width="0.3" text-anchor="end">1</text>
<text transform="translate(58.7 682.9) scale(0.87 1)" font-size="12" font-weight="bold" font-style="normal" fill="#111" stroke="#111" stroke-width="0.3" text-anchor="end">0.1</text>
<text transform="translate(48.2 575.3) scale(1.0 0.96) rotate(-90)" font-size="14.2" font-weight="bold" font-style="normal" fill="#111" stroke="#111" stroke-width="0.4" text-anchor="middle" word-spacing="-1.5">Fold change</text>
<path d="M270.7 502.3H491.3M270.7 590.6H491.3M270.7 679.5H491.3" stroke="#9c9c9c" stroke-width="1" fill="none"/>
<path d="M273.5 502.3V679.5" stroke="#9c9c9c" stroke-width="1.1" fill="none"/>
<rect x="280.6" y="590.6" width="10.7" height="37.8" fill="#b0b0b0" stroke="#666" stroke-width="0.8"/>
<path d="M286 628.4V618.2M284.4 618.2H287.6" stroke="#333" stroke-width="0.8" fill="none"/>
<rect x="291.3" y="562.7" width="10.6" height="27.9" fill="#404040" stroke="#222" stroke-width="0.8"/>
<path d="M296.6 562.7V547.6M295 547.6H298.2" stroke="#777" stroke-width="0.8" fill="none"/>
<text transform="translate(293.2 537) rotate(-90)" font-size="8.6" font-weight="bold" font-style="italic" fill="#111" stroke="#111" stroke-width="0.15" text-anchor="start">Smad5</text>
<rect x="317" y="590.6" width="10.7" height="22.7" fill="#b0b0b0" stroke="#666" stroke-width="0.8"/>
<path d="M322.4 613.3V601.5M320.8 601.5H324" stroke="#333" stroke-width="0.8" fill="none"/>
<rect x="327.7" y="590.6" width="10.6" height="1.7" fill="#404040" stroke="#222" stroke-width="0.8"/>
<path d="M333 592.3V589M331.4 589H334.6" stroke="#2a2a2a" stroke-width="0.8" fill="none"/>
<text transform="translate(324.1 537) rotate(-90)" font-size="8.6" font-weight="bold" font-style="italic" fill="#111" stroke="#111" stroke-width="0.15" text-anchor="start">Eklf</text>
<rect x="353" y="590.6" width="10.7" height="6.6" fill="#b0b0b0" stroke="#666" stroke-width="0.8"/>
<path d="M358.4 597.2V588M356.8 588H360" stroke="#333" stroke-width="0.8" fill="none"/>
<rect x="363.7" y="555.7" width="10.6" height="34.9" fill="#404040" stroke="#222" stroke-width="0.8"/>
<path d="M369 555.7V547M367.4 547H370.6" stroke="#777" stroke-width="0.8" fill="none"/>
<text transform="translate(362.8 537) rotate(-90)" font-size="8.6" font-weight="bold" font-style="italic" fill="#111" stroke="#111" stroke-width="0.15" text-anchor="start">EpoR</text>
<rect x="389.7" y="573.5" width="10.7" height="17.1" fill="#b0b0b0" stroke="#666" stroke-width="0.8"/>
<path d="M395 573.5V569.2M393.4 569.2H396.6" stroke="#777" stroke-width="0.8" fill="none"/>
<rect x="400.4" y="584.6" width="10.6" height="6" fill="#404040" stroke="#222" stroke-width="0.8"/>
<path d="M405.7 584.6V580.5M404.1 580.5H407.3" stroke="#777" stroke-width="0.8" fill="none"/>
<text transform="translate(401.3 537) rotate(-90)" font-size="8.6" font-weight="bold" font-style="italic" fill="#111" stroke="#111" stroke-width="0.15" text-anchor="start">Gata1</text>
<rect x="425.4" y="590.6" width="10.7" height="25.6" fill="#b0b0b0" stroke="#666" stroke-width="0.8"/>
<path d="M430.8 616.2V608.5M429.1 608.5H432.4" stroke="#333" stroke-width="0.8" fill="none"/>
<rect x="436.1" y="548.8" width="10.6" height="41.8" fill="#404040" stroke="#222" stroke-width="0.8"/>
<path d="M441.4 548.8V545.5M439.8 545.5H443" stroke="#777" stroke-width="0.8" fill="none"/>
<text transform="translate(437.9 537) rotate(-90)" font-size="8.6" font-weight="bold" font-style="italic" fill="#111" stroke="#111" stroke-width="0.15" text-anchor="start">Gata2</text>
<rect x="461.6" y="590.6" width="10.7" height="14" fill="#b0b0b0" stroke="#666" stroke-width="0.8"/>
<path d="M467 604.6V596M465.4 596H468.6" stroke="#333" stroke-width="0.8" fill="none"/>
<rect x="472.3" y="590.6" width="10.6" height="32.9" fill="#404040" stroke="#222" stroke-width="0.8"/>
<path d="M477.6 623.5V617.6M476 617.6H479.2" stroke="#2a2a2a" stroke-width="0.8" fill="none"/>
<text transform="translate(473.1 537) rotate(-90)" font-size="8.6" font-weight="bold" font-style="italic" fill="#111" stroke="#111" stroke-width="0.15" text-anchor="start">Pu.1</text>
<text transform="translate(250 510.7)" font-size="11.8" font-weight="bold" font-style="normal" fill="#111" stroke="#111" stroke-width="0.3" text-anchor="middle">D</text>
<text transform="translate(266.2 504.2) scale(0.97 1)" font-size="7.6" font-weight="bold" font-style="normal" fill="#111" stroke="#111" stroke-width="0.15" text-anchor="end">10</text>
<text transform="translate(265.3 593.8) scale(0.97 1)" font-size="7.6" font-weight="bold" font-style="normal" fill="#111" stroke="#111" stroke-width="0.15" text-anchor="end">1</text>
<text transform="translate(266 681.8) scale(0.97 1)" font-size="7.6" font-weight="bold" font-style="normal" fill="#111" stroke="#111" stroke-width="0.15" text-anchor="end">0.1</text>
<text transform="translate(248.8 585.4) scale(1.0 0.96) rotate(-90)" font-size="9.4" font-weight="bold" font-style="normal" fill="#111" stroke="#111" stroke-width="0.15" text-anchor="middle" word-spacing="-1">Fold change</text>
</g></svg>
</body></html>
